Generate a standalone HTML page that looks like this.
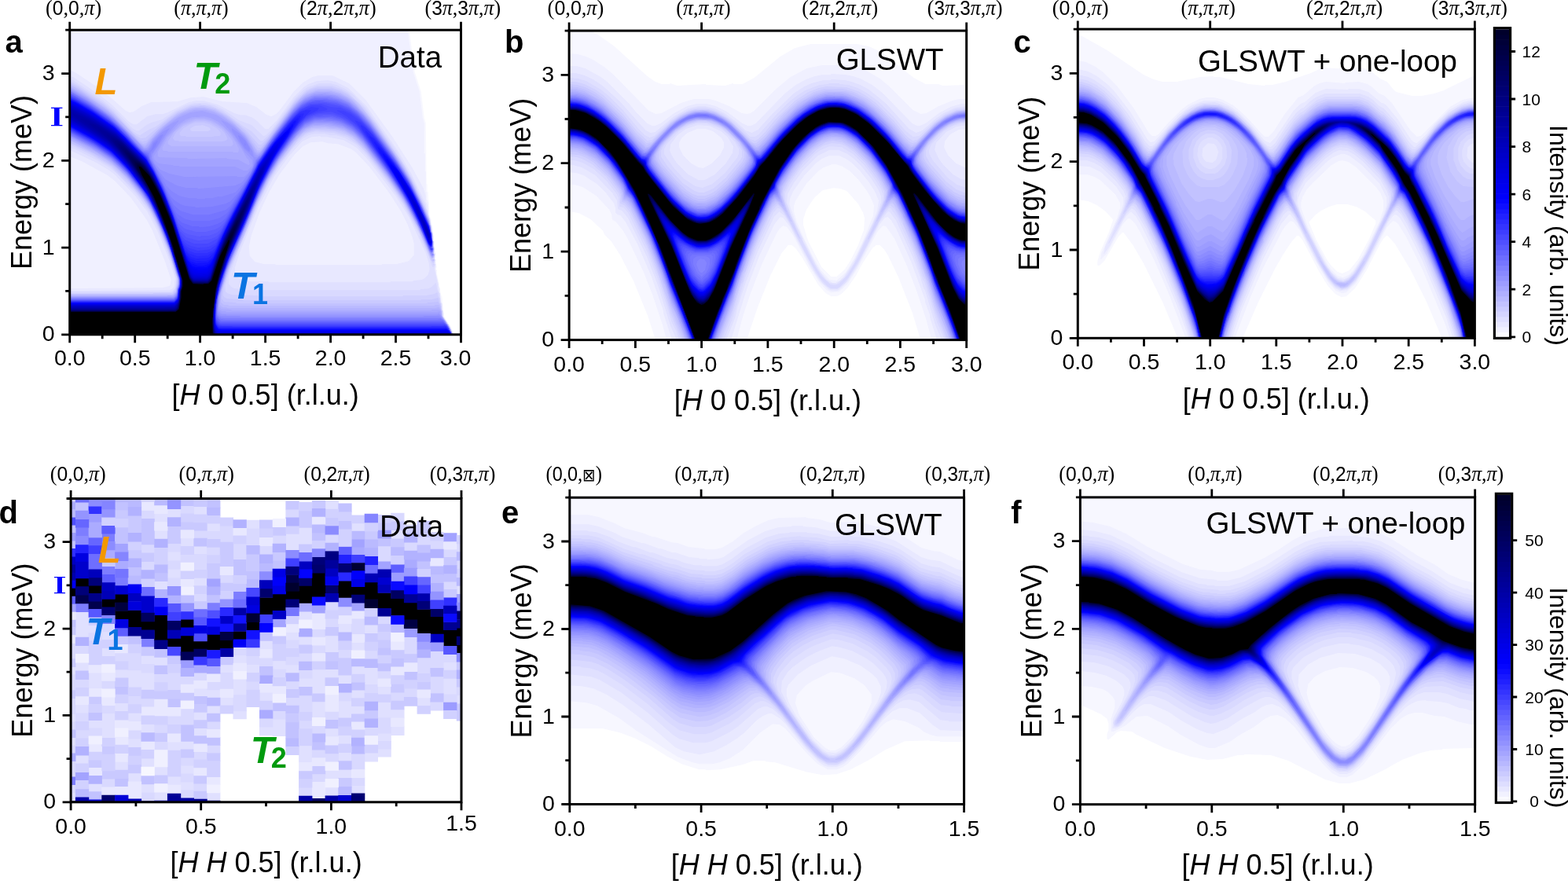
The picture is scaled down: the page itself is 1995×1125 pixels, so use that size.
<!DOCTYPE html>
<html><head><meta charset="utf-8"><title>figure</title><style>html,body{margin:0;padding:0;background:#fff;}svg{display:block;}</style></head><body>
<svg width="1995" height="1125" viewBox="0 0 1995 1125">
<rect width="1995" height="1125" fill="#fff"/>
<g transform="translate(89.2 38.7)" stroke-width="1" stroke-linejoin="round" fill-rule="evenodd">
<path fill="#f7f7ff" stroke="#f7f7ff" d="M0 0v387h488l-5 -12l-3 -2l-5 -9l-2 -24l-3 -7l-1 -11l-4 -18l1 -3l-2 -10l1 -6l-2 -8l-2 -25l-2 -4v-8l-2 -4l-2 -30l-1 -1v-9l-1 -1l-1 -77l-2 -7l-4 -33l-8 -25l-7 -53z"/>
<path fill="#f0f0ff" stroke="#f0f0ff" d="M0 0v387h487l-5 -12l-7 -11v-4l-2 -4v-8l-1 -1l-2 -19l-2 -3l-3 -15l1 -5l-2 -1l1 -1v-5l-1 -1l1 -5l-2 -1l1 -1l-1 -12l-1 -1l1 -8l-1 -1v-6l-2 -4v-9l-4 -15l-1 -15l-2 -5v-8l-1 -1v-25l-1 -1v-22l-1 -1v-38l-2 -7l-4 -33l-8 -25l-7 -53z"/>
<path fill="#e8e8ff" stroke="#e8e8ff" d="M0 51v109l15 6l33 18l9 7l21 22l20 28l7 13l16 39l8 24l-1 7l-2 2l-8 2l-118 1v58h487l-5 -12l-8 -11l-1 -16l-2 -3l-3 -23l-4 -18v-5l1 -1l-2 -1l1 -1l-1 -5l1 -6l-2 -8l-2 -26l-2 -4v-6l-2 -4l-2 -15l-2 -4v-7l-3 -10l-14 -26l-25 -39l-34 -47l-21 -21l-21 -10h-18l-8 2l-12 7l-11 11l-18 24l-5 5l-6 3l-6 -2l-13 -10l-12 -5l-31 -2l-24 -6l-16 1l-17 5l-34 1l-12 5l-10 7l-5 1l-5 -2l-17 -15l-22 -17l-24 -16zM227 275l3 -14l10 -28l12 -26l14 -24l19 -25l11 -11l10 -5l15 -1l7 2l13 1l16 6l6 4l18 19l25 33l16 25l8 16l6 16l2 8v15l-7 8l-16 4h-18l-1 1h-134l-1 -1h-14l-12 -3l-7 -8z"/>
<path fill="#e0e0ff" stroke="#e0e0ff" d="M0 59v93l34 16l15 9l8 6l26 27l16 21l13 25l15 37l7 22l-1 11l-4 4l-3 1l-126 1v55h487l-4 -10l-4 -4l-5 -9v-7l-2 -3l-2 -19l-2 -2l-1 -11l-4 -18l1 -4l-1 -14l1 -1l-2 -1l1 -6l-2 -10v-9l-3 -11v-5l-3 -9v-4l-2 -3l-1 -6l-19 -40l-16 -27l-40 -57l-23 -23l-16 -8l-10 -2l-14 1l-11 4l-6 4l-12 12l-21 29l-12 12h-4l-11 -11l-6 -4l-9 -3h-6l-7 -2l-21 -11l-18 -5h-9l-10 2l-27 13l-6 2h-9l-11 3l-13 10h-5l-6 -4l-21 -21l-15 -12l-34 -23zM209 302l6 -19l24 -58l20 -39l18 -25l18 -20l12 -6l11 -1l1 1h8l21 4l17 10l15 16l35 46l17 27l21 45l4 13l1 8l-2 7l-5 5l-4 2l-10 1l-1 1h-28l-1 1h-154l-1 -1h-23l-10 -2l-6 -3l-4 -5z"/>
<path fill="#d9d9ff" stroke="#d9d9ff" d="M0 63v86l5 1l32 16l13 8l10 8l26 28l16 22l11 22l16 40l7 24l-2 10l-4 4l-3 1h-127v54h487l-13 -23l-2 -8v-8l-2 -4l-1 -10l-2 -3l-2 -9l-5 5l-4 2l-10 1l-1 1h-224l-1 -1l-11 -1l-4 -2l-4 -5l1 -10l12 -32l27 -63l12 -24l13 -21l17 -22l13 -13l7 -4l7 -2h14l8 2h7l10 3l14 8l13 13l32 41l17 25l20 37v2l11 23l5 15l1 1l2 -3l-2 -1l2 -5l-2 -1l1 -2l-1 -5l1 -6l-2 -10v-9l-2 -5l-2 -14l-6 -18l-16 -34l-20 -34l-39 -55l-16 -17l-10 -7l-11 -5l-8 -2h-14l-15 5l-6 4l-10 10l-29 39l-8 8l-3 1l-15 -14l-16 -6l-19 -13l-12 -6l-11 -3h-15l-11 3l-12 6l-18 12l-14 4l-6 3l-9 7h-4l-5 -3l-20 -21l-18 -15l-37 -25z"/>
<path fill="#d1d1ff" stroke="#d1d1ff" d="M462 298h1zM0 65v81h2l25 12l25 15l31 31l18 24l9 17l14 33l12 36l-1 14l-5 6l-130 1v52h487l-9 -17l-5 -6l-1 -13l-2 -4v-6l-2 -2l-1 -5l-4 2l-10 2h-29l-1 1h-183l-1 -1l-33 -1l-6 -2l-3 -3v-8l6 -20l36 -85l15 -30l12 -19l22 -28l10 -9l6 -3l9 -2l23 2l17 5l15 11l10 11l30 39l17 25l22 41l12 30l3 4l1 -2l-1 -15l1 -1l-2 -1l1 -1v-7l-1 -1v-8l-2 -4v-7l-6 -20l-13 -27v-2l-15 -28l-35 -52l-16 -21l-20 -19l-9 -5l-12 -4h-19l-13 5l-13 11l-33 44l-10 10h-3l-11 -12l-10 -6l-27 -20l-16 -7l-11 -1l-1 -1l-13 2l-18 8l-26 19l-9 4l-11 7l-5 -2l-5 -4l-25 -26l-11 -9l-32 -22z"/>
<path fill="#c9c9ff" stroke="#c9c9ff" d="M0 67v77h2l23 11l28 17l23 22l18 22l8 12l11 22l15 37l9 29v7l-2 4v3l-5 5h-24l-1 1h-105v51h486l-5 -12l-8 -11v-7l-2 -2v-7l-2 -2l-1 -5l-8 2h-13l-1 1h-226l-1 -1l-19 -1l-4 -2l-2 -3l1 -11l7 -22l26 -59l8 -21l16 -33l12 -20l26 -33l10 -8l13 -4l24 2l16 5l8 5l16 16l33 43l16 24l16 29l19 44l2 -1l-2 -2l2 -4l-2 -10l1 -8l-1 -1v-6l-2 -4v-8l-2 -4v-4l-12 -30l-13 -26l-11 -19l-33 -48l-21 -26l-13 -11l-9 -5l-13 -4h-17l-8 2l-6 3l-14 12l-36 48l-8 8h-3l-16 -18l-22 -18l-17 -10l-14 -4l-16 1l-17 7l-12 8l-30 25l-6 1l-8 -5l-29 -30l-10 -8l-32 -22zM152 125l6 -4l11 -1l8 3l2 2v2l-4 2h-19l-3 -1z"/>
<path fill="#c2c2ff" stroke="#c2c2ff" d="M461 292l1 1l1 -1zM0 69v73l30 14l25 16l16 15l21 25l13 20l9 19l12 29l11 35v10l-2 4v3l-4 4h-131v51h486l-5 -12l-4 -4l-4 -7l-2 -13l-3 -5l-13 1l-1 1h-242l-1 -1l-15 -1l-4 -5v-5l3 -13l9 -26l16 -35l18 -44l16 -32l14 -22l17 -22l11 -11l13 -6h20l16 3l14 7l16 15l33 43l17 25l20 37l15 35l2 -1l1 -3l-2 -2l1 -1v-5l-1 -1v-7l1 -1l-2 -1v-9l-3 -16l-5 -14l-19 -40l-16 -27l-36 -51l-9 -11l-11 -11l-8 -6l-10 -5l-10 -3h-20l-11 4l-6 4l-12 12l-37 50l-5 5h-3l-12 -16l-12 -12l-15 -12l-16 -9l-17 -4l-14 2l-16 7l-20 15l-20 20l-5 1l-5 -3l-30 -31l-12 -10l-32 -22zM139 130l5 -6l9 -5l6 -2h12l7 2l10 6l4 5v3l-2 2h-7l-1 1h-34l-1 -1h-6l-2 -2z"/>
<path fill="#babaff" stroke="#babaff" d="M462 292h1M0 71v70h3l43 23l14 11l13 13l16 19l15 22l11 23l11 27l12 39l-3 15l-5 4h-130v50h486l-5 -12l-3 -2l-6 -11v-5l-3 -7h-5l-1 1h-261l-1 -1h-5l-5 -4l1 -14l8 -26l26 -59l8 -21l16 -34l15 -25l19 -25l13 -13l10 -5l19 -1l1 1l12 1l10 3l12 7l16 16l29 38l19 28l20 37l15 35l2 -1l1 -3l-2 -1l1 -6l-2 -10v-9l-4 -19l-22 -48l-12 -21l-39 -56l-8 -10l-17 -17l-14 -8l-15 -4h-13l-15 5l-7 5l-8 8l-40 54l-5 5h-3l-12 -18l-20 -19l-13 -9l-10 -5l-11 -3h-14l-10 3l-12 6l-25 20l-14 16l-4 1l-7 -5l-19 -21l-20 -18l-30 -21l-13 -8zM130 137l4 -7l10 -9l15 -6h13l7 2l13 8l5 5l4 8l-3 3l-5 1h-54l-1 -1h-5z"/>
<path fill="#b2b2ff" stroke="#b2b2ff" d="M0 72v67l33 16l20 13l21 20l24 30l13 24l15 36l12 38v7l-3 11l-3 3l-3 1h-129v49h486l-4 -10l-2 -1l-6 -11l-2 -1v-6l-3 -5l-4 1h-265l-1 -1h-5l-4 -4l1 -15l10 -32l36 -84l13 -27l15 -25l23 -30l13 -11l9 -3h19l1 1l11 1l9 3l14 9l8 8l34 44l19 28l19 35v2l17 36l1 -2l-1 -3l1 -6l-2 -10v-9l-4 -18l-23 -50l-25 -40l-29 -40l-19 -20l-7 -5l-10 -5l-11 -3h-19l-13 5l-7 5l-11 12l-37 51l-4 4h-3l-16 -23l-14 -13l-14 -10l-12 -6l-12 -3h-9l-9 2l-10 4l-10 6l-15 12l-21 23h-2l-5 -3l-36 -37l-10 -8l-28 -19zM124 141l8 -12l12 -10l15 -6h12l8 2l8 4l9 7l11 14l1 5l-3 3h-76l-5 -3z"/>
<path fill="#ababff" stroke="#ababff" d="M0 73v65l4 1l31 16l18 12l21 20l15 18l12 17l9 17l17 41l11 35v10l-2 8l-4 5h-8l-1 1h-123v48h486l-3 -8l-2 -1l-4 -8l-4 -4l-2 -9l-2 -1h-9l-1 1h-253l-1 -1l-13 -1l-3 -4l1 -15l9 -30l38 -89l13 -27l15 -25l23 -30l11 -10l10 -4l15 -1l1 1l13 1l10 3l15 9l10 10l33 43l17 25l9 15l17 34l10 25l2 2l1 -1l-2 -28l-4 -17l-11 -26l-13 -26l-17 -28l-33 -46l-20 -22l-11 -8l-9 -4l-12 -3h-16l-10 3l-7 4l-9 8l-9 11l-34 47l-5 5h-2l-3 -3l-11 -18l-14 -14l-15 -11l-12 -6l-10 -3h-15l-15 5l-16 10l-15 13l-8 9l-2 4l-7 6l-4 -2l-43 -43l-27 -19zM117 149l7 -13l17 -17l11 -6l9 -2h9l11 3l13 8l9 9l8 11l4 8v4l-2 2h-5l-1 -1h-82l-1 -1h-5l-2 -2z"/>
<path fill="#a3a3ff" stroke="#a3a3ff" d="M0 74v63h2l24 12l27 17l20 19l19 23l14 22l11 24l11 28l11 37l-3 15l-5 5h-131v48h486l-9 -17l-3 -2l-4 -10l-4 1h-267l-1 -1h-5l-4 -3l-1 -3l1 -13l10 -34l30 -68l5 -14l15 -32l16 -27l22 -29l12 -11l9 -4l19 -1l22 5l13 8l12 12l29 38l23 34l22 42l12 29l2 -1l-1 -2l1 -6l-2 -10v-9l-2 -5v-5l-11 -28l-16 -32l-20 -32l-29 -40l-10 -12l-18 -16l-10 -5l-17 -4l-17 1l-11 5l-11 9l-31 40l-14 21l-5 3l-4 -4l-3 -7l-9 -13l-15 -14l-21 -13l-18 -5l-15 2l-16 7l-18 13l-13 13l-5 8l-4 4h-3l-41 -41l-32 -23zM111 155l11 -19l16 -17l9 -6l8 -3l16 -1l8 2l10 5l16 15l14 20l6 11l3 3l1 5l-2 2l-13 -7l-14 -1l-1 -1l-49 1l-1 -1l-36 -1l-2 -2z"/>
<path fill="#9c9cff" stroke="#9c9cff" d="M0 75v61h2l22 11l29 18l18 17l20 24l11 16l11 22l16 40l10 34v5l-2 4l-1 8l-3 4l-4 1h-129v47h486l-1 -3l-3 -3l-2 -6l-11 -15l-1 1h-271l-5 -1l-4 -4l1 -19l12 -38l38 -88l15 -30l14 -22l20 -26l8 -8l12 -6l4 -1h17l18 4l14 8l13 13l34 45l16 24l22 41l11 27l4 7l1 -2l-2 -1l2 -6l-2 -1l1 -1v-7l-1 -1v-9l-2 -4v-6l-2 -3v-3l-21 -46l-12 -21l-14 -21l-27 -37l-18 -20l-12 -9l-15 -6l-11 -1l-1 -1l-14 1l-12 5l-8 6l-9 10l-42 57l-5 -1l-11 -20l-14 -14l-10 -7l-7 -3l17 20l13 20l9 10v7l-6 7h-5l-11 -5h-70l-1 -1h-7l-1 -1l-18 -2l-6 -5l-1 -5l15 -25l17 -20l-7 3l-9 6l-14 13l-9 13l-5 1l-41 -41l-32 -23z"/>
<path fill="#9494ff" stroke="#9494ff" d="M0 76v59h2l36 19l16 11l15 14l21 25l14 21l11 23l11 27l13 42v6l-2 5l-1 8l-4 4h-132v47h486l-1 -3l-2 -1l-3 -8l-9 -12l-2 -1l-3 1h-267l-1 -1h-6l-4 -4l-1 -3l1 -14l10 -35l42 -98l13 -26l9 -15l18 -25l16 -18l12 -6l4 -1h18l17 4l14 8l13 13l28 37l23 34l17 31v2l7 13l12 27l1 -1l-2 -1l2 -6l-2 -1l1 -8l-1 -1v-9l-2 -4v-5l-2 -3v-3l-6 -15l-17 -35l-21 -34l-30 -41l-10 -12l-17 -15l-15 -7l-8 -2h-10l-1 -1l-14 2l-8 4l-7 5l-10 11l-26 34l-13 20l-5 4h-3l-2 -2l-2 -7l-9 -15l-6 -6l-10 -7l1 4l15 22l12 11l-1 11l-7 10l-5 4h-8l-1 -1l-66 1l-19 -4l-12 -5l-8 -9l-3 -7l1 -5l21 -32l-9 5l-11 11l-4 7l-4 4h-4l-42 -42l-34 -24z"/>
<path fill="#8c8cff" stroke="#8c8cff" d="M460 285h1zM214 134l3 7l6 9l5 4v-4l-5 -9l-5 -5zM0 77v57h2l27 14l22 14l24 23l14 17l12 17l12 24l15 37l11 36v8l-3 12l-3 4l-3 1h-130v46h486l-2 -2l-4 -10l-3 -2l-1 -3l-6 -6h-20l-1 1h-232l-1 -1h-24l-4 -3l-1 -3l1 -19l9 -31l40 -94l14 -29l16 -26l22 -29l10 -9l12 -5h21l13 3l16 9l13 13l30 40l19 28l10 17l14 28l11 27l2 2l1 -1l-1 -22l-2 -4v-5l-2 -4v-3l-9 -21l-16 -32l-21 -33l-24 -33l-13 -16l-18 -16l-10 -5l-15 -4h-19l-12 5l-13 11l-25 32l-18 27l-7 6l-3 10l-14 19l-9 4l-47 4l-1 -1h-14l-12 -3l-15 -8l-11 -14l-6 -10l-1 -8l10 -15l5 -10l-3 1l-9 9l-3 6l-4 4h-5l-14 -13l-7 -9l-17 -17l-30 -22z"/>
<path fill="#8585ff" stroke="#8585ff" d="M461 285h1M222 144l1 2zM0 78v55l34 17l18 12l21 20l18 22l12 18l9 18l14 34l13 41v10l-2 5v4l-2 5l-3 2h-132v46h486l-2 -2l-3 -8l-4 -4l-1 -3l-5 -4h-276l-6 -2l-2 -3l-1 -9l1 -1l1 -13l11 -36l49 -112l17 -29l25 -33l9 -8l12 -5l11 -1l1 1h10l12 3l12 6l16 15l33 44l18 27l20 37l15 35l2 -1l-1 -20l-2 -4v-6l-2 -3l-1 -6l-11 -23v-2l-15 -29l-18 -28l-28 -38l-10 -12l-18 -16l-10 -5l-16 -4h-18l-12 5l-6 4l-8 8l-25 32l-15 23l-8 8l-6 15l-9 14l-12 13l-17 5h-5l-7 2h-9l-1 1h-9l-1 -1h-10l-12 -3l-10 -6l-7 -7l-20 -35v-8l6 -7l3 -7l-4 3l-3 7l-3 3h-7l-10 -9l-9 -11l-20 -20l-14 -11l-21 -14z"/>
<path fill="#7d7dff" stroke="#7d7dff" d="M0 79v53l30 15l23 15l17 16l23 28l12 19l12 26l11 28l12 41l-4 18l-5 4h-131v45h485l-4 -10l-2 -1l-2 -4l-5 -5h-280l-5 -4l-1 -4l1 -17l11 -38l42 -98l20 -38l25 -35l14 -14l12 -5l14 -1l1 1l13 1l9 3l13 8l12 12l37 50l15 23l23 44l10 25l2 2l1 -1l-1 -19l-2 -4v-6l-4 -12l-26 -53l-14 -22l-34 -46l-15 -16l-12 -9l-11 -5l-14 -3h-17l-14 6l-13 12l-25 32l-15 23l-6 6l-8 18l-14 22l-12 13l-6 3l-18 4l-20 1l-1 -1l-12 -1l-6 -2l-8 -5l-5 -5l-8 -13l-9 -19l-9 -15l-2 -9l-7 -2l-15 -15l-8 -10l-22 -20l-26 -18l-20 -12z"/>
<path fill="#7575ff" stroke="#7575ff" d="M0 80v51l33 17l22 15l19 19l20 25l8 12l16 34l8 20l14 46l-3 17l-2 4l-3 2h-132v45h485l-3 -8l-8 -10l-3 -1l-4 1h-269l-9 -2l-3 -5l1 -21l10 -35l40 -94l14 -29l18 -29l17 -23l13 -13l12 -5l16 -1l16 3l14 7l15 14l30 40l19 28l14 24l25 54l1 -2l-1 -3l1 -8l-3 -11v-6l-14 -34l-14 -27l-15 -24l-35 -47l-15 -16l-12 -9l-15 -6l-10 -1l-1 -1h-15l-7 2l-11 6l-11 11l-30 39l-9 15l-6 6l-4 11l-8 14l-21 32l-7 6l-21 6h-21l-16 -5l-9 -8l-30 -58l-2 -7l-7 -3l-19 -21l-22 -21l-27 -19l-20 -12z"/>
<path fill="#6e6eff" stroke="#6e6eff" d="M0 80v51h2l27 14l23 15l20 19l21 26l12 19l12 26l11 28l12 40l-3 19l-4 5l-3 1h-130v44h485l-3 -8l-2 -1l-1 -3l-5 -5h-280l-4 -1l-4 -5l1 -24l12 -40l25 -56l15 -37l19 -37l25 -36l15 -16l13 -6l19 -1l16 4l14 8l12 12l14 18l36 52l10 17l16 32l10 25l2 2l1 -1l-4 -31l-10 -24l-19 -37l-17 -26l-30 -40l-16 -17l-12 -9l-12 -5l-15 -3l-19 1l-13 7l-12 12l-25 32l-14 22l-4 4l-18 35l-21 32l-9 6l-14 4h-21l-11 -3l-10 -7l-11 -21l-5 -13l-19 -36l-1 -4l-8 -5l-24 -27l-22 -19l-27 -18z"/>
<path fill="#6666ff" stroke="#6666ff" d="M0 81v49h2l30 16l22 15l21 21l19 24l8 12l16 34l8 20l14 45v7l-2 4l-2 12l-4 3h-132v44h485l-6 -12l-5 -4h-282l-6 -6l-1 -12l1 -1l1 -13l11 -37l43 -100l21 -39l22 -31l14 -15l13 -6l21 -1l12 3l16 9l12 12l31 42l23 35l18 34v2l16 34l1 -3l-1 -1l-1 -18l-2 -10l-13 -30l-14 -27l-18 -28l-30 -40l-17 -18l-9 -7l-16 -7l-16 -3h-12l-10 3l-7 4l-9 8l-30 38l-12 19l-6 7v2l-14 27l-25 41l-6 6l-6 3l-10 3l-12 1l-1 -1h-8l-14 -5l-6 -6l-8 -16l-11 -27l-12 -22l-6 -14l-3 -3l-3 -1l-14 -14l-7 -9l-24 -22l-20 -14z"/>
<path fill="#5e5eff" stroke="#5e5eff" d="M0 82v47l33 17l23 16l16 16l21 26l12 19l14 31l10 26l11 37v7l-2 5l-1 9l-4 5l-5 1h-128v43h485l-2 -5l-2 -1l-2 -6l-4 -3h-283l-3 -1l-3 -4l-1 -4l1 -19l9 -34l10 -26l15 -32l24 -57l17 -31l24 -34l13 -14l12 -6l24 -1l13 4l13 8l12 12l35 48l25 40l15 30l12 29l2 -1l-2 -2l1 -1v-7l-1 -1v-9l-3 -12l-8 -19l-16 -32l-19 -30l-31 -41l-16 -17l-12 -9l-15 -6l-16 -2l-1 -1h-9l-11 3l-11 7l-7 7l-20 25l-26 37v2l-14 27l-27 46l-7 7l-6 3l-12 3h-11l-15 -4l-9 -8l-20 -48l-19 -37l-7 -5l-15 -17l-25 -24l-24 -17l-25 -15z"/>
<path fill="#5757ff" stroke="#5757ff" d="M0 83v46h2l27 14l24 16l15 14l26 32l9 14l17 37l7 18l13 42v9l-2 5l-1 9l-5 5h-132v43h485l-2 -5l-2 -1l-1 -4l-5 -4h-284l-5 -5l-1 -3v-15l6 -28l13 -36l21 -46l15 -37l17 -33l23 -34l10 -13l8 -8l12 -6l11 -1l1 -1h9l14 4l14 8l13 13l34 47l20 31l17 32v2l17 36l1 -2l-2 -1l1 -1v-7l-1 -1v-9l-2 -5v-4l-12 -28l-15 -29l-16 -25l-31 -41l-17 -18l-9 -7l-12 -6l-19 -4h-7l-1 -1l-10 1l-6 2l-10 6l-9 9l-13 16l-31 43l-2 6l-13 25l-30 52l-7 7l-11 4h-9l-2 1l-15 -3l-6 -3l-6 -7l-21 -52l-19 -37l-19 -18l-19 -21l-11 -9l-23 -16l-20 -12z"/>
<path fill="#4f4fff" stroke="#4f4fff" d="M0 83v45h2l28 15l25 17l18 18l22 28l6 9l20 43l14 40v3l5 15v9l-2 5v5l-2 6l-3 3h-133v43h485l-1 -3l-3 -3l-1 -4l-4 -3h-285l-5 -4l-1 -4v-17l1 -1l1 -11l6 -22l12 -32l15 -32l23 -55l16 -30l24 -35l15 -17l11 -6l9 -2h17l17 7l15 12l22 29l35 52l22 42l13 31l2 -1l-2 -1l1 -2l-1 -16l-4 -14l-23 -48l-9 -15l-39 -53l-17 -18l-12 -9l-12 -5l-20 -4l-18 1l-13 7l-11 11l-20 25l-22 32l-2 6l-18 34l-28 49l-5 5l-7 3l-16 2l-15 -4l-9 -9l-21 -54l-20 -39l-15 -14l-8 -10l-18 -18l-32 -23z"/>
<path fill="#4747ff" stroke="#4747ff" d="M459 278l1 1zM0 84v43l31 16l21 14l16 15l26 32l10 16l13 28l11 28l12 39v11l-2 5l-1 9l-3 4l-4 1h-130v42h485l-1 -3l-2 -1l-1 -4l-4 -4h-285l-3 -1l-3 -3l-1 -3v-20l6 -27l13 -36l18 -39l18 -44l17 -33l24 -36l10 -13l8 -8l7 -4l9 -3l17 -2l14 5l14 9l8 8l16 21l36 53l16 28l13 27l9 22h1l1 -7l-1 -1v-9l-2 -4v-4l-11 -26l-16 -31l-14 -22l-32 -42l-15 -16l-12 -9l-13 -6l-12 -1l-13 -4l-13 1l-14 7l-12 12l-13 16l-27 38l-20 40l-32 57l-13 7h-17l-12 -5l-5 -6l-26 -66l-18 -34l-43 -43l-30 -21z"/>
<path fill="#4040ff" stroke="#4040ff" d="M459 278l1 1zM340 102l12 7l14 12l38 53l28 45l14 28l10 25l3 4l1 -2l-1 -15l-6 -18l-21 -43l-15 -24l-28 -37l-17 -19l-15 -11l-9 -4zM0 85v42h2l16 8l31 19l23 22l23 29l7 11l16 34l16 44l7 26l-4 20l-5 5h-132v42h485l-3 -4l-1 -4l-4 -3h-285l-3 -1l-3 -3l-2 -10l1 -15l5 -23l4 -10l1 -6l17 -42l20 -44l2 -7l17 -36l11 -19l29 -41l9 -9l5 -3l11 -4l10 -2l1 -1l-9 -4h-10l-7 2l-9 5l-13 13l-23 29l-15 22l-10 21l-2 2l-7 15l-35 64l-3 3l-8 4l-13 1l-9 -2l-6 -3l-5 -5l-6 -13l-7 -22l-14 -34l-19 -36l-45 -45l-29 -20l-17 -10z"/>
<path fill="#3838ff" stroke="#3838ff" d="M459 278h1zM363 115l38 54l25 39l14 26v2l19 40l1 -3l-1 -14l-2 -3l-1 -7l-9 -21l-17 -33l-17 -26l-28 -36l-15 -15zM0 85v41h2l26 14l23 15l17 16l28 35l13 23l14 33l8 22v3l4 10l6 22l-4 22l-4 4h-133v42h485l-6 -10l-3 -1l-1 1h-281l-5 -1l-3 -3l-2 -8v-10l1 -1l1 -14l5 -20l13 -36l18 -39l18 -44l21 -40l26 -38l14 -15l14 -7l1 -2l-9 -1l-15 6l-15 15l-20 25l-17 25l-6 14l-2 2l-46 88l-8 6l-15 2l-13 -4l-6 -6l-6 -13l-9 -28l-12 -29l-11 -23l-10 -17l-17 -16l-7 -9l-11 -11l-11 -9l-28 -19z"/>
<path fill="#3030ff" stroke="#3030ff" d="M460 278h1M370 121l2 5l35 51l17 27l21 40l11 27l3 4l1 -2l-1 -13l-2 -4l-1 -7l-12 -25v-2l-12 -23l-13 -21l-35 -45l-10 -10zM0 86v39l29 15l25 17l18 18l20 25l8 12l11 21l14 34l8 23l8 29l-4 22l-3 4l-3 1h-131v41h485l-7 -10h-18l-1 1h-252l-1 -1h-17l-3 -3l-2 -7v-14l6 -30l13 -37l17 -37l18 -44l22 -43l30 -44l16 -16h-6l-6 2l-7 5l-31 37l-16 24l-55 107l-4 4l-7 3h-15l-8 -3l-6 -6l-4 -8l-8 -25l-14 -36l-22 -43l-45 -45l-26 -18z"/>
<path fill="#2929ff" stroke="#2929ff" d="M376 128l3 7l33 49l18 30l17 34l10 25l2 2l1 -3l-1 -12l-2 -3l-2 -10l-21 -44l-25 -38l-20 -25zM0 87v38h2l21 11l28 18l24 24l24 32l13 25l14 34l15 49v6l-2 4l-2 14l-5 4h-132v41h485l-5 -8l-2 -1h-288l-2 -1l-3 -4l-1 -5l1 -24l7 -28l10 -28l17 -37l21 -51l14 -28l14 -23l27 -38l2 -5l-6 1l-10 9l-20 24l-22 32l-6 14l-22 40l-22 44v2l-6 10l-8 5l-13 1l-11 -4l-5 -5l-7 -16l-8 -26l-11 -28l-14 -30l-10 -17l-41 -41l-30 -21l-17 -10z"/>
<path fill="#2121ff" stroke="#2121ff" d="M381 135l9 16l16 23l21 34l16 31l15 35h1l1 -5l-4 -19l-11 -23v-2l-13 -25l-22 -33l-24 -29zM0 87v37h2l37 21l15 11l23 24l23 31l9 17l14 33l8 22v3l4 10l6 22v6l-2 5l-1 10l-2 5l-3 2h-133v41h484l-2 -5l-3 -3h-288l-3 -1l-2 -2l-2 -6l1 -26l5 -22l11 -32l20 -44l17 -42l14 -29l11 -19l28 -41l2 -6h-2l-6 4l-12 13l-19 24l-14 21l-15 31l-21 38l-20 43l-8 7l-15 1l-7 -2l-8 -8l-25 -69l-6 -14l-18 -34l-10 -9l-10 -12l-20 -20l-28 -20z"/>
<path fill="#1a1aff" stroke="#1a1aff" d="M387 142l7 14l17 25l19 32l16 32l10 25l3 4l1 -5l-4 -19l-22 -46l-23 -35l-13 -16zM0 88v35l35 19l16 11l9 8l19 21l23 32l9 18l14 34l16 51v8l-2 4v6l-2 8l-3 3l-4 1h-130v40h484l-1 -3l-5 -5l-2 1h-283l-4 -1l-4 -4l-1 -4v-21l4 -21l11 -34l41 -96l19 -37l30 -46l1 -4l-7 4l-17 19l-11 14l-14 21l-22 44l-11 19l-26 55l-4 4l-5 2h-12l-8 -3l-5 -5l-6 -13l-10 -32l-12 -31l-14 -30l-11 -18l-40 -40l-27 -19l-24 -14z"/>
<path fill="#1212ff" stroke="#1212ff" d="M392 149l3 7l14 21l23 39l16 33l9 23l2 2l1 -5l-2 -1l1 -5l-3 -12l-19 -41l-19 -31l-16 -20zM0 89v34h2l24 13l28 19l22 23l25 34l11 22l12 29l10 29v3l7 22v8l-2 5l-1 11l-6 6h-132v40h484l-1 -3l-4 -4h-290l-3 -3l-2 -5v-23l5 -24l9 -28l45 -105l18 -34l15 -22l11 -20h-2l-15 15l-16 20l-14 21l-3 8l-2 2l-40 78l-13 30l-7 6l-14 1l-8 -3l-7 -10l-16 -48l-15 -37l-18 -34l-40 -41l-30 -21l-17 -10z"/>
<path fill="#0a0aff" stroke="#0a0aff" d="M398 157l4 9l27 44l16 32l13 31h1l-1 -5l1 -3l-3 -14l-22 -46l-15 -24l-12 -15zM0 89v33l27 14l24 16l22 22l27 36l9 17l14 33l18 56v9l-2 5l-1 11l-2 4l-3 2h-133v40h484l-1 -3l-4 -3h-289l-2 -1l-4 -7v-24l4 -21l11 -34l27 -61l14 -35l16 -32l20 -31l7 -13v-2l-20 20l-22 31l-10 21l-2 2l-11 23l-16 29l-19 44l-5 7l-8 3h-7l-9 -3l-4 -4l-4 -8l-18 -54l-8 -20l-15 -32l-9 -15l-41 -41l-24 -17l-22 -13z"/>
<path fill="#0303ff" stroke="#0303ff" d="M403 164l4 9l25 42l15 31l9 23l3 4l-1 -14l-3 -10l-19 -40l-19 -30zM0 90v31l36 20l18 13l16 16l29 38l12 23l14 34l16 51v10l-2 5l-1 11l-4 5l-5 1h-129v39h484l-3 -5l-3 -1l-3 1h-281l-7 -2l-3 -6v-7l-1 -1l1 -18l5 -24l8 -25l46 -108l19 -36l16 -25l2 -6l-19 19l-21 30l-3 8l-2 2l-38 74l-12 30l-6 11l-6 4h-13l-5 -2l-7 -9l-18 -54l-11 -28l-11 -24l-11 -19l-18 -18l-9 -11l-13 -12l-27 -19l-24 -14z"/>
<path fill="#0000fb" stroke="#0000fb" d="M408 171l2 6l18 30l16 32l14 33h1l-1 -13l-3 -10l-15 -32l-20 -33l-7 -9zM0 90v31h2l20 11l29 19l21 21l29 39l11 22l12 29l17 54v10l-2 5l-1 11l-6 6h-132v39h484l-4 -5h-291l-4 -4l-1 -3v-6l-1 -1l1 -21l6 -27l9 -27l30 -68l11 -28l17 -34l20 -34l-3 1l-14 15l-19 27l-46 90l-14 35l-7 7l-10 1l-8 -2l-5 -5l-3 -6l-25 -73l-9 -21l-18 -33l-42 -42l-28 -19z"/>
<path fill="#0000f6" stroke="#0000f6" d="M411 175l3 8l11 18l16 31l15 36l3 4l-1 -13l-9 -23l-20 -38l-11 -16zM0 91v29l33 18l22 16l24 26l21 29l9 17l17 41l15 48v11l-2 6v6l-3 8l-3 2h-133v39h484l-4 -4h-289l-3 -1l-3 -3l-1 -3l-1 -20l1 -1v-8l3 -16l9 -30l47 -111l12 -24l14 -23l4 -10l-15 15l-16 23l-43 83l-19 46l-6 6l-11 1l-7 -2l-4 -4l-4 -8l-26 -76l-16 -35l-12 -19l-37 -37l-27 -19z"/>
<path fill="#0000f1" stroke="#0000f1" d="M414 180l30 58l13 32l2 1l-1 -12l-12 -29l-20 -36l-9 -12zM0 92v28h2l22 12l27 18l20 20l28 37l11 21l15 36l10 30l7 26l-4 23l-4 5h-5l-1 1h-128v38h484l-4 -4h-291l-2 -1l-3 -5v-5l-1 -1l1 -25l5 -23l9 -28l26 -59l16 -40l12 -25l14 -24l4 -10l-13 13l-16 23l-45 88l-17 42l-5 5l-10 1l-8 -2l-3 -3l-5 -10l-15 -44l-1 -6l-2 -3l-9 -26l-17 -36l-8 -13l-42 -42l-30 -20l-14 -8z"/>
<path fill="#0000ec" stroke="#0000ec" d="M418 185v2l23 44v2l12 25l2 7l3 6h1l-1 -12l-8 -20l-17 -33l-9 -14zM0 92v27l4 1l26 15l25 18l19 20l27 37l11 22l16 40l14 48l-4 23l-6 6h-132v38h484l-3 -3h-291l-5 -4l-2 -7v-19l7 -35l13 -37l20 -44l16 -40l28 -56l-11 10l-14 20l-42 81v2l-9 18l-11 30l-7 7h-13l-3 -1l-6 -7l-7 -21l-2 -3l-13 -42l-9 -23l-15 -32l-10 -16l-39 -39l-23 -16z"/>
<path fill="#0000e6" stroke="#0000e6" d="M421 190l1 4l22 43l14 34l1 -1l-1 -10l-11 -27l-15 -28zM0 93v25l26 14l25 17l24 25l25 34l13 26l11 27l10 29l8 29l-4 25l-5 5h-133v38h483l-2 -3h-31l-1 1h-232l-1 -1h-28l-3 -3l-2 -7v-21l1 -1l2 -18l6 -22l10 -28l25 -56l13 -33l23 -45l1 -5l-9 9l-14 20l-44 86l-18 46l-5 5h-5l-1 1l-10 -1l-4 -3l-5 -10l-19 -59l-14 -35l-9 -19l-11 -18l-42 -42l-32 -21z"/>
<path fill="#0000e1" stroke="#0000e1" d="M425 196l5 13l16 32l11 28l2 1l-2 -2l1 -1v-7l-8 -20l-12 -24zM0 94v24l8 3l19 11l21 14l8 7l17 18l24 32l13 24l13 31l11 32l8 29v5l-3 11v6l-2 5l-3 3h-7l-1 1h-126v37h483l-2 -2h-291l-5 -4l-2 -6v-23l1 -1l2 -17l5 -19l15 -41l11 -23l26 -63l19 -39l-11 11l-9 13l-6 13l-2 2l-34 66l-14 33l-7 20l-3 4l-6 2l-12 -1l-5 -4l-5 -12l-20 -62l-10 -25l-14 -29l-9 -14l-39 -39l-35 -23l-19 -10z"/>
<path fill="#0000dc" stroke="#0000dc" d="M459 269l-1 1zM428 202l20 43l8 21l2 1v-6l-2 -3l-3 -11l-11 -23zM0 94v23l4 1l19 11l28 19l18 18l10 12l20 28l12 23l14 34l17 55l-3 23l-2 5l-5 4h-132v37h483l-2 -2h-20l-1 1h-254l-1 -1h-17l-3 -3l-2 -6v-24l1 -1l1 -13l5 -20l15 -42l20 -44l15 -38l19 -39v-3l-5 5l-13 18l-23 46l-2 2l-23 47l-15 40l-2 2l-6 2l-12 -1l-5 -4l-3 -7l-21 -65l-12 -30l-12 -25l-8 -13l-15 -15l-10 -12l-14 -13l-23 -16z"/>
<path fill="#0000d7" stroke="#0000d7" d="M458 269h1M432 209l25 58l1 -5l-3 -10l-15 -31zM0 95v21l7 3l25 15l24 18l16 17l26 35l8 14l16 37l11 31v3l9 29v7l-2 5l-1 12l-3 6l-3 2h-133v37h483l-1 -1h-292l-3 -1l-4 -8v-26l1 -1l2 -17l6 -22l12 -33l17 -37l17 -43l16 -33l3 -9l-3 2l-12 16l-18 36l-12 21l-20 42l-13 36l-5 5h-7l-1 1l-1 -1h-7l-4 -3l-5 -11l-18 -57l-12 -31l-12 -26l-11 -18l-40 -40l-25 -17z"/>
<path fill="#0000d1" stroke="#0000d1" d="M458 269h1M435 215l22 51l1 -3l-5 -15l-14 -28zM0 96v19l25 14l25 17l24 25l23 31l12 22l15 36l10 29v3l8 25v8l-2 5l-1 12l-2 5l-3 3h-5l-1 1h-128v36h483l-1 -1h-294l-3 -3l-2 -6v-27l1 -1v-6l3 -15l2 -4l2 -10l10 -29l24 -54l15 -38l13 -27l2 -7l-12 14l-24 47l-2 2l-21 42l-9 22l-8 24l-5 5h-16l-4 -3l-3 -6l-23 -71l-10 -25l-14 -29l-9 -14l-31 -32l-10 -8l-31 -20l-21 -11z"/>
<path fill="#0000cc" stroke="#0000cc" d="M438 221l19 45v-7l-2 -6l-11 -23zM0 97v18l6 2l28 17l13 9l9 8l23 26l20 28l11 21l13 31l11 32v3l8 25v8l-2 5l-1 13l-2 4l-5 4h-132v36h482h-292l-3 -1l-2 -2l-2 -6l-1 -15l1 -1v-12l1 -1l1 -12l5 -20l15 -42l10 -21l38 -91l-4 3l-7 9l-27 53l-2 2l-19 39l-16 43l-3 3l-3 1h-12l-3 -1l-5 -6l-23 -71l-9 -23l-15 -32l-11 -17l-38 -37l-29 -19l-25 -13z"/>
<path fill="#0000c7" stroke="#0000c7" d="M442 228l15 37v-6l-4 -10zM0 97v17l4 1l15 9l31 21l23 24l25 34l13 25l14 34l17 55v9l-2 5l-1 12l-3 6l-3 2h-133v36h482h-294l-3 -3l-2 -5l-1 -18l1 -1l1 -18l5 -22l15 -43l19 -42l16 -41l8 -16l4 -12l-9 10l-39 74v2l-7 13l-7 17l-11 31l-4 3h-17l-3 -3l-3 -6l-18 -54l-2 -9l-12 -31l-12 -26l-11 -18l-38 -38l-32 -21z"/>
<path fill="#0000c1" stroke="#0000c1" d="M445 235l12 29v-4l-2 -3l-1 -5zM0 98v15h2l41 26l12 10l20 22l25 35l8 15l14 33l11 31v3l9 29v9l-2 5v7l-2 8l-4 5l-4 1h-130v35h189h-2l-3 -4l-1 -10l-1 -1l1 -23l1 -1v-6l3 -15l12 -38l23 -52l18 -46l5 -9l4 -13l-6 6l-45 86l-10 24l-9 27l-6 5h-14l-5 -3l-4 -9l-22 -69l-10 -25l-14 -29l-9 -14l-39 -38l-26 -17z"/>
<path fill="#0000bc" stroke="#0000bc" d="M449 243l5 15l3 5l-2 -8zM0 99v13l23 13l26 18l23 24l27 37l11 21l14 34l18 57v10l-2 6l-1 12l-2 4l-5 4h-132v35h187l-4 -7l-1 -22l1 -1v-9l5 -25l11 -34l27 -62l15 -39l4 -7l2 -9l-4 4l-42 79l-14 33l-6 20l-3 6l-4 3h-17l-4 -4l-24 -74l-9 -23l-15 -32l-11 -17l-36 -35l-31 -20z"/>
<path fill="#0000b7" stroke="#0000b7" d="M452 251l4 10l-1 -5zM0 100v11h2l27 17l23 17l22 24l22 30l15 28l12 29l11 32v3l8 25v11l-2 5l-1 12l-3 6l-3 2l-5 1h-128v34h187l-2 -1l-2 -5l-1 -24l1 -1l1 -15l5 -22l9 -28l27 -62l14 -37l6 -12l1 -6l-4 4l-3 7l-6 9l-36 70l-9 22l-9 27l-4 4l-3 1h-12l-5 -2l-3 -5l-28 -85l-17 -38l-12 -19l-28 -29l-11 -9l-25 -16z"/>
<path fill="#0000b2" stroke="#0000b2" d="M0 102v8l4 1l43 29l19 19l16 20l18 26l12 24l13 32l17 55v11l-2 6l-1 11l-2 5l-5 4h-132v34h186l-2 -2l-2 -9v-19l1 -1v-9l4 -21l12 -38l27 -62l18 -45l1 -5l-3 3l-42 79l-10 23l-9 28l-3 6l-4 3h-16l-4 -3l-3 -6l-13 -39v-3l-17 -48l-17 -36l-9 -14l-37 -36l-34 -21l-21 -10z"/>
<path fill="#0000ac" stroke="#0000ac" d="M0 103v5l3 1l45 31l21 22l28 38l11 20l14 33l10 28l11 40l-3 12l-1 12l-6 8h-12l-1 1h-120v33h185l-3 -10v-21l1 -1l1 -15l4 -18l12 -37l25 -57l14 -38l4 -8v-3l-18 31l-29 57l-11 28l-6 19l-4 4h-7l-1 1l-10 -1l-4 -4l-4 -10l-3 -12l-10 -28v-3l-16 -44l-15 -32l-11 -17l-27 -27l-10 -8l-31 -19z"/>
<path fill="#0000a7" stroke="#0000a7" d="M4 107l9 8l17 11l21 16l20 22l25 34l14 26l14 34l12 36v3l6 18l1 8l-2 5l-1 13l-2 7l-4 5l-3 1h-131v33h185l-3 -9v-23l1 -1l1 -14l5 -22l9 -28l26 -60l14 -36l2 -8l-11 17l-30 58l-11 26l-7 23l-3 6l-5 3h-14l-3 -1l-5 -8l-17 -52v-3l-12 -33l-16 -35l-11 -17l-36 -35l-22 -14l-22 -11z"/>
<path fill="#0000a2" stroke="#0000a2" d="M14 113l31 23l18 18l17 21l18 26l13 25l15 37l15 48l2 12l-3 11l-1 12l-6 8h-133v33h185l-3 -8v-24l1 -1v-8l4 -21l12 -38l26 -60l5 -15l4 -8l4 -14l-7 10l-29 55l-13 30l-10 30l-5 4h-16l-6 -6l-14 -42v-3l-17 -48l-13 -29l-11 -18l-36 -36l-24 -15l-17 -8z"/>
<path fill="#00009c" stroke="#00009c" d="M25 119l20 16l14 14l22 27l19 28l12 24l13 32l16 51l2 13l-2 5l-2 17l-3 6l-5 3h-131v32h185l-2 -3l-1 -5v-25l1 -1l1 -14l4 -18l12 -37l24 -55l13 -36l-9 13l-31 60l-9 22l-9 27l-4 4h-18l-4 -4l-3 -7l-25 -78l-21 -46l-11 -16l-29 -28l-24 -15l-10 -5z"/>
<path fill="#000097" stroke="#000097" d="M36 125l20 20l17 20l16 22l14 22l10 21l15 38l9 29v3l3 7l3 12v5l-2 5l-2 17l-2 5l-4 4h-133v32h184l-2 -7v-26l1 -1l1 -14l5 -22l9 -28l27 -63l1 -5l8 -19l1 -6l-11 18l-24 46l-13 31l-7 23l-4 5l-4 1l-16 -1l-5 -8l-25 -78l-13 -31l-11 -21l-7 -10l-28 -28l-11 -8z"/>
<path fill="#000092" stroke="#000092" d="M47 133l36 45l15 22l12 23l17 42l15 49l1 11l-2 5l-1 13l-5 11l-2 1h-9l-1 1h-123v31h184l-2 -6v-28l1 -1v-7l4 -21l12 -38l30 -71l4 -15l-18 31l-19 38l-7 17l-10 30l-5 4h-16l-6 -6l-22 -70l-14 -35l-13 -26l-9 -13l-29 -28l-7 -5z"/>
<path fill="#00008d" stroke="#00008d" d="M52 136l1 4l20 24l22 31l19 37l12 30l17 56v7l-2 5l-1 13l-3 9l-5 4h-132v31h184l-2 -5v-30l6 -32l12 -37l18 -41l11 -28l3 -11l-14 23l-20 39l-10 24l-9 27l-4 4h-18l-4 -4l-3 -7l-23 -73l-12 -29l-11 -22l-11 -16l-25 -24l-8 -6z"/>
<path fill="#000087" stroke="#000087" d="M54 138l3 6l26 33l1 3l15 21l16 33l11 28l17 56v7l-2 5l-1 14l-3 8l-4 4h-133v31h184l-2 -5l-1 -16l1 -1l1 -21l6 -28l12 -36l24 -56l5 -14v-3l-15 25l-20 40l-9 23l-6 20l-5 5h-18l-3 -2l-3 -6l-23 -73l-14 -34l-9 -18l-10 -15l-29 -28l-6 -4z"/>
<path fill="#000082" stroke="#000082" d="M57 141l3 6l19 24l17 25l13 24l8 21l3 5l11 30v3l4 10l8 29v8l-2 5l-1 13l-3 9l-3 3h-134v31h183l-1 -12l-1 -1l1 -22l1 -1l2 -19l4 -16l10 -31l19 -44l11 -31l-11 17l-21 41l-8 19l-10 30l-3 3l-4 1l-16 -1l-4 -5l-26 -81l-20 -45l-9 -14l-9 -10l-23 -21l-5 -3z"/>
<path fill="#00007d" stroke="#00007d" d="M60 143l3 7l17 22l21 32l9 18l14 34l8 23v3l3 7l8 29v8l-2 5l-1 14l-3 8l-3 3l-4 1h-130v30h183l-1 -11l-1 -1v-12l1 -1l1 -19l5 -24l9 -29l24 -57l6 -17v-3l-12 20l-15 29l-10 23l-11 32l-5 4h-16l-5 -4l-3 -7l-1 -6l-10 -28v-3l-6 -16l-2 -9l-12 -31l-11 -24l-15 -23l-11 -9l-14 -14z"/>
<path fill="#000078" stroke="#000078" d="M62 145l2 5l15 20l21 32l11 22l13 32l9 26v3l10 32v9l-2 6l-1 13l-4 10l-4 2h-132v30h183l-2 -10v-15l1 -1l1 -18l5 -24l10 -32l15 -35l13 -35h-1l-8 13l-21 41l-11 28l-5 17l-6 5h-16l-5 -4l-2 -4l-24 -76l-12 -29l-11 -22l-9 -13l-27 -25z"/>
<path fill="#000072" stroke="#000072" d="M65 148v2l13 18l25 39l12 26l11 28l17 56v9l-2 6v8l-4 14l-4 3h-133v30h183l-2 -9v-17l1 -1v-10l1 -1l2 -18l6 -23l9 -27l20 -47l4 -14l-9 14l-17 33l-10 24l-9 27l-4 3h-18l-6 -8l-23 -73l-11 -27l-12 -25l-11 -16l-23 -21z"/>
<path fill="#00006d" stroke="#00006d" d="M67 151l34 52l12 25l12 30l18 59v10l-2 5l-1 14l-3 8l-3 3h-134v30h183l-2 -8v-19l1 -1v-9l1 -1v-7l3 -16l12 -40l21 -50l4 -13l-11 17l-17 34l-16 44l-3 3h-19l-5 -5l-23 -73l-22 -51l-14 -21l-22 -19z"/>
<path fill="#000068" stroke="#000068" d="M70 153v2l30 46l16 34l13 34l14 48v10l-2 6v8l-4 14l-3 2h-134v30h183l-2 -7v-20l1 -1v-10l1 -1v-6l3 -16l13 -43l17 -40l5 -16l-7 10l-18 35l-12 31v3l-4 11l-4 4l-4 1l-16 -1l-3 -3l-3 -7l-2 -9l-15 -44v-3l-9 -25l-20 -43l-9 -13l-8 -8z"/>
<path fill="#000062" stroke="#000062" d="M72 156l32 52l23 55l16 53v11l-2 6v8l-2 9l-4 7h-10l-1 1h-124v29h183l-2 -7v-21l1 -1v-9l1 -1l2 -18l6 -23l9 -27l20 -50h-1l-7 11l-18 36l-14 40l-6 5h-16l-5 -4l-2 -4l-24 -76l-13 -31l-9 -18l-11 -16l-19 -16z"/>
<path fill="#00005d" stroke="#00005d" d="M75 159l1 4l19 29l13 24l13 31l12 34v3l10 32v12l-2 6v8l-3 12l-3 3l-3 1h-132v29h182l-1 -29l1 -1v-8l1 -1v-7l3 -16l12 -40l17 -41l3 -11l-9 14l-14 28l-16 44l-5 3h-16l-2 -1l-5 -7l-23 -73l-15 -36l-10 -19l-11 -15z"/>
<path fill="#000058" stroke="#000058" d="M77 161l2 6l21 33l9 18l14 34l11 32v3l9 29v12l-5 26l-5 4h-133v29h182l-1 -5v-24l1 -1v-9l1 -1v-6l3 -16l14 -46l16 -39v-3l-10 16l-13 27l-14 39l-4 3h-18l-6 -8l-22 -70l-18 -43l-10 -18l-6 -8l-7 -7z"/>
<path fill="#000053" stroke="#000053" d="M79 164l6 13l14 21l11 22l20 51v3l7 20l7 27l-3 14v8l-3 11l-4 4h-134v29h182l-1 -4v-26l1 -1v-8l1 -1l2 -18l12 -42l12 -29l6 -18l-7 10l-14 28l-14 40l-5 4h-18l-2 -1l-5 -9l-20 -65l-15 -37l-10 -20l-8 -12l-8 -9z"/>
<path fill="#00004d" stroke="#00004d" d="M81 166l5 12l9 13l12 22l17 41l8 23l12 44l-3 15v7l-3 12l-4 3h-134v29h182l-1 -4v-26l1 -1v-8l1 -1v-7l3 -16l8 -25v-3l8 -23l9 -21l2 -9l-8 13l-13 27l-12 35l-4 4l-11 1l-10 -2l-4 -6l-24 -76l-13 -31l-8 -16l-10 -15l-8 -8z"/>
<path fill="#000048" stroke="#000048" d="M83 168v3l5 10l12 18l9 18l12 29l12 34l11 40l-2 16l-1 1v7l-3 11l-3 3h-135v29h182l-1 -3v-28l1 -1v-8l1 -1v-6l3 -16l6 -22l20 -56l-5 7l-14 28l-13 37l-4 4l-4 1l-16 -1l-5 -7l-23 -73l-15 -36l-10 -19l-5 -7l-9 -10z"/>
<path fill="#000043" stroke="#000043" d="M84 169l2 8l13 20l11 22l16 40l10 31l8 30l-5 33l-4 5h-135v29h182l-1 -2v-29l1 -1v-8l1 -1l2 -18l6 -23l4 -10v-3l12 -31l3 -11l-6 9l-9 18l-16 43l-5 3h-16l-2 -1l-5 -7l-22 -70l-19 -45l-6 -11l-12 -16l-4 -3z"/>
<path fill="#00003e" stroke="#00003e" d="M85 170l1 6l16 26l14 31l5 15l4 8l19 63v6l-2 5l-1 15l-3 11l-3 2h-135v29h182l-1 -2v-30l1 -1v-7l1 -1l2 -18l8 -30l16 -45l-4 5l-12 24l-6 15l-6 20l-2 3l-5 3h-16l-5 -4l-3 -6l-20 -65l-15 -37l-10 -20l-6 -9l-10 -11z"/>
<path fill="#000038" stroke="#000038" d="M86 171v4l14 23l14 30l15 39l5 19l3 7l7 26v6l-2 6v7l-3 16l-3 4h-10l-1 1h-125v28h182l-1 -1l-1 -17l1 -1v-13l1 -1l2 -21l8 -32l15 -44l-5 7l-8 16l-14 39l-5 4h-18l-5 -5l-25 -78l-13 -31l-13 -24l-10 -12z"/>
<path fill="#000033" stroke="#000033" d="M86 172l4 10l9 14l10 20l15 37l11 33l9 33v7l-2 5v8l-3 15l-3 4l-4 1h-132v28h182l-2 -10v-9l1 -1v-13l1 -1v-7l1 -1l2 -18l9 -33l12 -34l-3 3l-11 22l-12 34l-5 4h-18l-6 -7l-23 -73l-16 -38l-12 -21l-11 -12z"/>
<path fill="#00002e" stroke="#00002e" d="M87 173l4 10l11 18l8 17l23 61l11 40v7l-2 6v7l-3 16l-3 3l-3 1h-133v28h181l-1 -20l1 -1v-12l1 -1v-7l1 -1l2 -18l8 -30l11 -34l-11 20l-13 36l-4 4h-19l-2 -1l-4 -6l-22 -70l-13 -32l-11 -22l-6 -9l-8 -9z"/>
<path fill="#000000" stroke="#000000" d="M88 174l4 10l15 27l13 31l13 37v3l11 36v8l-2 6v8l-3 15l-5 4h-134v28h181l-1 -21l1 -1v-11l1 -1l2 -21l4 -18l14 -44v-3l-11 21l-10 30l-5 5h-6l-1 1l-13 -1l-5 -7l-21 -67l-15 -37l-14 -26l-11 -12z"/>
</g>
<g transform="translate(724.6 39.6)" stroke-width="1" stroke-linejoin="round" fill-rule="evenodd">
<path fill="#f7f7ff" stroke="#f7f7ff" d="M0 0v229l12 2l15 8l16 15l2 5l9 9l11 17l17 33l18 44l10 31h115l14 -42l16 -40l14 -28l9 -11h5l5 4l9 13l20 34l9 10l7 4h7l6 -3l7 -7l11 -16l8 -15l13 -20l5 -4h5l6 6l5 8l13 27l18 46l10 33l1 1h57v-324l-30 1l-6 -2h-16l-15 -8l-40 -32l-17 -8l-15 -3h-59l-20 5l-19 11l-33 27l-15 8h-11l-1 -1l-10 3l-24 -1l-1 -1l-36 2l-9 -3l-1 1h-10l-8 -3l-10 -7l-43 -39l-20 -14l-10 -5zM336 199l9 1l8 3l15 17l6 11l2 7l-1 15l-7 19l-10 20l-7 11l-11 10h-7l-13 -13l-17 -33l-6 -20v-8l4 -12l10 -15l11 -10z"/>
<path fill="#f0f0ff" stroke="#f0f0ff" d="M0 29v166h7l10 3l17 11l17 18l3 6l1 7l4 2l9 11l6 10l21 44l11 28l13 39l5 19h88l8 -30l10 -30l14 -36l19 -40l4 -6l5 -4l5 2l8 11l21 40l12 19l9 10l6 3l10 -1l10 -9l13 -20l26 -48l7 -7l4 1l11 16l16 35l12 31l13 39l6 23l1 1h43v-306h-10l-8 2l-17 7l-16 9l-7 1l-10 -5l-29 -29l-13 -11l-19 -11l-8 -3l-16 -3h-31l-19 4l-21 11l-19 16l-27 27l-5 3l-4 1l-7 -1l-16 -9l-17 -7l-8 -2h-20l-16 5l-25 13l-7 1l-9 -4l-46 -47l-11 -9l-14 -9l-9 -4l-10 -3zM334 169h5l7 2l10 6l12 12l10 13l5 8l5 12l-1 13l-14 34l-10 20l-11 18l-12 11l-9 -1l-12 -13l-11 -19l-12 -25l-8 -19l-3 -11v-8l2 -6l14 -22l15 -16l7 -5z"/>
<path fill="#e8e8ff" stroke="#e8e8ff" d="M0 45v134l9 1l9 3l17 11l12 12l10 13l2 6v6l2 2l4 1l7 9l15 28l18 42l15 43v3l11 34h74l21 -68l15 -39l19 -40l8 -10l4 1l9 12l26 50l12 19l10 10l5 2h6l4 -2l10 -10l11 -17l29 -55l7 -9l4 -1l5 5l6 10l19 42l18 49v3l6 16v3l9 29h37v-218l-13 -6l-11 -11l-5 -10l1 -8l7 -9l11 -6l10 -1v-31h-6l-14 4l-15 8l-17 13l-7 3h-4l-6 -3l-38 -39l-13 -10l-15 -8l-9 -3l-10 -2l-18 -1l-1 1h-10l-10 2l-11 4l-13 7l-14 11l-37 38l-6 3h-4l-7 -3l-20 -15l-14 -7l-12 -3h-12l-12 3l-17 9l-17 13l-7 3h-4l-6 -3l-15 -15l-9 -11l-26 -26l-9 -7l-20 -11l-11 -3zM330 158h13l9 4l7 5l12 12l11 14l7 11l5 12l-2 13l-6 15l-22 46l-14 22l-6 6l-6 3h-3l-7 -4l-8 -9l-7 -11l-25 -51l-9 -26l1 -7l4 -9l14 -20l15 -16l8 -6zM162 124h12l9 3l11 9l3 6v6l-5 10l-11 11l-11 6l-6 -1l-9 -5l-11 -11l-5 -10v-6l3 -6l8 -7z"/>
<path fill="#e0e0ff" stroke="#e0e0ff" d="M0 54v116h5l11 3l17 10l22 23l6 10l1 10l5 2l8 10l24 49l15 39l15 49l8 18h62l11 -28l3 -13l11 -33l15 -39l21 -44l7 -7l7 6l5 8l34 64l10 14l9 7h9l10 -8l15 -23l28 -54l10 -13l2 -1l2 1l8 11l21 46l10 26l4 14l2 3l13 44l8 19h31v-203l-7 -1l-10 -6l-14 -14l-5 -7l-5 -11l2 -9l13 -14l13 -7l13 -2v-23l-14 2l-15 7l-10 7l-17 15l-8 3l-9 -5l-30 -33l-21 -17l-11 -6l-11 -4l-9 -2l-17 -1l-1 1h-9l-15 4l-9 4l-14 9l-28 27l-17 19l-8 4l-8 -3l-12 -11l-15 -11l-12 -6l-13 -3h-8l-13 3l-18 10l-24 20l-6 1l-6 -3l-33 -37l-22 -20l-12 -8l-11 -5l-11 -3zM330 151h13l11 5l8 6l10 10l12 15l9 14l4 9v8l-5 15l-30 63l-12 18l-10 8l-9 -1l-6 -5l-9 -12l-20 -38v-2l-14 -29l-6 -17l1 -11l8 -14l11 -15l20 -20zM163 119l15 1l15 7l9 8l7 12l-1 8l-9 14l-14 14l-13 7h-8l-13 -7l-15 -15l-6 -9l-3 -7l1 -8l9 -12l11 -8z"/>
<path fill="#d9d9ff" stroke="#d9d9ff" d="M0 60v104h7l10 3l14 8l17 16l13 17l2 4l1 11l5 1l6 7l25 51l14 36l17 53l5 10l4 12h56l10 -25l18 -57l14 -36l21 -44l5 -6h3l6 6l5 8l25 48l16 27l9 10l5 3h7l4 -2l10 -11l14 -23l29 -55l9 -11h3l9 13l20 44l12 34l2 3l16 51l10 23h27v-193l-12 -4l-12 -9l-19 -22l-5 -9v-5l3 -7l16 -17l12 -7l10 -3h7v-19l-14 2l-13 6l-15 11l-18 17l-8 1l-10 -8l-16 -19l-18 -18l-15 -11l-11 -6l-12 -4l-11 -1l-1 -1h-13l-1 1l-11 1l-18 7l-11 7l-10 8l-16 16l-22 25l-5 3h-6l-21 -19l-14 -10l-13 -6l-9 -2h-9l-10 2l-13 6l-14 10l-19 18l-6 2l-6 -3l-9 -9l-20 -24l-16 -16l-11 -9l-19 -11l-10 -3zM331 146l15 1l15 9l15 15l10 13l11 17l3 9l-1 7l-6 16l-27 58l-12 20l-11 11l-5 2l-6 -1l-12 -11l-9 -14l-23 -47l-14 -35v-10l5 -10l14 -20l19 -20l7 -5zM161 117h14l16 6l6 4l14 14l5 9v6l-2 5l-16 20l-16 14l-13 5l-9 -2l-15 -10l-13 -14l-12 -17v-7l3 -6l16 -17l12 -7z"/>
<path fill="#d1d1ff" stroke="#d1d1ff" d="M0 65v94l10 1l6 2l13 7l18 16l16 21l2 5v8l5 2l8 10l21 43l15 38l15 47l14 34h50l13 -32l12 -39l2 -3l3 -11l14 -36l16 -35l5 -9l5 -6l2 -1l2 1l5 6l21 36l-19 -44l-2 -7v-8l6 -12l19 -26l18 -17l8 -5l10 -3l12 1l7 3l10 7l15 15l17 23l7 13v10l-3 9l-18 42l21 -37l7 -7l6 5l11 21l18 42l8 24l2 3l13 42l14 35h25v-187h-3l-10 -4l-13 -10l-21 -24l-5 -9v-7l3 -6l13 -15l12 -9l14 -6l10 -1v-15l-12 1l-16 7l-11 8l-19 19l-5 4l-5 1l-5 -3l-7 -7l-13 -16l-22 -22l-14 -10l-9 -5l-15 -5l-25 -1l-10 2l-13 5l-17 11l-25 24l-13 16l-9 9l-4 2l-6 -2l-28 -26l-16 -9l-10 -3h-16l-10 3l-10 5l-11 8l-24 23l-6 1l-14 -13l-18 -22l-24 -23l-10 -7l-14 -7l-11 -3zM164 115l14 1l16 7l17 15l9 14v8l-2 4l-19 23l-16 14l-12 5h-6l-6 -2l-15 -10l-20 -22l-8 -12v-8l3 -6l14 -16l11 -8l8 -4z"/>
<path fill="#c9c9ff" stroke="#c9c9ff" d="M0 68v88l12 1l8 3l10 6l22 21l11 15l3 6l1 9l3 1l8 9l18 36l14 34l18 54l17 42h46l15 -37l15 -47l2 -3l7 -21l14 -33l14 -28l5 -5h2l7 7l10 16l-7 -17l-5 -17l1 -6l4 -8l20 -28l16 -16l15 -9l9 -2l12 2l15 9l16 16l11 14l8 12l6 13l-1 9l-11 28l11 -17l6 -6h3l2 2l12 22v2l12 25l18 47l11 36l16 40h23v-183l-8 -1l-8 -4l-9 -7l-20 -22l-7 -9l-3 -6v-7l3 -6l5 -7l14 -14l12 -8l7 -3l14 -2v-13l-12 1l-14 6l-15 11l-23 23l-5 1l-4 -2l-6 -6l-13 -16l-18 -19l-16 -13l-17 -9l-14 -4h-23l-14 4l-21 12l-19 17l-22 26l-11 10h-4l-3 -2l-23 -23l-9 -7l-13 -7l-10 -3h-16l-10 3l-8 4l-14 10l-24 24l-6 1l-13 -12l-17 -21l-26 -25l-10 -7l-12 -6l-10 -3zM163 114h11l17 6l9 6l16 16l7 12v7l-3 6l-19 23l-14 13l-6 4l-8 3h-10l-6 -2l-8 -5l-14 -13l-18 -21l-4 -7v-8l3 -6l5 -7l14 -14l14 -9z"/>
<path fill="#c2c2ff" stroke="#c2c2ff" d="M0 71v82h8l14 5l12 8l18 18l13 18l2 5l1 8l4 2l6 7l19 38l20 50l11 35l19 46h42l18 -44l13 -41l10 -24l1 -5l23 -51l4 -7l4 -4h3l11 13l-7 -22l2 -10l17 -26l19 -21l12 -9l14 -5l12 1l15 8l16 15l15 19l9 14l4 9l-1 10l-6 17l11 -13h3l7 9l14 29l14 34l9 27l2 3l8 27l17 41l1 5l1 1h21v-179h-4l-10 -4l-13 -10l-19 -21l-11 -16v-8l8 -13l16 -16l12 -8l11 -4l10 -1v-12l-13 2l-15 7l-12 9l-23 24l-6 3l-4 -2l-8 -8l-11 -14l-20 -21l-18 -14l-14 -7l-10 -3l-24 -1l-15 4l-21 12l-12 10l-18 19l-11 14l-9 9l-4 2l-7 -4l-22 -23l-12 -9l-12 -6l-15 -3l-14 2l-15 7l-12 9l-23 24l-7 3l-14 -13l-17 -21l-25 -24l-10 -7l-12 -6l-10 -3zM163 113h10l9 2l9 4l9 6l17 17l8 13v8l-2 4l-22 27l-17 15l-12 5h-8l-6 -2l-15 -10l-27 -30l-4 -6l-2 -6l1 -5l5 -9l19 -20l14 -9z"/>
<path fill="#babaff" stroke="#babaff" d="M0 74v76l10 1l6 2l16 9l17 16l17 23l2 5l1 8l5 2l5 7l11 21v2l13 27l14 36l3 11l2 3l8 26l5 10l13 34h40l20 -50l3 -12l15 -42l18 -43l13 -26l5 -5l5 2l5 6l-4 -16l2 -10l17 -26l20 -22l14 -10l13 -4h5l11 3l15 10l18 19l13 18l9 17v6l-4 15l8 -8h3l4 5l7 13l23 53l8 24l2 3l11 35l18 45h20v-176l-10 -2l-15 -10l-22 -24l-7 -9l-5 -9v-6l4 -8l6 -8l15 -15l10 -7l11 -5l13 -2v-10l-10 1l-15 6l-14 10l-26 27l-5 2l-8 -6l-18 -22l-21 -21l-15 -11l-21 -9l-5 -1h-21l-14 4l-12 6l-10 7l-25 24l-23 27l-4 2l-6 -3l-26 -27l-8 -6l-11 -6l-14 -4l-15 1l-15 6l-14 10l-26 27l-3 2h-3l-11 -10l-26 -31l-20 -18l-21 -12l-11 -3zM167 112l14 2l16 8l21 20l9 15v6l-4 8l-21 25l-15 14l-15 7h-8l-6 -2l-14 -9l-25 -27l-10 -15v-7l4 -8l5 -7l17 -17l17 -10z"/>
<path fill="#b2b2ff" stroke="#b2b2ff" d="M0 76v72l10 1l9 3l17 11l14 14l15 20l4 9l1 7h2l5 5l5 8l19 40l18 46l11 34l9 20l10 27h38l21 -53l10 -32l2 -3l7 -21l15 -36l15 -30l5 -5l8 5l-3 -14l1 -5l14 -23l16 -20l17 -15l9 -5l7 -2h12l6 2l12 7l15 14l18 23l7 11l5 11l-3 16l7 -5l4 2l18 35l18 44l17 51l10 23l9 25h19v-174h-5l-6 -2l-11 -7l-23 -24l-11 -14l-4 -7v-8l11 -17l14 -14l8 -6l12 -6l8 -2h7v-9h-7l-8 2l-12 6l-10 7l-29 30l-6 1l-8 -7l-16 -20l-22 -22l-12 -9l-11 -6l-11 -4l-10 -2h-13l-10 2l-11 4l-19 12l-24 23l-17 21l-9 8h-4l-3 -2l-28 -29l-13 -9l-17 -6h-14l-13 4l-13 8l-33 33l-5 2l-12 -11l-16 -20l-24 -24l-14 -10l-10 -5l-14 -4zM161 112l19 1l8 3l10 6l20 19l7 10l4 10l-1 4l-6 10l-15 18l-18 18l-6 4l-10 4h-10l-6 -2l-10 -6l-26 -27l-8 -10l-6 -11l1 -6l7 -12l18 -19l8 -6l12 -6z"/>
<path fill="#ababff" stroke="#ababff" d="M0 78v68l16 3l16 9l17 16l14 18l6 11l1 8l3 1l6 7l22 45l17 43l11 34l21 52h36l20 -50l19 -56l18 -43l15 -29l3 -3l7 3l-1 -16l4 -8l18 -26l20 -21l14 -9l12 -3l15 3l14 9l16 16l19 26l7 13l-1 16l7 -3l4 4l9 17v2l16 34l12 31l2 8l2 3l9 29l10 23l11 30h18v-172l-9 -1l-12 -7l-18 -18l-12 -14l-8 -11l-3 -7l2 -8l12 -17l11 -11l18 -12l9 -3l10 -1v-8l-13 2l-13 6l-17 13l-23 25l-3 2h-3l-7 -6l-26 -31l-15 -14l-11 -8l-11 -6l-16 -5h-9l-1 -1l-2 1h-9l-11 3l-9 4l-19 13l-23 23l-16 20l-8 7h-3l-3 -2l-15 -17l-20 -18l-15 -8l-13 -3l-16 2l-15 7l-14 11l-25 27l-6 1l-10 -10l-25 -30l-16 -15l-20 -13l-15 -5zM164 111l14 1l9 3l17 11l13 13l7 9l6 13l-1 5l-6 10l-22 26l-16 14l-11 5l-15 -1l-6 -3l-12 -9l-26 -29l-7 -10l-2 -5l1 -7l8 -13l16 -17l9 -7l9 -5z"/>
<path fill="#a3a3ff" stroke="#a3a3ff" d="M0 79v66h7l10 3l17 10l19 19l13 18l3 6l2 9l4 2l5 7l20 41l18 45l13 39l3 5l17 44h34l21 -52l7 -23l2 -3l12 -35l17 -40l13 -25l4 -4h3l3 2l-1 -13l4 -9l17 -25l15 -17l15 -12l8 -4l8 -2h7l8 2l14 8l20 20l18 25l7 14l-1 12l7 -1l2 2l23 47l15 38l15 45l20 50h17v-170h-5l-6 -2l-11 -7l-24 -25l-15 -20l-2 -6l4 -11l7 -10l11 -12l11 -9l10 -6l12 -4h8v-7l-11 1l-16 7l-12 9l-27 29l-3 2h-4l-10 -10l-16 -20l-18 -18l-13 -10l-15 -8l-9 -3l-24 -1l-14 4l-10 5l-13 9l-21 20l-18 22l-10 10h-4l-4 -3l-11 -13l-16 -16l-11 -8l-10 -5l-10 -3h-14l-10 3l-16 9l-20 19l-13 15l-5 3l-3 -1l-7 -7l-22 -27l-23 -22l-10 -7l-14 -7l-7 -2zM160 111l20 1l12 5l9 6l19 19l7 10l4 9l-2 8l-21 27l-19 19l-6 4l-10 4h-10l-6 -2l-10 -6l-11 -10l-24 -28l-7 -12v-4l4 -9l7 -10l12 -13l16 -12z"/>
<path fill="#9c9cff" stroke="#9c9cff" d="M0 81v62l13 2l19 10l17 16l16 21l5 9l1 7l6 5l5 8l20 42l17 43l12 36l21 51h32l1 -1l9 -25l12 -28l11 -34l15 -39l24 -51l4 -5l6 1v-13l5 -10l15 -22l19 -21l12 -9l8 -4l8 -2h7l8 2l10 5l9 7l17 18l15 21l8 14l1 4l-1 9l1 1l5 -1l3 3l11 21v2l12 25l20 52l7 23l10 23l12 33l1 1h16v-168l-12 -3l-12 -8l-25 -27l-14 -20v-8l4 -8l8 -11l15 -15l13 -9l13 -5l10 -1v-6l-16 3l-16 9l-37 37h-4l-6 -5l-24 -29l-23 -21l-11 -7l-14 -6l-8 -2h-18l-17 5l-11 6l-11 8l-16 15l-31 36h-5l-33 -34l-10 -7l-13 -6l-16 -2l-13 3l-16 9l-37 37l-3 1l-12 -11l-25 -30l-15 -14l-11 -8l-11 -6l-13 -4zM164 110h8l10 2l11 5l10 7l20 21l4 6l5 12l-1 4l-6 10l-19 23l-19 18l-9 5l-8 2l-12 -2l-13 -8l-28 -30l-11 -15l-2 -5l1 -6l8 -14l20 -21l16 -10z"/>
<path fill="#9494ff" stroke="#9494ff" d="M0 82v60l10 1l11 4l15 10l15 15l16 22l3 6l2 8l6 5l25 51l14 35l12 36l14 33l9 25h32l7 -20l17 -41l7 -23l2 -3l2 -8l12 -31l23 -50l6 -8h5v-10l4 -9l20 -29l16 -17l12 -9l8 -4l8 -2h7l8 2l8 4l11 8l17 18l17 24l7 13v11h5l5 6l22 47l17 44l10 31l12 28l10 28h16v-167l-8 -1l-14 -8l-24 -25l-14 -18l-4 -7v-7l4 -8l11 -15l11 -11l9 -7l11 -6l11 -3h7v-5l-11 1l-14 6l-16 12l-27 29l-6 1l-33 -38l-22 -19l-8 -5l-14 -6l-8 -2h-19l-11 3l-9 4l-19 13l-23 23l-15 19l-8 8l-6 -1l-28 -30l-13 -10l-10 -5l-10 -3h-14l-10 3l-17 10l-15 14l-20 22l-4 1l-7 -6l-21 -26l-26 -25l-10 -7l-12 -6l-11 -3zM160 110l20 1l6 2l14 8l18 17l9 12l5 10v7l-2 4l-15 20l-15 17l-14 12l-14 6h-8l-9 -3l-15 -11l-25 -28l-11 -16v-8l5 -10l9 -12l13 -13l8 -6l11 -6z"/>
<path fill="#8c8cff" stroke="#8c8cff" d="M0 83v58l14 2l11 5l10 7l17 17l17 24l3 11l8 8l24 50l12 30l12 36l25 62h30l1 -1l8 -23l15 -36l9 -28l17 -44l22 -47l5 -6h4l1 -2v-9l4 -8l20 -29l16 -17l12 -9l6 -3l12 -3l15 3l17 11l12 12l19 25l10 18l1 11h4l5 6l17 35l14 34l16 47l15 36l10 27h15v-166h-5l-6 -2l-16 -11l-25 -28l-9 -12l-4 -8v-4l5 -11l7 -10l13 -14l6 -5l15 -9l9 -3l10 -1v-4l-16 3l-13 7l-9 7l-13 13l-8 10l-11 10h-4l-8 -8l-15 -19l-28 -27l-20 -12l-13 -4h-9l-1 -1l-2 1h-9l-13 4l-13 7l-12 9l-22 22l-15 19l-9 9h-4l-3 -2l-30 -32l-11 -8l-16 -7l-14 -1l-12 3l-13 7l-9 7l-30 32l-5 2l-8 -7l-21 -26l-25 -24l-20 -12l-14 -4zM164 109h8l10 2l13 6l7 5l20 20l8 12l3 8v5l-6 10l-23 28l-19 17l-12 5h-10l-6 -2l-14 -9l-25 -27l-10 -13l-5 -9v-6l5 -10l6 -9l14 -15l15 -11l11 -5z"/>
<path fill="#8585ff" stroke="#8585ff" d="M0 84v56l14 2l11 5l10 7l17 17l14 19l5 9l2 8l7 7l21 43l52 136h30l10 -28l15 -36l15 -44l16 -39l16 -33l5 -6l4 -1v-7l5 -11l11 -17l17 -21l13 -12l11 -7l9 -3l17 1l7 3l9 6l21 21l19 27l6 12v8l4 1l5 6l23 49l17 44l6 20l20 49l6 18h15v-165l-9 -1l-8 -4l-8 -6l-23 -25l-11 -14l-6 -10v-8l5 -10l6 -9l13 -14l13 -10l16 -7l12 -1v-3l-11 1l-17 8l-9 7l-28 30l-5 4h-4l-8 -8l-15 -19l-29 -28l-21 -12l-10 -3l-16 -1l-17 4l-12 6l-10 7l-27 26l-15 19l-9 9l-5 -1l-38 -38l-14 -8l-10 -3h-14l-10 3l-8 4l-12 9l-29 31l-4 3h-5l-27 -32l-25 -24l-20 -12l-14 -4zM161 109l19 1l16 7l7 5l15 14l7 9l7 12l2 7l-1 5l-6 9l-22 27l-17 16l-15 7l-14 -1l-8 -4l-8 -6l-25 -27l-13 -17l-3 -7l2 -9l14 -21l10 -10l12 -9l10 -5z"/>
<path fill="#7d7dff" stroke="#7d7dff" d="M505 106l-15 3l-12 7l13 -6l14 -2zM141 116l7 -4l16 -4h8l10 2l13 6l-9 -6l-14 -4h-8l-9 2l-7 3zM0 85v54l10 1l9 3l12 7l20 19l18 25l4 12l7 7l24 50l18 46l7 22l25 62h28l1 -1l50 -133l21 -45l5 -7l4 -1l1 -9l5 -10l17 -25l23 -24l9 -6l13 -5l15 1l11 5l7 5l19 19l20 28l5 9l2 12l4 1l4 5l23 49l17 44l8 25l15 36l10 27h14v-85l-4 -3l-3 -9l1 -3l4 -4h2v-60l-9 -1l-8 -4l-8 -6l-18 -19l-16 -20l-6 -9l-1 -8l8 -16l-11 10l-5 1l-8 -8l-24 -29l-16 -15l-11 -8l-16 -8l-12 -3l-20 1l-12 4l-9 5l-14 10l-24 24l-15 19l-8 8h-3l-13 -12l8 17v6l-4 7l-18 23l-19 20l-8 6l-8 4l-14 1l-12 -5l-8 -6l-20 -21l-20 -26l-1 -10l8 -15l-11 10l-6 1l-27 -32l-25 -24l-10 -7l-15 -7l-8 -2zM166 289l6 1l3 5l-2 9l-4 4h-2l-3 -3l-3 -8l1 -4z"/>
<path fill="#7575ff" stroke="#7575ff" d="M496 108h9v-1zM159 108h18l-4 -1zM0 86v52l16 3l16 9l18 17l19 26l3 6l1 6l4 3l4 6l23 48l14 35l11 33l18 43l7 20h28l14 -38l10 -23l12 -36l15 -38l21 -45l9 -9l1 -8l5 -10l18 -26l20 -21l8 -6l10 -5l9 -2l14 2l17 10l17 17l19 26l7 12l2 6v5l2 2h2l4 5l23 49l17 44l8 25l15 36l10 28h14v-80l-6 -5l-5 -11v-7l3 -3l8 -1v-56h-5l-6 -2l-10 -6l-14 -13l-17 -20l-14 -20v-8l4 -10l-10 7l-3 -1l-28 -33l-13 -13l-15 -12l-17 -9l-11 -3h-19l-8 2l-15 7l-22 17l-18 19l-14 18l-7 7l-2 1l-3 -1l-8 -7l5 14l-3 9l-20 26l-19 20l-14 9l-6 2h-10l-12 -5l-8 -6l-20 -21l-18 -23l-3 -5l-1 -7l5 -12l-9 7l-5 -1l-24 -29l-28 -27l-21 -12l-10 -3zM163 286h10l3 1l3 3v7l-2 6l-3 5l-6 5l-6 -5l-5 -11v-7l3 -3z"/>
<path fill="#6e6eff" stroke="#6e6eff" d="M0 86v52h8l10 3l15 9l16 15l18 24l5 9l2 7l7 8l19 39l16 39l13 38l26 64h26l1 -1l14 -38l10 -23l7 -22l18 -47l21 -46l4 -7l7 -6v-5l5 -11l20 -29l17 -18l11 -8l14 -6l17 1l7 3l13 9l18 19l19 27l6 12v5l9 10l24 52l15 39l8 25l15 36l10 28l1 1h13v-77l-8 -7l-5 -10l-2 -7v-5l3 -3h12v-53h-4l-9 -3l-15 -11l-19 -21l-18 -24l-2 -4v-5l3 -10l-7 5l-5 -1l-25 -30l-17 -17l-14 -11l-15 -8l-16 -4l-17 1l-20 8l-20 15l-15 15l-27 32h-4l-7 -5l3 9v6l-3 6l-21 27l-17 18l-15 10l-7 2h-8l-11 -4l-11 -8l-11 -11l-20 -24l-10 -15v-7l3 -9l-6 5l-3 1l-2 -1l-9 -9l-25 -30l-15 -14l-11 -8l-11 -6l-12 -4zM156 284h24l3 3l-1 9l-4 10l-10 10l-8 -7l-5 -10l-2 -7v-5z"/>
<path fill="#6666ff" stroke="#6666ff" d="M0 87v50h7l10 3l17 10l19 19l15 21l4 7l2 7l5 5l24 49l16 40l10 30l26 65h26l25 -63l11 -33l17 -43l21 -44l7 -7l1 -7l4 -8l23 -33l18 -18l14 -9l11 -3h7l11 3l13 8l20 20l16 22l10 18l1 7l6 5l4 7l19 41l52 137h13v-75l-3 -1l-7 -8l-8 -20v-5l4 -3l1 1h13v-50l-10 -2l-12 -7l-18 -18l-25 -32l-2 -4v-8l2 -6l-7 4h-2l-9 -9l-15 -19l-23 -23l-12 -9l-13 -7l-14 -4l-22 1l-17 7l-18 13l-20 20l-23 28l-5 2l-7 -4l2 5v9l-2 4l-18 24l-18 20l-11 9l-8 4l-7 2h-5l-8 -2l-12 -7l-12 -11l-19 -22l-14 -20l-1 -6l3 -8h-2l-4 3h-4l-8 -8l-22 -27l-13 -13l-15 -12l-17 -9l-12 -3zM154 281l1 1h26l1 -1l4 3v5l-3 10l-7 13l-7 6l-4 -1l-5 -5l-7 -13l-3 -10v-5z"/>
<path fill="#5e5eff" stroke="#5e5eff" d="M0 88v48l10 1l9 3l12 7l21 20l14 19l8 17l6 7l22 45l53 138h26l10 -28l17 -41l4 -14l20 -52l23 -49l7 -7l1 -7l13 -22l16 -21l19 -18l10 -6l9 -3l17 1l9 4l10 7l16 16l21 29l7 13l1 7l7 7l21 44l53 140h13v-73l-3 -1l-8 -9l-5 -10l-5 -17l2 -4h5l6 2h8v-49h-6l-8 -3l-10 -7l-21 -22l-21 -28l-2 -5l2 -10h-2l-2 2h-5l-29 -34l-12 -12l-18 -14l-16 -8l-13 -3l-17 1l-12 4l-11 6l-12 9l-16 15l-31 36h-4l-5 -2l2 6v5l-3 6l-19 25l-23 24l-9 6l-8 3h-12l-8 -3l-9 -6l-24 -25l-15 -19l-6 -10l1 -12l-5 3l-4 -1l-26 -31l-19 -19l-10 -8l-21 -11l-8 -2zM149 279h5l6 2h16l6 -2h5l2 5l-5 16l-7 13l-8 7l-4 -1l-8 -9l-8 -18l-2 -8z"/>
<path fill="#5757ff" stroke="#5757ff" d="M0 88v48h8l10 3l15 9l16 15l18 24l6 11l1 5l7 8l20 41l14 34l12 35l29 72h24l1 -1l52 -137l23 -48l5 -4l3 -11l7 -12l14 -20l16 -18l17 -13l15 -5h7l11 3l13 8l21 21l17 24l8 14l2 9l7 7l22 47l51 135l1 1h12v-72l-4 -1l-10 -13l-9 -25v-3l3 -3l8 3l12 1v-47l-11 -2l-15 -10l-17 -18l-23 -30l-2 -4l1 -11l-5 2l-4 -1l-24 -29l-20 -20l-18 -13l-17 -7l-22 -1l-16 5l-15 9l-10 8l-17 17l-26 31l-4 1l-5 -2l1 11l-2 4l-22 29l-19 20l-14 9l-6 2h-9l-7 -2l-10 -6l-17 -16l-28 -35l-2 -4v-11l-3 1l-6 -1l-22 -27l-25 -25l-11 -8l-11 -6l-12 -4zM146 277l2 -1l12 4h16l12 -4l3 2l-1 8l-6 17l-7 12l-5 5l-4 2l-4 -2l-9 -11l-10 -27z"/>
<path fill="#4f4fff" stroke="#4f4fff" d="M0 89v46h6l11 3l17 10l19 19l15 21l5 9l1 5l9 12l20 42l22 56l3 11l28 70h24l1 -1l4 -13l22 -54l11 -33l16 -40l21 -44l6 -6l2 -8l4 -8l16 -24l9 -11l14 -14l13 -9l11 -4l17 1l9 4l10 7l21 22l16 23l8 15l1 6l4 3l6 10l18 39l14 35l11 33l25 62l1 5l2 4h12v-70l-3 -1l-8 -8l-8 -16l-6 -19v-3l2 -2l15 5h8v-45l-10 -2l-12 -7l-19 -19l-22 -28l-5 -8v-11l-7 1l-8 -8l-24 -29l-16 -15l-11 -8l-16 -8l-13 -3l-17 1l-18 7l-17 12l-24 24l-15 19l-8 8l-7 -1l1 8l-3 7l-19 25l-18 20l-7 6l-12 7l-12 2l-8 -2l-6 -3l-12 -9l-7 -7l-32 -40l-2 -5l1 -8l-4 1l-4 -1l-28 -33l-15 -15l-11 -9l-15 -9l-11 -4zM145 274l15 5h16l13 -5h2l2 2l-2 11l-6 16l-6 11l-8 8l-2 1l-4 -1l-10 -11l-8 -18l-4 -13v-4z"/>
<path fill="#4747ff" stroke="#4747ff" d="M0 89v45l9 1l9 3l14 8l18 17l19 26l6 14l6 7l26 55l16 41l8 24l7 15l1 5l8 18l9 25h24l14 -38l12 -28l7 -22l17 -44l15 -32v-2l9 -18l7 -8l2 -8l8 -14l14 -20l16 -18l14 -11l10 -5l9 -2l11 1l8 3l17 12l19 21l15 22l7 13l1 6l7 8l11 22v2l14 30l15 39l7 22l17 41l10 28h12v-69l-4 -1l-8 -9l-7 -14l-7 -20v-7l1 -1h3l14 6h8v-44l-9 -1l-8 -4l-8 -6l-13 -13l-24 -30l-6 -9l-1 -11l-2 1l-5 -1l-25 -30l-18 -18l-19 -14l-13 -6l-8 -2h-19l-13 4l-11 6l-17 13l-16 16l-26 31l-2 1l-5 -1v9l-4 7l-20 26l-21 22l-15 9l-14 1l-15 -7l-20 -19l-29 -38v-9l-8 -1l-23 -28l-23 -23l-21 -14l-11 -4zM143 272h3l14 6h16l14 -6h3l2 2l-1 6l-9 25l-7 12l-8 7l-6 -1l-6 -6l-5 -8l-11 -29l-1 -6z"/>
<path fill="#4040ff" stroke="#4040ff" d="M0 90v44h6l11 3l17 10l19 19l17 24l5 12l8 11l23 49l18 46l5 16l21 51l6 18h24l51 -135l10 -23l14 -28l5 -5l2 -7l8 -15l17 -24l18 -19l11 -8l15 -6h11l7 2l10 5l8 6l20 21l16 23l7 12l3 10l3 2l5 8l19 41l20 51l7 22l22 54l4 13h12v-68l-4 -1l-10 -12l-8 -18l-6 -18v-5l4 -1l12 6l12 2v-43l-7 -1l-11 -5l-11 -9l-18 -20l-19 -25l-3 -6v-8h-6l-8 -8l-24 -29l-16 -15l-14 -10l-19 -8l-20 -1l-14 4l-16 9l-9 7l-24 24l-14 18l-9 9h-6v9l-5 8l-22 28l-15 16l-9 7l-8 4l-7 2h-6l-15 -6l-18 -16l-17 -20l-14 -19l-2 -4v-8l-1 -1l-2 1l-4 -1l-29 -34l-14 -14l-11 -9l-15 -9l-12 -4zM141 270h3l9 5l10 3h10l10 -3l9 -5l4 1l-1 9l-8 22l-8 15l-8 8l-3 1l-3 -1l-10 -11l-6 -12l-9 -26v-5z"/>
<path fill="#3838ff" stroke="#3838ff" d="M0 90v43l9 1l9 3l14 8l18 17l19 26l7 15l5 6l24 50l17 43l6 19l29 72h22l1 -1l17 -46l10 -23l13 -38l15 -37l19 -40l7 -8l1 -6l9 -16l18 -25l19 -19l9 -6l12 -5h15l14 6l7 5l19 19l20 28l7 13l2 7l6 7l11 22v2l14 30l18 47l3 11l15 36l13 36l1 1h11v-66l-3 -1l-10 -11l-6 -12l-10 -28v-6l3 -1l13 7l7 2h6v-42l-9 -1l-15 -9l-20 -21l-21 -27l-4 -7v-7l-7 -2l-25 -30l-19 -19l-16 -12l-12 -6l-16 -4h-8l-1 1l-10 1l-16 7l-19 14l-17 17l-26 31l-6 1l-1 8l-9 14l-21 26l-15 15l-15 9l-14 1l-15 -7l-21 -20l-26 -33l-3 -7v-6l-7 -1l-23 -28l-23 -23l-21 -14l-11 -4zM140 268l21 9h14l19 -9h2l2 2l-5 18l-8 20l-5 9l-9 9l-2 1l-4 -1l-8 -8l-5 -8l-13 -34l-1 -6z"/>
<path fill="#3030ff" stroke="#3030ff" d="M0 91v42h6l11 3l17 10l19 19l15 21l7 15l8 11l20 42l54 139h22l1 -1l1 -5l25 -62l6 -19l19 -49l24 -51l5 -5l2 -7l10 -18l15 -21l17 -18l14 -10l15 -5h7l11 3l17 11l18 19l17 24l8 14l1 6l4 4l6 10l21 46l13 33l10 30l25 62l1 5l2 4h11v-65l-3 -1l-8 -8l-5 -8l-8 -19l-7 -21v-4l4 -1l13 8l14 3v-41l-7 -1l-9 -4l-14 -11l-17 -19l-19 -25l-4 -8v-6h-5l-8 -8l-22 -27l-11 -11l-16 -13l-10 -6l-18 -6h-17l-11 3l-21 12l-20 18l-33 38h-5v6l-2 5l-13 18l-20 24l-17 15l-11 5l-9 1l-8 -2l-8 -4l-18 -16l-32 -40l-2 -4v-7l-1 -1l-2 1l-3 -1l-7 -7l-21 -26l-15 -15l-11 -9l-15 -9l-11 -4zM138 266h2l14 8l12 3l10 -1l6 -2l13 -8l4 1l-1 8l-12 32l-6 11l-9 9l-4 1l-6 -4l-8 -11l-8 -18l-8 -23v-5z"/>
<path fill="#2929ff" stroke="#2929ff" d="M0 91v42h8l10 3l15 9l17 16l19 26l7 15l5 6l16 32l13 30l20 55l16 38l11 30h22l15 -38l1 -5l10 -23l15 -43l19 -46l14 -29l7 -9l2 -7l11 -19l17 -23l16 -16l8 -6l10 -5l7 -2h11l10 3l14 9l17 17l19 26l10 18l1 5l6 7l25 54l50 132h11v-64l-3 -1l-9 -9l-11 -23l-9 -26v-5l3 -1l17 10l6 2h6v-40h-5l-6 -2l-14 -9l-13 -13l-24 -30l-8 -13v-6h-3l-4 -2l-23 -28l-21 -21l-18 -13l-18 -7l-18 -1l-17 5l-15 9l-10 8l-19 19l-25 30l-6 2l-1 8l-24 32l-21 22l-15 9l-14 1l-15 -7l-20 -19l-27 -34l-3 -6l-1 -7h-4l-3 -2l-22 -27l-23 -23l-12 -9l-11 -6l-12 -4zM137 264l21 11l4 1l16 -1l12 -6l7 -5l3 1l-1 9l-12 32l-7 13l-9 9l-2 1l-4 -1l-6 -5l-5 -7l-8 -17l-10 -28v-6z"/>
<path fill="#2121ff" stroke="#2121ff" d="M505 237l-10 -2l-9 -5l-22 -21l-27 -35l-2 -4l-1 -7l-5 -1l-6 -6l-21 -26l-15 -15l-20 -15l-16 -7l-10 -2l-15 1l-10 3l-19 11l-24 22l-30 35h-4l-1 7l-4 7l-19 25l-14 16l-17 14l-9 4l-8 1l-1 -1h-5l-9 -4l-6 -4l-13 -12l-33 -41l-3 -7v-4l-5 -1l-6 -6l-21 -26l-17 -17l-14 -11l-13 -7l-13 -4h-8v40l10 1l9 3l16 10l17 17l10 13l9 14l4 10l9 13l27 59l20 55l5 10l1 5l10 23l10 28h22l15 -41l12 -28l6 -19l17 -44l13 -30l13 -26l5 -5l1 -5l8 -15l19 -27l20 -20l15 -9l6 -2h15l14 6l13 10l8 8l22 29l9 15l4 11l4 4l22 46l54 142h11v-63l-3 -1l-9 -9l-6 -11l-15 -40v-6l2 -1l20 12l11 2zM136 262l21 12l9 2l13 -2l10 -5l10 -7l2 1v6l-14 38l-7 13l-9 9l-3 1l-3 -1l-11 -12l-8 -17l-11 -30l-1 -5z"/>
<path fill="#1a1aff" stroke="#1a1aff" d="M0 92v40h7l13 4l19 13l9 9l15 19l10 16l3 8l6 8l25 53l18 46l5 16l5 10l3 10l18 44l1 5h22l51 -135l10 -23l8 -15v-2l7 -13l5 -6l2 -7l8 -14l17 -24l17 -18l14 -10l10 -4h5l1 -1h6l11 3l12 7l19 18l18 24l12 21l1 5l7 9l21 45l17 43l9 27l20 49l7 21h11v-63l-4 -1l-7 -7l-4 -6l-10 -23l-9 -26v-5l3 -1l19 12l6 2h6v-38l-11 -2l-15 -10l-17 -18l-24 -31l-3 -6l-1 -6l-4 -1l-8 -8l-9 -12l-20 -22l-11 -10l-14 -10l-12 -6l-10 -3l-23 1l-18 8l-15 11l-23 23l-22 27l-6 2l-1 7l-5 8l-21 27l-19 20l-14 9l-7 2h-8l-7 -2l-10 -6l-18 -17l-25 -31l-6 -9l-1 -7l-5 -2l-8 -8l-14 -18l-18 -19l-22 -17l-19 -8zM134 261h3l11 8l14 6l16 -1l10 -5l11 -8h2l2 2l-5 17l-11 28l-7 13l-8 8l-2 1l-6 -1l-8 -8l-3 -5l-14 -33l-6 -19z"/>
<path fill="#1212ff" stroke="#1212ff" d="M0 93v38l16 3l10 5l10 7l15 15l10 13l11 17l4 10l3 3l7 12l22 48l22 57l1 5l27 67h20l1 -1l53 -139l22 -47l6 -7l1 -5l10 -18l19 -26l16 -16l8 -6l10 -5l7 -2h11l7 2l17 10l18 18l20 28l10 21l5 6l23 49l52 137l1 1h10v-62l-4 -1l-7 -7l-6 -10l-18 -47v-6l2 -1l14 10l8 4l11 2v-38l-9 -1l-15 -9l-15 -15l-14 -17l-16 -22l-2 -8l-5 -2l-5 -5l-20 -25l-20 -20l-18 -13l-17 -7l-20 -1l-16 5l-15 9l-10 8l-18 18l-21 26l-5 5l-5 2v4l-3 6l-14 19l-14 17l-17 17l-9 6l-8 3h-12l-8 -3l-9 -6l-19 -19l-23 -29l-6 -10l-1 -6l-5 -1l-24 -29l-21 -21l-15 -11l-12 -6l-10 -3zM134 259l3 1l12 9l8 4l8 2h6l8 -2l8 -4l14 -10l3 2l-6 20l-11 28l-7 13l-8 8l-2 1l-6 -1l-7 -7l-4 -6l-7 -15l-13 -35l-1 -6z"/>
<path fill="#0a0aff" stroke="#0a0aff" d="M0 93v38h5l12 3l17 10l23 24l11 16l8 16l7 10l26 56l21 57l28 70h20l1 -1l11 -31l17 -41l12 -35l18 -44l18 -37l4 -4l3 -9l12 -20l14 -19l12 -13l17 -13l13 -5l17 1l11 5l7 5l20 20l18 25l9 16l1 5l9 13l21 46l19 49l3 11l22 54l7 21l1 1h10v-61l-5 -2l-8 -9l-10 -21l-13 -36v-5l3 -1l15 11l8 4l10 1v-36l-7 -1l-9 -4l-13 -10l-18 -20l-23 -31l-1 -7l-5 -2l-6 -6l-14 -18l-22 -23l-20 -15l-19 -8l-17 -1l-15 4l-19 11l-23 21l-23 28l-8 8h-3l-3 10l-14 19l-20 24l-17 15l-11 5l-9 1l-8 -2l-8 -4l-19 -17l-29 -36l-5 -8l-1 -6l-4 -1l-6 -6l-22 -27l-15 -15l-11 -9l-15 -9l-11 -4zM132 258h3l13 10l14 6l16 -1l10 -5l13 -10l4 1l-4 15l-15 38l-7 12l-9 8h-4l-9 -8l-5 -8l-16 -39l-5 -16z"/>
<path fill="#0303ff" stroke="#0303ff" d="M505 238l-11 -2l-14 -9l-12 -12l-15 -18l-17 -23l-3 -9l-3 -1l-9 -9l-14 -18l-12 -13l-13 -12l-12 -9l-16 -8l-15 -3l-12 1l-15 5l-13 8l-9 7l-23 23l-22 27l-5 2l-3 9l-16 22l-15 18l-13 13l-14 9l-6 2h-10l-15 -7l-20 -19l-27 -34l-4 -7l-1 -5l-4 -2l-8 -8l-15 -19l-16 -17l-23 -18l-16 -7l-14 -2v38h8l12 4l18 12l20 22l15 23l3 8l6 8l15 30l13 30l19 52l16 38l1 5l12 30h20l1 -1l7 -21l20 -49l9 -27l15 -38l17 -36v-2l8 -15l5 -6l1 -5l9 -16l10 -15l12 -15l17 -16l16 -9l10 -1l1 -1l8 1l9 3l7 4l9 7l13 13l18 24l8 13l6 14l6 8l18 38l14 34l14 40l6 13l1 5l8 18l14 38h10v-60l-6 -3l-4 -4l-10 -18l-17 -46v-5l1 -1l3 1l11 9l13 7l9 1zM131 256h2l19 14l12 4l13 -1l7 -3l17 -13l3 -1l2 2l-5 17l-12 31l-8 16l-8 9l-6 2l-5 -3l-7 -8l-8 -16l-11 -28l-6 -18z"/>
<path fill="#0000fb" stroke="#0000fb" d="M0 94v36l16 3l10 5l10 7l15 15l8 10l12 18l6 13l9 14l27 60l13 34l2 8l16 38l14 38h20l51 -134l15 -32v-2l10 -20l5 -6l1 -4l11 -20l19 -26l15 -15l11 -8l6 -3l11 -3h7l11 3l16 10l21 22l16 23l8 14l2 7l5 6l23 49l17 43l11 32l15 36l10 28h10v-60l-4 -1l-8 -8l-3 -5l-11 -25l-12 -33v-6l1 -1l22 16l8 3l7 1v-36h-6l-6 -2l-11 -7l-17 -17l-28 -36l-4 -11l-4 -1l-5 -5l-20 -25l-20 -20l-18 -13l-16 -7l-22 -1l-13 4l-17 10l-10 8l-18 18l-21 26l-5 5h-2l-2 2l-2 7l-16 22l-13 16l-18 18l-7 5l-10 4h-12l-8 -3l-9 -6l-19 -19l-26 -33l-3 -5l-1 -6l-5 -2l-24 -29l-21 -21l-15 -11l-12 -6l-10 -3zM130 255l4 1l17 13l10 4h5l1 1l14 -3l10 -6l12 -10l4 1l-5 17l-14 36l-8 15l-8 8l-2 1l-6 -1l-10 -11l-9 -19l-13 -34l-3 -10z"/>
<path fill="#0000f6" stroke="#0000f6" d="M0 94v36h5l12 3l18 11l18 18l9 12l12 19l2 6l7 10l26 56l49 128h20l53 -139l11 -23v-2l13 -26l5 -6l1 -5l8 -14l20 -28l18 -18l7 -5l10 -5l7 -2h11l12 4l12 8l19 19l16 22l8 13l6 14l3 3l5 9l20 44l15 38l9 27l25 62l3 10h10v-59l-5 -2l-8 -9l-14 -31l-13 -37l1 -2l4 1l14 12l9 5l6 2h6v-34l-7 -1l-9 -4l-13 -10l-18 -20l-19 -25l-5 -8l-1 -5l-4 -2l-6 -6l-21 -26l-16 -16l-22 -16l-15 -6l-20 -1l-11 3l-17 9l-16 13l-20 21l-14 18l-7 7l-4 2l-1 5l-4 7l-24 31l-16 17l-9 7l-8 4l-12 2l-8 -2l-8 -4l-19 -17l-29 -36l-6 -10v-3l-2 -2h-2l-6 -6l-14 -18l-23 -24l-11 -9l-17 -10l-14 -4zM129 253l5 2l16 13l12 5h12l6 -2l9 -5l16 -13l3 1l-6 20l-16 40l-7 12l-7 7l-2 1l-6 -1l-7 -7l-4 -6l-21 -51l-4 -12z"/>
<path fill="#0000f1" stroke="#0000f1" d="M0 94v36h7l13 4l19 13l9 9l15 19l10 16l3 8l6 8l14 28v2l14 30l18 49l24 59l6 18h20l52 -137l10 -23l8 -15v-2l7 -13l4 -5l1 -4l10 -18l14 -20l18 -20l15 -11l13 -5l17 1l11 5l7 5l21 21l19 27l8 15l1 4l6 8l9 18v2l15 32l16 41l6 19l25 62l4 13h10v-58l-6 -3l-8 -10l-16 -37l-11 -31v-2l2 -1l22 17l9 4l8 1v-34l-11 -2l-15 -10l-11 -11l-15 -18l-17 -23l-3 -9l-3 -1l-8 -8l-15 -19l-17 -18l-23 -18l-19 -8l-17 -1l-15 4l-16 9l-9 7l-24 24l-15 19l-12 11l-1 5l-15 21l-18 22l-13 13l-14 9l-7 2h-8l-7 -2l-9 -5l-20 -19l-31 -40l-2 -7l-3 -1l-8 -8l-14 -18l-18 -19l-22 -17l-19 -8zM128 251l4 2l17 14l15 6h8l7 -2l11 -6l17 -14l2 1l-3 12l-17 44l-8 16l-8 9l-6 2l-5 -3l-7 -8l-8 -16l-20 -52z"/>
<path fill="#0000ec" stroke="#0000ec" d="M505 239l-9 -1l-15 -9l-21 -22l-23 -30l-3 -5l-1 -5l-8 -6l-20 -25l-27 -26l-15 -10l-12 -5l-10 -1l-1 -1l-14 1l-16 6l-15 10l-26 25l-20 25l-9 7v3l-2 4l-13 18l-17 21l-17 17l-9 6l-8 3h-12l-8 -3l-9 -6l-19 -19l-28 -36l-2 -4v-3l-8 -6l-20 -25l-22 -22l-22 -15l-11 -4l-13 -2v35l9 1l17 7l11 8l13 13l19 26l8 16l4 5l5 11l2 2l25 56l17 47l21 51l7 21h20l4 -13l25 -62l6 -19l16 -41l15 -32v-2l9 -18l6 -8l1 -4l8 -15l12 -18l12 -15l17 -16l14 -8l6 -2h15l16 7l8 6l14 14l20 27l10 17l2 7l5 6l23 49l17 43l6 19l25 62l5 16h10v-58l-4 -1l-8 -8l-6 -11l-22 -56l-2 -9l1 -1l5 3l12 11l9 6l8 3l7 1zM127 249l21 17l7 4l12 3l8 -1l8 -3l9 -6l17 -14l1 1v4l-23 59l-7 13l-8 8l-2 1l-6 -1l-10 -11l-11 -24l-17 -45z"/>
<path fill="#0000e6" stroke="#0000e6" d="M0 95v34l10 1l9 3l16 10l17 17l10 13l12 19l3 8l7 10l25 54l20 54l30 75h19l5 -16l25 -62l6 -19l17 -43l11 -23v-2l27 -51l16 -23l20 -21l17 -11l12 -3l11 1l6 2l16 10l17 17l20 28l6 10l5 12l3 3l25 53l52 137l1 1h9v-57l-5 -2l-8 -9l-10 -21l-20 -52l1 -5l16 14l10 7l10 4h6v-32l-10 -2l-12 -7l-24 -25l-24 -32l-3 -8l-3 -1l-5 -5l-21 -26l-18 -18l-19 -14l-10 -5l-10 -3h-18l-11 3l-19 11l-11 9l-16 16l-21 26l-6 6l-3 1l-4 10l-18 24l-17 20l-18 15l-9 4l-8 1l-1 -1h-5l-9 -4l-12 -9l-8 -8l-32 -40l-5 -11l-4 -2l-5 -5l-20 -25l-18 -18l-14 -11l-13 -7l-13 -4zM210 247l1 5l-27 68l-5 8l-6 6l-4 2l-6 -2l-8 -9l-8 -16l-23 -60l3 -1l16 14l13 8l6 2h12l15 -7z"/>
<path fill="#0000e1" stroke="#0000e1" d="M0 95v34h6l11 3l10 5l13 10l20 23l13 20l3 8l6 8l14 28l16 37l16 44l12 28l1 5l18 45h18l1 -1l52 -137l25 -53l3 -3l5 -12l9 -15l17 -23l18 -18l17 -10l8 -2h9l8 2l17 10l19 19l18 25l6 10l5 12l7 10l20 43l16 40l11 32l23 57l4 13l1 1h9v-57l-4 -1l-8 -8l-10 -20l-22 -57v-3l2 -1l14 13l11 8l12 5h5v-32l-8 -1l-5 -2l-14 -10l-16 -17l-26 -34l-3 -8l-10 -9l-22 -27l-21 -20l-16 -11l-19 -7h-16l-16 5l-12 7l-17 14l-10 10l-23 28l-10 9l-2 6l-19 26l-15 18l-11 11l-13 9l-10 3h-6l-10 -3l-8 -5l-17 -16l-31 -39l-4 -9l-10 -9l-14 -18l-21 -22l-15 -12l-10 -6l-14 -5zM124 246l3 1l19 17l17 8l14 -1l14 -8l19 -17l3 1l-25 65l-8 15l-9 9h-5l-5 -3l-7 -9l-9 -19l-14 -38l-8 -18z"/>
<path fill="#0000dc" stroke="#0000dc" d="M0 95v34h8l10 3l11 6l9 7l20 22l14 21l5 11l4 5l27 57l51 132h18l1 -1l4 -13l25 -62l9 -27l16 -40l20 -43l7 -10l1 -4l10 -18l14 -20l17 -19l16 -12l14 -5l15 1l10 4l9 6l21 21l19 27l9 17v2l6 8l9 18v2l15 32l15 38l6 19l25 62l5 16l1 1h9v-56l-5 -2l-8 -9l-10 -21l-23 -60l3 -1l19 18l9 6l7 3l8 1v-32h-5l-6 -2l-14 -9l-19 -20l-27 -36l-2 -6l-10 -9l-15 -19l-16 -17l-15 -13l-9 -6l-12 -6l-7 -2l-18 -1l-14 4l-16 9l-9 7l-24 24l-20 25l-6 4l-3 8l-17 23l-14 17l-15 15l-13 8l-6 2h-10l-15 -7l-20 -19l-31 -40l-2 -6l-11 -10l-9 -12l-17 -19l-14 -13l-11 -8l-13 -7l-10 -3zM123 244l25 21l9 5l8 2l11 -1l9 -4l13 -10l12 -12l2 -1l2 1l-29 74l-6 10l-9 8h-3l-4 -2l-6 -6l-5 -8l-14 -33l-11 -30l-3 -5l-2 -6z"/>
<path fill="#0000d7" stroke="#0000d7" d="M0 96v32l16 3l10 5l10 7l15 15l10 13l25 42l25 55l48 125h18l1 -1l10 -29l20 -49l2 -8l19 -49l15 -32v-2l24 -45l15 -22l20 -22l12 -9l15 -6l17 1l17 9l18 17l20 27l9 15l4 10l4 5l26 56l24 65l15 36l12 33h9v-56h-3l-4 -3l-8 -11l-7 -15l-12 -33l-13 -31l2 -2l19 18l8 6l11 5h7v-31h-6l-8 -3l-10 -7l-21 -22l-23 -30l-5 -11l-7 -5l-20 -25l-22 -22l-18 -13l-8 -4l-10 -3l-16 -1l-17 5l-15 9l-9 7l-21 21l-20 25l-8 7l-7 13l-20 26l-23 24l-9 6l-8 3h-12l-8 -3l-9 -6l-19 -19l-26 -33l-5 -9v-2l-7 -5l-21 -26l-21 -21l-15 -11l-12 -6l-10 -3zM122 242l25 22l14 7h14l11 -5l7 -5l20 -19l2 1l-1 5l-7 15l-19 50l-10 18l-7 6h-6l-3 -2l-8 -10l-9 -19l-17 -45l-7 -15z"/>
<path fill="#0000d1" stroke="#0000d1" d="M505 241l-10 -2l-12 -7l-24 -25l-26 -35l-1 -4l-8 -7l-20 -25l-26 -25l-17 -11l-10 -4l-10 -1l-1 -1l-14 1l-21 9l-11 8l-23 22l-21 26l-9 8l-2 6l-10 14l-27 33l-18 15l-6 3l-9 2l-8 -1l-9 -4l-12 -9l-8 -8l-30 -37l-6 -9l-1 -4l-9 -8l-21 -26l-17 -17l-10 -8l-17 -10l-13 -4h-8v32l10 1l9 3l16 10l17 17l10 13l22 37l25 54l50 130h18l54 -141l11 -23v-2l24 -46l11 -17l14 -18l14 -14l8 -6l10 -5l6 -2h15l9 3l10 6l20 19l21 29l6 10l5 12l3 3l25 53l53 139h9v-55l-5 -2l-6 -6l-9 -17l-19 -50l-8 -17l-1 -5l2 -1l18 18l9 7l13 6h6zM121 240l25 23l6 4l10 4h12l10 -4l11 -8l18 -18l2 -1l1 1l-2 8l-6 12l-23 59l-6 10l-7 7l-6 1l-11 -11l-8 -16l-18 -47l-7 -14l-2 -6z"/>
<path fill="#0000cc" stroke="#0000cc" d="M0 96v32h6l11 3l10 5l14 11l19 22l23 38l27 58l49 128h18l53 -139l11 -23v-2l28 -53l20 -28l17 -17l16 -10l12 -3l11 1l6 2l16 10l18 18l18 25l6 10l5 12l7 10l20 43l13 32l18 50l13 31l11 31h9v-55l-7 -3l-8 -11l-34 -83l1 -2l3 1l21 21l7 5l13 5h4v-30l-8 -1l-10 -5l-9 -7l-15 -16l-16 -20l-13 -18l-2 -6l-9 -8l-22 -27l-15 -15l-20 -15l-10 -5l-10 -3h-19l-10 3l-19 11l-25 23l-22 27l-10 9l-2 6l-19 26l-15 18l-11 11l-13 9l-10 3h-6l-10 -3l-8 -5l-17 -16l-31 -39l-4 -7v-2l-10 -9l-14 -18l-21 -22l-15 -12l-10 -6l-14 -5zM120 239l25 23l12 7l7 2h8l13 -5l13 -10l17 -17l2 1l-30 76l-9 16l-7 6h-6l-6 -5l-5 -7l-11 -24l-13 -35l-9 -19l-2 -6z"/>
<path fill="#0000c7" stroke="#0000c7" d="M0 96v32h7l13 4l18 12l20 22l14 21l5 11l5 7l26 55l51 133h18l50 -132l13 -30l7 -13v-2l8 -15l4 -5v-2l11 -20l18 -25l19 -19l15 -9l11 -3h8l8 2l17 10l20 20l19 27l24 45v2l15 32l18 46l5 16l20 49l9 26h9v-54l-5 -2l-8 -9l-7 -14l-17 -45l-12 -27l1 -5l27 26l13 7l8 1v-30l-11 -2l-14 -9l-19 -20l-23 -30l-7 -13l-9 -8l-23 -28l-19 -18l-16 -11l-11 -5l-8 -2h-17l-15 5l-16 10l-20 18l-25 30l-10 9l-4 9l-14 19l-17 21l-14 14l-14 9l-6 2h-10l-15 -7l-20 -19l-27 -34l-7 -13l-10 -9l-14 -18l-17 -18l-23 -18l-16 -7zM119 237l17 17l12 10l7 4l10 3l11 -1l7 -3l10 -7l23 -23l2 1l-1 5l-11 24l-17 45l-8 16l-8 9l-6 2l-4 -2l-8 -9l-8 -16l-18 -47l-11 -24z"/>
<path fill="#0000c1" stroke="#0000c1" d="M0 96v32h9l9 3l8 4l11 8l13 13l11 14l11 17l5 11l4 5l5 11l2 2l23 51l18 49l21 51l9 26h18l9 -26l20 -49l8 -24l15 -38l15 -32v-2l24 -45l15 -22l18 -20l18 -13l12 -4l15 1l10 4l9 6l16 15l21 28l9 15l4 10l4 5l26 56l21 57l23 57l7 21h9v-54l-4 -1l-8 -8l-4 -7l-22 -56l-12 -27v-3l2 -1l21 22l9 7l11 5h7v-29l-9 -1l-15 -9l-21 -22l-23 -30l-5 -10l-6 -5l-20 -25l-24 -24l-15 -11l-18 -8l-20 -1l-11 3l-18 10l-9 7l-23 23l-20 25l-7 6v2l-5 8l-28 36l-17 17l-9 6l-8 3h-12l-17 -9l-19 -19l-28 -36l-4 -9l-11 -10l-15 -19l-22 -22l-22 -15l-11 -4zM118 236l29 27l14 7h14l11 -5l8 -6l21 -22l2 -1l2 1l-32 80l-7 13l-8 8l-6 1l-5 -3l-8 -11l-7 -15l-16 -42l-13 -29z"/>
<path fill="#0000bc" stroke="#0000bc" d="M0 97v30l9 1l12 4l15 10l16 16l19 27l5 9v2l9 14l24 52l18 46l1 5l24 59l7 21h18l12 -34l13 -31l1 -5l6 -13l2 -8l20 -51l23 -49l4 -5l3 -8l10 -17l15 -21l17 -18l14 -10l14 -5l16 1l17 9l18 17l12 15l16 25l5 12l4 5l24 51l24 62l1 5l23 57l5 16h9v-53l-5 -2l-9 -11l-8 -17l-17 -45l-4 -7l-8 -20l1 -4l27 27l9 6l8 3h6v-29h-6l-6 -2l-11 -7l-23 -24l-26 -35l-1 -4l-7 -6l-20 -25l-22 -22l-18 -13l-17 -7l-18 -1l-14 4l-17 10l-10 8l-20 20l-20 25l-7 6l-5 10l-23 30l-24 25l-12 7l-16 1l-6 -2l-10 -6l-12 -11l-22 -26l-12 -16l-6 -11l-7 -6l-21 -26l-19 -19l-16 -12l-12 -6l-11 -3zM117 234l24 24l11 8l10 4h12l10 -4l12 -9l22 -23l1 1l-1 7l-10 21l-20 52l-7 14l-8 9l-6 2l-4 -2l-8 -9l-10 -21l-16 -42l-11 -23l-2 -6z"/>
<path fill="#0000b7" stroke="#0000b7" d="M0 97v30l14 2l11 5l10 7l18 18l9 12l21 35l12 24l17 39l18 49l19 46l10 29h18l10 -29l20 -49l5 -16l16 -41l14 -30v-2l27 -51l17 -24l18 -19l11 -8l15 -6h13l7 2l18 11l20 21l18 26l27 52l13 30l17 44l2 8l20 49l11 32h9v-53l-4 -1l-9 -10l-10 -21l-15 -40l-7 -14l-7 -18v-2l2 -1l26 27l7 5l12 5h5v-28l-7 -1l-9 -4l-13 -10l-25 -29l-15 -20l-5 -10l-7 -6l-21 -26l-19 -19l-21 -15l-16 -6l-16 -1l-17 5l-12 7l-14 11l-17 17l-21 26l-8 7l-3 7l-28 37l-16 17l-9 7l-8 4l-12 2l-8 -2l-8 -4l-19 -17l-32 -40l-5 -10l-8 -7l-21 -26l-16 -16l-11 -9l-17 -10l-14 -4zM116 233l29 28l6 4l12 5h10l12 -5l15 -12l18 -20l2 1l-1 6l-13 28l-21 54l-5 9l-8 8l-2 1l-6 -1l-8 -8l-4 -7l-16 -38l-5 -15l-14 -30l-2 -6z"/>
<path fill="#0000b2" stroke="#0000b2" d="M505 242l-8 -1l-7 -3l-12 -9l-9 -9l-31 -39l-7 -13l-8 -7l-14 -18l-23 -24l-20 -15l-19 -8l-14 -1l-10 2l-16 7l-14 10l-20 19l-22 27l-10 10l-3 7l-33 42l-16 15l-10 6l-7 2l-12 -1l-7 -3l-10 -7l-25 -27l-23 -31l-1 -4l-9 -8l-23 -28l-19 -18l-8 -6l-17 -9l-12 -3h-6v30h7l10 3l10 5l13 10l20 23l13 20l5 11l4 5l14 28v2l14 30l17 46l24 59l8 24h18l11 -32l13 -31l1 -5l6 -13l5 -16l27 -66l29 -55l21 -29l20 -19l13 -7l6 -2h15l9 3l14 9l17 17l19 26l13 25l5 7l23 50l53 138h8v-52l-6 -3l-4 -4l-8 -14l-17 -42l-1 -5l-15 -33l-2 -8l1 -1l27 28l10 7l11 4h4zM220 231l1 1l-1 6l-15 33l-15 40l-8 17l-9 11l-5 2l-3 -1l-7 -6l-9 -16l-19 -49l-12 -25l-3 -11l2 -1l27 28l7 5l13 5h8l7 -2l13 -8z"/>
<path fill="#0000ac" stroke="#0000ac" d="M505 242h-5l-6 -2l-14 -9l-19 -20l-26 -34l-3 -7l-10 -10l-23 -28l-11 -11l-22 -17l-16 -7l-11 -1l-1 -1l-15 2l-14 6l-17 12l-15 14l-25 30l-10 10l-6 11l-29 37l-19 18l-15 7h-10l-6 -2l-13 -8l-22 -23l-24 -31l-4 -8l-10 -10l-25 -30l-15 -14l-14 -10l-10 -5l-10 -3l-10 -1v30h8l12 4l9 5l9 7l20 22l14 21l5 11l5 7l15 30l16 37l16 44l16 38l1 5l14 35h16l2 -3l5 -16l23 -57l21 -57l13 -30l7 -13v-2l10 -17l7 -15l12 -19l13 -17l17 -17l16 -10l13 -3l10 1l12 5l9 6l19 19l20 28l8 14l3 8l4 5l22 47l55 143h8v-52l-4 -1l-7 -7l-8 -15l-18 -47l-14 -30l-3 -10l2 -1l26 28l8 6l11 5l7 1zM115 230l28 29l12 8l11 3l15 -3l8 -5l20 -19l11 -13l2 1l-1 5l-15 33l-18 47l-7 14l-9 10l-2 1l-6 -1l-9 -10l-10 -21l-16 -42l-13 -27l-2 -6z"/>
<path fill="#0000a7" stroke="#0000a7" d="M0 97v30h9l9 3l8 4l11 8l13 13l11 14l14 22l2 6l4 5l17 34l13 30l49 127h16l1 -1l12 -34l20 -49l2 -8l18 -46l15 -32v-2l26 -48l14 -20l14 -16l16 -13l8 -4l11 -3h7l11 3l15 9l20 20l19 27l26 49v2l14 30l22 57l1 5l15 36l13 37l1 1h8v-52l-7 -3l-5 -6l-11 -23l-15 -40l-8 -16l-8 -20l1 -4l16 18l15 14l6 4l10 4h6v-27l-9 -1l-15 -9l-21 -22l-23 -30l-6 -11l-10 -10l-14 -18l-26 -26l-17 -12l-11 -5l-8 -2h-17l-13 4l-15 9l-9 7l-23 23l-20 25l-6 5l-6 11l-28 36l-17 17l-9 6l-8 3h-12l-17 -9l-19 -19l-30 -39l-2 -5l-11 -11l-15 -19l-22 -22l-22 -15l-11 -4zM114 229l6 5l7 9l14 14l9 7l11 5h14l11 -5l9 -7l26 -28l2 1l-8 21l-11 23l-1 5l-17 42l-6 11l-9 9h-6l-4 -3l-8 -11l-9 -20l-11 -30l-18 -39l-2 -6z"/>
<path fill="#0000a2" stroke="#0000a2" d="M0 98v28l9 1l12 4l15 10l15 15l8 10l12 18l8 16l6 9l24 52l51 132h16l1 -1l10 -29l20 -49l5 -16l19 -48l12 -25v-2l25 -47l15 -22l18 -20l13 -10l10 -5l8 -2l14 1l8 3l11 7l16 15l21 28l17 30l24 51l17 43l5 16l20 49l11 32l1 1h8v-51l-5 -2l-5 -5l-8 -14l-17 -42l-1 -5l-19 -43v-2l2 -1l11 13l19 19l9 6l8 3h6v-27h-6l-6 -2l-11 -7l-17 -17l-28 -36l-6 -11l-6 -5l-20 -25l-23 -23l-15 -11l-18 -8l-20 -1l-11 3l-18 10l-10 8l-21 21l-20 25l-7 6l-5 10l-23 30l-23 24l-7 5l-10 4h-12l-13 -6l-15 -13l-25 -30l-12 -16l-3 -7l-7 -6l-20 -25l-20 -20l-16 -12l-12 -6l-11 -3zM113 228l9 8l7 9l11 11l12 9l10 4h12l10 -4l14 -11l23 -26l2 1v3l-18 40l-18 47l-6 12l-8 9l-4 2l-6 -2l-9 -11l-8 -17l-16 -42l-14 -29l-4 -11z"/>
<path fill="#00009c" stroke="#00009c" d="M0 98v28l14 2l11 5l10 7l17 17l10 13l22 37l28 61l48 125h16l1 -1l5 -16l23 -57l1 -5l22 -57l14 -30v-2l24 -46l20 -29l17 -18l14 -10l14 -5h11l10 3l17 11l18 19l17 24l29 55l13 30l21 57l23 57l5 16l2 4h8v-51l-4 -1l-7 -7l-8 -15l-18 -47l-12 -25l-7 -18l1 -3l31 33l15 9l9 1v-26l-10 -2l-12 -7l-24 -25l-23 -30l-5 -10l-7 -6l-20 -25l-21 -21l-18 -13l-10 -5l-11 -3h-14l-14 4l-17 10l-10 8l-19 19l-20 25l-7 6l-2 5l-12 17l-26 32l-17 15l-11 5l-8 1l-9 -2l-8 -4l-18 -16l-27 -33l-10 -14l-2 -5l-7 -6l-21 -26l-17 -17l-10 -8l-17 -10l-14 -4zM223 226l1 3l-3 9l-12 25l-18 47l-10 21l-9 10l-2 1l-6 -1l-7 -7l-9 -17l-19 -49l-14 -29l-3 -11l1 -1l2 1l18 21l12 11l14 8l14 1l12 -5l7 -5z"/>
<path fill="#000097" stroke="#000097" d="M0 98v28h6l11 3l10 5l14 11l19 22l23 38l13 26v2l14 30l50 130h16l1 -1l11 -32l20 -49l5 -16l17 -43l11 -23v-2l28 -53l17 -24l18 -19l11 -8l15 -6l17 1l17 9l19 18l18 24l21 37l22 48l18 46l2 8l20 49l13 36h8v-51h-3l-6 -5l-11 -20l-18 -47l-12 -25l-7 -19l2 -1l16 19l14 14l10 7l7 3l8 1v-26l-10 -2l-8 -4l-9 -7l-20 -22l-22 -29l-5 -9l-8 -8l-21 -26l-17 -17l-20 -15l-17 -7l-18 -1l-14 4l-17 10l-12 10l-23 24l-13 17l-9 9l-2 5l-24 32l-22 24l-13 9l-10 3h-6l-10 -3l-8 -5l-17 -16l-31 -39l-6 -11l-7 -6l-15 -19l-21 -22l-15 -12l-10 -6l-14 -5zM112 225l32 34l7 5l13 5l12 -1l12 -6l20 -19l14 -17l2 -1l1 1l-3 10l-18 39l-3 10l-16 39l-7 12l-7 6h-6l-3 -2l-9 -12l-11 -25l-9 -25l-22 -49z"/>
<path fill="#000092" stroke="#000092" d="M0 98v28h7l13 4l19 13l9 9l12 15l22 36l15 30l16 37l47 123h16l10 -28l20 -49l21 -57l13 -30l27 -52l18 -26l20 -21l10 -7l15 -6l17 1l16 8l21 20l19 26l10 17l3 8l4 5l24 52l21 54l1 5l20 49l11 31h8v-50l-5 -2l-5 -5l-7 -12l-16 -39l-3 -10l-21 -47l1 -4l29 32l9 7l11 5l7 1v-26l-11 -2l-15 -10l-22 -24l-24 -32l-2 -5l-9 -9l-21 -26l-22 -21l-16 -11l-16 -6l-16 -1l-9 2l-10 4l-14 9l-13 11l-20 21l-14 18l-9 9l-4 8l-26 34l-19 20l-14 9l-7 2h-8l-7 -2l-10 -6l-19 -18l-27 -34l-7 -12l-42 -47l-22 -17l-19 -8zM111 224l32 34l10 7l12 4l11 -1l13 -7l18 -17l10 -13l7 -7l1 1l-2 9l-18 39l-18 47l-8 15l-6 6l-4 2l-6 -2l-9 -11l-8 -17l-16 -42l-15 -31l-5 -13z"/>
<path fill="#00008d" stroke="#00008d" d="M505 243h-5l-6 -2l-14 -9l-19 -20l-26 -34l-4 -8l-9 -9l-23 -28l-24 -22l-9 -6l-15 -7l-10 -2l-15 1l-19 8l-15 11l-15 14l-25 30l-10 10l-6 11l-29 37l-19 18l-15 7l-14 -1l-15 -9l-17 -17l-29 -37l-4 -8l-10 -10l-15 -19l-24 -24l-12 -9l-11 -6l-12 -4l-10 -1v28h8l10 3l11 6l9 7l12 12l19 26l7 12l1 4l4 5l17 34l13 30l49 128h16l13 -36l20 -49l2 -8l18 -46l17 -36v-2l6 -12l5 -7l7 -15l12 -19l13 -17l21 -20l13 -7l6 -2h15l9 3l10 6l22 21l20 28l7 12l3 8l5 7l22 47l16 40l10 29l15 36l14 39h8v-50l-4 -1l-7 -7l-7 -13l-19 -49l-18 -39l-3 -10l2 -1l14 17l14 15l12 9l9 4l7 1zM111 223l18 21l18 17l11 6l9 2l11 -2l12 -7l15 -14l16 -20l4 -3l1 1l-2 8l-18 39l-18 47l-7 14l-9 10l-2 1l-6 -1l-9 -10l-12 -26l-14 -37l-15 -31l-4 -10z"/>
<path fill="#000087" stroke="#000087" d="M505 243l-9 -1l-15 -9l-21 -22l-23 -30l-6 -11l-10 -10l-14 -18l-12 -13l-23 -20l-6 -4l-16 -7l-10 -1l-1 -1l-16 2l-14 6l-17 12l-24 24l-20 25l-5 4l-4 8l-31 40l-17 17l-9 6l-8 3h-12l-8 -3l-9 -6l-24 -25l-21 -27l-7 -12l-10 -10l-15 -19l-22 -22l-22 -15l-11 -4l-13 -2v27l9 1l9 3l18 11l15 15l10 13l14 22l12 22l22 48l18 46l1 5l21 51l11 31h16l11 -31l20 -49l17 -47l20 -46l20 -38l14 -22l10 -13l18 -18l14 -9l9 -3l8 -1l1 1l10 1l9 4l9 6l12 11l22 28l19 33l17 35l19 46l1 5l29 73l12 34h8v-50h-3l-6 -5l-10 -18l-15 -37l-1 -5l-15 -32l-9 -23l2 -1l7 7l9 12l18 18l11 7l6 2h6zM110 222l30 33l12 9l10 4l16 -1l12 -7l12 -11l17 -21l6 -6l2 1l-8 21l-13 27l-22 56l-6 10l-7 6l-3 1l-3 -1l-9 -9l-11 -23l-17 -44l-15 -31l-4 -10z"/>
<path fill="#000082" stroke="#000082" d="M0 99v26l9 1l12 4l15 10l15 15l8 10l12 18l8 16l6 9l29 64l13 36l24 59l9 26h16l14 -39l15 -36l13 -37l13 -32l12 -25v-2l25 -47l15 -22l16 -18l17 -13l6 -3l12 -3l11 1l14 6l13 10l18 20l17 25l25 48v2l11 23l14 35l10 29l15 36l4 13l4 8l7 21h8v-49l-5 -2l-5 -5l-6 -10l-22 -56l-9 -18l-12 -29v-2l2 -1l17 21l16 16l10 7l8 3h6v-25h-6l-6 -2l-11 -7l-17 -17l-31 -40l-4 -8l-5 -4l-20 -25l-23 -23l-18 -13l-18 -7h-18l-13 4l-15 9l-9 7l-22 22l-20 25l-6 5l-6 11l-23 30l-23 24l-7 5l-10 4h-12l-13 -6l-15 -13l-25 -30l-12 -16l-4 -8l-6 -5l-20 -25l-20 -20l-16 -12l-12 -6l-11 -3zM109 221l6 5l22 26l12 10l13 6h12l13 -6l22 -21l9 -12l8 -8l1 1v3l-20 44l-21 54l-8 14l-5 5l-4 2l-6 -2l-9 -11l-10 -22l-17 -44l-15 -31l-4 -11z"/>
<path fill="#00007d" stroke="#00007d" d="M0 99v26l14 2l11 5l10 7l17 17l10 13l22 37l28 61l15 41l21 51l12 34h16l12 -34l20 -49l5 -16l15 -38l14 -30v-2l20 -39l9 -15l16 -22l14 -15l13 -10l8 -4l11 -3h7l9 2l16 9l22 22l17 24l29 55l13 30l16 41l2 8l4 8l1 5l15 36l13 37h8v-49l-4 -1l-7 -7l-7 -13l-17 -42l-1 -5l-12 -25l-12 -29l2 -2l6 6l13 17l15 15l15 9l9 1v-24l-10 -2l-12 -7l-24 -25l-23 -30l-6 -11l-6 -5l-20 -25l-21 -21l-21 -15l-17 -6h-17l-10 3l-18 10l-11 9l-26 27l-13 17l-8 8l-5 9l-18 24l-17 20l-18 15l-9 4l-8 1l-1 -1h-5l-9 -4l-12 -9l-8 -8l-30 -37l-7 -10l-2 -5l-7 -6l-21 -26l-17 -17l-10 -8l-17 -10l-13 -4zM109 220l7 7l10 13l18 18l7 5l12 5l14 -1l11 -6l20 -19l13 -17l5 -5l2 1l-7 19l-16 34l-18 47l-8 15l-7 7l-2 1l-6 -1l-9 -10l-9 -19l-17 -44l-18 -38l-3 -8z"/>
<path fill="#000078" stroke="#000078" d="M0 99v26h6l11 3l10 5l14 11l19 22l23 38l27 58l18 46l1 5l21 51l10 29h16l7 -21l4 -8l4 -13l15 -36l1 -5l23 -59l11 -23v-2l28 -53l17 -24l16 -17l12 -9l10 -5l8 -2h9l8 2l12 6l9 7l18 19l18 26l20 37v2l8 15l10 23l21 54l1 5l15 36l4 13l4 8l8 24h8v-49h-3l-5 -4l-5 -7l-6 -12l-18 -47l-23 -51l1 -4l8 8l14 18l12 12l14 9l11 2v-24l-10 -2l-8 -4l-10 -8l-19 -21l-22 -29l-5 -9l-8 -8l-20 -25l-19 -19l-17 -13l-18 -8l-20 -1l-11 3l-19 11l-11 9l-24 25l-14 18l-8 8l-7 12l-24 31l-16 17l-9 7l-8 4l-7 2h-6l-7 -2l-11 -6l-17 -16l-34 -43l-2 -5l-8 -8l-22 -27l-14 -14l-15 -12l-12 -7l-11 -4zM108 219l10 10l9 12l17 17l7 5l13 5l12 -1l12 -6l18 -17l14 -18l7 -7l1 1l-3 11l-19 41l-18 47l-8 16l-9 9h-6l-9 -9l-13 -28l-14 -37l-19 -40l-3 -8z"/>
<path fill="#000072" stroke="#000072" d="M0 99v26h7l10 3l10 5l12 9l9 9l12 15l22 36l14 28l17 39l13 36l21 51l13 37h16l13 -37l20 -49l5 -16l13 -33l13 -30l29 -55l17 -24l17 -18l14 -10l14 -5l15 1l6 2l12 7l19 18l18 24l13 22l2 6l5 7l23 50l17 43l5 16l17 41l14 40h8v-48l-5 -2l-5 -5l-9 -17l-15 -37l-1 -5l-19 -41l-7 -18l2 -2l4 4l13 17l15 16l9 7l10 5l8 1v-24h-4l-9 -3l-13 -9l-17 -18l-24 -31l-7 -12l-8 -8l-21 -26l-17 -17l-20 -15l-10 -5l-11 -3h-15l-13 4l-17 10l-12 10l-22 23l-14 18l-9 9l-4 8l-26 34l-18 19l-15 10l-7 2h-8l-7 -2l-10 -6l-18 -17l-33 -42l-3 -6l-8 -8l-14 -18l-20 -21l-12 -10l-19 -11l-9 -3zM107 218l7 6l15 19l14 14l10 7l12 4l11 -1l13 -7l16 -15l18 -23l4 -4l2 1l-3 10l-20 43l-22 56l-6 10l-5 5l-4 2l-6 -2l-5 -5l-5 -8l-25 -62l-19 -40l-3 -9z"/>
<path fill="#00006d" stroke="#00006d" d="M0 99v26h7l13 4l9 5l9 7l20 22l14 21l25 48v2l14 30l17 46l24 59l8 24h16l8 -24l4 -8l4 -13l15 -36l1 -5l21 -54l10 -23l8 -15v-2l20 -37l18 -26l19 -20l11 -8l11 -5l5 -1h12l7 2l18 11l16 16l19 26l10 17l2 6l5 7l22 47l13 32l10 29l6 13l1 5l6 13l1 5l4 8l1 5l4 8l9 27h8v-48l-4 -1l-6 -6l-6 -10l-22 -56l-9 -18l-14 -33l1 -4l31 36l11 9l8 4l10 2v-24l-11 -2l-14 -9l-19 -20l-26 -34l-4 -8l-9 -9l-22 -27l-21 -20l-16 -11l-15 -6l-18 -1l-14 4l-14 8l-17 14l-19 20l-14 18l-9 9l-7 12l-19 25l-24 26l-14 9l-7 2h-8l-7 -2l-9 -5l-20 -19l-30 -38l-5 -9l-9 -9l-24 -29l-16 -15l-14 -10l-10 -5l-10 -3zM107 217l8 8l15 19l12 12l8 6l8 4l8 2l12 -2l11 -6l14 -13l19 -24l6 -6l2 1l-6 16l-17 36l-21 54l-7 13l-7 7l-2 1l-6 -1l-7 -7l-3 -5l-12 -27l-15 -39l-21 -45z"/>
<path fill="#000068" stroke="#000068" d="M0 99v26h8l10 3l8 4l11 8l13 13l11 14l20 33l17 34l13 30l14 38l4 8l1 5l19 46l11 32h16l11 -32l20 -49l5 -16l17 -43l16 -34v-2l25 -46l19 -26l16 -16l10 -7l15 -6l17 1l16 8l22 21l20 28l25 47v2l15 32l15 38l5 16l20 49l12 35h8v-48l-4 -1l-7 -7l-6 -11l-16 -39l-3 -10l-26 -58v-2l2 -1l20 25l18 18l12 7l10 1v-23l-9 -1l-15 -9l-20 -21l-21 -27l-10 -16l-8 -8l-24 -29l-18 -17l-17 -12l-15 -6l-17 -1l-12 3l-21 12l-16 14l-15 16l-15 19l-9 9l-4 8l-26 34l-21 22l-15 9l-14 1l-15 -7l-21 -20l-29 -37l-5 -9l-9 -9l-15 -19l-24 -24l-12 -9l-11 -6l-12 -4zM106 216l5 4l14 18l15 16l12 9l9 4h14l15 -8l19 -19l17 -22l3 -2l1 1l-5 15l-20 43l-18 47l-8 15l-8 8h-6l-5 -4l-5 -7l-9 -19l-16 -42l-23 -49l-2 -6z"/>
<path fill="#000062" stroke="#000062" d="M0 99v25l16 3l10 5l10 7l15 15l10 13l25 42l28 62l13 36l24 59l9 27h16l14 -40l13 -31l1 -5l4 -8l18 -49l12 -28l6 -11v-2l21 -40l19 -28l21 -22l8 -6l10 -5l7 -2h14l11 4l8 5l22 21l15 20l19 33l21 44l17 42l10 29l15 36l14 40l2 3h7v-47l-3 -1l-6 -5l-9 -16l-21 -54l-10 -20l-14 -34l2 -1l5 5l17 22l16 16l11 7l6 2h6v-23l-9 -1l-15 -9l-21 -22l-23 -30l-7 -12l-9 -9l-15 -19l-26 -26l-14 -10l-15 -7l-10 -2h-9l-15 4l-16 9l-9 7l-24 24l-20 25l-4 3l-5 9l-25 33l-23 24l-9 6l-8 3h-12l-8 -3l-9 -6l-19 -19l-29 -37l-4 -8l-10 -10l-15 -19l-22 -22l-15 -11l-12 -6l-10 -3h-8zM106 215l32 37l14 11l10 4h12l13 -6l21 -20l16 -21l5 -5l2 1l-5 14l-23 50l-1 5l-15 37l-7 14l-7 8l-6 2l-4 -2l-7 -8l-10 -21l-17 -44l-24 -52z"/>
<path fill="#00005d" stroke="#00005d" d="M505 244h-6l-13 -6l-21 -20l-31 -40l-4 -8l-5 -4l-20 -25l-24 -24l-15 -11l-19 -8l-14 -1l-16 4l-13 7l-13 10l-22 22l-20 25l-7 7l-5 9l-28 36l-18 18l-7 5l-10 4h-12l-6 -2l-7 -4l-11 -9l-22 -25l-19 -25l-5 -9l-5 -4l-20 -25l-26 -25l-10 -7l-12 -6l-11 -3h-8v24l9 1l12 4l15 10l16 16l19 27l8 16l6 9l27 59l49 127h15l12 -35l20 -49l5 -16l15 -38l15 -32v-2l22 -42l23 -33l18 -18l14 -9l9 -3h15l13 5l9 6l13 12l11 13l12 17l17 30l18 37l17 41l10 29l15 36l1 5l4 8l14 38h7v-47l-5 -2l-5 -5l-9 -17l-18 -47l-21 -45l-5 -15l1 -1l7 7l17 22l14 14l15 9l9 1zM105 214l9 9l13 17l18 18l9 6l8 3h12l8 -3l9 -6l16 -16l16 -21l7 -7l1 1v3l-25 55l-22 56l-6 10l-8 7l-6 -1l-6 -6l-5 -8l-25 -62l-24 -52z"/>
<path fill="#000058" stroke="#000058" d="M505 245l-10 -2l-12 -7l-24 -25l-23 -30l-5 -9l-7 -7l-20 -25l-27 -26l-13 -9l-14 -6l-10 -1l-1 -1l-16 2l-14 6l-13 9l-33 33l-13 17l-8 8l-2 5l-21 28l-17 20l-18 15l-6 3l-9 2l-8 -1l-9 -4l-12 -9l-8 -8l-33 -41l-6 -10l-27 -32l-18 -18l-10 -8l-17 -10l-13 -4h-8v24l10 1l9 3l16 10l17 17l10 13l22 37l26 56l51 132h14l2 -3l14 -40l15 -36l1 -5l21 -54l14 -30v-2l20 -39l18 -28l15 -18l12 -11l15 -9l14 -3l9 1l17 8l18 16l24 32l29 55l13 30l52 136h7v-47l-4 -1l-6 -6l-5 -8l-23 -58l-17 -36l-9 -23l2 -1l4 4l15 20l18 19l8 6l8 4l9 1zM231 213l1 2l-2 6l-26 57l-19 49l-6 11l-7 7l-6 1l-9 -8l-6 -11l-20 -51l-21 -44l-6 -17l2 -1l4 4l18 23l16 16l15 9l14 1l12 -5l7 -5l14 -14l16 -21z"/>
<path fill="#000053" stroke="#000053" d="M505 245l-7 -1l-11 -5l-11 -9l-18 -20l-22 -29l-5 -9l-7 -7l-21 -26l-26 -25l-13 -9l-14 -6l-12 -1l-1 -1l-14 2l-12 5l-16 11l-31 31l-14 18l-7 7l-8 13l-31 39l-18 16l-8 4l-8 2l-9 -1l-11 -5l-19 -17l-23 -28l-12 -16l-3 -6l-29 -34l-15 -15l-11 -9l-15 -9l-11 -4l-12 -1v24h5l12 3l13 7l12 10l20 24l21 35l27 58l51 132h14l1 -1l13 -37l15 -36l1 -5l4 -8l1 -5l20 -51l11 -23v-2l25 -48l11 -17l16 -20l14 -13l15 -9l6 -2l11 -1l12 3l8 4l12 9l10 10l13 16l10 15l19 34l21 46l54 141h7v-47h-3l-5 -4l-9 -15l-21 -54l-24 -52l-2 -8l1 -1l6 6l21 27l10 10l11 8l7 3l8 1zM104 212l7 7l18 23l14 14l8 6l13 5l12 -1l12 -6l17 -16l20 -26l6 -6l1 1l-1 6l-24 52l-21 54l-9 16l-6 5l-3 1l-6 -3l-7 -9l-11 -24l-14 -37l-24 -51l-3 -8z"/>
<path fill="#00004d" stroke="#00004d" d="M0 100v24h6l11 3l10 5l13 10l20 23l22 36l14 28l17 39l48 125h14l1 -1l13 -37l18 -44l20 -54l13 -30l29 -55l17 -24l16 -17l12 -9l8 -4l11 -3h7l9 2l10 5l11 8l18 19l18 26l21 39v2l17 36l14 35l7 21l4 8l1 5l13 31l14 40l1 1h7v-46l-5 -2l-4 -4l-9 -16l-18 -47l-21 -45l-8 -20l1 -2l2 1l27 34l14 13l8 5l5 2l8 1v-22l-10 -2l-8 -4l-9 -7l-16 -17l-21 -27l-11 -17l-7 -7l-21 -26l-18 -18l-11 -9l-11 -7l-17 -6h-17l-10 3l-15 8l-15 12l-16 16l-21 26l-8 8l-5 9l-22 29l-22 24l-13 9l-10 3h-6l-10 -3l-8 -5l-18 -17l-33 -42l-3 -6l-8 -8l-22 -27l-12 -12l-16 -13l-17 -9l-12 -3zM232 211l1 2l-4 11l-24 52l-18 47l-9 17l-5 5l-6 2l-4 -2l-5 -5l-9 -17l-19 -49l-27 -58v-3l1 -1l8 8l18 23l13 13l14 9l7 2h8l11 -4l11 -8l10 -10l21 -27z"/>
<path fill="#000048" stroke="#000048" d="M0 100v24h7l13 4l19 13l15 16l11 15l11 18l21 41v2l14 30l50 130h14l1 -1l11 -32l4 -8l1 -5l15 -36l10 -29l15 -37l18 -39l19 -34l17 -24l17 -18l11 -8l10 -5l8 -2h9l8 2l7 3l13 9l19 20l15 21l10 17l2 6l6 9l21 45l13 32l10 29l8 18l1 5l6 13l1 5l4 8l12 35l1 1h7v-46l-4 -1l-6 -6l-8 -15l-21 -54l-5 -9v-2l-5 -9l-16 -37l1 -4l32 39l14 12l8 4l10 2v-22l-11 -2l-15 -10l-22 -24l-22 -29l-5 -9l-8 -8l-21 -26l-16 -16l-20 -15l-10 -5l-10 -3h-17l-10 3l-19 11l-12 10l-22 23l-14 18l-8 8l-5 9l-26 34l-19 20l-14 9l-7 2h-8l-7 -2l-10 -6l-19 -18l-30 -38l-5 -9l-41 -46l-22 -17l-19 -8zM232 210l1 1l-1 6l-29 64l-1 5l-15 37l-9 17l-6 6l-6 1l-8 -7l-9 -17l-17 -44l-25 -53l-5 -14l2 -1l27 33l16 15l8 5l10 3h6l10 -3l14 -10l14 -15z"/>
<path fill="#000043" stroke="#000043" d="M0 100v24h8l10 3l11 6l9 7l20 22l17 26l31 63l31 78l1 5l8 18l15 41h14l1 -1l14 -40l15 -36l1 -5l4 -8l2 -8l17 -43l17 -36v-2l21 -39l18 -26l18 -19l14 -10l15 -5l14 1l6 2l12 7l20 19l19 26l17 30l25 54l21 54l1 5l15 36l15 43l1 1h7v-46l-4 -1l-6 -6l-9 -17l-18 -47l-17 -36l-12 -29l2 -1l6 6l18 24l18 18l6 4l9 4l7 1v-22h-5l-6 -2l-14 -9l-19 -20l-26 -34l-5 -9l-8 -8l-22 -27l-14 -14l-21 -16l-16 -7l-20 -1l-11 3l-16 9l-17 14l-19 20l-14 18l-9 9l-2 5l-28 37l-21 22l-13 8l-6 2h-10l-15 -7l-20 -19l-33 -42l-2 -5l-9 -9l-9 -12l-17 -19l-13 -12l-12 -9l-13 -7l-10 -3zM233 209l1 3l-28 62l-22 56l-5 9l-7 7l-6 1l-9 -8l-5 -9l-24 -60l-25 -53l-1 -6l1 -1l6 6l17 22l14 15l10 8l8 4l11 2l9 -2l8 -4l11 -9z"/>
<path fill="#00003e" stroke="#00003e" d="M0 100v24h8l10 3l8 4l11 8l18 19l20 30l15 28v2l19 40l52 135h14l1 -1l9 -27l23 -57l18 -49l13 -30l6 -11v-2l25 -46l19 -26l15 -15l11 -8l16 -6h11l10 3l16 10l21 22l16 23l26 49v2l14 30l21 54l1 5l20 49l11 31h7v-45l-8 -5l-8 -13l-22 -56l-28 -62v-2l2 -1l25 32l16 16l7 5l6 3l10 1v-21l-9 -1l-15 -9l-15 -15l-10 -12l-24 -32l-2 -5l-9 -9l-14 -18l-19 -20l-23 -18l-13 -6l-8 -2h-15l-13 4l-14 8l-19 16l-16 17l-15 19l-8 8l-5 9l-26 34l-21 22l-15 9l-14 1l-15 -7l-21 -20l-32 -41l-3 -6l-8 -8l-15 -19l-24 -24l-23 -15l-12 -4zM102 209l8 8l16 21l13 14l13 10l9 4h14l15 -8l18 -18l18 -24l7 -7l1 1l-6 17l-22 47l-21 54l-8 14l-6 5l-3 1l-6 -3l-7 -9l-8 -17l-19 -49l-23 -48l-4 -10z"/>
<path fill="#000038" stroke="#000038" d="M0 100v23l16 3l10 5l10 7l15 15l10 13l10 15l15 27l28 62l47 123h14l1 -1l12 -35l4 -8l1 -5l15 -36l10 -29l13 -32l22 -47l17 -30l14 -20l21 -22l10 -7l11 -5l5 -1h11l8 2l18 11l17 17l20 28l14 25l24 51l14 35l7 21l15 36l1 5l4 8l14 39h7v-45l-5 -2l-4 -4l-8 -14l-21 -54l-18 -38l-11 -27l2 -1l4 4l23 30l15 15l9 6l8 3h6v-21l-9 -1l-15 -9l-21 -22l-26 -34l-5 -9l-8 -8l-15 -19l-26 -26l-17 -12l-15 -6l-18 -1l-16 5l-13 8l-9 7l-24 24l-25 30l-9 14l-20 26l-23 24l-9 6l-8 3h-12l-8 -3l-9 -6l-19 -19l-29 -37l-5 -9l-9 -9l-15 -19l-22 -22l-15 -11l-12 -6l-10 -3h-8zM234 208l1 2l-28 62l-21 54l-8 15l-5 5l-6 2l-8 -6l-9 -16l-17 -44l-29 -62l-3 -10l2 -1l24 30l18 18l7 5l10 4h12l10 -4l7 -5l16 -16l22 -29z"/>
<path fill="#000033" stroke="#000033" d="M0 101v22l9 1l12 4l15 10l16 16l19 27l8 16l5 7l28 61l49 128h14l1 -1l15 -43l15 -36l1 -5l21 -54l15 -32v-2l25 -47l20 -28l17 -17l10 -7l15 -6l17 1l16 8l23 22l16 22l17 30l13 26v2l14 30l20 54l15 36l17 47h7v-45l-4 -1l-6 -6l-8 -15l-18 -47l-31 -69l1 -3l6 6l23 30l13 13l7 5l11 5h6v-21h-6l-6 -2l-11 -7l-22 -23l-26 -34l-5 -9l-4 -3l-20 -25l-24 -24l-20 -14l-13 -5l-17 -1l-12 3l-18 10l-9 7l-23 23l-26 31l-6 10l-23 30l-23 24l-7 5l-10 4h-12l-10 -4l-17 -14l-26 -31l-18 -26l-3 -2l-21 -26l-20 -20l-16 -12l-12 -6l-11 -3zM234 207l1 3l-2 6l-28 61l-18 47l-9 17l-6 6l-6 1l-8 -7l-9 -17l-19 -49l-22 -46l-8 -20l2 -1l6 6l20 26l17 17l9 6l8 3h12l8 -3l10 -7l14 -14l22 -29z"/>
<path fill="#00002e" stroke="#00002e" d="M0 101v22l10 1l9 3l16 10l17 17l10 13l22 37l26 56l15 38l1 5l24 59l11 31h14l11 -31l4 -8l4 -13l8 -18l14 -39l17 -42l21 -44l14 -25l20 -28l18 -18l7 -5l10 -5l7 -2l17 1l8 3l8 5l12 10l11 12l16 22l17 30l14 28l13 30l20 54l20 49l12 34h7v-45l-4 -1l-6 -6l-8 -15l-21 -54l-28 -61v-3l2 -1l29 37l11 11l8 6l8 4l9 1v-21l-10 -1l-13 -8l-23 -24l-23 -30l-6 -10l-25 -30l-24 -24l-15 -11l-15 -7l-9 -2h-11l-12 3l-18 10l-10 8l-28 29l-20 24l-3 6l-21 28l-22 25l-7 6l-15 8h-14l-15 -8l-14 -13l-20 -24l-18 -24l-1 -3l-27 -32l-18 -18l-10 -8l-17 -10l-13 -4zM235 206l1 2l-5 13l-26 56l-18 47l-8 16l-7 7l-6 1l-8 -7l-9 -17l-17 -44l-25 -53v-2l-7 -14v-3l1 -1l7 7l21 27l15 15l15 9l14 1l12 -5l7 -5l13 -13l23 -30z"/>
<path fill="#000000" stroke="#000000" d="M0 101v22l14 2l11 5l9 6l19 19l9 12l21 35l18 37l11 28l3 5l46 121h14l14 -39l4 -8l1 -5l6 -13l1 -5l8 -18l2 -8l19 -48l11 -23v-2l25 -48l17 -25l14 -16l16 -13l7 -4l9 -3l19 1l9 4l9 6l21 21l17 24l20 36l20 44l14 35l7 21l4 8l1 5l13 31l15 42h7v-44l-3 -1l-8 -8l-8 -16l-18 -47l-31 -69l1 -3l5 5l27 35l9 9l11 8l7 3l8 1v-20l-7 -1l-9 -4l-14 -11l-24 -28l-18 -24l-3 -6l-26 -31l-22 -22l-16 -12l-15 -7l-10 -2h-9l-15 4l-13 7l-14 11l-19 19l-21 26l-7 7l-8 13l-20 26l-19 21l-10 8l-8 4l-12 2l-8 -2l-8 -4l-19 -17l-35 -44l-3 -6l-7 -7l-21 -26l-16 -16l-11 -9l-17 -10l-14 -4zM100 206l4 3l26 33l13 13l8 6l12 5h10l6 -2l14 -9l17 -18l24 -31l2 1l-8 21l-22 47l-22 56l-8 13l-5 4l-3 1l-6 -3l-8 -11l-25 -62l-27 -57l-3 -8z"/>
</g>
<g transform="translate(1371.8 37.6)" stroke-width="1" stroke-linejoin="round" fill-rule="evenodd">
<path fill="#f7f7ff" stroke="#f7f7ff" d="M0 8v208l13 2l11 5l11 8l10 11l-5 15l-11 25l-4 13v5h2l6 -6l18 -31l5 -5h2l12 16l14 24l24 49l19 45h82l20 -46l21 -42l11 -19l10 -15l7 -8h3l5 6l21 40l11 18l9 10l8 4l6 -1l11 -10l14 -22l18 -35l4 -6l4 -4h2l9 10l20 33l21 42l19 45h41v-333l-39 19l-12 4l-16 3h-12l-20 -5l-3 -2l-9 -11l-9 -4l-12 -10l-11 -4h-8l-7 2l-35 -2l-15 7l-32 11l-17 4h-9l-1 1l-20 -2l-36 -9h-8l-1 -1l-17 1l-30 6h-18l-11 -3l-13 -6l-46 -31l-32 -18zM329 222h14l11 3l11 6l14 12v4l-8 19l-14 26l-12 15l-9 4l-6 -2l-9 -9l-5 -7l-14 -26l-9 -22l9 -10l7 -5l10 -5z"/>
<path fill="#f0f0ff" stroke="#f0f0ff" d="M0 40v144h12l9 3l7 4l20 19l6 11v6l-4 13l-20 45l-1 7l7 -7l20 -37l7 -8h3l7 7l6 10l19 38l19 44l20 53h62l19 -50l16 -37l25 -49l4 -6l7 -7l4 1l9 12l18 36l17 29l10 11l8 3l5 -1l12 -11l12 -19l27 -52l7 -8l2 -1l3 1l4 4l10 16l20 40l30 72l5 16h31v-305l-15 3l-16 9l-37 37l-5 1l-9 -9l-23 -34l-9 -9l-7 -3l-10 -9l-5 -3l-11 -3l-17 1l-1 1l-24 -2l-8 2l-6 3l-14 12l-7 3l-17 21l-14 22l-7 7h-4l-3 -2l-16 -18l-12 -12l-10 -8l-13 -7l-11 -3h-10l-9 2l-14 7l-8 6l-18 18l-11 13l-4 3h-5l-5 -5l-19 -31l-21 -28l-17 -17l-10 -7l-12 -6zM336 166l8 2l9 6l27 27l5 7l4 10v11l-5 15l-21 43l-13 20l-6 6l-7 3l-7 -2l-9 -9l-5 -7l-24 -46l-9 -25v-7l2 -7l5 -9l6 -7l26 -25l9 -5z"/>
<path fill="#e8e8ff" stroke="#e8e8ff" d="M0 51v122l15 1l14 7l20 19l9 14v8l-3 10l-20 44l-2 9l7 -10l17 -32l4 -6l5 -5h2l6 6l5 8l20 40l30 72l12 34h54l1 -1l11 -33l27 -64l24 -47l10 -12h2l9 11l26 51l14 23l7 8l7 4l9 -1l10 -9l11 -17l31 -60l7 -9l2 -1l3 1l4 4l9 15l19 38l31 74l8 25h27v-301h-7l-7 2l-18 10l-18 17l-12 15l-11 10l-4 -1l-4 -4l-17 -26l-14 -17l-4 -3h-2l-17 -14l-12 -4h-13l-1 1l-28 -1l-13 5l-14 12l-5 2l-9 9l-23 34l-7 7l-7 -3l-15 -18l-19 -19l-10 -7l-10 -5l-7 -2h-16l-16 6l-16 12l-31 34l-5 1l-5 -5l-21 -34l-21 -27l-8 -8l-13 -10l-11 -6zM334 158h5l6 2l16 12l23 24l9 18v10l-4 12l-24 50l-14 22l-8 8l-4 2l-8 -1l-8 -7l-6 -8l-10 -17l-15 -30l-10 -23l-3 -10v-6l2 -6l8 -15l27 -27l8 -6z"/>
<path fill="#e0e0ff" stroke="#e0e0ff" d="M0 58v108h11l9 3l9 5l20 19l9 12l3 7l-2 13l-20 47l22 -38l7 -7l5 3l14 24l21 45l25 62l10 31h50l10 -31l30 -72l25 -49l4 -6l5 -4l3 1l7 9l29 57l12 20l10 11l7 3l8 -2l10 -10l15 -25l24 -48l6 -10l6 -6h2l6 6l7 12l20 40l29 69l12 35h24v-222h-3l-6 -6l-1 -3l1 -11l5 -5l4 -1v-51h-5l-11 3l-18 11l-13 12l-16 20l-12 11h-2l-6 -6l-17 -26l-15 -17l-6 -3l-8 -8l-6 -4l-11 -4h-44l-12 5l-7 5l-8 8l-3 1l-6 5l-11 14l-16 25l-6 5l-4 -1l-7 -7l-15 -19l-15 -15l-13 -9l-17 -6l-17 1l-6 2l-14 8l-22 21l-18 22l-3 2h-3l-6 -6l-21 -34l-17 -22l-12 -12l-14 -10l-8 -4zM332 153l11 1l9 5l10 8l23 24l8 14l3 8v6l-5 15l-25 52l-16 25l-5 5l-8 4l-7 -2l-9 -9l-7 -10l-24 -46l-13 -32l1 -13l10 -18l26 -26l11 -8zM165 144l8 1l3 3l3 8l-3 10l-5 4l-8 -1l-4 -4l-2 -5l1 -9z"/>
<path fill="#d9d9ff" stroke="#d9d9ff" d="M0 63v98l14 1l6 2l10 6l19 18l11 15l3 7v4l-4 14l-8 20l12 -19l5 -5h3l6 7l14 26v2l9 17v2l11 23l21 52l13 39h46l13 -39l24 -58l26 -53l6 -10l5 -5h3l7 8l17 33l2 2l14 29l11 18l8 9l9 4l8 -3l8 -8l13 -21l18 -37l15 -27l6 -7h4l11 16l25 51l26 63l11 34l1 1h22v-214l-5 -1l-3 -2l-6 -7l-2 -6v-9l3 -8l6 -6l7 -2v-42h-7l-7 2l-9 4l-9 6l-18 17l-18 23l-7 6h-4l-4 -4l-19 -29l-14 -15l-3 -1l-8 -8l-7 -5l-12 -5h-43l-11 4l-18 15l-4 2l-6 6l-14 19l-9 15l-6 6h-4l-9 -9l-13 -17l-23 -22l-18 -9l-20 -1l-16 6l-15 11l-16 17l-12 16l-7 7l-3 1l-6 -5l-9 -16l-20 -29l-8 -10l-14 -14l-11 -8l-12 -6zM333 149l10 1l6 3l12 9l23 23l9 15l5 11v5l-4 13l-26 55l-11 19l-6 8l-7 7l-6 3l-6 -1l-6 -4l-13 -17l-21 -40l-17 -40v-10l15 -26l25 -24l12 -8zM165 137h6l6 3l5 6l2 5v13l-3 6l-6 6l-5 2h-4l-7 -3l-5 -6l-3 -9l1 -10l3 -6l4 -4z"/>
<path fill="#d1d1ff" stroke="#d1d1ff" d="M0 67v90l13 1l6 2l12 7l16 15l13 17l4 8v8l-6 19l6 -8l6 -5l4 2l7 11l30 63l21 52l15 43h42l1 -1l14 -42l21 -51l28 -58l11 -16h3l9 11l34 66l10 16l7 8l8 4l6 -1l3 -2l10 -11l9 -15l31 -61l8 -12l3 -3h3l5 5l7 12l24 49l26 63l13 39h21v-208h-5l-6 -3l-7 -8l-3 -8v-14l3 -8l9 -9l5 -2h4v-36h-5l-11 3l-17 10l-14 13l-23 29l-6 5h-3l-6 -6l-14 -22l-15 -18l-4 -2l-18 -15l-11 -4h-42l-12 5l-7 5l-9 9l-3 1l-9 9l-23 34l-4 4h-4l-9 -9l-16 -21l-15 -15l-8 -6l-17 -8l-18 -1l-10 3l-18 11l-18 18l-15 20l-7 7h-4l-5 -5l-11 -19l-19 -27l-21 -22l-8 -6l-11 -6l-10 -3zM334 146l9 1l6 3l18 14l18 19l14 24v10l-3 9l-26 56l-18 29l-8 8l-7 3l-7 -2l-8 -7l-14 -21l-22 -44l-13 -33l1 -9l14 -24l27 -26l10 -7zM163 132h10l6 3l6 6l4 8l1 13l-3 10l-9 10l-4 2h-12l-7 -4l-5 -6l-4 -11v-11l4 -10l7 -7z"/>
<path fill="#c9c9ff" stroke="#c9c9ff" d="M308 294l7 14l9 13l10 7h4l5 -2l7 -7l14 -24l-10 15l-10 10l-4 2h-8l-5 -3l-6 -6zM307 292h1M306 290h1M0 70v84l13 1l6 2l12 7l16 15l15 20l3 6v10l-3 11l5 -5l5 -2l9 12l18 36v2l15 32l21 53l13 38h40l14 -41l26 -63l25 -51l10 -15h4l4 4l9 14l10 19l-18 -45l1 -10l16 -26l18 -18l11 -9l14 -7h9l12 6l20 17l11 12l15 24l2 7l-4 15l-13 31l16 -28l6 -6h3l4 4l26 50v2l12 25l21 52l12 37h20v-200l-8 -1l-6 -3l-8 -9l-5 -13v-15l6 -13l6 -6l5 -3l10 -2v-30h-5l-11 3l-18 11l-11 10l-13 15l-10 14l-8 8h-4l-5 -5l-16 -25l-14 -16l-4 -2l-12 -11l-14 -7l-5 -1h-36l-14 5l-20 16l-10 10l-25 36h-5l-6 -6l-19 -25l-14 -14l-9 -7l-14 -7l-8 -2h-12l-11 3l-18 11l-18 18l-18 24l-7 5l-6 -5l-11 -19l-19 -27l-22 -23l-18 -11l-10 -3zM165 127l10 1l8 4l9 10l4 12l-1 14l-4 10l-5 7l-5 4l-9 3h-8l-7 -2l-5 -3l-6 -7l-4 -8l-2 -8v-11l5 -13l11 -10z"/>
<path fill="#c2c2ff" stroke="#c2c2ff" d="M321 315l6 8l7 4h5l4 -2l8 -10l-4 4l-7 4l-10 -1zM0 73v78l15 2l14 7l21 20l13 18l3 6v10l-2 8l8 -5l5 5l6 10l30 64l17 42l19 54h38l14 -41l29 -70l6 -11v-2l19 -37l5 -8l3 -3h3l6 6l8 13l-9 -26v-7l2 -5l15 -24l26 -25l10 -7l8 -3h9l15 8l13 11l16 17l15 24l2 7l-2 10l-2 3l-5 16l6 -10l6 -7l4 -1l5 5l22 42v2l14 29l20 49l15 45h19v-191l-14 -1l-8 -6l-9 -13l-5 -18l2 -14l8 -13l8 -7l8 -4l10 -1v-26h-5l-11 3l-17 10l-14 13l-24 31l-6 5h-3l-3 -2l-23 -34l-11 -11l-19 -15l-15 -5h-34l-8 2l-14 8l-21 19l-23 34l-4 4h-4l-8 -8l-18 -24l-20 -19l-8 -5l-12 -5l-18 -1l-10 3l-17 10l-19 19l-17 23l-6 6h-4l-5 -5l-11 -19l-20 -28l-17 -18l-20 -13l-9 -3zM161 124h13l12 5l10 9l6 10l2 7l-1 16l-6 14l-4 6l-7 7l-7 3h-22l-6 -2l-9 -9l-4 -6l-5 -12l-1 -17l5 -13l10 -11l6 -4z"/>
<path fill="#babaff" stroke="#babaff" d="M329 323l5 3h5l4 -3l-3 1zM0 75v74l12 1l17 8l21 20l12 16l5 10l-1 14l4 -2h3l6 7l28 57l25 61l17 51h37l1 -1l15 -45l17 -42l16 -34v-2l21 -41l4 -6l5 -3l11 12l-5 -14l-1 -10l4 -9l8 -11l4 -8l22 -23l13 -10l12 -5h7l6 2l11 7l13 11l15 16l17 28v10l-5 15l9 -10l3 -1l5 5l7 12l16 32v2l6 11l29 70l14 42h18v-176l-13 4h-4l-8 -8l-9 -12l-8 -15l-5 -15v-10l2 -6l6 -10l18 -17l11 -5l10 -1v-22h-6l-8 2l-18 10l-17 16l-22 29l-7 6h-2l-6 -6l-20 -30l-11 -11l-17 -14l-8 -4l-8 -2h-36l-10 3l-7 4l-24 21l-10 13l-11 18l-7 8h-3l-9 -9l-17 -23l-21 -20l-16 -9l-8 -2h-15l-16 6l-15 11l-15 16l-16 22l-7 7h-3l-5 -5l-11 -19l-20 -28l-16 -17l-6 -5l-15 -9l-9 -3zM158 122l16 -1l15 6l15 13l8 11l3 7v5l1 1l-1 8l-5 14l-11 19l-9 11l-5 4h-4l-11 -4h-5l-11 4l-5 -1l-9 -10l-9 -13l-10 -24v-6l-1 -1l1 -7l7 -13l16 -16z"/>
<path fill="#b2b2ff" stroke="#b2b2ff" d="M0 77v70h6l12 3l16 10l15 15l16 22l3 7l-1 12l5 -2l7 7l28 57l25 61l18 53h36l16 -48l20 -49l13 -27v-2l20 -39l8 -10l5 2l5 5l-4 -18l4 -9l14 -22l25 -25l10 -7l9 -4h11l7 3l15 11l20 20l19 31v8l-3 12l7 -7h3l3 3l9 15l15 30l33 78l12 36l2 3l2 9l1 1h17v-156l-6 2l-7 5h-4l-4 -4l-18 -28l-11 -22l-6 -17v-7l4 -10l9 -12l10 -10l17 -11l10 -3h6v-20l-15 3l-10 5l-11 8l-15 15l-20 27l-6 6h-4l-5 -5l-16 -25l-12 -14l-5 -3l-16 -14l-9 -4l-10 -1l-1 -1l-33 1l-14 6l-26 23l-26 37h-4l-8 -8l-12 -17l-11 -13l-14 -13l-9 -6l-15 -6h-6l-1 -1l-15 2l-13 6l-11 8l-18 19l-15 21l-7 7h-4l-4 -4l-9 -16l-18 -26l-8 -10l-14 -14l-13 -9l-8 -4l-7 -2zM162 119l16 1l6 2l12 7l18 17l6 8l4 9v11l-6 16l-18 34l-12 17l-4 3l-14 -8h-5l-11 7h-4l-14 -19l-9 -16l-11 -23l-4 -12v-11l9 -15l20 -19l11 -6z"/>
<path fill="#ababff" stroke="#ababff" d="M0 78v68l14 1l17 9l16 15l16 21l5 10v11l1 1l4 -1l7 8l13 25v2l16 33l24 59l18 52h34l1 -1v-3l11 -32l18 -46l16 -37l23 -46l8 -11l5 1l4 4l-2 -8v-10l19 -31l26 -25l9 -6l10 -4l10 1l14 8l11 9l18 19l17 28l1 8l-2 10l5 -4h3l4 4l12 21l15 31l27 64l19 56h17v-141l-4 1l-11 7l-5 -4l-14 -22l-19 -38l-8 -20v-8l5 -11l17 -20l19 -14l11 -4l9 -1v-17h-5l-11 3l-17 10l-20 20l-19 26l-5 5l-3 1l-5 -4l-16 -25l-15 -17l-20 -16l-6 -3l-8 -2h-36l-15 6l-24 20l-11 14l-14 22l-6 5l-9 -8l-21 -28l-14 -14l-8 -6l-9 -5l-13 -4l-17 1l-14 6l-10 7l-17 17l-19 26l-6 6l-3 1l-6 -6l-11 -19l-17 -24l-22 -23l-18 -11zM159 118h6l1 -1l11 1l9 3l9 5l9 7l17 18l8 14l1 5l-1 7l-3 8l-23 47l-13 21l-6 6l-14 -8h-5l-13 8l-4 -3l-15 -24l-20 -41l-6 -16l1 -13l10 -15l15 -15l8 -6l9 -5z"/>
<path fill="#a3a3ff" stroke="#a3a3ff" d="M0 80v64l12 1l17 8l21 20l12 16l7 13v10l6 1l4 5l28 57l27 66l17 51h34l1 -6l13 -37l20 -50l15 -32v-2l22 -43l6 -7h3l4 3l1 -1l-2 -7l1 -9l22 -34l24 -22l11 -7l6 -2h8l10 4l16 12l18 18l20 32l-1 16l4 -3h4l2 2l9 15l16 32l31 73l10 30l2 3l6 18v3l1 1h16v-130l-8 3l-5 4h-3l-4 -4l-11 -18l-28 -57l-5 -13v-9l3 -7l10 -14l17 -17l18 -11l6 -2l10 -1v-15h-7l-10 3l-8 4l-11 8l-14 14l-23 31l-6 5l-3 -1l-4 -4l-16 -25l-13 -15l-4 -2l-13 -12l-14 -7l-5 -1h-33l-15 5l-11 8l-18 17l-21 31l-6 6l-3 -1l-7 -7l-14 -20l-12 -14l-15 -13l-8 -5l-14 -5h-17l-17 7l-12 9l-16 17l-18 25l-5 5l-3 1l-5 -4l-11 -19l-16 -23l-21 -23l-20 -13l-9 -3zM164 116h8l12 3l17 10l21 21l7 10l4 10l-1 9l-16 33v2l-16 32l-10 17l-5 6h-3l-13 -8l-8 3l-7 5h-3l-3 -3l-12 -20l-12 -24v-2l-16 -32l-5 -15l1 -7l6 -11l8 -10l12 -12l12 -9l10 -5z"/>
<path fill="#9c9cff" stroke="#9c9cff" d="M0 81v62h8l8 2l7 3l9 6l19 19l13 18l5 9l1 11h4l4 4l27 54l31 76l10 31l3 6l2 10h33l1 -1v-3l7 -21l21 -55l19 -44l21 -42l9 -12h3l3 2v-14l1 -3l21 -32l21 -20l13 -9l8 -3h9l11 5l12 9l21 21l20 33l-1 13l3 -2h4l3 3l26 50l31 74l12 36l2 3l3 12h16v-122h-2l-11 7h-3l-3 -3l-10 -17l-28 -57v-2l-8 -16l-2 -8l2 -8l8 -13l17 -19l11 -9l13 -7l6 -2l10 -1v-14h-5l-11 3l-18 11l-18 18l-19 26l-9 8l-7 -6l-16 -25l-14 -15l-18 -15l-6 -3l-12 -3h-30l-9 2l-10 5l-25 22l-23 34l-5 4l-3 -1l-6 -6l-22 -30l-13 -13l-9 -7l-9 -5l-14 -4l-16 1l-14 6l-10 7l-17 17l-21 29l-4 4l-3 1l-5 -4l-8 -14l-20 -29l-18 -20l-15 -11l-10 -5zM164 115l14 1l6 2l16 9l24 24l8 12l3 7v7l-11 26l-26 53l-9 16l-5 5h-2l-12 -7h-4l-12 7h-3l-2 -2l-23 -43v-2l-21 -43l-4 -11v-7l7 -13l7 -9l17 -17l10 -7l10 -5z"/>
<path fill="#9494ff" stroke="#9494ff" d="M0 82v60h9l10 3l13 8l20 20l14 20l4 9v7l5 2l5 6l13 25v2l16 33l26 64l17 51h32l9 -29l2 -3l3 -11l12 -31l21 -49l23 -46l8 -10l4 1l2 -1l-1 -3l1 -10l21 -33l23 -22l10 -7l9 -4h10l11 5l12 9l21 21l20 32v13l6 -1l3 3l12 21l15 31l29 69l17 48l1 7h16v-115h-2l-11 6h-3l-3 -3l-20 -38v-2l-20 -40l-9 -21v-8l4 -9l17 -22l13 -12l10 -7l11 -5l13 -2v-12h-8l-9 3l-8 4l-11 8l-18 19l-18 25l-8 7l-7 -6l-20 -30l-10 -10l-14 -12l-6 -4l-10 -4h-5l-1 -1h-30l-9 2l-14 8l-20 18l-10 13l-14 22l-5 4l-7 -5l-17 -24l-12 -14l-15 -13l-6 -4l-12 -5l-11 -1l-1 -1l-9 1l-7 2l-10 5l-12 9l-16 17l-17 24l-9 8l-6 -5l-19 -31l-13 -17l-11 -12l-17 -13l-14 -6zM167 114l10 1l9 3l8 4l11 8l19 20l9 13l4 9v5l-4 11l-18 36l-8 19l-16 31l-7 9h-3l-13 -7l-14 7h-3l-2 -2l-19 -36l-6 -15l-21 -43l-4 -12l1 -7l7 -12l7 -9l17 -17l11 -8l10 -5z"/>
<path fill="#8c8cff" stroke="#8c8cff" d="M0 83v58l14 1l17 9l15 14l17 22l6 10l2 12l4 1l5 6l26 53l29 71l15 43l2 9h32l5 -19l2 -3l8 -25l13 -33l3 -5l11 -28l11 -22v-2l17 -33l8 -10l5 1v-12l22 -35l16 -16l17 -13l10 -4h9l14 7l19 16l13 15l18 29l1 13l5 -1l5 6l26 51l30 72l15 43l1 7l1 1h15v-110l-12 6h-4l-2 -2l-18 -34v-2l-7 -13l-7 -17l-17 -34l-3 -9l1 -7l3 -6l12 -17l19 -19l10 -7l10 -5l8 -2h7v-12h-5l-11 3l-17 10l-19 19l-21 29l-5 5h-4l-5 -5l-20 -30l-19 -18l-15 -10l-12 -3h-30l-9 2l-14 8l-20 18l-10 13l-11 18l-6 7h-4l-7 -7l-22 -30l-19 -18l-6 -4l-14 -6l-18 -1l-10 3l-17 10l-18 18l-20 28l-6 6h-4l-4 -4l-11 -19l-17 -24l-22 -23l-16 -10zM161 114h14l8 2l7 3l12 8l22 22l10 14l4 9v7l-8 19l-12 23v2l-21 44l-2 2l-6 13l-5 6l-6 -1l-9 -5h-3l-11 6h-3l-4 -4l-16 -31v-2l-34 -73v-7l3 -7l14 -19l20 -19l13 -8z"/>
<path fill="#8585ff" stroke="#8585ff" d="M0 84v56l14 1l17 9l15 14l17 22l7 12l1 9l2 2h2l5 6l26 53l32 79l13 38l1 7h31l1 -1l5 -19l2 -3l4 -14l17 -44l18 -42l24 -48l8 -10l4 1l1 -12l4 -8l18 -27l22 -21l13 -9l8 -3l12 1l15 9l28 28l19 31v10l1 1l1 -1l4 1l6 8l24 48l30 72l15 43l2 9h15v-105l-11 5h-4l-4 -4l-18 -35l-11 -26l-20 -40l-3 -9v-4l5 -11l14 -19l15 -15l16 -11l11 -4l10 -1v-11l-9 1l-11 4l-15 10l-15 15l-21 29l-8 8h-3l-5 -5l-20 -30l-10 -10l-20 -16l-15 -5h-32l-8 2l-10 5l-24 21l-10 13l-14 22l-3 3h-4l-6 -6l-20 -28l-14 -15l-13 -10l-10 -5l-12 -3l-14 1l-9 3l-17 11l-18 19l-19 27l-4 4l-5 1l-6 -7l-17 -28l-22 -27l-9 -8l-12 -8l-9 -4zM164 113l14 1l9 3l16 10l20 20l11 15l5 10v8l-3 8l-20 40l-11 26l-14 28l-7 10l-7 -1l-7 -4h-4l-10 5h-4l-3 -3l-18 -35l-4 -11l-30 -64v-7l4 -9l10 -14l16 -17l16 -12l6 -3z"/>
<path fill="#7d7dff" stroke="#7d7dff" d="M0 85v54l14 1l14 7l18 16l17 22l7 12l2 10l4 2l4 5l26 53l26 63l21 62h30l12 -38l17 -44l19 -44l23 -46l7 -9l5 -1v-9l4 -8l20 -30l25 -23l6 -4l12 -5h6l7 2l10 6l9 7l22 23l19 31l1 11h5l4 5l25 49l31 74l15 43l2 10h15v-100h-3l-9 4h-2l-4 -3l-16 -31l-10 -24l-18 -36l-10 -23v-4l4 -10l18 -24l11 -11l17 -12l14 -5h8v-10h-7l-10 3l-6 3l-15 11l-18 20l-16 23l-8 7h-2l-5 -5l-20 -30l-10 -10l-15 -13l-14 -7l-5 -1h-34l-14 5l-6 4l-22 20l-25 36l-4 1l-9 -9l-21 -29l-20 -19l-18 -9l-20 -1l-16 6l-16 12l-16 18l-15 22l-8 8h-2l-4 -3l-20 -32l-13 -17l-11 -12l-17 -13l-14 -6zM160 113h16l10 3l11 6l8 6l17 17l12 16l6 12v8l-21 43l-17 39l-15 29l-4 4l-9 -2l-5 -3l-5 1l-5 3l-6 1l-5 -5l-14 -28l-9 -22l-29 -62v-7l2 -5l14 -20l24 -23l14 -8z"/>
<path fill="#7575ff" stroke="#7575ff" d="M0 86v52h9l10 3l13 8l19 19l15 21l4 7l2 10l9 9l28 58l26 64l16 46l2 9h30l6 -22l2 -3l8 -25l11 -28l21 -49l22 -44l8 -11h4l1 -10l4 -8l22 -32l22 -20l13 -8l8 -2l7 1l9 4l16 12l17 17l18 27l5 11v7l4 1l8 10l13 25v2l17 35l27 67l11 32l2 11h15v-97l-7 3l-7 1l-5 -5l-53 -112l1 -12l3 -6l13 -18l19 -19l8 -6l9 -5l9 -3l10 -1v-9h-5l-11 3l-18 11l-16 16l-24 33l-7 5l-6 -5l-11 -18l-15 -19l-6 -4l-14 -13l-7 -4l-10 -3h-36l-15 6l-26 23l-21 31l-7 6l-9 -8l-19 -27l-16 -17l-14 -10l-17 -6h-12l-11 3l-18 11l-15 15l-22 31l-6 6l-3 1l-4 -3l-10 -17l-18 -26l-18 -20l-15 -11l-8 -4l-10 -3zM164 112l14 1l15 6l15 11l21 23l8 12l4 9v6l-2 6l-20 40l-16 37l-16 32l-4 4h-4l-9 -4h-4l-6 3l-7 1l-4 -4l-16 -32l-4 -11l-30 -63l-4 -11l1 -8l9 -15l9 -11l15 -15l20 -13z"/>
<path fill="#6e6eff" stroke="#6e6eff" d="M0 87v50h8l8 2l17 10l17 17l16 22l5 9l1 8l7 6l33 68l27 68l11 32l3 13h30l6 -23l26 -68l17 -39l21 -42l5 -8l7 -4v-6l5 -11l17 -26l26 -25l7 -5l11 -5h10l13 6l15 12l14 14l5 7l1 3l14 20l4 8l1 9h3l6 7l23 45l30 71l17 48l2 11l1 1h14v-93h-3l-4 2h-8l-3 -3l-55 -116v-8l5 -11l16 -21l13 -13l17 -12l10 -4l12 -1v-9l-15 3l-10 5l-11 8l-16 17l-19 27l-8 8h-3l-4 -3l-14 -22l-15 -18l-21 -17l-12 -5h-6l-1 -1h-25l-1 1l-10 1l-7 3l-10 7l-20 19l-9 12l-11 18l-5 5h-3l-7 -6l-22 -31l-18 -18l-17 -10l-13 -3h-7l-12 3l-16 9l-20 20l-21 30l-4 4l-5 1l-5 -5l-11 -19l-18 -25l-16 -17l-19 -13l-12 -4zM161 112h14l8 2l9 4l13 9l23 24l9 13l5 12l-3 12l-21 42l-15 35l-16 32l-4 4h-8l-6 -3l-5 1l-3 2h-9l-2 -2l-17 -34l-17 -40l-20 -41l-2 -7l2 -8l4 -8l9 -12l15 -16l20 -15z"/>
<path fill="#6666ff" stroke="#6666ff" d="M0 88v48h6l12 3l16 10l20 21l13 19l5 10v4l6 6l5 8l15 30v2l16 34l26 66l10 29l3 14h30l4 -18l2 -3l4 -14l18 -47l3 -5l14 -35l23 -47l6 -10l8 -6v-7l4 -8l19 -29l23 -22l13 -9l8 -3l12 1l11 6l9 7l21 21l18 27l4 8l1 9l4 1l5 6l31 63l26 64l13 37l3 13h14v-90l-8 2h-6l-4 -4l-15 -30l-14 -33l-20 -40l-7 -17l1 -8l5 -10l11 -15l10 -11l11 -10l10 -7l13 -6l13 -2v-7h-7l-10 3l-16 10l-17 17l-22 31l-8 7h-2l-6 -6l-14 -22l-14 -16l-21 -17l-15 -5h-31l-9 2l-8 4l-23 19l-12 15l-14 22l-3 3l-3 1l-11 -10l-17 -25l-18 -19l-8 -6l-12 -6l-7 -2l-20 1l-12 5l-9 6l-17 17l-19 28l-9 9l-4 1l-4 -4l-10 -17l-19 -27l-19 -20l-8 -6l-11 -6l-9 -3zM166 111l11 1l12 4l19 13l20 21l8 11l6 13l-1 11l-26 53l-14 33l-14 28l-5 5h-6l-7 -3l-10 3h-5l-4 -3l-16 -32l-11 -27l-29 -62v-7l2 -6l6 -10l9 -11l18 -18l18 -12l8 -3l10 -1z"/>
<path fill="#5e5eff" stroke="#5e5eff" d="M233 156l1 1zM108 148l17 -17l16 -12l16 -7l17 -1l11 3l16 9l13 11l18 20l-10 -15l-16 -18l-15 -11l-6 -3l-11 -3h-13l-10 3l-8 4l-10 7l-12 12zM0 88v47l17 3l8 4l11 8l16 17l16 23l4 8l1 6l7 7l16 31v2l6 11v2l14 30l31 81l6 24h29l1 -1l2 -11l22 -61l3 -5l4 -12l16 -37l25 -50l6 -7l3 -1l1 -8l3 -6l22 -33l13 -13l15 -12l9 -5l8 -2l8 1l10 5l13 10l18 18l20 30l4 9v6l3 1l7 8l29 59l24 58l16 45l3 14h14v-88l-5 2h-9l-4 -4l-18 -37l-14 -33l-24 -49v-9l3 -8l6 -10l9 -11l17 -17l12 -9l16 -7l11 -1v-7h-6l-10 3l-18 11l-14 14l-20 29l-11 11h-4l-4 -4l-20 -30l-21 -20l-7 -5l-15 -6h-36l-13 5l-6 4l-21 19l-12 16l-9 15l-6 6l-5 -1l-11 -12l2 2l6 15l-1 8l-17 34v2l-13 26l-8 20l-17 35l-5 5h-8l-4 -2h-4l-4 2h-8l-4 -3l-12 -24l-22 -51l-21 -43l-2 -10l3 -9l-7 5h-4l-31 -46l-21 -22l-17 -11z"/>
<path fill="#5757ff" stroke="#5757ff" d="M504 104l-15 3l-16 9l-12 11l-13 17l13 -13l17 -13l14 -6l12 -1zM113 142l20 -18l17 -10l10 -3h16l10 3l17 10l21 20l-8 -12l-14 -14l-8 -6l-10 -5l-11 -3l-15 1l-13 5l-16 12l-10 11zM0 89v46h9l10 3l13 8l19 19l18 26l3 6l2 8l7 7l10 19v2l10 19v2l14 30l23 58l13 38l3 12h28l8 -28l2 -3l3 -11l17 -44l19 -44l22 -44l5 -8l6 -4l1 -8l3 -6l19 -29l26 -25l9 -6l9 -4h10l6 2l21 15l15 15l19 28l5 9l2 10l3 1l7 9l27 55l26 63l16 46l2 11h14v-85l-13 1l-6 -6l-14 -29l-18 -42l-22 -44l-2 -6v-5l3 -10l-8 7l-4 -1l-27 -38l-25 -21l-12 -5h-6l-1 -1h-26l-15 4l-12 8l-20 19l-20 30l-5 5l-4 -1l-7 -5l3 7l-1 12l-23 46v2l-31 67l-6 7h-10l-1 -1l-17 1l-5 -5l-6 -12v-2l-8 -15l-21 -49l-21 -44l1 -12l-8 3l-5 -5l-20 -32l-10 -13l-14 -15l-15 -11l-8 -4l-10 -3z"/>
<path fill="#4f4fff" stroke="#4f4fff" d="M504 105h-8l-15 6l-10 7l-13 13l-5 7l17 -15l11 -7l10 -4l13 -2zM117 137l14 -12l12 -8l12 -5l16 -2l10 2l12 5l13 9l13 12l-7 -10l-17 -15l-9 -5l-9 -3h-7l-1 -1l-14 2l-11 5l-10 7l-12 12zM0 90v44h7l11 3l16 10l20 21l16 24l3 7v3l5 5l5 8l15 30v2l16 34l25 63l12 35l3 13h28l7 -26l2 -3l7 -22l15 -38l20 -46l19 -38l5 -8l4 -4h2l3 -12l23 -35l22 -21l10 -7l12 -5h6l7 2l18 12l21 21l22 34l2 10l6 4l6 10l27 56l29 72l11 32l2 12h14v-83l-12 1l-6 -5l-16 -33l-19 -44l-22 -45l1 -14l-5 4h-4l-5 -5l-7 -12l-14 -19l-17 -16l-11 -8l-14 -5h-33l-8 2l-14 8l-11 11l-6 4l-12 15l-17 25h-4l-6 -4l2 7l-1 9l-22 44l-19 44l-15 31l-6 6h-9l-1 -1l-16 1l-5 -4l-10 -20l-26 -60l-18 -36l-4 -11l1 -9l-3 2h-5l-3 -3l-20 -32l-14 -18l-14 -14l-8 -6l-11 -6l-9 -3z"/>
<path fill="#4747ff" stroke="#4747ff" d="M504 105l-10 1l-14 6l-12 9l-9 11l9 -8l19 -11l11 -3h6zM121 133l12 -10l11 -7l18 -6h12l16 5l13 8l11 9l-14 -15l-9 -6l-16 -6h-15l-7 2l-16 9l-11 10zM0 90v43l17 3l8 4l12 9l19 21l15 23l3 10l6 6l15 29v2l7 13v2l14 30l30 78l8 29h28l3 -14l22 -61l3 -5l4 -12l16 -37l27 -53l3 -3l3 -1l1 -7l4 -8l24 -35l9 -9l16 -13l14 -7l14 1l12 7l10 8l17 17l20 30l4 8l1 7l7 6l8 14l32 69l31 82l3 15l1 1h13v-81l-11 1l-6 -4l-18 -37l-18 -42l-22 -44l-1 -4l1 -10l-5 3l-4 -1l-23 -33l-22 -21l-9 -6l-7 -3l-11 -1l-1 -1l-30 1l-14 6l-19 16l-10 11l-18 27l-5 5l-8 -3l1 3l-1 12l-22 44l-18 42l-17 35l-4 4l-3 1h-8l-1 -1l-13 1l-3 -1l-5 -5l-11 -23l-25 -58l-18 -36l-3 -8v-9l-6 1l-6 -6l-17 -28l-23 -28l-20 -15l-9 -4z"/>
<path fill="#4040ff" stroke="#4040ff" d="M504 105h-5l-15 5l-13 9l-7 8l12 -9l10 -5l10 -3h8zM125 129l15 -11l10 -5l10 -3h16l10 3l10 5l14 10l-12 -12l-16 -9l-8 -2h-12l-11 3l-6 3l-10 7zM0 91v42h8l8 2l17 10l17 17l19 27l4 8v3l9 12l30 63l26 65l13 38l3 14h28l3 -15l5 -15l2 -3l3 -11l15 -39l22 -51l24 -47l7 -6l1 -7l3 -6l21 -32l24 -23l7 -5l14 -6h7l10 4l21 16l14 15l20 30l4 9v4l1 2l5 3l5 8l20 40v2l15 32l25 64l8 24l3 13h13v-79l-3 1l-9 -1l-7 -7l-16 -34l-12 -29l-6 -11v-2l-22 -44l-1 -14l-3 2h-4l-5 -5l-12 -19l-10 -13l-15 -14l-12 -9l-15 -5h-32l-8 2l-8 4l-18 15l-14 15l-17 26l-3 3h-4l-4 -2l1 5l-1 8l-23 46l-18 42l-17 35l-5 5l-9 1l-1 -1l-12 1l-4 -1l-4 -3l-7 -13v-2l-11 -22l-20 -47l-21 -43l-1 -5l1 -4l-1 -1h-6l-4 -4l-17 -28l-17 -22l-12 -12l-18 -12l-12 -4z"/>
<path fill="#3838ff" stroke="#3838ff" d="M504 105l-8 1l-9 3l-9 5l-9 8l16 -9l10 -3l9 -1zM129 125l20 -12l17 -4l11 1l10 3l18 10l-9 -8l-10 -6l-14 -4h-8l-12 3l-14 8zM0 92v40l11 1l6 2l10 5l9 7l11 11l12 15l14 23l1 6l6 6l27 55l26 63l18 51l3 15h28v-4l6 -21l2 -3l3 -11l18 -47l24 -55l20 -39l8 -8l1 -7l27 -41l23 -21l17 -9l14 1l6 3l15 11l18 18l15 22l9 15l2 9l6 5l7 12l28 59l31 79l7 22l1 8l1 2h13v-77h-10l-3 -1l-5 -5l-17 -36l-17 -40l-24 -48l-1 -5l1 -6l-1 -1l-4 2l-3 -1l-23 -33l-21 -20l-10 -7l-7 -3l-11 -1l-1 -1l-29 1l-13 5l-21 17l-13 15l-14 22l-6 6l-6 -2l-1 13l-24 48l-17 40l-18 37l-6 4h-22l-7 -5l-6 -12l-30 -69l-22 -45l-1 -10l-1 -1l-4 1l-6 -6l-11 -19l-15 -21l-21 -22l-10 -7l-10 -5l-6 -2z"/>
<path fill="#3030ff" stroke="#3030ff" d="M504 106h-7l-7 2l-8 4l-8 6l19 -8l11 -1zM134 121l14 -8l15 -4l16 1l9 3l13 7l-7 -6l-11 -6l-7 -2h-16l-12 4l-8 5zM0 92v40h9l12 4l12 8l18 18l7 9l11 17l6 15l6 6l24 49l29 70l16 45l4 19h27l1 -1l3 -15l6 -18l21 -55l19 -44l25 -49l6 -5l2 -8l4 -8l20 -30l24 -23l7 -5l14 -6h7l6 2l17 11l19 18l18 26l9 16l1 6l7 7l12 22l20 43l26 64l3 11l8 20l5 21h13v-75l-11 -1l-7 -6l-17 -36l-17 -40l-24 -48l-1 -12l-6 1l-5 -5l-12 -19l-10 -13l-21 -19l-8 -5l-13 -4h-32l-8 2l-8 4l-19 16l-15 17l-14 22l-4 4h-5l-1 -1l-1 1l-1 12l-17 33v2l-21 44l-3 9l-18 37l-9 5h-16l-6 -2l-4 -4l-6 -12l-30 -69l-22 -45l-1 -10l-1 -1h-5l-4 -4l-20 -32l-15 -19l-10 -10l-12 -9l-12 -6z"/>
<path fill="#2929ff" stroke="#2929ff" d="M504 106l-13 2l-11 6l11 -4l13 -1zM138 118l9 -5l13 -4h16l19 7l-5 -4l-11 -5l-18 -1l-14 5zM0 93v38l11 1l11 4l14 10l12 12l11 14l11 17l5 13l5 5l31 64l22 54l18 51l4 16h26l8 -29l2 -3l3 -11l17 -44l23 -53l21 -41l7 -7l4 -12l25 -37l23 -21l17 -9l14 1l16 10l23 22l17 25l8 14l1 7l6 5l6 10l29 61l26 65l11 32l3 15h13v-74h-9l-4 -2l-5 -5l-16 -34l-16 -38l-26 -52l-1 -11l-1 -1l-3 1l-3 -1l-24 -34l-20 -19l-10 -7l-7 -3l-11 -1l-1 -1l-30 1l-12 5l-21 17l-13 15l-14 22l-7 6l-4 -1v7l-2 6l-19 37l-23 53l-17 35l-3 3l-5 2h-18l-5 -2l-4 -4l-6 -12l-34 -78l-18 -36l-2 -11h-4l-6 -6l-11 -19l-15 -21l-21 -22l-10 -7l-10 -5l-7 -2z"/>
<path fill="#2121ff" stroke="#2121ff" d="M504 106l-8 1l-10 4l18 -3zM144 114l7 -3l15 -3l12 1l12 4l-13 -6l-14 -1l-11 3zM0 93v38h9l12 4l12 8l18 18l7 9l14 22l4 11l2 1l4 6l18 36l20 46l14 35l11 33l2 3l8 29h26l2 -10l8 -25l21 -55l19 -44l25 -49l6 -5l1 -6l5 -10l20 -30l23 -22l10 -7l12 -5h6l7 2l18 12l17 16l19 27l9 16l1 6l5 4l13 23l18 38l33 82l8 23l4 19h13v-72l-9 -1l-4 -2l-5 -5l-19 -41l-7 -18l-5 -9v-2l-7 -13v-2l-19 -37l-3 -9v-5h-5l-5 -5l-12 -19l-10 -13l-15 -14l-12 -9l-14 -5h-33l-8 2l-8 4l-18 15l-10 10l-21 31l-4 3h-5v7l-3 8l-20 39v2l-6 11v2l-30 66l-7 7l-6 2h-12l-8 -3l-4 -4l-16 -34l-17 -41l-25 -51l-2 -6v-5l-5 -1l-4 -4l-20 -32l-15 -19l-10 -10l-12 -9l-12 -6z"/>
<path fill="#1a1aff" stroke="#1a1aff" d="M504 107h-6l-6 2l12 -1zM150 111l12 -3h12l10 2l-9 -3h-15zM0 94v36l11 1l6 2l10 5l9 7l11 11l12 15l11 17l4 8l1 5l5 5l31 64l22 54l18 51l4 17h26l8 -30l2 -3l3 -11l17 -44l24 -55l20 -39l7 -7l1 -6l3 -6l26 -38l9 -9l16 -13l14 -7h10l6 2l20 14l17 17l15 22l10 17l2 8l5 4l7 12l28 59l31 79l6 18l3 16h13v-71h-6l-7 -3l-6 -7v-2l-13 -26l-21 -49l-24 -48l-1 -9l-1 -1h-5l-3 -3l-20 -30l-22 -21l-7 -5l-9 -4l-10 -2h-26l-1 1h-5l-14 6l-19 16l-13 15l-14 22l-5 5h-5l-1 9l-25 50l-21 49l-15 31l-3 3l-7 3h-14l-7 -3l-3 -3l-5 -9l-33 -76l-20 -40l-4 -14l-4 -1l-5 -5l-11 -19l-15 -21l-21 -22l-10 -7l-10 -5l-6 -2z"/>
<path fill="#1212ff" stroke="#1212ff" d="M502 107h2zM159 108h17l-4 -1zM0 94v36h8l8 2l17 10l17 17l10 13l12 19l4 11l6 7l23 47l29 70l16 45l5 21h26l2 -11l8 -25l2 -3l3 -11l14 -36l22 -51l24 -47l5 -4l3 -10l24 -37l17 -17l10 -8l12 -7l8 -2l8 1l10 5l20 16l12 13l20 30l5 10l1 5l6 6l23 45v2l15 32l29 75l7 28l1 1h12v-70h-7l-6 -3l-4 -4l-14 -29l-20 -47l-26 -52l-1 -9l-6 -2l-4 -4l-21 -31l-17 -16l-11 -8l-6 -3l-8 -2h-34l-15 6l-18 15l-14 15l-17 26l-4 3h-4v5l-2 6l-26 52l-20 47l-13 27l-3 4l-8 4h-14l-7 -3l-7 -10l-32 -74l-24 -49l-2 -9l-7 -4l-18 -29l-17 -22l-12 -12l-18 -12l-8 -3z"/>
<path fill="#0a0aff" stroke="#0a0aff" d="M0 94v35l17 3l8 4l12 9l9 9l13 16l12 19l4 11l4 4l6 10l22 46l26 63l18 51l4 18h26l4 -19l4 -12l2 -3l2 -8l18 -47l24 -55l19 -37l8 -9l1 -6l6 -11l13 -18l5 -9l7 -8l19 -17l9 -6l10 -4l12 1l8 4l16 12l15 15l21 31l5 9l2 8l5 4l8 14l19 39l13 30l26 67l6 18l4 17h12v-68l-7 -1l-6 -3l-4 -4l-17 -36l-15 -36l-7 -13v-2l-21 -41l-2 -10l-4 -1l-6 -6l-18 -27l-22 -21l-7 -5l-6 -3l-11 -3h-29l-1 1h-5l-6 2l-10 6l-23 21l-21 31l-4 4l-5 1v5l-2 6l-21 41v2l-6 11v2l-5 9l-7 18l-20 43l-8 7l-7 2h-6l-9 -3l-6 -6l-16 -34l-23 -54l-20 -40l-2 -9l-8 -6l-18 -29l-22 -27l-9 -8l-12 -8l-13 -5z"/>
<path fill="#0303ff" stroke="#0303ff" d="M0 95v34h7l11 3l8 4l8 6l15 15l11 14l13 21l3 9l6 7l22 45l28 67l18 50l5 22h26l4 -19l17 -48l25 -60l25 -51l5 -8l4 -3l3 -10l25 -38l21 -20l13 -9l8 -3l14 1l6 3l15 11l19 19l20 30l5 10l1 5l6 6l35 72l20 49l2 8l10 25l8 30h12v-67l-7 -1l-4 -2l-7 -7l-22 -48l-3 -9l-10 -20v-2l-25 -50l-1 -8l-5 -1l-4 -4l-21 -31l-18 -17l-8 -6l-15 -6h-8l-1 -1l-27 1l-7 2l-9 5l-22 19l-11 14l-12 19l-5 5l-4 1l-2 9l-25 50v2l-10 20l-3 9l-21 46l-6 7l-6 3l-11 1l-6 -2l-8 -7l-15 -32l-22 -52l-19 -38l-6 -17l-3 -1l-5 -5l-8 -14l-19 -27l-19 -20l-19 -12l-10 -3z"/>
<path fill="#0000fb" stroke="#0000fb" d="M0 95v34h10l9 3l9 5l11 9l19 22l13 20l4 11l6 7l5 9l24 51l21 51l20 56l4 19h25l1 -1l5 -22l21 -57l3 -5l4 -12l16 -37l24 -48l7 -8l4 -11l23 -35l24 -23l7 -5l14 -6h6l11 4l20 15l16 17l3 6l15 21l6 11l1 6l4 3l10 17l31 67l26 67l6 18l4 18h12v-66l-9 -2l-8 -7l-18 -38l-3 -9l-19 -40v-2l-21 -41l-1 -8l-4 -1l-6 -6l-9 -15l-13 -17l-19 -17l-9 -6l-13 -4h-32l-8 2l-15 9l-20 19l-21 31l-3 3l-5 2l-2 9l-21 41l-26 60l-14 29l-4 4l-6 3l-11 1l-9 -4l-5 -5l-17 -37l-13 -32l-10 -20v-2l-20 -40l-2 -8l-7 -5l-23 -36l-20 -23l-16 -12l-14 -6z"/>
<path fill="#0000f6" stroke="#0000f6" d="M0 96v32l15 2l9 4l11 8l13 13l11 14l11 17l6 14l7 9l25 52l27 66l12 36l2 3l6 26h25l1 -1l4 -19l16 -45l27 -65l27 -54l6 -6l1 -5l5 -10l24 -35l10 -10l16 -13l15 -7h9l8 3l18 13l17 17l19 28l7 13l1 5l5 5l6 10l16 32v2l6 11l13 30l28 73l7 28h12v-65h-3l-9 -4l-5 -5l-20 -43l-11 -27l-6 -11v-2l-19 -39l-3 -4l-3 -7v-5l-8 -5l-21 -31l-21 -20l-9 -6l-10 -4h-6l-1 -1h-26l-10 2l-14 8l-20 18l-8 10l-14 22l-5 5l-4 1l-1 7l-25 50v2l-6 11l-14 34l-16 34l-3 4l-8 5l-11 1l-7 -3l-6 -5l-17 -36l-21 -50l-22 -44l-3 -11l-3 -1l-5 -5l-6 -11l-17 -25l-8 -10l-16 -16l-10 -7l-10 -5l-7 -2z"/>
<path fill="#0000f1" stroke="#0000f1" d="M0 96v32h9l7 2l17 10l17 17l10 13l12 19l5 12l5 6l23 47l29 70l16 45l5 19v4h25l1 -1v-4l5 -19l16 -44l29 -69l22 -44l8 -10l4 -11l24 -36l21 -20l8 -6l12 -6l15 1l8 4l12 9l20 20l20 30l5 9l2 7l5 5l14 26v2l10 19l17 39l25 65l6 19l3 15h12v-64h-3l-7 -3l-8 -8l-21 -46l-7 -18l-5 -9v-2l-27 -54l-2 -9l-4 -1l-4 -4l-12 -19l-10 -13l-25 -22l-15 -6h-35l-12 4l-9 6l-22 21l-9 12l-9 15l-6 6l-4 2l-1 7l-28 56v2l-5 9l-10 25l-17 37l-7 8l-9 4h-7l-8 -4l-6 -6l-18 -39l-17 -41l-5 -9v-2l-21 -42l-1 -6l-6 -4l-21 -33l-14 -18l-11 -11l-12 -9l-12 -6z"/>
<path fill="#0000ec" stroke="#0000ec" d="M0 96v31l17 3l8 4l12 9l9 9l15 19l9 14l6 14l9 13l22 46l26 63l18 51l5 20h24l9 -33l2 -3l3 -11l17 -44l18 -42l7 -13v-2l18 -35l7 -8l1 -5l4 -8l21 -32l25 -24l7 -5l14 -6h6l7 2l9 5l14 11l14 14l21 31l6 11l2 7l3 2l4 6l17 33v2l7 13l16 37l22 57l7 21l4 19h12v-63l-11 -4l-6 -6l-17 -36l-20 -47l-24 -47l-2 -9l-3 -1l-6 -6l-12 -19l-12 -15l-23 -19l-8 -4l-8 -2h-31l-11 3l-10 6l-23 21l-21 31l-3 3l-4 1l-3 11l-4 6l-20 41l-20 47l-17 36l-4 4l-7 4l-9 1l-10 -5l-6 -7l-37 -85l-22 -44l-3 -10l-3 -1l-3 -3l-18 -29l-23 -28l-20 -15l-9 -4z"/>
<path fill="#0000e6" stroke="#0000e6" d="M0 97v30h7l11 3l16 10l15 15l8 10l16 25l3 9l7 9l21 43l28 67l18 50l6 24h24l5 -21l19 -53l24 -57l24 -49l8 -10l4 -11l26 -39l19 -18l11 -8l11 -5h10l6 2l10 6l10 8l17 17l19 28l7 12l2 7l9 12l18 36v2l18 39l27 70l6 20l2 12h12v-62l-9 -3l-8 -7l-15 -32l-14 -34l-5 -9v-2l-28 -56l-1 -6l-7 -5l-21 -31l-20 -19l-10 -7l-7 -3l-10 -2h-26l-1 1h-5l-14 6l-24 21l-10 13l-12 19l-5 5l-3 1l-2 8l-28 56v2l-5 9l-3 9l-25 55l-7 7l-9 4l-8 -1l-8 -5l-4 -5l-18 -39l-17 -41l-5 -9v-2l-21 -42l-1 -6l-8 -7l-8 -14l-19 -27l-19 -20l-8 -6l-11 -6l-10 -3z"/>
<path fill="#0000e1" stroke="#0000e1" d="M0 97v30h9l14 5l10 7l18 18l17 24l9 19l5 6l24 49l28 68l17 48l5 21h24l8 -31l26 -68l17 -39l22 -44l8 -10l4 -11l23 -35l23 -22l12 -8l7 -3l15 1l8 4l12 9l20 20l17 25l9 16l1 5l5 5l10 18l31 68l24 62l6 18l4 20h12v-61l-10 -4l-7 -7l-17 -36l-20 -47l-19 -39l-5 -8l-2 -9l-8 -6l-12 -19l-10 -13l-16 -15l-11 -8l-13 -5h-35l-12 4l-9 6l-22 21l-18 27l-6 6l-3 1l-3 11l-4 6l-20 41l-20 47l-17 36l-8 7l-10 3l-8 -3l-9 -8l-37 -85l-23 -46l-3 -10l-4 -2l-4 -5l-11 -19l-16 -22l-16 -17l-12 -9l-10 -5z"/>
<path fill="#0000dc" stroke="#0000dc" d="M0 98v28l11 1l14 6l12 9l9 9l13 16l11 17l6 14l8 11l23 48l26 63l18 51l5 21h24l5 -22l16 -45l28 -67l21 -43l6 -10l4 -4l6 -14l21 -32l25 -24l7 -5l14 -6h6l7 2l9 5l14 11l14 14l23 34l7 16l6 7l18 35v2l6 11l16 37l22 57l7 21l4 19l1 1h11v-61h-4l-4 -2l-9 -8l-15 -32l-14 -34l-11 -22v-2l-22 -43l-2 -8l-3 -1l-5 -5l-18 -27l-23 -22l-14 -8l-8 -2h-32l-10 3l-10 6l-23 21l-21 31l-7 5l-1 6l-23 45v2l-11 22l-10 25l-18 39l-8 8l-6 3h-8l-9 -5l-4 -4l-19 -41l-22 -52l-21 -42l-2 -7l-6 -5l-10 -17l-17 -24l-22 -23l-16 -10l-9 -3z"/>
<path fill="#0000d7" stroke="#0000d7" d="M0 98v28h7l11 3l16 10l15 15l8 10l12 18l8 17l6 8l21 43l28 67l18 50l6 25h24l4 -19l18 -51l26 -62l24 -49l8 -10l2 -7l10 -17l19 -27l11 -11l15 -12l15 -7l12 1l10 5l13 10l17 17l19 28l7 12l2 7l9 12l31 65l20 49l2 8l10 25l5 16l3 16l1 1h11v-60h-3l-6 -3l-7 -6l-18 -38l-19 -45l-22 -45l-3 -4l-3 -10l-6 -4l-21 -31l-20 -19l-10 -7l-16 -5h-27l-1 1h-5l-14 6l-24 21l-10 13l-12 19l-4 4l-3 1l-2 7l-27 54l-19 45l-17 36l-11 9l-10 1l-7 -4l-7 -7l-37 -85l-23 -46l-3 -10l-7 -6l-8 -14l-19 -27l-19 -20l-8 -6l-11 -6l-10 -3z"/>
<path fill="#0000d1" stroke="#0000d1" d="M0 98v28h9l14 5l10 7l18 18l17 24l8 15l1 4l5 6l5 11l2 2l17 36l28 68l17 48l5 22h24l6 -26l14 -39l26 -63l27 -55l7 -9l8 -17l21 -31l21 -20l13 -9l8 -3l14 1l20 13l20 20l17 25l9 16l1 5l5 5l10 18l31 68l24 62l6 18l5 21h11v-59l-5 -1l-12 -10l-33 -73v-2l-6 -11v-2l-23 -45l-2 -8l-3 -1l-4 -4l-12 -19l-10 -13l-25 -22l-11 -5l-12 -1l-1 -1h-17l-1 1l-13 1l-7 3l-9 6l-22 21l-11 15l-7 12l-9 8l-1 6l-24 47v2l-6 11v2l-32 71l-5 6l-10 6h-6l-6 -3l-8 -7l-15 -32l-25 -59l-23 -46l-1 -5l-8 -8l-13 -22l-14 -19l-16 -17l-12 -9l-10 -5z"/>
<path fill="#0000cc" stroke="#0000cc" d="M0 98v27l17 3l8 4l12 9l9 9l15 19l13 21l2 7l9 13l22 46l26 63l18 51l5 22h24l2 -12l8 -26l26 -67l13 -30l6 -11v-2l19 -37l6 -7l2 -7l7 -12l11 -15l7 -12l19 -19l15 -11l13 -5h5l11 4l20 15l13 13l21 31l8 15l1 4l6 7l17 33v2l7 13l16 37l22 57l7 21l5 21h11v-58l-6 -2l-10 -8l-17 -36l-19 -45l-28 -56l-1 -5l-8 -7l-12 -19l-12 -15l-17 -15l-9 -6l-12 -4h-33l-5 1l-14 7l-24 22l-21 31l-6 4l-2 7l-28 56l-15 36l-20 43l-9 8l-6 3h-4l-9 -5l-7 -7l-36 -83l-26 -53l-1 -5l-6 -5l-18 -29l-23 -28l-20 -15l-13 -5z"/>
<path fill="#0000c7" stroke="#0000c7" d="M0 99v26h7l11 3l17 11l22 24l16 25l4 10l6 8l21 43l28 67l18 50l6 26h24l4 -20l20 -56l24 -57l27 -54l5 -5l1 -5l6 -11l25 -36l21 -19l9 -6l10 -4l12 1l8 4l16 12l16 16l19 28l8 14l1 5l4 4l6 10l17 34v2l18 39l27 70l5 16l4 18h11v-58h-3l-4 -2l-10 -9l-18 -39l-14 -34l-6 -11v-2l-25 -49l-1 -6l-9 -8l-3 -6l-15 -21l-21 -20l-7 -5l-6 -3l-11 -3h-29l-5 1l-17 8l-21 19l-10 13l-12 19l-7 6l-2 7l-8 14l-23 48v2l-31 69l-5 6l-7 5l-10 1l-13 -10l-18 -39l-16 -39l-29 -59l-2 -7l-6 -5l-6 -11l-21 -30l-19 -20l-11 -8l-8 -4l-9 -3z"/>
<path fill="#0000c1" stroke="#0000c1" d="M0 99v26h9l7 2l17 10l17 17l10 13l12 19l5 12l5 6l23 47l29 70l17 48l5 23h23l1 -1l6 -26l12 -31l2 -8l31 -74l22 -44l6 -7l6 -14l24 -36l21 -20l10 -7l11 -5h10l6 2l19 13l19 19l20 30l8 17l7 9l21 42l17 39l25 65l5 15l5 22h11v-57h-2l-7 -4l-8 -8l-19 -41l-15 -36l-29 -58l-1 -5l-7 -6l-21 -31l-18 -17l-8 -6l-8 -4l-13 -3h-23l-1 1l-10 1l-9 4l-7 5l-23 22l-17 26l-8 7l-1 5l-23 45v2l-7 13l-18 43l-16 34l-12 10l-8 1l-8 -5l-8 -9l-34 -79l-27 -55l-1 -5l-7 -7l-16 -26l-17 -22l-17 -16l-18 -10z"/>
<path fill="#0000bc" stroke="#0000bc" d="M0 99v25l14 2l11 5l13 10l7 7l18 23l12 20l3 8l3 3l5 9l24 51l23 56l18 51l5 23h23l1 -1l5 -23l5 -15l26 -67l32 -69l6 -11l6 -7l2 -7l9 -15l17 -25l18 -18l15 -11l6 -3l8 -2l7 1l11 5l19 15l14 15l1 3l17 24l8 15l1 4l4 4l8 14l31 67l25 64l7 21l5 22h11v-56l-4 -1l-7 -5l-7 -8l-30 -69l-5 -9v-2l-21 -43l-5 -8l-3 -9l-7 -6l-7 -12l-15 -20l-14 -13l-12 -9l-14 -5h-34l-15 6l-7 5l-20 19l-19 28l-8 8l-2 7l-4 6l-23 47v2l-5 9l-30 69l-4 5l-8 6l-8 2l-11 -7l-5 -6l-16 -35l-9 -23l-4 -7l-3 -9l-29 -59l-2 -7l-8 -9l-16 -26l-19 -24l-12 -11l-18 -11z"/>
<path fill="#0000b7" stroke="#0000b7" d="M0 100v24h6l14 4l16 11l11 11l12 15l14 22l5 12l6 8l24 50l27 66l2 8l13 34l6 23v4h23l1 -1l4 -20l7 -21l27 -69l16 -34v-2l16 -32l9 -13l8 -17l20 -30l20 -20l12 -9l14 -6h6l7 2l9 5l14 11l14 14l23 34l8 17l4 4l20 39v2l6 11l13 30l27 70l5 16l4 19h11v-56l-5 -1l-8 -6l-4 -5l-18 -39l-10 -25l-5 -9v-2l-30 -60l-2 -7l-7 -6l-18 -27l-23 -22l-14 -8l-8 -2h-31l-11 3l-10 6l-22 20l-12 16l-10 16l-6 5l-1 5l-12 22l-19 40l-18 43l-15 32l-10 9l-4 2h-6l-8 -5l-6 -6l-15 -32l-20 -48l-28 -57v-2l-3 -6l-4 -3l-14 -23l-18 -24l-16 -16l-10 -7l-10 -5l-7 -2z"/>
<path fill="#0000b2" stroke="#0000b2" d="M0 100v24h8l10 3l8 4l8 6l15 15l11 14l12 19l5 12l6 8l22 45l29 70l17 48l6 24h22l9 -34l32 -82l4 -7l8 -20l20 -40l7 -9l2 -6l9 -16l9 -12l7 -12l16 -17l15 -12l15 -7l12 1l10 5l13 10l17 17l21 31l8 17l8 11l19 38v2l15 32l28 72l5 15l5 23h11v-55l-4 -1l-7 -5l-7 -8l-34 -78l-29 -58l-1 -4l-5 -4l-22 -32l-19 -18l-10 -7l-10 -4h-5l-1 -1h-27l-1 1h-5l-14 6l-23 20l-11 14l-12 19l-7 6l-1 5l-23 45v2l-6 11l-19 45l-16 34l-11 10l-4 2h-4l-11 -7l-5 -6l-35 -81l-28 -57v-2l-7 -8l-16 -26l-16 -21l-14 -14l-19 -12l-10 -3z"/>
<path fill="#0000ac" stroke="#0000ac" d="M0 100v24h9l14 5l10 7l18 18l17 24l10 20l10 16l18 38l25 60l20 56l6 24h22l10 -37l25 -65l17 -39l7 -13v-2l15 -29l7 -9v-2l8 -15l21 -31l21 -20l10 -7l11 -5l14 1l20 13l20 20l22 33l6 14l4 4l10 18l26 56l29 74l6 18l5 23h11v-55l-5 -1l-12 -11l-31 -69v-2l-14 -28v-2l-18 -34l-2 -7l-6 -5l-12 -19l-10 -13l-25 -22l-11 -5l-10 -1l-1 -1h-21l-1 1l-11 1l-9 4l-7 5l-22 21l-18 27l-7 6l-2 7l-6 10l-21 43v2l-10 20l-6 16l-20 44l-11 11l-8 3l-6 -3l-10 -9l-18 -39l-2 -7l-18 -39v-2l-25 -50l-2 -7l-7 -7l-18 -29l-15 -19l-15 -14l-17 -10z"/>
<path fill="#0000a7" stroke="#0000a7" d="M338 118h4l11 5l18 14l15 16l3 6l15 21l6 10l4 10l3 3l7 12l12 24v2l7 13l16 37l26 68l6 21l2 12h11v-54l-7 -3l-9 -8l-16 -34l-18 -43l-31 -62l-1 -5l-7 -6l-12 -19l-11 -14l-19 -17l-6 -4l-10 -4zM0 100v23l17 3l8 4l12 9l9 9l15 19l13 21l4 10l7 10l22 46l26 63l16 44l6 22l1 8l1 1h22l4 -18l7 -22l21 -55l18 -42l7 -13v-2l18 -35l5 -6l4 -10l25 -38l18 -18l9 -7l12 -7l7 -1h-15l-15 6l-19 16l-12 13l-15 23l-8 8l-1 5l-31 62l-14 34l-19 41l-11 10l-4 2h-5l-6 -4l-10 -11l-33 -77l-29 -59v-2l-2 -4l-6 -6l-16 -26l-20 -25l-11 -10l-16 -10z"/>
<path fill="#0000a2" stroke="#0000a2" d="M340 118l6 1l12 7l11 9l15 15l25 38l5 12l4 4l20 39l24 55l25 67l6 23v4h11v-53l-9 -5l-9 -10l-34 -78l-29 -58l-1 -4l-7 -7l-19 -28l-21 -20l-7 -5l-11 -5zM0 101v22l15 2l9 4l11 8l13 13l11 14l14 22l4 10l7 10l20 41l26 62l20 55l7 28h22l5 -22l20 -56l24 -57l23 -47l8 -11l8 -17l20 -30l7 -8l22 -19l13 -7h3h-11l-15 5l-22 18l-13 15l-12 19l-8 8l-1 4l-30 60l-33 76l-6 8l-8 6l-6 2l-11 -7l-6 -7l-16 -35l-15 -37l-18 -37v-2l-14 -27v-2l-9 -11l-16 -26l-13 -17l-16 -16l-10 -7l-10 -5l-7 -2z"/>
<path fill="#00009c" stroke="#00009c" d="M342 118l10 4l10 7l22 21l24 36l5 12l8 11l19 38l20 46l28 75l5 23l1 1h10v-53l-7 -3l-10 -10l-31 -69v-2l-14 -28v-2l-19 -36l-1 -5l-8 -8l-19 -28l-19 -18l-14 -9l-12 -3zM0 101v22h8l10 3l8 4l8 6l15 15l11 14l12 19l5 12l6 8l26 54l25 61l17 48l6 25h22l7 -29l16 -44l25 -60l25 -51l7 -9l1 -4l10 -18l20 -29l12 -12l15 -12l9 -5l5 -1l-14 1l-14 6l-20 17l-8 9l-18 27l-6 5l-2 7l-6 10l-21 43v2l-10 20l-6 16l-20 44l-12 12l-4 2h-5l-6 -4l-8 -8l-18 -39l-2 -7l-18 -39v-2l-25 -50l-2 -7l-6 -6l-16 -26l-16 -21l-18 -17l-13 -8l-12 -4z"/>
<path fill="#000097" stroke="#000097" d="M344 118l7 3l14 10l20 20l26 40l2 7l7 9l13 25v2l8 15l22 51l25 68l5 23l1 1h10v-52l-6 -3l-10 -9l-16 -34l-24 -56l-25 -49l-2 -6l-5 -4l-12 -19l-10 -13l-17 -16l-8 -6l-14 -6zM0 101v22h9l14 5l9 6l19 19l17 24l7 12l3 8l10 16l18 38l25 60l20 56l6 25h22l6 -26l18 -50l23 -55l27 -55l5 -6l3 -8l7 -12l21 -31l21 -20l10 -7l9 -4l-11 1l-7 2l-13 8l-22 21l-18 27l-7 7l-1 4l-26 51v2l-6 11l-18 43l-15 32l-9 9l-7 4h-2l-6 -3l-11 -11l-34 -79l-29 -59v-2l-2 -4l-6 -6l-18 -29l-15 -19l-15 -14l-17 -10z"/>
<path fill="#000092" stroke="#000092" d="M346 119l7 3l11 8l18 17l28 42l4 10l5 6l17 33v2l7 13l16 37l26 68l7 25l1 8l1 1h10v-52h-2l-6 -4l-10 -11l-33 -76l-31 -62l-1 -4l-6 -5l-12 -19l-11 -14l-19 -17l-15 -8zM0 101v21l17 3l8 4l12 9l9 9l15 19l13 21l4 10l7 10l22 46l26 63l17 47l7 29h22l6 -26l16 -45l24 -58l29 -59l5 -6l1 -4l9 -16l19 -28l18 -18l15 -11l5 -2h-7l-7 2l-15 9l-20 19l-19 28l-7 7l-1 4l-31 62l-33 76l-12 12l-4 2h-5l-8 -6l-7 -8l-35 -81l-29 -59v-2l-7 -8l-16 -26l-20 -25l-11 -10l-16 -10z"/>
<path fill="#00008d" stroke="#00008d" d="M347 119l8 4l8 6l20 19l26 39l5 12l4 4l20 39l24 55l14 36l6 19l2 3l5 16l5 21h10v-51l-6 -3l-11 -11l-31 -69v-2l-5 -9v-2l-22 -45l-6 -10l-1 -5l-7 -7l-19 -28l-22 -21l-14 -8zM0 102v20l15 2l7 3l13 9l13 13l11 14l14 22l4 10l7 10l20 41l26 62l20 55l7 29h22l5 -23l20 -56l24 -57l23 -47l8 -11l8 -17l20 -30l20 -20l9 -7l9 -5h-5l-10 3l-14 9l-18 17l-19 28l-8 8l-2 7l-5 8l-23 47v2l-5 9v2l-31 69l-12 11l-6 2l-7 -4l-9 -9l-14 -30l-19 -46l-20 -41v-2l-6 -10l-7 -16l-4 -4l-19 -30l-13 -17l-16 -16l-10 -7l-10 -5l-7 -2z"/>
<path fill="#000087" stroke="#000087" d="M348 119l19 13l17 17l24 36l5 12l8 11l19 38l20 46l28 75l6 25h10v-51l-5 -2l-11 -10l-19 -41l-14 -34l-6 -11v-2l-27 -53l-1 -4l-7 -7l-18 -27l-21 -20l-13 -8zM0 102v20h8l10 3l8 4l8 6l20 21l15 22l30 57v2l6 11l15 35l31 83l6 26h22l7 -30l16 -44l25 -60l25 -51l7 -9v-2l11 -20l21 -30l17 -16l16 -11l-11 2l-10 5l-9 7l-14 13l-11 14l-12 19l-5 4l-2 6l-27 53v2l-6 11l-17 41l-15 32l-10 10l-5 3h-4l-11 -8l-5 -6l-33 -77l-31 -63v-2l-6 -7l-16 -26l-16 -21l-14 -14l-19 -12l-10 -3z"/>
<path fill="#000082" stroke="#000082" d="M350 120l16 11l19 19l26 40l3 8l6 8l12 23v2l9 17l22 51l25 68l6 25h10v-51l-7 -3l-11 -12l-33 -76l-31 -62l-1 -4l-5 -4l-12 -19l-10 -13l-17 -16l-8 -6l-10 -5zM0 102v20h9l14 5l10 7l17 17l18 25l7 12l3 8l4 5l6 13l2 2v2l11 21l17 39l27 70l8 25l4 19h22l6 -27l20 -55l3 -5l18 -45l20 -42l2 -2l5 -11l5 -6l2 -6l8 -14l21 -31l14 -14l19 -14h-5l-6 2l-12 7l-23 22l-11 15l-7 12l-7 7l-1 4l-31 62l-32 74l-8 10l-8 6l-4 1l-9 -6l-8 -9l-35 -81l-29 -59v-2l-6 -7l-14 -23l-14 -19l-16 -17l-12 -9l-10 -5z"/>
<path fill="#00007d" stroke="#00007d" d="M351 120l14 10l16 15l29 43l4 10l5 6l16 31v2l7 13l31 74l10 30l2 3l7 25l1 8l1 2h10v-50l-5 -2l-12 -12l-17 -37l-13 -32l-5 -9v-2l-25 -51l-4 -6l-2 -6l-8 -9l-15 -23l-9 -10l-22 -18l-9 -4zM0 102v19l17 3l15 9l20 20l16 23l27 50v2l7 13l19 44l18 46l7 22l2 3l9 36h22v-4l6 -23l16 -45l24 -58l23 -48l11 -17l7 -15l22 -33l17 -17l17 -12h-4l-9 3l-11 7l-21 20l-19 28l-7 7l-2 7l-3 4l-26 53l-34 78l-14 14l-6 1l-5 -3l-10 -10l-17 -37l-20 -48l-13 -26v-2l-17 -34l-5 -5l-16 -26l-19 -24l-12 -11l-16 -10z"/>
<path fill="#000078" stroke="#000078" d="M352 120l18 14l13 13l23 34l8 17l9 13l25 52l22 53l17 47l7 29h10v-50l-4 -1l-12 -11l-15 -32l-13 -32l-10 -20v-2l-28 -55l-1 -4l-6 -6l-18 -27l-23 -22l-9 -6zM0 103v18h6l11 3l14 8l16 15l20 27l6 10l5 12l6 8l13 26v2l6 11l16 37l28 73l5 16l5 23h21l6 -24l17 -48l28 -67l21 -43l9 -13v-2l8 -15l15 -21l5 -9l19 -19l14 -11l-8 2l-8 4l-19 16l-11 12l-15 23l-7 7l-2 6l-28 55v2l-5 9l-14 34l-18 39l-11 11l-7 3l-12 -9l-6 -8l-42 -97l-21 -41l-1 -4l-4 -4l-16 -26l-15 -20l-17 -17l-10 -7l-10 -5l-7 -2z"/>
<path fill="#000072" stroke="#000072" d="M353 121l15 11l16 16l24 36l7 15l7 10l22 45l28 67l16 45l6 26h10v-49l-6 -3l-12 -13l-37 -85l-27 -53l-1 -4l-7 -7l-3 -6l-15 -21l-10 -10l-18 -15l-8 -4zM0 103v18h7l11 3l17 11l14 14l20 28l30 57l23 53l16 41l6 19l2 3l5 15l6 27h21l8 -31l16 -44l26 -62l23 -47l7 -10l9 -18l20 -30l12 -13l20 -16h-3l-10 4l-22 18l-15 18l-13 20l-4 3l-1 4l-28 55v2l-5 9l-14 34l-19 41l-12 12l-4 2h-3l-7 -5l-9 -10l-38 -88l-26 -52v-2l-8 -10l-16 -26l-13 -17l-20 -19l-14 -8l-10 -3z"/>
<path fill="#00006d" stroke="#00006d" d="M354 121l13 10l18 18l26 40l4 10l6 8l24 49l24 57l19 53l6 26h10v-49l-5 -2l-12 -12l-34 -78l-32 -64v-2l-7 -7l-15 -23l-12 -13l-11 -10l-10 -7zM0 103v18h8l8 2l17 10l17 17l16 22l10 17l3 8l4 5l17 34l20 46l25 65l8 25l4 20h21l7 -28l15 -42l27 -65l25 -51l6 -8l2 -6l8 -14l13 -18l5 -9l16 -17l16 -13l-15 6l-21 18l-10 12l-15 23l-6 6v2l-32 64l-33 76l-14 14l-7 1l-14 -13l-36 -83l-30 -61v-2l-5 -5l-16 -26l-17 -22l-17 -16l-13 -8l-8 -3z"/>
<path fill="#000068" stroke="#000068" d="M355 122l10 7l20 20l25 38l4 10l6 8l22 44l29 69l13 38l2 3l8 33h10v-49l-4 -1l-5 -4l-8 -9l-35 -78v-2l-24 -49l-6 -10l-2 -6l-4 -3l-15 -23l-13 -15l-19 -16l-8 -4zM0 103v18h9l10 3l13 8l19 19l17 24l25 46v2l8 15l22 51l13 33l16 46l5 20v4h21l7 -28l18 -50l23 -55l27 -55l5 -6l8 -17l23 -34l15 -15l13 -10h-3l-9 4l-19 16l-10 10l-18 27l-6 6l-2 6l-5 8l-25 51v2l-35 78l-11 11l-7 3l-4 -2l-12 -12l-14 -30l-23 -55l-14 -28v-2l-11 -20l-5 -12l-5 -5l-18 -29l-15 -19l-15 -14l-17 -10z"/>
<path fill="#000062" stroke="#000062" d="M356 122l16 13l14 15l1 3l22 32l5 12l3 3l7 12l23 48l26 63l2 8l12 31l7 30h10v-48l-6 -3l-10 -10l-19 -41l-19 -45l-28 -55l-1 -4l-5 -5l-13 -20l-14 -17l-16 -14l-12 -7zM0 103v17l17 3l14 8l21 21l18 26l8 15v2l7 10l11 22v2l6 11l19 44l18 46l7 22l2 3l9 36l1 1h20l6 -25l17 -48l24 -58l24 -50l10 -15v-2l10 -18l19 -28l17 -17l11 -9l-15 7l-16 14l-12 13l-15 23l-6 6l-1 4l-29 57v2l-5 9l-14 34l-18 39l-12 12l-3 2h-4l-8 -6l-8 -9l-37 -86l-27 -54v-2l-9 -12l-14 -23l-12 -16l-19 -19l-16 -10z"/>
<path fill="#00005d" stroke="#00005d" d="M358 123l12 10l16 17l20 30l9 18l8 12l21 43l26 62l17 47l7 30h10v-48l-5 -2l-13 -14l-37 -85l-28 -55v-2l-6 -6l-18 -27l-27 -25zM0 104v16h6l11 3l14 8l16 15l20 27l12 23l5 7l13 26v2l6 11l16 37l32 85l6 27l1 1h20l8 -32l18 -49l24 -57l22 -45l7 -10l10 -20l20 -30l20 -20l8 -6l-5 1l-9 5l-17 15l-13 15l-12 19l-7 7l-1 4l-28 55l-36 83l-3 5l-8 8l-9 5l-6 -4l-11 -12l-34 -79l-11 -22v-2l-20 -39v-2l-6 -7l-12 -20l-17 -23l-17 -17l-10 -7l-10 -5l-7 -2z"/>
<path fill="#000058" stroke="#000058" d="M358 123l10 8l16 16l21 31l7 12l3 8l7 10l23 47l27 65l16 45l6 27h10v-47l-3 -1l-7 -6l-7 -8l-26 -58l-3 -9l-11 -22v-2l-22 -44l-2 -2l-3 -8l-6 -6l-5 -9l-13 -18l-21 -20l-7 -5zM0 104v16h7l11 3l17 11l14 14l20 28l30 57l23 53l19 49l3 11l2 3l5 15l6 27l1 1h20l8 -32l16 -44l26 -62l23 -47l7 -10l7 -15l22 -33l13 -14l14 -12l-6 2l-8 5l-21 19l-10 13l-10 16l-7 8l-27 54v2l-6 11l-33 76l-12 13l-5 3h-3l-15 -14l-36 -83l-12 -24v-2l-19 -38l-6 -7l-16 -26l-14 -18l-14 -14l-8 -6l-11 -6l-10 -3z"/>
<path fill="#000053" stroke="#000053" d="M360 124l25 24l26 40l4 10l6 8l25 51l23 55l19 53l6 27h10v-47l-7 -4l-10 -11l-17 -37l-13 -32l-5 -9v-2l-24 -49l-6 -10l-2 -6l-6 -6l-19 -28l-19 -18l-10 -7zM0 104v16h8l8 2l17 10l17 17l16 22l9 15l4 10l4 5l17 34v2l18 39l27 70l8 25l4 20l1 1h20l7 -29l15 -42l23 -56l20 -43l2 -2l7 -15l6 -8l4 -10l24 -37l16 -17l11 -9h-2l-12 7l-18 16l-14 18l-10 16l-5 5l-1 4l-6 10l-25 51v2l-35 78l-12 12l-3 2h-4l-9 -7l-6 -7l-14 -30l-23 -55l-13 -26v-2l-11 -22l-2 -2l-4 -10l-4 -4l-16 -26l-17 -22l-17 -16l-13 -8l-8 -3z"/>
<path fill="#00004d" stroke="#00004d" d="M361 125l14 12l10 11l22 33l7 15l6 8l6 11l24 51l21 51l13 38l2 3l7 26l1 8h10v-47l-5 -2l-11 -11l-19 -41l-19 -45l-29 -57v-2l-7 -8l-20 -29l-22 -20l-9 -5zM0 104v16h9l10 3l13 8l19 19l17 24l25 46v2l8 15l22 51l13 33l11 33l2 3l9 35h20l7 -29l9 -26l25 -63l19 -40v-2l15 -29l5 -6l5 -12l25 -38l23 -22l-6 2l-7 5l-22 21l-18 27l-6 6l-1 4l-29 57v2l-5 9l-14 34l-18 39l-14 14l-4 1l-6 -4l-11 -12l-37 -86l-28 -56v-2l-5 -6l-19 -30l-15 -19l-15 -14l-17 -10z"/>
<path fill="#000048" stroke="#000048" d="M362 125l24 24l3 6l17 24l8 15v2l5 6l24 48l16 37l6 17l3 5l19 52l7 30l1 1h9v-46l-3 -1l-15 -16l-37 -85l-29 -58l-7 -8l-10 -16l-10 -13l-20 -18zM0 104v15l17 3l15 9l20 20l18 26l26 49v2l6 11l19 44l18 46l7 22l2 3l10 38h20l6 -26l14 -40l31 -75l7 -13v-2l27 -51l22 -34l26 -26l-7 3l-7 5l-20 19l-19 28l-5 5l-30 60l-37 85l-12 13l-5 3h-3l-16 -16l-38 -88l-27 -54v-2l-6 -7l-16 -26l-19 -24l-12 -11l-16 -10z"/>
<path fill="#000043" stroke="#000043" d="M363 126l21 20l22 33l9 18l8 12l21 43l26 62l17 47l7 30l1 1h9v-46l-8 -5l-9 -10l-29 -67l-11 -22v-2l-22 -44l-2 -2l-3 -8l-5 -5l-18 -27l-23 -22zM0 105v14h6l11 3l14 8l16 15l20 27l13 25l4 5l13 26v2l6 11l16 37l28 73l11 41h20l9 -36l2 -3l10 -30l35 -83l16 -32l7 -10l10 -20l15 -21l5 -9l22 -22l-13 8l-18 17l-12 16l-7 12l-6 6l-28 56v2l-11 22l-3 9l-25 56l-13 14l-3 2h-4l-15 -14l-40 -92l-7 -13v-2l-20 -40l-9 -12l-10 -17l-15 -20l-17 -17l-10 -7l-10 -5l-7 -2z"/>
<path fill="#00003e" stroke="#00003e" d="M365 127l20 20l1 3l22 32l7 15l7 10l23 47l27 65l16 45l6 27l1 1h9v-46l-5 -2l-12 -13l-17 -37l-13 -32l-11 -22v-2l-19 -38l-2 -2l-5 -12l-8 -9l-1 -3l-15 -21l-21 -20zM0 105v14h7l11 3l17 11l18 19l16 23l30 57l23 53l12 30l10 30l2 3l5 15l7 29h20l8 -33l8 -20l2 -8l14 -36l23 -53l18 -36l7 -10l2 -6l7 -12l23 -34l18 -17l-8 4l-21 19l-10 13l-10 16l-7 8l-1 4l-25 48v2l-11 22l-13 32l-17 37l-13 13l-5 2l-8 -6l-8 -9l-17 -37l-19 -46l-13 -26v-2l-13 -26l-2 -2l-3 -8l-6 -7l-16 -26l-13 -17l-20 -19l-14 -8l-10 -3z"/>
<path fill="#000038" stroke="#000038" d="M366 128l19 19l26 40l4 10l6 8l24 49l24 57l19 53l6 27l1 1h9v-45l-4 -2l-12 -12l-15 -32l-22 -52l-30 -59l-1 -4l-6 -6l-19 -28l-18 -17zM0 105v14l12 1l17 8l20 19l17 23l9 15l4 10l4 5l17 34l20 46l25 65l8 25l5 22h20l7 -30l8 -23l19 -49l20 -46l20 -40l6 -8l1 -4l9 -16l11 -15l9 -15l18 -18l-7 4l-11 11l-8 6l-13 17l-10 16l-5 5v2l-31 61v2l-5 9l-13 32l-18 39l-14 14l-5 1l-16 -16l-32 -75l-19 -39v-2l-8 -14l-7 -16l-4 -4l-16 -26l-16 -21l-18 -17l-13 -8l-8 -3z"/>
<path fill="#000033" stroke="#000033" d="M368 129l18 19l1 3l20 29l7 13v2l6 8l6 13l2 2l22 47l21 51l17 48l6 23v4l1 1h9v-45l-3 -1l-15 -16l-36 -83l-31 -62l-5 -5l-10 -16l-10 -13l-15 -14zM0 105v14h9l12 4l12 8l17 17l18 25l7 12l4 10l4 5l8 15v2l10 19l22 51l21 55l8 24l6 26h20l7 -30l12 -34l17 -43l17 -39l8 -15v-2l13 -25l6 -8l1 -4l9 -16l20 -30l17 -17l-8 5l-21 20l-16 24l-7 8l-31 62l-22 52l-16 34l-11 11l-3 2h-4l-16 -16l-43 -99l-24 -48l-9 -12l-8 -14l-14 -19l-16 -17l-12 -9l-10 -5z"/>
<path fill="#00002e" stroke="#00002e" d="M369 130l15 15l5 9l15 21l12 23l9 14l22 46l26 63l2 8l12 31l8 32h9v-45h-2l-4 -3l-11 -12l-33 -76l-6 -11v-2l-28 -56l-7 -8l-5 -9l-15 -20zM0 105v13l10 1l9 3l13 8l19 19l17 24l27 50v2l7 13l19 44l18 46l7 22l2 3l10 39h20l6 -27l14 -40l18 -45l14 -30v-2l7 -13v-2l11 -22l9 -14l6 -13l8 -13l5 -6l11 -18l15 -16l-7 5l-19 18l-18 27l-5 5l-29 58v2l-6 11l-32 74l-14 15l-5 2l-16 -15l-16 -35l-19 -46l-11 -22v-2l-22 -44l-4 -4l-16 -26l-18 -23l-14 -13l-17 -10z"/>
<path fill="#000000" stroke="#000000" d="M373 133l12 13l1 3l20 29l9 18l9 14l19 39l27 64l17 47l8 32h9v-44l-4 -2l-13 -14l-34 -78l-6 -11v-2l-21 -42l-2 -2l-4 -10l-5 -5l-12 -19l-12 -15zM0 106v12l11 1l6 2l14 8l15 14l21 28l30 56v2l6 11l16 37l28 73l11 42h20l6 -27l11 -32l18 -46l16 -37l6 -11v-2l14 -28l8 -12l12 -23l13 -18l7 -12l12 -12l-24 21l-19 28l-5 5l-2 6l-26 50v2l-6 11l-34 78l-14 14l-4 1l-6 -4l-10 -11l-17 -37l-19 -46l-12 -24v-2l-20 -40l-4 -4l-14 -23l-15 -20l-18 -18l-16 -10l-9 -3z"/>
</g>
<g transform="translate(725.3 633.7)" stroke-width="1" stroke-linejoin="round" fill-rule="evenodd">
<path fill="#f7f7ff" stroke="#f7f7ff" d="M0 0v293h42l21 5l19 7l22 11l19 12l19 10l22 7h8l1 1l18 -1l28 -6l14 -5h15l1 1l12 1l39 12l21 4l18 -1l18 -6l23 -12l21 -13l25 -11l31 -1l1 1h12l1 1h30v-310z"/>
<path fill="#f0f0ff" stroke="#f0f0ff" d="M0 22v236l21 2l14 4l28 16l22 16l52 33l19 7l9 2h16l9 -2l13 -5l17 -11l22 -22l16 -11l9 1l7 5l26 30l15 15l13 7h11l8 -3l7 -5l14 -14l27 -32l7 -6l9 -4l16 3l17 8l6 5l9 4l8 2h30l4 1v-223l-6 -1l-24 -11l-9 -1l-15 -4l-29 -19l-24 -8h-4l-19 -5h-8l-1 -1l-31 1l-13 -4l-17 -2l-1 -1l-35 1l-13 3l-15 7l-16 9l-14 11l-14 8l-9 2h-12l-1 -1l-20 -2l-14 -5l-8 -1l-21 -7h-3l-13 -5l-23 -6l-14 -7l-18 -7l-14 -3zM332 221l11 1l19 7l13 9l9 12v11l-11 23l-14 20l-14 14l-8 4h-6l-6 -3l-15 -14l-19 -29l-5 -15l2 -10l12 -13l9 -6z"/>
<path fill="#e8e8ff" stroke="#e8e8ff" d="M0 34v204l15 1l15 3l17 8l19 12l33 25l35 30l11 5l20 4l18 -4l16 -8l14 -9l9 -7l16 -16l7 -5l7 -3h5l10 6l8 8l24 30l18 18l6 4l6 2h10l9 -4l9 -7l12 -13l28 -35l13 -12l9 -4h10l16 6l16 15l10 7l30 1v-203l-9 -2l-21 -10l-14 -2l-10 -3l-33 -21l-18 -6l-25 -6h-8l-1 -1l-29 1l-21 -5l-15 -1l-1 -1h-14l-1 1l-16 1l-17 5l-21 11l-32 22l-7 2l-13 1l-1 -1h-9l-1 -1l-12 -1l-18 -6h-4l-14 -5h-3l-19 -7h-3l-25 -8l-9 -5l-20 -8l-14 -3zM333 201l16 3l21 9l14 10l7 7l5 10v8l-4 11l-20 32l-13 17l-12 12l-9 5l-11 -1l-6 -4l-11 -11l-23 -32l-9 -16l-3 -9v-9l2 -5l13 -14l16 -11z"/>
<path fill="#e0e0ff" stroke="#e0e0ff" d="M0 42v182l27 3l11 4l27 16l33 25l33 29l8 5l18 5h15l8 -2l22 -11l12 -8l25 -22l7 -3h5l7 3l11 10l32 40l16 16l12 6h10l12 -6l16 -16l36 -45l12 -11l9 -5l8 -1l12 3l27 23l10 1l1 1h19v-182l-1 -1h-3l-27 -12l-9 -1l-14 -4l-27 -18l-11 -5l-15 -5l-25 -6h-9l-1 -1l-27 1l-16 -4l-14 -1l-1 -1h-21l-1 1l-13 1l-17 5l-26 14l-17 13l-12 7l-7 2h-19l-1 -1h-9l-13 -3l-10 -4l-11 -2l-19 -7h-3l-19 -7h-3l-19 -7l-11 -6l-17 -6l-10 -1l-1 -1zM333 188l8 1l18 5l17 9l10 7l12 12l4 6l2 6l-1 9l-5 11l-27 41l-19 23l-9 7l-8 3l-6 -1l-7 -4l-14 -14l-13 -17l-18 -27l-9 -19l1 -13l7 -11l7 -7l18 -13l14 -7z"/>
<path fill="#d9d9ff" stroke="#d9d9ff" d="M0 48v166h13l1 1l11 1l10 3l10 5l21 13l32 24l27 24l14 10l19 5h14l8 -2l22 -11l12 -8l21 -18l7 -3h5l8 4l16 16l28 36l14 15l14 9l9 1l5 -1l13 -8l15 -16l31 -40l18 -18l12 -7l9 -1l8 3l17 15l9 6l28 2v-167h-4l-27 -12l-9 -1l-16 -5l-23 -16l-12 -6l-25 -8l-18 -4h-11l-1 -1l-24 1l-17 -4l-20 -1l-1 -1l-22 2l-19 5l-30 16l-14 11l-13 8l-12 3h-11l-1 -1l-16 -1l-12 -3l-6 -3l-11 -2l-34 -12h-3l-21 -7l-31 -14l-14 -3zM333 179l9 1l18 5l19 10l11 8l13 13l5 7l2 6l-1 8l-4 9l-29 44l-16 21l-13 13l-9 5h-8l-9 -5l-17 -18l-30 -43l-10 -18l-2 -8l1 -7l4 -8l15 -17l19 -13l10 -5z"/>
<path fill="#d1d1ff" stroke="#d1d1ff" d="M0 53v152l27 3l9 3l15 8l17 11l31 23l32 28l8 5l18 5h15l8 -2l22 -11l15 -10l17 -14l7 -2l4 1l7 4l8 7l10 11l31 40l16 16l11 6h12l11 -6l16 -16l30 -39l15 -17l14 -12l8 -4l10 -1l4 2l24 19l12 1l1 1h16v-153l-8 -2l-22 -10h-4l-21 -6l-30 -20l-25 -9l-25 -6h-12l-1 -1l-22 1l-6 -2l-20 -2l-1 -1h-22l-1 1l-12 1l-17 5l-28 15l-20 15l-11 6l-9 2h-14l-1 -1l-15 -1l-18 -6l-17 -4l-3 -2l-50 -16l-11 -6l-17 -7l-13 -3h-10l-1 -1h-13zM334 172l12 2l17 5l17 9l11 8l19 19l4 8v8l-6 13l-33 49l-13 17l-12 13l-7 5l-8 3l-6 -1l-7 -4l-16 -16l-41 -59l-7 -16v-6l5 -11l11 -14l10 -9l12 -8l14 -7z"/>
<path fill="#c9c9ff" stroke="#c9c9ff" d="M0 56v142l15 1l15 3l19 9l22 14l38 29l14 13l17 12l21 5l14 -1l9 -3l14 -7l20 -13l12 -10l5 -2h6l10 6l15 15l32 41l17 18l11 7l12 1l8 -3l7 -5l17 -18l36 -46l18 -18l13 -8l9 -1l4 2l22 17l11 1l1 1h17v-142l-13 -4l-17 -8l-8 -1l-16 -5l-9 -5l-18 -13l-8 -4l-26 -9l-23 -5h-33l-13 -3l-19 -1l-1 -1l-18 1l-25 6l-30 16l-17 13l-14 8l-8 2h-17l-1 -1l-14 -1l-18 -6l-10 -2l-18 -6l-3 -2l-35 -11l-18 -9l-16 -6l-9 -2h-7l-1 -1zM332 167h5l25 6l21 11l13 10l17 17l5 9v7l-6 13l-36 53l-17 22l-11 11l-11 6h-6l-5 -2l-7 -5l-9 -9l-29 -39l-18 -27l-8 -16v-10l4 -8l8 -11l15 -15l12 -8l14 -7z"/>
<path fill="#c2c2ff" stroke="#c2c2ff" d="M0 59v134h12l1 1l12 1l10 3l12 6l21 13l22 16l42 35l9 5l24 5l12 -2l11 -4l13 -7l28 -20l9 -1l9 5l13 12l21 25l14 19l16 18l12 9l7 1l-8 -4l-15 -15l-20 -27l-30 -45l-5 -11v-9l3 -7l8 -11l20 -20l21 -12l27 -9h8l15 3l16 6l11 6l22 17l16 17l3 6l-1 8l-7 13l-40 58l-20 25l-8 7l-8 4l7 -1l11 -8l13 -14l18 -24l26 -31l15 -14l13 -8h7l4 2l20 15l10 2l19 1v-134l-16 -5l-12 -6l-18 -4l-14 -6l-21 -15l-18 -8l-19 -6l-19 -4h-33l-6 -2h-6l-8 -2h-12l-1 -1l-18 1l-19 4l-11 4l-25 14l-20 15l-13 7l-10 2h-10l-1 -1l-16 -1l-12 -3l-6 -3l-7 -1l-59 -20l-25 -12l-15 -5l-14 -1l-1 -1z"/>
<path fill="#babaff" stroke="#babaff" d="M0 62v126l24 2l13 4l28 16l28 20l36 30l11 7l20 5h11l8 -2l23 -11l26 -18h9l12 8l13 13l36 45l11 11l-23 -31l-32 -48l-5 -11v-8l4 -8l9 -12l19 -19l23 -13l30 -9l22 4l9 3l16 8l19 14l25 26v7l-6 12l-41 60l-18 24l10 -10l41 -51l14 -14l17 -12l3 -1l5 1l7 4l11 9l7 3l26 2v-126l-10 -3l-20 -9l-21 -5l-10 -5l-21 -15l-16 -7l-25 -8l-16 -2l-1 -1h-32l-1 -1l-21 -2l-1 -1h-22l-1 1l-11 1l-20 6l-27 15l-20 15l-13 7l-10 2h-10l-1 -1h-10l-1 -1l-10 -1l-17 -6h-3l-61 -21l-20 -10l-17 -6l-11 -1l-1 -1z"/>
<path fill="#b2b2ff" stroke="#b2b2ff" d="M0 64v120l24 2l8 2l15 7l15 9l33 23l35 29l12 7l17 4l17 -1l9 -3l14 -7l27 -18h8l5 2l8 6l16 16l26 31l-36 -54l-5 -9l-2 -10l3 -7l7 -10l20 -22l13 -9l14 -7l26 -8l19 1l12 3l16 7l16 10l11 9l25 25v7l-4 8l-22 31l-22 34l30 -36l17 -17l17 -12l3 -1l10 4l15 11l10 1l1 1l18 1v-120l-11 -3l-20 -9l-8 -1l-15 -5l-9 -5l-18 -13l-20 -9l-19 -6l-21 -4h-31l-7 -2l-17 -1l-1 -1h-18l-1 1l-16 2l-16 5l-32 18l-11 9l-17 10l-7 2h-21l-21 -4l-31 -10l-17 -7l-28 -9l-20 -10l-14 -5l-9 -2h-10l-1 -1z"/>
<path fill="#ababff" stroke="#ababff" d="M0 67v114h15l1 1l11 1l21 9l15 9l36 25l30 25l11 7l21 5h9l9 -2l23 -11l21 -14l8 -1l7 3l7 5l19 19l12 14l-4 -8l-23 -34l-5 -11l1 -9l16 -21l17 -17l23 -13l30 -9h8l20 4l24 11l19 14l28 26l1 6l-4 9l-20 28l-13 21l34 -36l18 -13l8 1l20 13l27 3v-115l-6 -1l-26 -11l-20 -5l-11 -6l-18 -13l-20 -9l-19 -6l-20 -4h-31l-7 -2l-17 -1l-1 -1l-26 1l-17 4l-15 6l-24 14l-14 11l-15 9l-12 3h-11l-1 -1h-9l-1 -1l-10 -1l-35 -11l-14 -6l-31 -10l-20 -10l-16 -6l-10 -2h-11l-1 -1z"/>
<path fill="#a3a3ff" stroke="#a3a3ff" d="M0 68v110h15l1 1l11 1l9 3l14 7l47 31l29 24l14 9l20 5l16 -1l9 -3l16 -8l16 -11l11 -4l9 4l8 6l23 23l-24 -38l-2 -5v-7l2 -4l15 -19l22 -21l21 -11l28 -8h11l19 4l22 10l16 11l33 29l2 3v6l-3 6l-18 25l-9 15l24 -24l20 -15h6l17 11l5 2l26 3v-110l-11 -3l-15 -7l-28 -8l-30 -20l-19 -8l-9 -2l-10 -4l-15 -3h-11l-1 -1l-20 1l-1 -1l-21 -2l-1 -1h-25l-19 4l-14 5l-31 18l-11 9l-17 10l-10 2h-12l-1 -1h-9l-14 -3l-31 -10l-14 -6l-28 -9l-25 -12l-14 -5l-9 -2h-8l-1 -1z"/>
<path fill="#9c9cff" stroke="#9c9cff" d="M0 70v105h12l1 1l13 1l20 8l17 10l34 23l36 29l14 6l16 3l15 -2l15 -6l28 -17l6 -1l13 7l22 20l-21 -34l-1 -9l3 -6l17 -20l19 -18l25 -13l26 -7h11l19 4l24 11l23 17l27 24l1 8l-2 4l-16 22l-7 12l30 -27l9 -5h5l14 9l7 3l26 3v-105l-13 -4l-15 -7l-25 -7l-29 -19l-10 -5l-25 -9l-24 -5h-31l-7 -2l-20 -1l-1 -1l-25 2l-18 5l-15 7l-20 12l-14 11l-15 9l-13 3h-10l-1 -1h-9l-1 -1l-10 -1l-32 -10l-22 -9l-25 -8l-20 -10l-19 -7l-11 -1l-1 -1z"/>
<path fill="#9494ff" stroke="#9494ff" d="M0 72v101l23 1l11 3l11 5l19 11l34 23l31 25l15 8l20 4l14 -2l19 -8l23 -14l6 -1l14 8l16 14v-2l-14 -21l-4 -9v-5l4 -7l13 -15l21 -21l7 -5l21 -10l27 -7h8l1 1l16 2l14 5l14 7l22 16l13 12l9 6l8 8l1 2l-1 8l-16 22l-5 9l25 -22l11 -6l6 1l16 10l10 2h7l1 1h10v-101h-3l-14 -5l-12 -6l-11 -2l-14 -5l-27 -18l-12 -6l-19 -7h-3l-15 -5l-15 -1l-1 -1l-22 1l-1 -1l-21 -2l-1 -1h-25l-1 1h-5l-13 3l-20 8l-22 13l-23 17l-8 4l-7 2h-23l-16 -3l-28 -9l-11 -5l-41 -14l-15 -8l-15 -6l-13 -3z"/>
<path fill="#8c8cff" stroke="#8c8cff" d="M0 73v97l24 2l13 4l12 6l54 35l27 22l13 7l19 4l13 -1l10 -3l16 -8l18 -11h8l4 2l21 16v-2l-15 -24v-8l5 -8l21 -23l17 -15l22 -11l21 -6l11 -1l1 -1l1 1h7l15 3l22 9l17 11l21 18l13 9l7 7l1 8l-19 28l13 -10l7 -7l10 -6l9 1l10 7l5 2l17 2l1 1h9v-97l-18 -6l-10 -5l-13 -3l-14 -5l-28 -19l-30 -12l-25 -6h-31l-1 -1h-6l-8 -2h-10l-1 -1l-25 1l-14 3l-22 9l-26 16l-17 13l-10 5l-8 2h-16l-1 -1l-14 -1l-30 -9l-11 -5l-46 -16l-27 -13l-18 -4z"/>
<path fill="#8585ff" stroke="#8585ff" d="M0 74v94l2 1h15l1 1l10 1l21 9l53 34l30 24l13 6l13 3h15l8 -2l10 -4l21 -13l7 -3l9 1l21 15l-11 -18l-3 -7v-5l4 -7l27 -29l16 -13l21 -10l28 -7l21 2l21 7l18 10l28 23l12 8l10 10v6l-16 22v2l19 -16l10 -4l4 1l16 9l17 2l1 1h9v-94l-11 -3l-15 -7l-25 -7l-8 -4l-23 -16l-20 -9l-18 -6l-20 -4h-30l-8 -2l-20 -1l-1 -1l-20 1l-23 6l-15 7l-26 16l-17 13l-8 4l-7 2h-23l-16 -3l-28 -9l-27 -11l-24 -8l-30 -14l-21 -4z"/>
<path fill="#7d7dff" stroke="#7d7dff" d="M0 75v92l22 1l12 3l11 5l19 11l38 25l32 25l12 5l15 3h10l15 -4l14 -7l12 -8l8 -3l8 2l16 12h2l-12 -21v-7l10 -13l30 -30l7 -5l18 -9l30 -8h13l16 3l18 7l24 15l16 14l21 15l5 5l1 7l-9 11l-5 9l4 -2l11 -10l9 -4l7 1l14 8l27 4v-92h-3l-11 -4l-15 -7l-14 -3l-13 -5l-28 -19l-13 -6l-20 -7l-23 -5h-31l-7 -2l-23 -1l-1 -1l-16 1l-14 3l-21 8l-22 13l-17 13l-15 9l-12 3h-12l-1 -1l-15 -1l-33 -10l-27 -11l-27 -9l-17 -9l-16 -6l-9 -2z"/>
<path fill="#7575ff" stroke="#7575ff" d="M501 225v-89h-3l-19 -7l-5 -3l-13 -3l-14 -5l-30 -20l-21 -9l-9 -2l-10 -4l-16 -3h-31l-16 -3h-16l-1 -1l-1 1h-12l-1 1l-10 1l-13 4l-17 8l-24 15l-17 13l-10 5l-8 2h-17l-1 -1l-13 -1l-30 -9l-16 -7l-40 -14l-13 -7l-17 -7l-13 -3h-24v88l25 2l13 4l10 5l45 28l43 32l7 3l19 4l14 -1l10 -3l31 -17l9 1l17 11l-11 -21v-3l4 -7l35 -36l9 -7l18 -9l30 -8l22 1l20 6l16 8l9 6l23 19l20 14l6 6l1 5l-3 6l-6 6l-4 7l12 -10l8 -4l9 1l9 6l6 2z"/>
<path fill="#6e6eff" stroke="#6e6eff" d="M501 224v-87h-3l-19 -7l-5 -3l-13 -3l-14 -5l-30 -20l-33 -13l-23 -5h-30l-8 -2l-23 -1l-1 -1l-21 2l-15 4l-18 8l-20 12l-17 13l-13 8l-10 3h-20l-21 -4l-6 -3h-3l-15 -5l-24 -10l-27 -9l-13 -7l-19 -8l-14 -3h-23v86l23 1l11 3l15 7l51 32l34 26l9 4l18 4l15 -1l10 -3l29 -16h8l6 3l6 5l5 2l-9 -17v-5l4 -7l30 -31l13 -11l17 -9l14 -5l24 -5l17 2l18 5l13 6l13 8l22 18l23 16l6 6l1 7l-6 9l12 -6h7l16 8z"/>
<path fill="#6666ff" stroke="#6666ff" d="M501 222v-84h-3l-19 -7l-5 -3l-13 -3l-14 -5l-30 -20l-18 -8l-18 -6l-19 -4h-31l-7 -2l-22 -1l-1 -1l-18 1l-20 5l-18 8l-23 14l-11 9l-16 10l-10 3h-21l-1 -1l-12 -1l-34 -11l-21 -9l-27 -9l-13 -7l-19 -8l-13 -3h-24v83l18 1l1 1l10 1l17 7l24 14l35 23l29 22l15 6l10 1l1 1h12l9 -2l8 -3l28 -15l6 1l15 9l-8 -15v-7l5 -7l34 -34l10 -8l13 -7l17 -6l24 -5l12 1l18 4l22 10l57 42l6 8l-2 8l6 -2h8l10 6l6 2l17 2l1 1z"/>
<path fill="#5e5eff" stroke="#5e5eff" d="M0 80v81l20 1l16 4l23 12l35 22l41 30l13 5l10 2l21 -1l11 -4l15 -9l11 -5l7 1l9 6l4 1l-8 -15l3 -8l40 -40l11 -8l17 -8l22 -6h5l7 -2l27 4l11 4l19 10l32 25l18 12l8 8l1 9l11 -1l14 7l27 4v-82l-9 -2l-18 -8l-13 -3l-16 -6l-26 -18l-20 -9l-21 -7l-15 -3h-10l-1 -1l-19 1l-1 -1l-14 -1l-1 -1h-11l-1 -1h-14l-1 1h-7l-10 2l-13 4l-15 7l-23 14l-11 9l-16 10l-10 3h-21l-1 -1l-12 -1l-20 -7h-3l-24 -10l-37 -13l-13 -7l-17 -7l-13 -3h-11l-1 -1h-10z"/>
<path fill="#5757ff" stroke="#5757ff" d="M0 80v80l22 1l19 6l52 31l41 30l16 6l11 1l1 1h9l13 -3l31 -16l10 2l8 5v-2l-6 -11v-3l2 -4l43 -43l10 -7l17 -8l34 -8l18 2l12 3l27 13l18 13l10 9l25 17l7 8v5l1 1h10l14 7l26 4v-80l-14 -4l-15 -7l-7 -1l-15 -5l-8 -4l-23 -16l-12 -6l-32 -11l-10 -2h-8l-1 -1h-29l-1 -1l-17 -1l-1 -1h-19l-1 1l-11 1l-17 5l-17 8l-18 11l-17 13l-13 8l-10 3h-21l-1 -1l-12 -1l-31 -10l-21 -9l-32 -11l-17 -9l-16 -6l-9 -2h-9l-1 -1z"/>
<path fill="#4f4fff" stroke="#4f4fff" d="M0 81v78l22 1l17 5l24 13l35 22l37 27l13 5l10 2l21 -1l9 -3l26 -14h5l11 5l-4 -10v-3l3 -6l44 -43l7 -5l19 -9l29 -7l22 1l23 7l20 11l28 22l21 14l8 8l3 7h8l14 7l26 4v-78l-19 -6l-10 -5l-10 -2l-14 -5l-32 -21l-16 -7l-24 -8l-10 -2h-7l-1 -1h-29l-1 -1l-16 -1l-1 -1h-24l-1 1l-10 1l-14 4l-14 6l-29 18l-17 13l-10 5l-8 2h-19l-21 -4l-6 -3l-15 -4l-29 -12l-24 -8l-22 -11l-13 -5l-9 -2h-7l-1 -1z"/>
<path fill="#4747ff" stroke="#4747ff" d="M0 82v76l23 1l14 4l21 11l34 21l42 30l12 5l14 3h12l15 -4l27 -14h4l10 3l-3 -7v-4l2 -4l14 -15l32 -30l9 -6l15 -7l12 -4l20 -4l20 1l13 3l13 5l25 15l18 15l28 19l6 7l2 5h6l6 2l6 4l8 2l21 3v-76l-13 -4l-18 -8l-7 -1l-12 -4l-10 -5l-23 -16l-20 -9l-21 -7l-16 -3h-30l-1 -1l-15 -1l-1 -1h-29l-10 2l-16 5l-13 6l-26 16l-15 12l-13 7l-8 2h-18l-1 -1l-13 -1l-26 -8l-29 -12l-29 -10l-15 -8l-21 -8l-11 -1l-1 -1z"/>
<path fill="#4040ff" stroke="#4040ff" d="M501 217v-75h-3l-25 -10l-26 -8l-30 -20l-18 -8l-21 -7l-15 -3h-9l-1 -1l-20 1l-8 -2l-20 -1l-1 -1h-12l-1 1l-13 1l-17 5l-17 8l-50 33l-12 3h-14l-1 -1h-8l-14 -3l-24 -8l-26 -11l-24 -8l-24 -12l-14 -5l-10 -1l-1 -1h-22v74h15l22 5l21 11l42 26l34 25l13 5l16 3h7l19 -5l25 -13l11 2l-1 -9l5 -8l43 -41l10 -7l15 -7l17 -5l16 -3l18 1l22 6l18 9l21 15l9 8l20 13l13 11l3 6l12 3l6 4z"/>
<path fill="#3838ff" stroke="#3838ff" d="M0 83v73l22 1l17 5l29 16l35 22l30 22l11 5l21 4l11 -1l15 -5l20 -11l4 -1l8 2l1 -1l-1 -7l4 -7l38 -37l11 -9l19 -10l12 -4l24 -5h7l1 1l18 2l17 6l12 6l15 10l17 14l24 16l11 10l3 5l7 1l9 5l8 2l21 3v-73h-3l-19 -7l-5 -3l-24 -7l-8 -4l-23 -16l-12 -6l-28 -10l-21 -4h-29l-1 -1l-17 -1l-1 -1h-22l-1 1l-10 1l-17 5l-13 6l-26 16l-20 15l-8 4l-13 3h-9l-1 -1l-16 -1l-35 -11l-18 -8l-34 -12l-15 -8l-18 -7l-9 -2h-10l-1 -1z"/>
<path fill="#3030ff" stroke="#3030ff" d="M0 84v71l21 1l20 6l22 12l37 23l33 24l15 6l9 2h18l11 -3l22 -12l14 -1v-6l3 -6l39 -38l12 -10l22 -11l29 -7l24 1l20 6l16 8l15 10l17 14l27 18l11 12l8 2l10 5l26 4v-71l-16 -5l-13 -6l-13 -3l-13 -5l-28 -19l-20 -9l-21 -7l-16 -3h-30l-16 -3h-29l-1 1l-10 1l-25 9l-28 17l-11 9l-18 11l-8 2h-23l-15 -3l-13 -5l-9 -2l-26 -11l-29 -10l-24 -12l-11 -4l-16 -3z"/>
<path fill="#2929ff" stroke="#2929ff" d="M501 214v-70h-4l-19 -7l-5 -3l-24 -7l-32 -21l-18 -8l-21 -7l-14 -3h-8l-1 -1h-28l-1 -1l-19 -1l-1 -1h-14l-1 1l-13 1l-17 5l-15 7l-27 17l-14 11l-13 7l-8 2h-19l-21 -4l-6 -3l-15 -4l-18 -8l-39 -14l-17 -9l-13 -5l-14 -3h-22v69l20 1l16 4l25 13l39 24l33 24l15 6l10 2h17l11 -3l22 -12l13 -1v-5l3 -6l39 -38l12 -10l21 -11l17 -5l16 -3l20 1l13 3l13 5l24 14l17 14l27 18l14 14l8 2l10 5z"/>
<path fill="#2121ff" stroke="#2121ff" d="M0 85v68l19 1l19 5l21 11l36 22l38 27l15 6l10 2h17l18 -6l16 -9l10 -1l4 -10l20 -20l31 -28l23 -12l13 -4l21 -4l21 2l20 6l16 8l12 8l17 14l26 17l16 15l19 7l23 3v-68l-17 -5l-10 -5l-24 -7l-8 -4l-23 -16l-24 -11l-19 -6l-16 -3h-30l-1 -1l-15 -1l-1 -1h-26l-1 1h-5l-21 6l-13 6l-15 9l-36 25l-14 4h-13l-1 -1l-15 -1l-29 -9l-31 -13l-26 -9l-15 -8l-18 -7l-9 -2h-9l-1 -1z"/>
<path fill="#1a1aff" stroke="#1a1aff" d="M501 213v-67l-16 -5l-10 -5l-24 -7l-10 -5l-21 -15l-14 -7l-32 -11l-10 -1l-1 -1h-9l-1 -1l-19 1l-1 -1h-7l-9 -2h-14l-1 -1l-23 2l-20 6l-9 4l-28 17l-18 14l-11 6l-7 2l-12 1l-1 -1h-11l-1 -1l-11 -1l-13 -5l-12 -3l-31 -13l-26 -9l-13 -7l-23 -9l-11 -1l-1 -1h-20v67h17l15 3l10 4l56 33l35 25l15 6l10 2h17l16 -5l18 -10l9 -1l5 -10l50 -47l11 -7l11 -5l32 -8h17l1 1l10 1l11 3l14 6l18 11l20 16l26 17l15 14l18 7l16 3h7z"/>
<path fill="#1212ff" stroke="#1212ff" d="M501 212v-66h-3l-17 -6l-10 -5l-7 -1l-14 -5l-13 -7l-18 -13l-12 -6l-36 -12l-11 -1l-1 -1h-29l-1 -1l-17 -1l-1 -1h-22l-1 1l-11 1l-19 6l-14 7l-24 15l-20 15l-8 4l-8 2h-19l-1 -1h-7l-9 -2l-13 -5l-9 -2l-31 -13l-26 -9l-22 -11l-14 -5l-9 -2h-24v65l22 1l17 5l26 14l31 19l37 26l19 7l5 1l23 -1l9 -3l18 -10l11 -2v-2l4 -7l17 -17l36 -32l21 -11l17 -5l16 -2l1 -1h10l1 1l13 1l21 7l24 14l20 16l26 17l14 13l17 7z"/>
<path fill="#0a0aff" stroke="#0a0aff" d="M0 87v64l20 1l16 4l18 9l40 24l42 29l20 6l13 1l1 -1l11 -1l6 -2l21 -11l9 -2l5 -9l14 -14l12 -10l15 -15l17 -13l23 -10l30 -6l23 3l18 6l23 13l23 18l27 18l12 11l16 7l26 4v-64l-19 -6l-10 -5l-10 -2l-16 -6l-28 -19l-25 -11l-24 -7l-16 -1l-1 -1l-19 1l-16 -3h-32l-10 2l-13 4l-17 8l-24 15l-20 15l-8 4l-12 3h-11l-1 -1h-9l-1 -1l-10 -1l-16 -6l-6 -1l-31 -13l-26 -9l-24 -12l-11 -4l-16 -3z"/>
<path fill="#0303ff" stroke="#0303ff" d="M501 210v-63h-3l-25 -10l-21 -6l-7 -3l-26 -18l-12 -6l-36 -12l-11 -1l-1 -1h-29l-1 -1l-17 -1l-1 -1l-29 1l-21 6l-15 7l-18 11l-20 15l-13 8l-10 3h-22l-16 -3l-24 -8l-31 -13l-26 -9l-19 -10l-14 -5l-10 -2h-23v63l24 1l16 5l24 13l36 22l34 24l17 6l11 1l1 1l14 -1l13 -4l18 -10l7 -1l7 -10l11 -11l40 -36l11 -7l21 -8l24 -5l20 1l10 2l14 5l22 12l23 18l26 17l18 15l16 6l16 3z"/>
<path fill="#0000fb" stroke="#0000fb" d="M0 88v62l22 1l17 5l26 14l10 7l23 13l34 24l8 4l14 4h6l1 1l17 -1l10 -3l21 -11l6 -1l2 -4l10 -11l39 -36l12 -9l9 -5l19 -7l26 -5l20 2l20 6l16 8l15 10l16 13l26 17l15 13l13 6l28 5v-62l-19 -6l-10 -5l-10 -2l-16 -6l-28 -19l-25 -11l-24 -7l-15 -1l-1 -1l-19 1l-1 -1h-7l-9 -2h-32l-20 5l-18 8l-53 35l-12 3h-14l-1 -1l-14 -1l-29 -9l-23 -10l-29 -10l-34 -16l-20 -4z"/>
<path fill="#0000f6" stroke="#0000f6" d="M501 209v-61h-3l-25 -10l-21 -6l-7 -3l-26 -18l-12 -6l-35 -12l-12 -1l-1 -1h-29l-1 -1l-16 -1l-1 -1l-30 1l-21 6l-15 7l-21 13l-14 11l-16 10l-10 3h-23l-15 -3l-13 -5l-6 -1l-31 -13l-31 -11l-19 -10l-14 -5l-10 -2h-23v60l19 1l19 5l16 8l37 22l44 30l18 6h5l1 1l20 -1l12 -4l16 -9l6 -1l26 -27l30 -27l11 -8l24 -10l25 -5l20 1l10 2l14 5l16 8l12 8l16 13l26 17l20 16l16 6l16 3z"/>
<path fill="#0000f1" stroke="#0000f1" d="M501 209v-60l-19 -6l-10 -5l-10 -2l-16 -6l-28 -19l-22 -10l-22 -7l-10 -2h-9l-1 -1h-27l-9 -2h-15l-1 -1l-17 1l-20 5l-18 8l-53 35l-12 3h-15l-1 -1h-8l-10 -2l-24 -8l-31 -13l-21 -7l-24 -12l-13 -5l-9 -2h-7l-1 -1h-18v60l23 1l14 4l18 9l37 22l39 27l10 5l11 3l24 1l11 -3l21 -11l5 -1l22 -23l41 -36l13 -7l17 -6l26 -5l20 2l20 6l24 13l23 18l26 17l16 13l13 6z"/>
<path fill="#0000ec" stroke="#0000ec" d="M501 208v-59h-3l-25 -10l-21 -6l-15 -8l-18 -13l-12 -6l-15 -6l-20 -6l-11 -1l-1 -1h-29l-1 -1l-16 -1l-1 -1h-25l-1 1l-10 1l-16 5l-15 7l-21 13l-14 11l-16 10l-5 2l-14 1l-1 1l-1 -1h-12l-1 -1l-11 -1l-13 -5l-12 -3l-28 -12l-26 -9l-24 -12l-14 -5l-10 -2h-23v58l26 2l17 6l58 34l33 23l21 7h6l1 1l16 -1l12 -4l17 -9l5 -1l30 -30l10 -8l12 -12l16 -12l24 -10l25 -5l20 1l10 2l14 5l16 8l12 8l16 13l29 19l16 13l14 6z"/>
<path fill="#0000e6" stroke="#0000e6" d="M501 208v-58l-19 -6l-10 -5l-21 -6l-10 -5l-21 -15l-14 -7l-36 -12l-13 -1l-1 -1h-28l-1 -1l-20 -1l-1 -1h-13l-1 1l-13 1l-17 5l-15 7l-53 35l-12 3h-15l-1 -1h-8l-10 -2l-24 -8l-23 -10l-31 -11l-24 -12l-11 -4l-16 -3h-19v58l24 1l18 6l52 30l41 28l14 5l10 1l1 1h14l12 -3l19 -10l5 -1l50 -47l19 -15l10 -5l17 -6l20 -4h6l1 -1l19 2l20 6l24 13l26 20l22 14l19 15l11 5l20 4h6z"/>
<path fill="#0000e1" stroke="#0000e1" d="M0 91v56l21 1l20 6l54 31l36 25l8 4l18 5l24 -1l25 -12l5 -1l23 -23l31 -28l15 -11l21 -9l28 -6h12l1 1l12 1l19 6l16 8l12 8l16 13l29 19l18 14l12 5l25 4v-57h-3l-22 -8l-5 -3l-7 -1l-14 -5l-8 -4l-23 -16l-14 -7l-32 -11l-10 -1l-1 -1h-30l-1 -1l-15 -1l-1 -1h-28l-1 1h-5l-15 4l-20 9l-18 11l-20 15l-13 8l-10 3h-23l-1 -1l-11 -1l-30 -10l-28 -12l-21 -7l-34 -16l-13 -3h-12l-1 -1h-10z"/>
<path fill="#0000dc" stroke="#0000dc" d="M501 206v-55l-1 -1h-3l-25 -10l-23 -7l-36 -23l-19 -8l-23 -7l-12 -1l-1 -1h-29l-1 -1l-18 -1l-1 -1h-18l-1 1h-7l-5 2h-4l-17 6l-12 6l-24 15l-15 12l-10 6l-14 4h-14l-1 -1l-14 -1l-29 -9l-28 -12l-26 -9l-26 -13l-12 -4l-11 -1l-1 -1h-20v56l24 1l16 5l59 34l33 23l8 4l10 3l11 1l1 1l16 -1l10 -3l19 -10l4 -1l50 -47l18 -14l24 -10l24 -5l24 1l23 7l14 7l15 10l12 10l29 19l21 16l13 5l16 3z"/>
<path fill="#0000d7" stroke="#0000d7" d="M0 91v55l21 1l20 6l59 34l33 23l6 3l14 4h5l1 1l21 -1l9 -3l17 -9l4 -1l55 -51l15 -11l21 -9l29 -6l23 2l9 2l13 5l23 13l19 15l29 19l20 15l10 4l25 4v-55l-53 -18l-9 -5l-21 -15l-25 -11l-24 -7l-14 -1l-1 -1h-16l-3 1l-1 -1l-16 -1l-1 -1h-31l-1 1h-5l-17 5l-19 9l-25 16l-17 13l-10 5l-7 2h-23l-15 -3l-24 -8l-28 -12l-26 -9l-17 -9l-18 -7l-9 -2h-9l-1 -1z"/>
<path fill="#0000d1" stroke="#0000d1" d="M501 206v-55h-4l-27 -11l-10 -2l-13 -5l-28 -19l-12 -6l-35 -12l-11 -1l-1 -1h-29l-1 -1l-16 -1l-1 -1l-31 1l-18 5l-14 6l-29 18l-20 15l-10 5l-10 2h-12l-1 -1l-15 -1l-26 -8l-33 -14l-26 -9l-19 -10l-13 -5l-14 -3h-22v54l24 1l16 5l56 32l38 26l17 6l12 1l1 1l13 -1l13 -4l17 -9h2l52 -48l15 -12l11 -6l16 -6l25 -5l22 1l13 3l13 5l27 16l16 13l25 16l8 7l15 10l11 4z"/>
<path fill="#0000cc" stroke="#0000cc" d="M501 205v-53l-50 -17l-10 -5l-23 -16l-12 -6l-36 -12l-12 -1l-1 -1h-29l-1 -1l-20 -1l-1 -1h-13l-1 1l-13 1l-14 4l-16 7l-29 18l-15 12l-13 7l-8 2h-20l-1 -1h-7l-9 -2l-21 -7l-28 -12l-31 -11l-29 -14l-20 -4h-18v53l26 2l15 5l59 34l35 24l14 5l10 1l1 1h14l15 -4l23 -12l52 -48l13 -10l9 -5l19 -7l20 -4h6l1 -1l25 3l20 7l25 15l15 12l26 17l23 17l14 5z"/>
<path fill="#0000c7" stroke="#0000c7" d="M0 93v52l23 1l19 6l57 33l37 25l16 5l12 1l1 1l12 -1l13 -4l20 -10l50 -46l18 -14l14 -7l12 -4l25 -5h12l1 1h7l10 2l23 9l15 9l22 17l48 33l11 4l23 4v-53h-3l-25 -10l-23 -7l-8 -4l-23 -16l-16 -8l-30 -10l-10 -1l-1 -1h-10l-1 -1l-18 1l-1 -1l-15 -1l-1 -1h-29l-1 1h-5l-15 4l-18 8l-30 19l-14 11l-11 6l-14 3h-8l-1 -1l-16 -1l-32 -10l-25 -11l-26 -9l-24 -12l-14 -5l-9 -2h-13l-1 -1z"/>
<path fill="#0000c1" stroke="#0000c1" d="M501 204v-51l-1 -1h-3l-25 -10l-23 -7l-38 -24l-14 -6l-25 -8l-11 -1l-1 -1h-29l-1 -1l-17 -1l-1 -1h-22l-1 1l-11 1l-11 3l-22 10l-25 16l-11 9l-15 9l-11 3h-17l-1 -1h-8l-9 -2l-27 -9l-25 -11l-26 -9l-26 -13l-12 -4l-10 -1l-1 -1h-21v51l19 1l17 4l20 10l44 26l30 21l10 5l14 4h5l1 1l19 -1l12 -4l18 -9l55 -50l13 -10l22 -10l28 -6l24 1l23 7l25 14l19 15l25 16l23 17l14 5z"/>
<path fill="#0000bc" stroke="#0000bc" d="M501 204v-51l-14 -4l-13 -6l-21 -6l-9 -4l-26 -18l-22 -10l-26 -8l-13 -1l-1 -1h-28l-1 -1l-21 -1l-1 -1l-25 2l-20 6l-7 4h-2l-20 12l-23 17l-13 8l-10 3h-23l-1 -1l-11 -1l-13 -5l-9 -2l-33 -14l-26 -9l-19 -10l-16 -6l-9 -2h-7l-1 -1h-17v51l22 1l15 4l18 9l44 26l32 22l10 5l11 3l16 2l1 -1h8l13 -4l22 -12l47 -43l19 -15l23 -10l30 -6h8l1 1l18 2l17 6l26 15l19 15l25 16l20 15l9 4z"/>
<path fill="#0000b7" stroke="#0000b7" d="M501 203v-50h-3l-20 -7l-5 -3l-21 -6l-10 -5l-23 -16l-14 -7l-32 -11l-10 -1l-1 -1h-10l-1 -1l-18 1l-1 -1l-16 -1l-1 -1h-28l-1 1h-5l-20 6l-13 6l-27 17l-20 15l-10 5l-10 2h-12l-1 -1l-15 -1l-26 -8l-33 -14l-28 -10l-19 -10l-14 -5l-10 -2h-23v49l1 1h17l20 5l16 8l49 29l27 19l10 5l14 4h5l1 1l19 -1l10 -3l18 -9l55 -49l17 -13l24 -10l25 -5h14l1 1l12 1l21 7l27 16l15 12l26 17l20 15l15 6l16 3z"/>
<path fill="#0000b2" stroke="#0000b2" d="M501 203v-49l-16 -5l-13 -6l-23 -7l-38 -24l-14 -6l-30 -9h-6l-1 -1h-29l-1 -1l-18 -1l-1 -1h-21l-16 3l-17 6l-10 5l-27 17l-20 15l-8 4l-8 2h-20l-1 -1l-12 -1l-25 -8l-33 -14l-23 -8l-24 -12l-11 -4l-15 -3h-20v49l21 1l18 5l21 11l42 25l34 23l16 5l17 2l1 -1h7l13 -4l18 -9l57 -51l17 -12l20 -8l32 -6l2 1h9l19 4l17 7l21 13l15 12l48 33l8 4z"/>
<path fill="#0000ac" stroke="#0000ac" d="M501 203v-49l-53 -18l-30 -20l-22 -10l-26 -8l-12 -1l-1 -1h-29l-1 -1l-21 -1l-1 -1l-25 2l-17 5l-17 8l-24 15l-23 17l-6 3l-7 2l-14 1l-1 -1l-17 -1l-29 -9l-38 -16l-18 -6l-17 -9l-18 -7l-9 -2h-8l-1 -1h-16v49l23 1l9 2l10 4l56 32l37 25l19 6h5l1 1l19 -1l10 -3l18 -9l17 -14l37 -34l17 -13l14 -7l12 -4l20 -4h6l1 -1l22 2l20 6l16 8l15 10l15 12l45 31l11 5z"/>
<path fill="#0000a7" stroke="#0000a7" d="M501 202v-48h-3l-15 -5l-10 -5l-21 -6l-10 -5l-23 -16l-14 -7l-36 -12l-16 -1l-1 -1l-18 1l-1 -1l-16 -1l-1 -1h-29l-1 1h-5l-20 6l-11 5l-26 16l-14 11l-14 9l-14 4h-15l-1 -1h-8l-13 -3l-21 -7l-30 -13l-28 -10l-17 -9l-16 -6l-10 -2h-23v47l25 2l11 3l7 4h2l52 30l37 25l17 6l19 2l18 -4l20 -10l56 -50l15 -11l24 -10l25 -5l22 1l13 3l13 5l27 16l15 12l50 34l12 4z"/>
<path fill="#0000a2" stroke="#0000a2" d="M501 202v-47l-16 -5l-13 -6l-23 -7l-38 -24l-14 -6l-25 -8l-11 -1l-1 -1h-29l-1 -1l-17 -1l-1 -1h-22l-1 1l-11 1l-16 5l-15 7l-24 15l-18 14l-13 7l-8 2h-21l-16 -3l-21 -7l-33 -14l-23 -8l-24 -12l-11 -4l-15 -3h-20v47l22 1l15 4l18 9l41 24l37 25l9 4l11 3l22 1l12 -3l24 -13l55 -49l14 -10l22 -9l32 -6l22 3l23 8l26 16l12 10l50 34l15 5z"/>
<path fill="#00009c" stroke="#00009c" d="M501 201v-46l-17 -5l-13 -6l-6 -1l-19 -7l-28 -19l-22 -10l-21 -7l-16 -2l-1 -1h-29l-1 -1l-20 -1l-1 -1h-13l-1 1l-13 1l-17 5l-17 8l-24 15l-18 14l-11 6l-14 3h-8l-1 -1l-16 -1l-29 -9l-38 -16l-18 -6l-17 -9l-18 -7l-9 -2h-8l-1 -1h-16v47l24 1l16 5l55 31l37 25l19 7l20 2l1 -1l10 -1l11 -4l15 -8l54 -48l16 -12l14 -7l12 -4l20 -4h6l1 -1l22 2l20 6l16 8l77 54l13 5l15 3z"/>
<path fill="#000097" stroke="#000097" d="M501 201v-46h-3l-25 -10l-23 -7l-8 -4l-23 -16l-16 -8l-22 -8l-12 -3l-14 -1l-1 -1h-27l-10 -2h-30l-1 1h-5l-20 6l-11 5l-26 16l-14 11l-14 9l-14 4h-15l-1 -1h-8l-10 -2l-24 -8l-30 -13l-28 -10l-19 -10l-14 -5l-10 -2h-23v45l26 2l15 5l61 35l29 20l8 4l14 4l23 1l14 -4l20 -11l54 -48l15 -11l24 -10l26 -5h13l1 1l12 1l21 7l27 16l15 12l25 16l20 15l10 5l23 5z"/>
<path fill="#000092" stroke="#000092" d="M501 201v-45l-1 -1h-3l-25 -10l-23 -7l-32 -21l-25 -11l-24 -7h-6l-1 -1h-29l-1 -1l-16 -1l-1 -1h-25l-1 1l-10 1l-11 3l-20 9l-27 17l-15 12l-13 7l-8 2h-21l-16 -3l-21 -7l-38 -16l-18 -6l-26 -13l-12 -4l-10 -1l-1 -1h-21v45l22 1l15 4l18 9l46 27l29 20l10 5l10 3l10 1l1 1h12l16 -4l19 -10l42 -36l10 -10l20 -15l22 -9l24 -5l25 1l21 6l18 9l15 10l12 10l52 35l13 4z"/>
<path fill="#00008d" stroke="#00008d" d="M501 200v-44l-50 -17l-10 -5l-21 -15l-16 -8l-33 -11l-11 -1l-1 -1h-29l-1 -1l-18 -1l-1 -1h-18l-1 1l-12 1l-14 4l-14 6l-23 14l-17 13l-18 11l-7 2l-14 1l-1 -1l-17 -1l-29 -9l-30 -13l-28 -10l-17 -9l-19 -7l-12 -1l-1 -1h-18v45h17l1 1l11 1l9 3l23 12l39 23l36 24l16 5l17 2l19 -4l22 -12l52 -46l21 -15l18 -7l31 -6l21 2l22 7l14 7l15 10l15 12l25 16l11 9l11 7l13 5l15 3z"/>
<path fill="#000087" stroke="#000087" d="M501 200v-44h-3l-25 -10l-23 -7l-8 -4l-21 -15l-11 -6l-17 -7l-23 -7l-13 -1l-1 -1h-28l-9 -2h-16l-1 -1l-16 1l-20 5l-18 8l-27 17l-20 15l-10 5l-9 2h-15l-1 -1l-13 -1l-26 -8l-38 -16l-18 -6l-34 -16l-13 -3l-24 -1v44l26 2l15 5l58 33l34 23l16 6l10 2h16l9 -2l10 -4l18 -11l52 -46l15 -11l21 -9l29 -6h12l1 1h7l10 2l19 7l25 15l15 12l25 16l22 16l8 4l23 5z"/>
<path fill="#000082" stroke="#000082" d="M501 200v-44h-4l-22 -9l-12 -3l-16 -6l-28 -19l-24 -11l-22 -7l-10 -2h-10l-1 -1l-18 1l-1 -1l-16 -1l-1 -1h-28l-1 1h-5l-18 5l-19 9l-25 16l-20 15l-8 4l-8 2h-20l-1 -1h-7l-9 -2l-21 -7l-30 -13l-28 -10l-17 -9l-15 -6l-14 -3h-22v43l22 1l15 4l27 14l17 11l17 9l34 23l19 7l10 1l1 1h10l19 -5l12 -6l15 -11l42 -38l20 -15l22 -9l25 -5h16l1 1l12 1l18 6l19 10l24 18l52 35l13 4z"/>
<path fill="#00007d" stroke="#00007d" d="M501 199v-42l-19 -6l-10 -5h-3l-18 -6l-8 -4l-32 -21l-14 -6l-25 -8l-10 -1l-1 -1h-30l-1 -1l-17 -1l-1 -1l-29 1l-21 6l-13 6l-18 11l-23 17l-13 8l-10 3l-12 1l-1 -1h-11l-1 -1l-10 -1l-22 -7l-38 -16l-18 -6l-26 -13l-11 -4l-16 -3h-19v43l24 1l16 5l60 34l31 21l8 4l13 4l24 1l14 -4l14 -7l11 -8l47 -42l16 -12l23 -10l32 -6l24 3l20 7l24 14l18 14l47 32l13 5l15 3z"/>
<path fill="#000078" stroke="#000078" d="M501 199v-42l-53 -18l-30 -20l-12 -6l-35 -12l-12 -1l-1 -1h-28l-1 -1l-20 -1l-1 -1h-15l-1 1l-12 1l-17 5l-17 8l-28 18l-17 13l-8 4l-12 3h-12l-1 -1l-15 -1l-26 -8l-35 -15l-23 -8l-17 -9l-18 -7l-9 -2h-8l-1 -1h-16v42l26 2l17 6l56 32l36 24l19 6l20 1l15 -4l19 -10l15 -12l41 -37l15 -11l18 -8l15 -4l18 -2l1 -1l22 2l20 6l21 11l24 18l47 32l8 4l17 4z"/>
<path fill="#000072" stroke="#000072" d="M501 199v-42h-3l-20 -7l-5 -3l-23 -7l-8 -4l-28 -19l-21 -9l-23 -7l-13 -1l-1 -1h-28l-10 -2h-32l-25 7l-11 5l-56 37l-11 3h-18l-1 -1l-12 -1l-23 -7l-43 -18l-20 -7l-19 -10l-14 -5l-10 -2h-23v41l22 1l15 4l18 9l43 25l36 24l17 6l20 2l20 -5l15 -8l8 -6l45 -40l18 -14l14 -7l12 -4l26 -5h13l1 1l12 1l21 7l23 13l18 14l50 34l15 5z"/>
<path fill="#00006d" stroke="#00006d" d="M501 199v-42h-4l-25 -10l-6 -1l-19 -7l-30 -20l-22 -10l-22 -7l-10 -1l-1 -1h-10l-1 -1l-17 1l-1 -1l-17 -1l-1 -1h-27l-1 1h-5l-15 4l-20 9l-28 18l-17 13l-10 5l-7 2h-23l-15 -3l-24 -8l-30 -13l-23 -8l-26 -13l-12 -4l-10 -1l-1 -1h-21v41l23 1l17 5l60 34l31 21l17 7l10 2h18l14 -4l14 -7l7 -5l51 -45l16 -12l24 -10l25 -5h17l1 1l11 1l25 9l24 15l18 14l43 29l9 4z"/>
<path fill="#000068" stroke="#000068" d="M501 198v-40l-50 -17l-13 -7l-18 -13l-18 -9l-35 -11h-6l-1 -1h-29l-1 -1l-17 -1l-1 -1h-21l-1 1l-11 1l-14 4l-14 6l-29 18l-18 14l-11 6l-14 3h-8l-1 -1l-16 -1l-29 -9l-30 -13l-28 -10l-19 -10l-13 -5l-16 -3h-19v40l19 1l19 5l18 9l26 16l12 6l41 27l19 6l20 1l15 -4l16 -8l12 -9l47 -42l17 -12l20 -8l31 -6l25 3l18 6l17 9l27 20l51 34l25 6z"/>
<path fill="#000062" stroke="#000062" d="M501 198v-40l-53 -18l-30 -20l-12 -6l-24 -9l-16 -4l-36 -1l-1 -1l-20 -1l-1 -1h-14l-1 1l-13 1l-17 5l-15 7l-27 17l-20 15l-10 5l-9 2h-15l-1 -1h-8l-10 -2l-21 -7l-38 -16l-20 -7l-13 -7l-22 -9l-9 -2h-9l-1 -1h-15v40l21 1l18 5l52 29l43 28l13 5l9 2h6l1 1l15 -1l8 -2l15 -7l18 -13l40 -36l18 -14l23 -10l30 -6l24 2l26 9l23 14l15 12l49 33l14 5z"/>
<path fill="#00005d" stroke="#00005d" d="M501 198v-40h-3l-15 -5l-10 -5l-23 -7l-8 -4l-28 -19l-21 -9l-23 -7l-13 -1l-1 -1h-28l-10 -2h-32l-25 7l-7 4h-2l-20 12l-23 17l-15 9l-10 3h-20l-1 -1h-7l-9 -2l-21 -7l-35 -15l-18 -6l-24 -12l-16 -6l-10 -2h-23v39l23 1l21 7l56 32l31 21l8 4l19 5l23 -1l21 -9l18 -13l41 -37l19 -14l19 -8l29 -6h14l1 1l12 1l19 6l19 10l24 18l25 16l22 16l14 6z"/>
<path fill="#000058" stroke="#000058" d="M501 197v-39h-4l-25 -10l-18 -5l-9 -4l-26 -18l-12 -6l-30 -11l-14 -3h-10l-1 -1l-18 1l-1 -1l-16 -1l-1 -1h-28l-1 1h-5l-15 4l-20 9l-28 18l-17 13l-10 5l-7 2h-24l-1 -1l-10 -1l-13 -5l-9 -2l-35 -15l-23 -8l-26 -13l-12 -4l-10 -1l-1 -1h-21v39h17l1 1l11 1l9 3l54 30l43 28l19 6l20 1l10 -2l12 -5l9 -5l12 -9l46 -41l15 -11l12 -6l12 -4l25 -5l24 1l13 3l15 6l22 13l15 12l52 35l16 5l10 2z"/>
<path fill="#000053" stroke="#000053" d="M501 197v-38l-50 -17l-13 -7l-25 -17l-30 -12l-16 -4h-5l-1 -1h-29l-1 -1l-17 -1l-1 -1l-30 1l-18 5l-14 6l-33 21l-14 11l-11 6l-13 3h-10l-1 -1h-10l-10 -2l-24 -8l-30 -13l-28 -10l-19 -10l-13 -5l-16 -3h-19v38l20 1l10 2l13 5l61 35l28 19l6 3l18 5l16 1l1 -1l10 -1l8 -3l15 -8l12 -9l46 -41l15 -11l22 -9l32 -6l24 3l18 6l14 7l76 53l8 4l17 4z"/>
<path fill="#00004d" stroke="#00004d" d="M501 197v-38l-53 -18l-30 -20l-12 -6l-27 -10l-13 -3h-6l-1 -1h-29l-1 -1l-19 -1l-1 -1h-16l-1 1l-12 1l-17 5l-15 7l-27 17l-11 9l-14 9l-14 4h-15l-1 -1h-8l-10 -2l-24 -8l-10 -5l-45 -17l-15 -8l-20 -8l-9 -2h-9l-1 -1h-15v38l21 1l18 5l54 30l38 25l8 4l18 5h20l11 -3l16 -8l16 -12l39 -35l18 -14l23 -10l31 -6l23 2l26 9l23 14l18 14l46 31l15 5z"/>
<path fill="#000048" stroke="#000048" d="M501 197v-38h-3l-20 -7l-5 -3l-23 -7l-8 -4l-21 -15l-11 -6l-17 -7l-28 -8l-36 -1l-1 -1l-24 -1l-1 -1l-22 2l-12 3l-17 7l-20 12l-23 17l-15 9l-10 3h-20l-1 -1h-7l-9 -2l-21 -7l-35 -15l-18 -6l-26 -13l-14 -5l-10 -2h-23v37l23 1l19 6l63 36l28 19l9 4l17 4l21 -1l20 -8l22 -16l39 -35l14 -11l11 -6l13 -5l30 -6h12l1 1l13 1l21 7l26 15l15 12l28 18l19 14l11 5z"/>
<path fill="#000043" stroke="#000043" d="M501 196v-37h-4l-25 -10l-9 -2l-16 -6l-28 -19l-14 -7l-36 -12l-14 -1l-1 -1h-27l-10 -2h-29l-1 1h-5l-18 5l-17 8l-28 18l-17 13l-10 5l-7 2h-24l-1 -1l-10 -1l-22 -7l-35 -15l-23 -8l-17 -9l-17 -7l-14 -3h-22v37h18l20 5l25 13l12 8l24 13l31 21l10 5l15 4h6l1 1l17 -1l10 -3l14 -7l15 -11l45 -40l15 -11l12 -6l12 -4l25 -5l24 1l21 6l23 12l21 16l52 35l16 5z"/>
<path fill="#00003e" stroke="#00003e" d="M501 196v-36l-52 -18l-32 -21l-25 -11l-24 -7l-17 -1l-1 -1l-17 1l-1 -1l-17 -1l-1 -1h-25l-1 1l-10 1l-27 10l-29 18l-18 14l-11 6l-13 3h-10l-1 -1h-10l-10 -2l-24 -8l-30 -13l-23 -8l-26 -13l-11 -4l-16 -3h-19v36l26 2l15 5l60 34l33 22l10 4l13 3h7l1 1l13 -1l15 -5l11 -6l15 -11l39 -35l21 -16l22 -9l18 -4l14 -1l1 -1l23 3l18 6l17 9l73 51l8 4l17 4z"/>
<path fill="#000038" stroke="#000038" d="M501 196v-36l-17 -5l-13 -6l-18 -5l-12 -6l-23 -16l-14 -7l-28 -10l-9 -2h-6l-1 -1h-29l-1 -1l-17 -1l-1 -1h-20l-1 1l-12 1l-16 5l-17 8l-25 16l-20 15l-10 5l-9 2h-15l-1 -1l-14 -1l-25 -8l-30 -13l-28 -10l-17 -9l-18 -7l-9 -2h-7l-1 -1h-17v36l21 1l18 5l54 30l38 25l8 4l19 5l23 -1l21 -9l19 -14l39 -35l17 -13l23 -10l31 -6l22 2l20 6l21 11l24 18l51 34l13 4z"/>
<path fill="#000033" stroke="#000033" d="M501 196v-36h-3l-25 -10l-18 -5l-11 -5l-26 -18l-10 -5l-23 -9l-19 -5l-36 -1l-1 -1l-20 -1l-1 -1h-14l-1 1l-13 1l-14 4l-16 7l-30 19l-20 15l-6 3l-11 3h-19l-1 -1l-12 -1l-30 -10l-22 -10l-28 -10l-34 -16l-13 -3l-24 -1v36l23 1l19 6l55 31l38 25l19 6l20 1l10 -2l10 -4l23 -15l44 -39l19 -14l23 -9l20 -4h6l1 -1h10l1 1l13 1l22 7l20 11l21 16l49 33l9 4z"/>
<path fill="#00002e" stroke="#00002e" d="M501 195v-35h-3l-15 -5l-8 -4l-23 -7l-10 -5l-23 -16l-16 -8l-33 -11l-13 -1l-1 -1h-28l-9 -2h-32l-1 1h-5l-17 5l-17 8l-24 15l-21 16l-10 5l-7 2h-23l-1 -1l-11 -1l-27 -9l-10 -5l-45 -17l-19 -10l-13 -5l-14 -3h-22v35h17l1 1l11 1l9 3l56 31l38 25l6 3l18 5h6l1 1l16 -1l10 -3l12 -6l17 -12l45 -40l15 -11l24 -10l26 -5l22 1l10 2l14 5l16 8l36 26l42 28l16 5l10 2z"/>
<path fill="#000000" stroke="#000000" d="M501 195v-34l-1 -1h-3l-25 -10l-23 -7l-9 -5l-18 -13l-15 -8l-12 -5l-26 -8l-15 -1l-1 -1h-26l-1 -1h-9l-1 -1h-28l-1 1h-5l-20 6l-13 6l-27 17l-23 17l-6 3l-14 3h-8l-1 -1h-10l-1 -1l-10 -1l-24 -8l-15 -7l-40 -15l-24 -12l-14 -5l-10 -1l-1 -1h-21v34l25 2l18 6l58 33l28 19l10 5l18 5l25 -1l22 -10l16 -12l38 -34l18 -14l9 -5l13 -5l28 -6l25 1l13 3l13 5l27 16l15 12l46 31l8 4l17 4z"/>
</g>
<g transform="translate(1374.9 633.4)" stroke-width="1" stroke-linejoin="round" fill-rule="evenodd">
<path fill="#f7f7ff" stroke="#f7f7ff" d="M0 0v263l26 12l8 6l2 6v9l-2 5v6h2l10 -9l5 -2l14 1l6 4l36 17l33 11l21 4l20 -1l19 -5h8l1 -1l33 1l22 7l47 24l18 5h13l19 -5l25 -12l23 -13l24 -9l13 -3l14 -1l1 -1l40 -1v-318z"/>
<path fill="#f0f0ff" stroke="#f0f0ff" d="M0 31v208l14 1l14 3l6 3l8 8l2 4v9l-5 15v15h3l14 -7l15 -12l14 -1l26 13l16 11l24 13l12 4h8l19 -8l13 -9l18 -10l13 -10l8 -4l9 -1l9 4l13 12l35 46l12 12l10 5h9l7 -3l13 -12l34 -45l15 -15l9 -5l8 -2h10l15 4l13 1l16 6l17 4h5v-179l-16 -4l-17 -7l-17 -12l-21 -11l-36 -23l-17 -8l-17 -4h-9l-1 -1l-41 1l-24 7l-14 7l-21 14l-18 10l-30 14l-13 3h-15l-8 -2l-14 -1l-22 -7l-45 -22l-26 -16l-22 -10l-22 -5zM330 215l16 1l17 5l10 6l6 6l3 7l-1 14l-5 13l-8 15l-14 21l-11 11l-6 3h-5l-6 -3l-7 -6l-8 -10l-18 -31l-4 -10l-2 -9l2 -11l9 -10l13 -7z"/>
<path fill="#e8e8ff" stroke="#e8e8ff" d="M0 41v179l18 2l15 4l12 6l9 8l2 5v6l-3 9l-11 21l-1 12h4l6 -3l14 -16l10 -9l6 -3h8l23 10l16 11l20 11l13 5l8 1l18 -7l18 -12l17 -9l8 -6l7 -3l7 -1l10 4l12 11l13 16l27 38l13 14l11 6h9l5 -2l10 -8l11 -13l34 -47l15 -15l6 -4l9 -4l10 -1l1 1l17 1l10 2l15 6l8 1l5 2h6v-152h-5l-4 -2h-3l-19 -7l-23 -15l-29 -16l-19 -13l-17 -9l-16 -5l-12 -1l-1 -1h-36l-1 1l-13 1l-18 6l-14 7l-36 23l-31 15l-17 4h-13l-1 -1l-21 -2l-24 -8l-33 -16l-32 -19l-25 -12l-20 -5zM328 197l21 1l20 6l12 7l10 10l3 7v8l-5 15l-20 36l-14 20l-11 11l-8 4l-6 -1l-9 -6l-14 -17l-19 -31l-8 -16l-4 -12l1 -14l12 -13l16 -9z"/>
<path fill="#e0e0ff" stroke="#e0e0ff" d="M0 49v159l17 1l19 5l19 10l7 7l2 5v5l-3 9l-19 36l1 5h4l3 -2l15 -19l14 -14l8 -4h6l15 5l34 21l16 7l8 2l6 -1l15 -6l20 -13l22 -12l6 -2h6l9 4l11 10l19 24l22 32l18 20l9 5h11l10 -6l7 -7l47 -64l15 -15l9 -6l9 -3h19l10 2l16 6l19 4v-134l-14 -3l-18 -7l-25 -16l-19 -10l-27 -18l-17 -9l-12 -4l-10 -2h-12l-1 -1l-41 2l-14 4l-17 8l-34 22l-31 16l-20 6h-18l-1 -1h-9l-1 -1l-10 -1l-25 -9l-36 -18l-26 -16l-23 -11l-17 -5l-12 -1l-1 -1zM329 185h13l1 1l11 1l16 5l16 9l9 8l4 5l3 9l-3 14l-10 20l-16 27l-18 26l-11 11l-6 3h-8l-5 -3l-12 -12l-6 -8l-25 -40l-9 -17l-5 -14v-9l2 -5l14 -14l23 -12z"/>
<path fill="#d9d9ff" stroke="#d9d9ff" d="M0 54v144l25 3l15 5l14 7l10 7l5 6l1 7l-4 12l-22 39l-1 4l2 2l3 -1l6 -6l19 -25l11 -10l6 -3h9l10 3l29 18l12 6l15 5h4l10 -3l14 -7l15 -10l18 -9l6 -2l9 1l8 5l13 13l48 66l14 13l4 2l8 1l7 -2l6 -4l9 -9l47 -65l14 -15l12 -9l7 -3l21 -1l9 2l15 6l13 3h5v-120l-22 -6l-13 -6l-20 -13l-24 -13l-27 -18l-16 -8l-13 -4l-13 -1l-1 -1h-34l-1 1h-8l-21 6l-16 8l-37 24l-28 14l-16 5l-14 1l-1 -1l-23 -2l-24 -8l-29 -14l-41 -24l-19 -9l-18 -5l-12 -1l-1 -1zM327 177h17l25 6l14 7l10 7l10 10l4 8v9l-5 13l-25 43l-22 32l-11 11l-6 3h-7l-6 -3l-16 -17l-34 -54l-9 -17l-4 -13v-4l3 -8l13 -13l20 -12l14 -5z"/>
<path fill="#d1d1ff" stroke="#d1d1ff" d="M0 58v133l21 2l20 6l21 11l12 12l-1 12l-9 18l-19 32v4l5 -2l22 -29l14 -14l9 -4h8l7 2l29 18l15 7l10 3h6l12 -4l29 -17l14 -6l11 -1l12 7l15 16l15 20l20 30l15 19l10 9l4 2l12 1l8 -4l13 -13l41 -58l8 -10l22 -21l11 -5l19 -1l23 8l17 3v-111l-12 -2l-19 -7l-22 -14l-24 -13l-27 -18l-17 -9l-24 -6h-42l-15 3l-24 10l-35 23l-26 14l-18 7l-11 1l-1 1h-10l-1 -1h-8l-1 -1h-7l-9 -2l-24 -9l-39 -20l-26 -16l-22 -10l-21 -5zM327 171h17l1 1l11 1l11 3l17 8l15 11l8 8l4 7l1 5l-2 9l-9 18l-38 61l-16 19l-11 6l-7 -1l-6 -4l-8 -8l-10 -13l-32 -51l-11 -20l-4 -11v-7l3 -7l12 -12l8 -6l21 -11z"/>
<path fill="#c9c9ff" stroke="#c9c9ff" d="M0 61v124l20 2l21 6l18 9l12 8l7 8v8l-2 6l-24 41l-5 10v3l5 -4l21 -28l15 -15l7 -4l5 -1l10 1l24 15l16 8l16 5l7 -1l11 -4l32 -18l9 -3h10l11 7l15 16l13 17l25 37l16 20l12 9l12 1l9 -5l11 -11l47 -66l15 -17l13 -11l13 -5l14 -1l19 7l16 4h5v-103l-12 -2l-19 -7l-24 -15l-19 -10l-30 -20l-17 -9l-24 -6h-42l-15 3l-24 10l-45 29l-22 11l-11 4l-10 2h-17l-1 -1l-15 -1l-24 -8l-27 -13l-41 -24l-23 -11l-19 -5zM329 166l21 1l22 6l17 9l13 10l9 9l4 7v8l-7 16l-36 59l-18 25l-8 8l-9 5h-5l-8 -4l-17 -19l-41 -65l-11 -23v-10l2 -4l7 -8l11 -9l16 -10l14 -6z"/>
<path fill="#c2c2ff" stroke="#c2c2ff" d="M0 64v116l24 3l21 7l12 6l17 11l6 6l2 5l-2 9l-25 43l-5 11l2 -1l24 -31l12 -12l10 -6l4 -1l10 1l22 14l16 8l12 4h10l7 -2l15 -7l7 -5l14 -7l10 -3h6l10 5l17 17l14 18l37 53l16 15l5 2h9l9 -5l11 -11l46 -65l9 -11l21 -20l8 -4l10 -3h7l23 8l13 3h5v-96l-17 -4l-15 -6l-24 -15l-19 -10l-33 -22l-17 -8l-25 -5h-31l-1 1h-9l-13 3l-21 9l-38 25l-26 14l-20 7l-21 1l-1 -1h-9l-14 -3l-19 -7l-45 -23l-24 -15l-22 -10l-21 -5zM331 162l18 1l20 5l15 7l23 17l7 7l4 7v7l-7 16l-37 60l-20 28l-8 8l-9 5h-5l-8 -4l-11 -11l-6 -8l-36 -56l-13 -22l-6 -13v-10l3 -5l13 -13l21 -14l11 -5l17 -5l13 -1z"/>
<path fill="#babaff" stroke="#babaff" d="M0 66v110l24 3l21 7l19 10l12 8l8 9l-1 10l-7 14l-13 21l-6 13l17 -21l18 -18l12 -6l8 1l26 16l25 10h8l10 -3l13 -6l7 -5l12 -6l11 -3h6l12 7l17 18l13 17l27 40l15 19l13 10l12 1l8 -4l12 -12l49 -69l12 -14l18 -16l15 -6h9l22 8l17 3v-91l-14 -3l-22 -9l-22 -14l-19 -10l-28 -19l-13 -7l-14 -5l-10 -2h-9l-1 -1h-27l-1 1h-10l-10 2l-12 4l-18 9l-31 21l-34 18l-17 5h-22l-1 -1h-8l-9 -2l-22 -8l-41 -21l-24 -15l-26 -12l-16 -4zM330 159h11l1 1h8l10 2l23 9l11 7l15 12l9 9l3 6v5l-5 12l-42 68l-20 28l-8 8l-9 5h-5l-8 -4l-17 -19l-49 -77l-6 -11l-3 -9v-4l3 -7l14 -14l14 -10l19 -10l17 -5l13 -1z"/>
<path fill="#b2b2ff" stroke="#b2b2ff" d="M0 68v105l25 3l21 7l31 18l9 9l1 6l-2 6l-21 38l25 -27l8 -6l8 -4l8 1l17 11l20 10l12 4h10l10 -3l33 -17l15 -1l9 5l20 21l20 27l22 33l12 15l6 6l10 6h11l7 -4l13 -13l45 -64l14 -17l18 -17l12 -6l11 -2l23 8l13 3h5v-86l-14 -3l-20 -8l-46 -27l-30 -20l-10 -5l-21 -6h-8l-1 -1h-31l-1 1h-8l-14 3l-15 6l-11 6l-23 16l-33 19l-17 7l-22 3l-1 -1h-10l-1 -1l-12 -1l-18 -6l-39 -19l-35 -21l-24 -11l-16 -4zM324 157h23l19 4l20 9l17 12l14 12l6 8v7l-6 13l-49 78l-15 20l-10 9l-7 3l-6 -1l-7 -4l-16 -18l-55 -87l-5 -12v-5l4 -8l9 -9l14 -11l21 -12l14 -5z"/>
<path fill="#ababff" stroke="#ababff" d="M0 70v100l20 2l21 6l27 14l12 8l8 8l1 3l-1 7l-17 32l20 -20l10 -7l7 -3l10 4l14 9l16 8l15 5h9l10 -3l13 -6l13 -8l8 -3l9 -1l7 2l6 4l15 15l9 11l49 69l9 9l8 5l9 1l6 -2l12 -10l15 -19l22 -33l21 -28l20 -21l8 -6l14 -6h7l19 7l20 4v-83h-5l-11 -3l-21 -9l-17 -11l-24 -13l-28 -19l-11 -6l-14 -5l-15 -3h-39l-20 4l-22 10l-36 24l-30 16l-20 6h-21l-1 -1h-8l-9 -2l-24 -9l-37 -19l-24 -15l-25 -12l-18 -5zM331 154l24 2l20 6l15 8l27 21l6 6l2 4v7l-2 5l-46 74l-20 29l-13 13l-6 3h-8l-8 -5l-17 -20l-51 -80l-7 -13l-2 -7l1 -5l4 -7l14 -13l17 -12l11 -6l16 -6l14 -3h8z"/>
<path fill="#a3a3ff" stroke="#a3a3ff" d="M0 72v96l16 1l21 5l16 7l28 17l9 9l1 4l-1 5l-14 27l16 -15l15 -10l7 1l21 13l10 5l17 6h11l10 -3l32 -16h5l1 -1l7 1l9 5l20 21l53 74l11 11l10 5h7l7 -3l12 -11l16 -21l33 -48l14 -17l19 -18l13 -7l11 -1l18 7l20 4v-79l-11 -2l-15 -5l-12 -6l-17 -11l-19 -10l-33 -22l-9 -5l-13 -5l-13 -3h-10l-1 -1h-25l-1 1h-10l-14 3l-25 11l-34 23l-32 17l-11 4l-10 2h-17l-1 -1h-9l-9 -2l-22 -8l-43 -22l-24 -15l-21 -10l-17 -5l-12 -1l-1 -1zM331 152l24 2l20 6l15 8l14 10l21 18l2 4v6l-3 7l-59 93l-9 12l-11 11l-7 4h-7l-6 -3l-17 -18l-54 -84l-10 -19v-7l3 -6l13 -13l21 -15l13 -7l14 -5l14 -3h8z"/>
<path fill="#9c9cff" stroke="#9c9cff" d="M0 73v92l18 2l22 6l19 9l24 15l8 8l1 8l-12 24l5 -3l12 -11l11 -7h4l34 19l18 6h6l12 -3l32 -16l15 1l8 5l19 20l14 18l39 56l13 13l8 4h9l5 -2l14 -13l49 -69l16 -19l16 -15l12 -7l6 -2h5l22 8l17 3v-76l-12 -2l-23 -9l-46 -27l-30 -20l-19 -8l-15 -3h-42l-15 3l-11 4l-16 8l-34 23l-32 17l-17 5l-15 1l-1 -1l-17 -1l-27 -9l-34 -17l-33 -20l-23 -11l-19 -5zM324 151h24l15 3l14 5l16 9l26 20l10 11v4l-3 8l-64 100l-16 18l-9 5h-5l-8 -4l-12 -12l-6 -8l-57 -89l-5 -9l-2 -7l1 -5l6 -9l16 -14l16 -11l18 -9z"/>
<path fill="#9494ff" stroke="#9494ff" d="M0 74v90h10l1 1l12 1l17 5l26 13l21 14l5 5l2 7l-10 22l25 -18h3l6 3l7 5l19 10l21 7l9 -1l13 -4l14 -8l14 -6l12 1l11 7l17 18l14 18l39 56l10 11l11 7h11l4 -2l15 -14l46 -65l22 -26l15 -13l13 -7h10l18 7l18 4v-73l-25 -7l-14 -7l-12 -8l-24 -13l-33 -22l-14 -7l-9 -3l-16 -3h-37l-1 1h-7l-9 2l-24 10l-44 29l-23 12l-18 6l-21 1l-1 -1h-9l-10 -2l-24 -9l-37 -19l-24 -15l-27 -13l-14 -4zM327 149l25 1l22 6l12 6l12 8l25 19l7 8v7l-5 10l-19 28l-42 67l-10 13l-7 7l-11 6l-6 -1l-7 -4l-10 -10l-9 -12l-38 -61l-17 -25l-8 -16l1 -8l6 -8l16 -14l16 -11l20 -10l14 -4l12 -1z"/>
<path fill="#8c8cff" stroke="#8c8cff" d="M0 76v86l22 2l20 6l27 14l18 12l8 9v5l-2 6l-6 12l3 -1l18 -14h6l16 10l16 8l19 6h5l12 -3l31 -15h12l6 3l22 21l12 15l43 61l11 12l10 6h11l6 -3l14 -14l46 -65l14 -17l22 -21l10 -6l10 -2l26 9l13 2v-70l-17 -4l-17 -7l-19 -12l-24 -13l-33 -22l-18 -8l-21 -4h-34l-21 4l-26 12l-37 25l-29 15l-18 5h-20l-1 -1h-8l-9 -2l-28 -11l-36 -19l-24 -15l-21 -10l-23 -6zM324 148h24l19 4l8 3l21 12l28 21l7 7l1 3l-1 6l-6 11l-16 23l-45 72l-10 13l-7 7l-11 6l-6 -1l-7 -4l-10 -10l-6 -8l-44 -70l-12 -17l-11 -20v-6l3 -6l13 -13l14 -11l24 -14l14 -5z"/>
<path fill="#8585ff" stroke="#8585ff" d="M0 77v83l19 2l22 6l15 7l28 17l12 12v6l-5 10l-1 5l19 -14h4l28 16l23 8h7l12 -3l31 -15l11 1l6 3l25 25l49 68l15 16l-8 -9l-12 -17l-26 -43l-28 -42l-7 -14v-6l4 -7l16 -15l18 -13l21 -11l17 -5l14 -1l1 -1h11l1 1h8l1 1l10 1l15 5l13 7l37 27l7 8l-1 8l-7 12l-22 32l-41 66l-15 17l16 -16l35 -50l18 -23l25 -25l13 -8l10 -1l18 7l19 4v-68l-14 -3l-22 -9l-24 -15l-17 -9l-33 -22l-10 -5l-21 -6h-7l-1 -1h-33l-1 1h-8l-21 6l-16 8l-34 23l-17 10l-19 9l-15 4h-23l-20 -4l-20 -8l-35 -18l-33 -20l-20 -9l-21 -5z"/>
<path fill="#7d7dff" stroke="#7d7dff" d="M0 78v81l16 1l21 5l16 7l29 17l8 6l7 8v7l-5 12l5 -2l10 -9l7 -1l13 8l25 12l10 3h11l16 -5l24 -12l12 1l12 8l17 18l48 65l-36 -59l-23 -34l-5 -10l1 -9l16 -17l23 -17l17 -9l19 -6l13 -1l1 -1h15l1 1h8l10 2l12 4l14 7l32 24l7 4l7 8v6l-4 8l-24 35l-39 64l42 -58l10 -12l24 -23l11 -7l11 -1l18 7l18 4v-66l-14 -3l-22 -9l-24 -15l-17 -9l-33 -22l-10 -5l-21 -6h-7l-1 -1h-33l-1 1h-8l-21 6l-16 8l-34 23l-29 16l-17 6l-18 2l-1 -1h-10l-1 -1l-11 -1l-25 -9l-26 -13l-35 -21l-24 -12l-21 -6z"/>
<path fill="#7575ff" stroke="#7575ff" d="M0 79v78l18 2l17 4l26 12l20 12l11 8l6 7l1 4l-5 13l4 -1l9 -8l5 -2l36 19l16 5h7l17 -5l24 -12l12 1l10 6l17 17l17 21l24 33l-29 -48l-24 -36l-2 -5v-6l5 -8l15 -14l24 -17l16 -8l12 -4l10 -2h7l1 -1h18l21 4l13 5l9 5l38 27l8 7l1 8l-2 5l-26 38l-30 50l26 -36l19 -23l15 -15l14 -10l6 -3h9l14 6l16 4h5v-63l-17 -4l-17 -7l-19 -12l-24 -13l-33 -22l-18 -8l-20 -4h-35l-21 4l-15 6l-11 6l-32 22l-29 16l-21 7l-15 1l-1 -1h-10l-15 -3l-21 -8l-37 -19l-33 -20l-15 -7l-20 -6z"/>
<path fill="#6e6eff" stroke="#6e6eff" d="M0 80v76l25 3l16 5l15 7l27 16l7 5l10 11v3l-4 11l5 -2l6 -6l6 -2l17 10l24 11h3l4 2h13l18 -6l19 -10l13 1l12 8l11 11l20 24l16 22l-21 -36l-23 -34l-3 -7v-5l4 -7l11 -11l22 -17l24 -13l12 -4l16 -2l1 -1h19l1 1l12 1l14 4l21 11l22 17l14 9l7 7v7l-3 6l-23 33l-24 40l27 -35l16 -18l11 -10l17 -11h9l18 7l12 3h5v-61l-25 -7l-14 -7l-41 -24l-28 -19l-14 -7l-9 -3l-16 -3h-38l-16 3l-24 10l-42 28l-22 12l-19 7l-18 2l-1 -1h-10l-1 -1l-11 -1l-27 -10l-42 -22l-24 -15l-22 -10l-21 -5z"/>
<path fill="#6666ff" stroke="#6666ff" d="M0 81v74l14 1l19 4l13 5l26 14l14 9l14 12l1 6l-3 9l4 -2l5 -5l4 -2h3l22 13l16 7l10 3h11l14 -4l24 -12l12 1l10 6l18 18l25 31l-17 -29l-23 -35l-1 -7l3 -6l14 -14l14 -11l15 -10l16 -8l12 -4l10 -2h7l1 -1h18l1 1l12 1l14 4l21 11l22 17l13 8l8 7l1 8l-3 6l-23 33l-18 31l29 -36l16 -16l17 -12l11 -1l18 7l12 3h5v-60l-9 -1l-18 -6l-51 -29l-35 -23l-21 -8l-10 -1l-1 -1h-41l-19 4l-22 10l-37 25l-32 17l-18 5h-22l-16 -3l-26 -10l-38 -20l-24 -15l-21 -10l-17 -5l-12 -1l-1 -1z"/>
<path fill="#5e5eff" stroke="#5e5eff" d="M0 81v73l21 2l12 3l11 4l23 12l22 14l12 11l1 7l-2 5l8 -6l6 -1l33 18l16 5h9l9 -2l30 -14l11 1l14 9l11 11l23 27l-12 -21l-23 -35v-8l2 -4l15 -15l14 -11l15 -10l16 -8l17 -5l13 -1l1 -1h15l1 1l14 1l11 3l19 9l27 20l16 10l7 8l-1 8l-23 33l-15 26l19 -23l22 -22l16 -11l9 -1l22 8l14 2v-58l-15 -3l-18 -7l-48 -28l-28 -19l-12 -6l-12 -4l-10 -2h-11l-1 -1h-20l-1 1h-12l-1 1l-10 1l-23 9l-44 29l-28 15l-11 4l-10 2h-19l-1 -1h-8l-9 -2l-19 -7l-43 -22l-24 -15l-25 -12l-20 -5z"/>
<path fill="#5757ff" stroke="#5757ff" d="M0 82v71l21 2l23 7l23 12l25 16l10 9l2 4v4l6 -3h4l31 17l14 5l13 1l12 -3l27 -13h7l6 2l9 6l33 35l-11 -19l-19 -28l-2 -5v-6l2 -4l15 -15l18 -14l26 -15l20 -6l14 -1l1 -1h11l1 1l15 1l17 5l14 7l49 35l2 3v5l-2 5l-27 39l-7 13l19 -22l15 -15l20 -14l8 -1l18 7l18 4v-57l-23 -6l-15 -7l-12 -8l-29 -16l-33 -22l-20 -8l-10 -2h-7l-1 -1h-31l-1 1h-8l-10 2l-14 5l-12 6l-34 23l-28 16l-22 8l-22 1l-1 -1h-9l-9 -2l-24 -9l-35 -18l-31 -19l-19 -9l-16 -5z"/>
<path fill="#4f4fff" stroke="#4f4fff" d="M0 83v69l25 3l21 7l21 11l25 16l12 11l2 4l8 -1l31 17l19 6l13 -1l12 -4l17 -9l6 -2h5l8 3l12 9l25 27l-10 -18l-16 -23l-3 -7l1 -7l17 -18l21 -16l13 -8l22 -9l15 -3h10l1 -1l23 2l20 6l18 10l22 17l15 9l7 6l2 3v4l-2 5l-25 36l-6 12l11 -13l22 -22l18 -12l4 -1l6 1l11 5l22 5v-55l-25 -7l-16 -8l-39 -23l-28 -19l-14 -7l-9 -3l-16 -3h-38l-16 3l-22 9l-47 31l-23 12l-19 6l-18 1l-1 -1h-9l-10 -2l-22 -8l-32 -16l-33 -20l-25 -12l-18 -5z"/>
<path fill="#4747ff" stroke="#4747ff" d="M0 84v67l25 3l23 8l17 9l24 15l13 10l5 6h7l11 7l20 10l14 5l13 1l9 -2l15 -6l8 -5l12 -3l10 4l7 5l26 27l-3 -7l-22 -33l-2 -6l1 -5l16 -17l28 -21l19 -10l12 -4l16 -3h24l25 6l16 8l9 6l15 12l18 11l9 8l1 5l-3 7l-14 19l-14 23l26 -27l20 -15l11 -1l18 7l16 3v-54l-12 -2l-23 -9l-19 -12l-24 -13l-33 -22l-19 -8l-14 -3h-12l-1 -1l-31 1l-14 3l-9 3l-18 9l-40 27l-27 14l-12 4l-18 2l-1 -1h-11l-15 -3l-23 -9l-40 -21l-24 -15l-21 -10l-23 -6z"/>
<path fill="#4040ff" stroke="#4040ff" d="M0 84v66l24 3l19 6l35 19l23 16l7 7h5l21 12l21 9l8 2h10l19 -6l15 -8l11 -1l13 7l25 24l-24 -39v-6l3 -5l24 -22l27 -18l19 -8l14 -3h7l1 -1l26 1l24 7l22 13l15 12l21 13l5 5l1 8l-2 4l-14 19l-12 20l26 -26l18 -13l9 -1l18 7l12 3h5v-52l-23 -6l-15 -7l-12 -8l-29 -16l-33 -22l-20 -8l-9 -2h-8l-1 -1h-32l-1 1h-7l-10 2l-14 5l-12 6l-42 28l-24 13l-10 4l-13 3h-19l-1 -1l-13 -1l-25 -9l-37 -19l-33 -20l-17 -8l-22 -6z"/>
<path fill="#3838ff" stroke="#3838ff" d="M0 85v65h10l1 1l12 1l24 8l34 19l28 21h4l29 16l20 7h12l8 -2l28 -13h7l7 3l10 7l19 19l-3 -7l-12 -17l-6 -11l-1 -6l4 -7l23 -21l25 -17l20 -9l18 -4h8l1 -1l21 1l23 6l14 7l12 8l15 12l17 10l9 8l1 6l-2 5l-16 22l-8 14l18 -18l24 -18l6 -1l19 7l18 4v-52l-9 -1l-18 -6l-48 -27l-40 -26l-19 -7l-11 -1l-1 -1h-40l-15 3l-24 10l-42 28l-26 14l-18 6l-20 1l-1 -1h-9l-13 -3l-16 -6l-34 -17l-33 -20l-25 -12l-18 -5z"/>
<path fill="#3030ff" stroke="#3030ff" d="M0 86v63l21 2l21 6l37 20l29 21l7 2l9 6l22 11l15 5l18 -1l14 -5l15 -8l7 -1l13 6l22 20v-2l-13 -19l-6 -11v-7l4 -6l16 -15l29 -21l21 -10l23 -5h24l1 1l11 1l13 4l16 8l27 20l20 12l7 8l-1 6l-22 32l-1 3l19 -18l17 -13l5 -2h7l15 6l19 4v-50l-11 -2l-15 -5l-50 -28l-33 -22l-17 -8l-11 -3l-14 -1l-1 -1h-27l-1 1h-9l-14 3l-21 9l-42 28l-28 15l-19 6h-10l-2 1l-1 -1h-11l-1 -1l-11 -1l-20 -7l-25 -12l-27 -15l-17 -11l-23 -11l-17 -5l-12 -1l-1 -1z"/>
<path fill="#2929ff" stroke="#2929ff" d="M0 86v62l25 3l21 7l34 19l28 20l12 5l23 13l17 6h5l1 1l10 -1l13 -4l20 -10h8l13 7l18 16l-2 -5l-15 -23l-1 -7l2 -4l22 -21l25 -18l23 -11l25 -5l26 1l24 7l13 7l27 20l20 12l6 6l-1 9l-21 31l19 -17l13 -10l8 -4h5l18 7l12 3h5v-48l-25 -7l-16 -8l-12 -8l-24 -13l-31 -21l-14 -7l-13 -4l-11 -1l-1 -1h-38l-16 3l-22 9l-15 9l-27 19l-30 16l-11 4l-10 2h-17l-1 -1h-8l-9 -2l-24 -9l-33 -17l-33 -20l-24 -11l-16 -4z"/>
<path fill="#2121ff" stroke="#2121ff" d="M0 87v60l28 4l17 6l33 18l28 20l10 4l7 5l24 12l17 5l13 -1l15 -5l15 -8l8 -1l14 7l17 14l-15 -24l-1 -10l2 -3l21 -20l30 -21l24 -10l15 -3h10l1 -1l23 2l20 6l15 8l24 18l23 14l5 5l1 6l-4 8l-12 16l-4 8l18 -16l12 -9l6 -3h8l18 7l15 3v-48l-15 -3l-16 -6l-50 -29l-28 -19l-12 -6l-16 -5l-15 -1l-1 -1h-24l-1 1h-11l-10 2l-23 9l-12 7l-27 19l-28 16l-19 7l-11 1l-1 1h-9l-1 -1h-9l-14 -3l-21 -8l-35 -18l-33 -20l-19 -9l-23 -6z"/>
<path fill="#1a1aff" stroke="#1a1aff" d="M0 87v60l22 2l20 6l37 20l30 21l8 3l9 6l18 9l18 6h12l8 -2l13 -5l13 -7h9l14 8l13 11l-15 -26v-5l3 -5l24 -22l26 -18l12 -6l14 -5l16 -2l1 -1l29 1l21 6l17 9l21 16l26 16l5 5l1 4l-4 9l-15 22l26 -21l9 -5h5l15 6l20 4v-46l-13 -3l-21 -8l-43 -25l-33 -22l-10 -5l-15 -5l-11 -1l-1 -1h-37l-1 1h-7l-9 2l-18 7l-11 6l-35 24l-25 14l-16 6l-9 2h-19l-1 -1l-13 -1l-25 -9l-37 -19l-31 -19l-19 -9l-16 -5z"/>
<path fill="#1212ff" stroke="#1212ff" d="M0 88v58l25 3l23 8l32 18l27 19l34 18l20 7l8 1l1 -1l10 -1l9 -3l15 -8l6 -2h5l9 4l18 14l-3 -7l-10 -16l1 -9l23 -22l28 -20l25 -11l15 -3h9l1 -1l20 1l23 6l14 7l26 19l26 16l5 6v5l-17 27l13 -11l19 -13h8l15 6l18 4v-46l-15 -3l-16 -6l-50 -29l-28 -19l-12 -6l-16 -5l-15 -1l-1 -1h-24l-1 1h-11l-10 2l-23 9l-47 31l-22 12l-21 7l-18 1l-1 -1h-9l-10 -2l-22 -8l-39 -20l-31 -19l-22 -10l-21 -5z"/>
<path fill="#0a0aff" stroke="#0a0aff" d="M0 88v58h10l1 1l12 1l24 8l34 19l27 19l13 6l17 10l21 8l5 1l13 -1l13 -4l15 -8l11 -1l10 5l14 10l-11 -19l-1 -7l2 -4l21 -20l31 -22l14 -7l12 -4l16 -2l1 -1h22l1 1l11 1l16 5l14 7l27 20l26 16l4 6l-1 5l-15 23l4 -2l21 -17l7 -3h5l18 7l16 3v-44l-25 -7l-16 -8l-36 -21l-31 -21l-14 -7l-13 -4l-11 -1l-1 -1h-38l-16 3l-16 6l-13 7l-35 24l-25 14l-16 6l-9 2h-20l-1 -1h-7l-9 -2l-21 -8l-37 -19l-33 -20l-17 -8l-22 -6z"/>
<path fill="#0303ff" stroke="#0303ff" d="M0 89v56l25 3l21 7l36 20l24 17l9 4l9 6l22 11l16 5l17 -1l12 -4l15 -8l9 -1l10 5l14 10l-11 -20l1 -8l10 -11l20 -17l22 -15l25 -11l15 -3h8l1 -1l21 1l23 6l19 10l21 16l25 15l7 7v6l-14 22l28 -20h8l15 6l18 4v-44l-11 -2l-15 -5l-50 -28l-33 -22l-17 -8l-11 -3l-14 -1l-1 -1h-27l-1 1h-9l-14 3l-21 9l-37 25l-28 16l-23 8l-18 1l-1 -1h-9l-10 -2l-22 -8l-46 -24l-24 -15l-19 -9l-18 -5l-12 -1l-1 -1z"/>
<path fill="#0000fb" stroke="#0000fb" d="M0 89v55l28 4l17 6l23 12l39 26l9 4l9 6l20 10l15 5l11 1l13 -3l24 -11h8l8 4l13 9l-1 -4l-8 -13l-1 -6l2 -4l15 -15l17 -14l19 -13l16 -8l16 -5l12 -1l1 -1h22l1 1l11 1l16 5l14 7l27 20l25 15l5 5l1 5l-13 22l15 -10l5 -5l8 -4h5l18 7l16 3v-42l-1 -1l-12 -2l-14 -5l-53 -30l-28 -19l-14 -7l-17 -5h-6l-1 -1h-40l-15 3l-24 10l-40 27l-19 11l-13 6l-18 5h-19l-1 -1l-13 -1l-25 -9l-37 -19l-31 -19l-19 -9l-21 -6z"/>
<path fill="#0000f6" stroke="#0000f6" d="M0 90v54h7l1 1l18 2l18 6l18 9l20 12l26 18l9 4l9 6l18 9l14 5l16 1l14 -4l22 -10l7 1l17 11h2l-8 -14l-1 -8l2 -4l19 -18l28 -21l19 -10l15 -5l10 -1l1 -1h9l1 -1l20 1l23 6l14 7l26 19l28 17l5 6v5l-11 19l11 -7l8 -7l6 -3h7l15 6l18 4v-42l-11 -2l-15 -5l-50 -28l-38 -25l-22 -8l-13 -1l-1 -1h-31l-1 1h-8l-10 2l-14 5l-12 6l-40 27l-30 16l-17 5l-16 1l-1 -1h-9l-1 -1l-10 -1l-24 -9l-35 -18l-31 -19l-21 -10l-17 -5l-12 -1l-1 -1z"/>
<path fill="#0000f1" stroke="#0000f1" d="M0 90v53l28 4l17 6l23 12l18 11l15 11l26 15l16 8l18 6l9 1l14 -3l24 -11h7l20 11l-8 -15l-1 -5l5 -8l30 -26l21 -14l14 -7l12 -4l10 -2h7l1 -1l28 1l21 6l17 9l24 18l24 14l7 7l1 5l-11 19l11 -7l8 -7l7 -3l7 1l15 6l16 3v-41l-12 -2l-15 -5l-48 -27l-36 -24l-13 -6l-14 -4h-5l-1 -1h-43l-15 3l-25 11l-43 29l-25 13l-11 4l-10 2h-17l-1 -1h-8l-9 -2l-24 -9l-33 -17l-31 -19l-23 -11l-19 -5z"/>
<path fill="#0000ec" stroke="#0000ec" d="M0 90v53l26 3l18 6l18 9l20 12l23 16l21 12l23 11l14 4h10l9 -2l28 -12l6 1l17 10v-3l-6 -10l-1 -7l2 -4l26 -24l19 -14l22 -12l20 -6l17 -1l1 -1l23 2l20 6l12 6l23 17l31 19l6 6v6l-9 14v2l10 -6l8 -7l5 -2h6l15 6l18 4v-40l-17 -4l-13 -5l-44 -25l-36 -24l-15 -7l-11 -3l-11 -1l-1 -1h-35l-21 4l-24 11l-43 29l-23 12l-19 6l-14 1l-1 -1h-10l-15 -3l-23 -9l-38 -20l-24 -15l-20 -10l-15 -5z"/>
<path fill="#0000e6" stroke="#0000e6" d="M0 91v51l23 3l22 7l23 12l41 27l34 18l18 6l8 1l15 -3l24 -11l9 1l13 8h2v-2l-6 -11v-6l3 -5l22 -20l26 -19l17 -9l19 -6l13 -1l1 -1l26 1l24 7l10 5l35 25l18 10l9 9l-1 6l-8 12v2l7 -4l8 -7l6 -3h8l19 7l13 2v-39l-15 -3l-16 -6l-42 -24l-36 -24l-12 -6l-16 -5l-15 -1l-1 -1h-25l-1 1h-10l-10 2l-12 4l-18 9l-35 24l-29 16l-18 6l-21 1l-1 -1h-8l-10 -2l-28 -11l-34 -18l-24 -15l-22 -11l-21 -6z"/>
<path fill="#0000e1" stroke="#0000e1" d="M0 91v51l25 3l21 7l21 11l38 25l21 12l18 9l19 6h10l9 -2l25 -11h8l14 8h2v-2l-5 -9l-1 -6l2 -4l20 -19l19 -15l19 -12l22 -9l16 -3h25l1 1l11 1l18 6l13 7l24 18l27 16l7 7v6l-8 13l4 -1l8 -7l10 -5h4l12 5l22 5v-38l-1 -1h-4l-20 -6l-47 -26l-36 -24l-14 -7l-17 -5h-6l-1 -1h-40l-15 3l-22 9l-50 33l-19 10l-22 7h-23l-15 -3l-19 -7l-30 -15l-42 -25l-17 -8l-22 -6z"/>
<path fill="#0000dc" stroke="#0000dc" d="M0 92v50h10l1 1l12 1l24 8l34 19l20 14l24 14l18 9l17 6l10 1l14 -3l25 -11l7 1l8 5l6 2l-5 -12l1 -7l7 -8l22 -19l24 -17l11 -6l16 -6l14 -3h8l1 -1h13l1 1l14 1l22 7l20 12l26 19l15 8l10 10v3l-8 14l4 -1l8 -7l7 -4h8l15 6l12 3h5v-37l-7 -1l-21 -7l-51 -29l-33 -22l-11 -5l-13 -4l-12 -1l-1 -1h-33l-1 1h-7l-10 2l-14 5l-12 6l-40 27l-23 13l-23 8l-18 1l-1 -1h-9l-10 -2l-22 -8l-37 -19l-33 -20l-19 -9l-23 -6z"/>
<path fill="#0000d7" stroke="#0000d7" d="M0 92v49l25 3l23 8l32 18l25 17l19 11l20 10l19 6l16 -1l12 -4l16 -8h7l13 7h3l-5 -10l1 -9l26 -24l20 -15l24 -13l16 -5l12 -1l1 -1h21l1 1l12 1l11 3l19 9l23 17l27 16l10 8l2 5l-8 14l4 -1l9 -8l8 -3l6 1l15 6l16 3v-37l-12 -2l-17 -6l-49 -28l-33 -22l-13 -6l-14 -4l-16 -1l-1 -1h-19l-1 1h-13l-14 3l-25 11l-40 27l-28 15l-11 4l-10 2h-18l-21 -4l-20 -8l-33 -17l-31 -19l-23 -11l-19 -5z"/>
<path fill="#0000d1" stroke="#0000d1" d="M0 92v49l22 2l12 3l15 6l22 12l33 22l19 11l22 11l15 5l11 1l10 -2l9 -3l13 -7l7 -2l5 1l13 7l1 -1l-5 -11l1 -6l7 -8l27 -23l17 -12l19 -10l20 -6l17 -1l1 -1l23 2l20 6l12 6l35 25l21 12l7 7v4l-7 12h2l7 -6l9 -5h6l15 6l18 4v-36l-13 -3l-19 -7l-45 -26l-31 -21l-14 -7l-13 -4l-10 -1l-1 -1h-39l-16 3l-16 6l-13 7l-38 26l-26 14l-15 5l-18 2l-1 -1l-17 -1l-24 -8l-36 -18l-31 -19l-27 -13l-14 -4z"/>
<path fill="#0000cc" stroke="#0000cc" d="M0 93v47l24 3l19 6l27 14l38 25l23 13l20 9l11 3h13l8 -2l25 -11l8 1l4 3l8 3l-4 -10l1 -8l31 -28l21 -15l17 -9l15 -5l10 -2h8l1 -1h16l1 1l13 1l14 4l15 7l35 25l20 11l9 8l1 4l-7 12h2l8 -7l6 -3h8l15 6l17 3v-35l-11 -2l-15 -5l-50 -28l-38 -25l-22 -8l-13 -1l-1 -1h-31l-1 1h-8l-10 2l-14 5l-12 6l-43 29l-22 12l-16 6l-10 1l-1 1h-13l-1 -1h-9l-13 -3l-16 -6l-32 -16l-42 -25l-20 -9l-21 -5z"/>
<path fill="#0000c7" stroke="#0000c7" d="M0 93v47h7l1 1l18 2l18 6l30 16l25 17l29 17l19 9l17 5l14 -1l10 -3l19 -9h7l11 6h2l-1 -5l-2 -3v-8l6 -7l23 -20l22 -16l16 -9l13 -5l20 -4l31 1l18 5l11 5l10 6l27 20l20 11l8 6l3 4v5l-6 9l3 -1l7 -6l8 -3h3l22 8l12 2v-35l-12 -2l-17 -6l-49 -28l-33 -22l-13 -6l-14 -4l-17 -1l-1 -1h-10l-1 1l-1 -1h-5l-1 1h-14l-14 3l-25 11l-43 29l-25 13l-20 6h-20l-1 -1h-7l-9 -2l-21 -8l-35 -18l-31 -19l-26 -12l-16 -4z"/>
<path fill="#0000c1" stroke="#0000c1" d="M0 93v47h10l1 1l12 1l22 7l21 11l40 26l21 12l16 8l18 6l19 -1l30 -12l5 1l9 5h3l-4 -9v-4l2 -4l17 -16l25 -20l14 -9l19 -9l15 -4l16 -1l1 -1l18 1l15 3l9 3l19 10l27 20l26 15l6 6l1 5l-6 9l12 -8l9 -1l15 6l18 4v-34l-13 -3l-19 -7l-45 -26l-31 -21l-14 -7l-13 -4l-10 -1l-1 -1h-39l-16 3l-16 6l-13 7l-38 26l-26 14l-19 6l-15 1l-1 -1h-10l-14 -3l-23 -9l-38 -20l-24 -15l-25 -12l-20 -5z"/>
<path fill="#0000bc" stroke="#0000bc" d="M0 94v45l29 4l19 7l32 18l25 17l19 11l20 10l19 6l16 -1l12 -4l17 -8h5l13 6l-1 -5l-2 -3l1 -8l13 -13l19 -16l21 -15l17 -9l19 -6l13 -1l1 -1h17l1 1l13 1l17 5l12 6l32 23l15 8l15 10l4 5v5l-4 6l9 -6l11 -1l19 7l13 2v-33l-7 -1l-19 -6l-50 -28l-38 -25l-22 -8l-12 -1l-1 -1h-33l-1 1h-7l-10 2l-14 5l-12 6l-43 29l-22 12l-21 7l-20 1l-1 -1h-8l-13 -3l-16 -6l-32 -16l-42 -25l-20 -9l-21 -5z"/>
<path fill="#0000b7" stroke="#0000b7" d="M0 94v45l21 2l21 6l22 11l59 37l22 11l15 5l11 1l10 -2l9 -3l16 -8h8l9 5h2v-3l-2 -4v-7l2 -3l33 -29l20 -14l13 -7l13 -5l20 -4l31 1l23 7l16 9l24 18l29 17l7 7l-1 7l7 -3l7 -1l15 6l19 4v-33l-12 -2l-23 -9l-43 -25l-33 -22l-22 -9l-10 -2h-10l-1 -1h-22l-1 1h-11l-14 3l-9 3l-16 8l-43 29l-25 13l-20 6h-20l-1 -1h-7l-9 -2l-21 -8l-35 -18l-31 -19l-26 -12l-16 -4z"/>
<path fill="#0000b2" stroke="#0000b2" d="M0 94v44l23 3l22 7l23 12l35 23l26 15l22 10l11 3l18 -1l14 -5l11 -6h9l7 4h4l-3 -8l1 -6l27 -25l17 -13l14 -9l19 -9l15 -4l16 -1l1 -1l18 1l1 1l10 1l13 4l14 7l32 23l29 17l5 5l1 6l7 -2h6l15 6l18 4v-32l-1 -1h-4l-20 -6l-16 -8l-12 -8l-24 -13l-31 -21l-14 -7l-17 -5h-6l-1 -1h-40l-15 3l-22 9l-15 9l-30 21l-26 14l-19 6l-15 1l-1 -1l-16 -1l-24 -8l-36 -18l-31 -19l-27 -13l-14 -4z"/>
<path fill="#0000ac" stroke="#0000ac" d="M0 95v43l25 3l23 8l24 13l30 20l24 14l16 8l22 7l14 -1l10 -3l20 -9h4l12 5v-3l-2 -4v-5l3 -5l20 -18l23 -18l14 -9l17 -8l14 -4l14 -1l1 -1l24 1l14 3l11 4l18 10l24 18l25 14l11 10l1 4l13 -1l15 6l17 3v-31l-14 -3l-14 -5l-51 -29l-33 -22l-11 -5l-13 -4l-11 -1l-1 -1h-35l-1 1h-7l-21 6l-14 7l-43 29l-20 11h-2l-7 4l-14 4l-19 1l-1 -1h-9l-13 -3l-18 -7l-39 -20l-31 -19l-22 -10l-21 -5z"/>
<path fill="#0000a7" stroke="#0000a7" d="M0 95v43l16 1l26 7l22 11l59 37l22 11l15 5l10 1l1 -1l10 -1l26 -11h6l8 4h3l-2 -5l1 -9l17 -16l22 -18l29 -18l13 -5l21 -4l29 1l10 2l14 5l23 14l20 15l25 14l9 8l1 4l10 -1l16 6l19 4v-31l-15 -3l-18 -7l-21 -13l-19 -10l-36 -24l-17 -8l-11 -3l-14 -1l-1 -1h-27l-1 1l-15 1l-11 3l-23 11l-38 26l-28 15l-11 4l-10 2h-19l-20 -4l-20 -8l-40 -21l-24 -15l-23 -11l-18 -5z"/>
<path fill="#0000a2" stroke="#0000a2" d="M0 95v42l23 3l22 7l23 12l35 23l26 15l22 10l11 3h13l8 -2l23 -10h8l7 4h2v-3l-2 -4l1 -6l13 -13l32 -26l14 -9l19 -9l15 -4l18 -1l1 -1l22 2l20 6l12 6l32 23l28 16l6 5l4 6l10 -1l15 6l18 4v-31l-9 -1l-18 -6l-53 -30l-33 -22l-21 -8l-10 -1l-1 -1h-42l-15 3l-11 4l-19 10l-33 23l-27 15l-17 6l-17 2l-1 -1h-11l-1 -1l-10 -1l-20 -7l-21 -10l-29 -16l-17 -11l-24 -12l-22 -6z"/>
<path fill="#00009c" stroke="#00009c" d="M0 96v41l25 3l23 8l37 21l17 12l24 14l16 8l22 7l14 -1l10 -3l14 -7l7 -2l6 1l5 3h3l-2 -5v-5l2 -4l28 -25l17 -13l16 -10l18 -8l18 -4h8l1 -1l23 1l14 3l11 4l13 7l32 23l25 14l11 11h11l15 6l12 3h5v-29l-10 -2l-24 -9l-48 -28l-28 -19l-10 -5l-15 -5l-11 -1l-1 -1h-38l-16 3l-11 4l-16 8l-43 29l-25 13l-16 5l-18 1l-1 -1h-9l-10 -2l-22 -8l-37 -19l-31 -19l-21 -10l-17 -5l-12 -1l-1 -1z"/>
<path fill="#000097" stroke="#000097" d="M0 96v41h7l1 1l18 2l18 6l25 13l54 34l22 11l15 5l10 1l1 -1l10 -1l26 -11h5l10 4l-1 -4l1 -9l25 -23l22 -17l27 -15l12 -4l10 -2h7l1 -1l28 1l21 6l14 7l32 23l22 12l11 8l5 6h11l15 6l16 3v-29l-11 -2l-15 -5l-50 -28l-38 -25l-22 -8l-13 -1l-1 -1h-31l-1 1h-8l-10 2l-24 10l-45 30l-24 13l-18 6l-22 1l-1 -1h-8l-9 -2l-26 -10l-36 -19l-33 -20l-13 -6l-21 -6z"/>
<path fill="#000092" stroke="#000092" d="M0 96v41h10l1 1l12 1l22 7l28 15l30 20l26 15l22 10l11 3l18 -1l14 -5l12 -6h7l6 3h3l-2 -8l4 -7l25 -22l17 -13l27 -16l14 -5l16 -3h25l1 1l11 1l16 5l15 8l32 23l22 12l14 12h8l19 7l15 3v-29l-15 -3l-20 -8l-43 -25l-33 -22l-10 -5l-12 -4l-10 -2h-10l-1 -1h-23l-1 1h-10l-1 1l-10 1l-12 4l-18 9l-41 28l-27 14l-18 5h-22l-15 -3l-19 -7l-39 -20l-24 -15l-21 -11l-21 -7z"/>
<path fill="#00008d" stroke="#00008d" d="M0 96v40l24 3l26 9l30 17l22 15l22 13l20 10l19 6h10l18 -5l14 -7h9l7 3l-1 -9l2 -4l22 -20l23 -18l12 -8l18 -9l13 -4l10 -1l1 -1h9l1 -1l20 1l23 6l16 8l32 23l25 14l13 11h8l19 7l14 2v-28l-9 -1l-18 -6l-53 -30l-35 -23l-19 -7l-10 -1l-1 -1h-41l-1 1l-11 1l-17 6l-10 5l-43 29l-26 14l-19 6l-16 1l-1 -1h-9l-14 -3l-23 -9l-38 -20l-24 -15l-25 -12l-14 -4z"/>
<path fill="#000087" stroke="#000087" d="M0 97v39l21 2l23 7l18 9l42 27l28 16l18 8l15 4l16 -2l27 -11l12 3l1 -1l-1 -1l1 -9l11 -11l33 -27l17 -11l17 -8l14 -4l14 -1l1 -1l24 1l23 6l17 9l27 20l27 15l13 11l10 1l19 7l13 2v-27l-17 -4l-13 -5l-44 -25l-36 -24l-15 -7l-15 -4h-6l-1 -1h-37l-20 4l-24 11l-38 26l-23 13l-23 8l-20 1l-1 -1h-8l-13 -3l-18 -7l-37 -19l-33 -20l-19 -9l-23 -6z"/>
<path fill="#000082" stroke="#000082" d="M0 97v39h9l1 1l17 2l22 8l32 18l25 17l21 12l21 10l13 4l19 -1l12 -4l15 -7l13 2l-1 -6l3 -6l26 -23l21 -16l18 -11l14 -6l24 -5h22l26 6l16 8l32 23l30 17l9 8h6l16 6l19 4v-27l-11 -2l-15 -5l-50 -28l-31 -21l-16 -8l-13 -4l-13 -1l-1 -1h-31l-1 1h-8l-13 3l-13 5l-15 8l-33 23l-29 16l-10 4l-13 3h-18l-21 -4l-20 -8l-31 -16l-31 -19l-25 -12l-18 -5z"/>
<path fill="#00007d" stroke="#00007d" d="M0 97v38l28 4l15 5l20 10l59 37l22 11l19 6h11l9 -2l23 -10h7l6 2l1 -1l-1 -1v-5l2 -4l28 -25l21 -16l25 -14l12 -4l16 -3h26l19 4l20 9l26 19l28 16l19 14h7l18 7l15 3v-27l-12 -2l-17 -6l-49 -28l-33 -22l-10 -5l-22 -6l-34 -1l-1 1h-10l-1 1l-10 1l-12 4l-16 8l-43 29l-20 11l-24 8h-23l-1 -1l-11 -1l-22 -8l-30 -15l-33 -20l-21 -11l-21 -7z"/>
<path fill="#000078" stroke="#000078" d="M0 97v38l25 3l21 7l26 14l27 18l29 17l19 9l18 5h7l10 -2l23 -10l14 1l1 -9l31 -28l20 -15l15 -9l11 -5l13 -4l10 -1l1 -1h9l1 -1l26 2l22 7l20 12l23 17l22 12l16 12l9 1l3 2l19 6l10 1v-26l-9 -1l-18 -6l-53 -30l-35 -23l-12 -5l-12 -3h-5l-1 -1h-42l-1 1l-10 1l-17 6l-10 5l-43 29l-26 14l-19 6l-16 1l-1 -1h-10l-10 -2l-26 -10l-38 -20l-24 -15l-25 -12l-20 -5z"/>
<path fill="#000072" stroke="#000072" d="M0 98v37h7l1 1l18 2l18 6l25 13l54 34l20 10l18 6l8 1l1 -1l11 -1l27 -11l10 2v-5l4 -7l43 -36l17 -11l12 -6l19 -6l13 -1l1 -1l26 1l22 6l17 9l32 23l19 10l18 13l8 1l19 7l13 2v-25l-17 -4l-13 -5l-44 -25l-36 -24l-15 -7l-15 -4h-6l-1 -1h-37l-20 4l-24 11l-38 26l-23 13l-23 8l-20 1l-1 -1l-14 -1l-23 -8l-30 -15l-42 -25l-19 -9l-23 -6z"/>
<path fill="#00006d" stroke="#00006d" d="M0 98v37h10l1 1l16 2l20 7l19 10l37 24l26 15l22 10l11 3l18 -1l27 -11l11 1v-5l2 -4l28 -25l18 -14l25 -15l13 -5l21 -4h22l26 6l21 11l21 16l30 17l15 11l7 1l22 8l12 2v-25l-7 -1l-19 -6l-50 -28l-38 -25l-9 -4l-18 -5h-7l-1 -1h-33l-1 1h-7l-10 2l-14 5l-12 6l-38 26l-29 16l-10 4l-13 3h-18l-21 -4l-20 -8l-31 -16l-31 -19l-25 -12l-18 -5z"/>
<path fill="#000068" stroke="#000068" d="M0 98v36l24 3l19 6l27 14l35 23l19 11l20 10l20 6h9l9 -2l24 -10l11 1l2 -8l10 -10l41 -33l25 -14l12 -4l16 -3h26l19 4l20 9l32 23l27 15l12 9l4 2h5l18 7l15 3v-25l-15 -3l-16 -6l-47 -27l-31 -21l-12 -6l-16 -5l-14 -1l-1 -1h-26l-1 1h-10l-10 2l-12 4l-18 9l-41 28l-27 14l-18 5h-22l-1 -1l-11 -1l-22 -8l-30 -15l-33 -20l-21 -11l-21 -7z"/>
<path fill="#000062" stroke="#000062" d="M0 98v36l25 3l21 7l21 11l37 24l26 15l20 9l15 4h6l14 -3l20 -9h12l1 -6l5 -6l33 -28l23 -16l11 -6l16 -6l15 -3h9l1 -1l26 2l22 7l20 12l23 17l27 15l12 9l8 1l18 7l14 2v-24h-5l-22 -7l-53 -30l-33 -22l-11 -5l-14 -4l-24 -2l-1 1h-24l-15 3l-11 4l-19 10l-36 25l-26 14l-19 6l-16 1l-1 -1h-9l-14 -3l-23 -9l-38 -20l-22 -14l-27 -13l-14 -4z"/>
<path fill="#00005d" stroke="#00005d" d="M0 99v35h7l1 1l18 2l18 6l20 10l59 37l20 10l18 6h15l14 -4l14 -7l5 -1l7 1l3 -8l7 -7l31 -26l20 -14l22 -11l14 -4l14 -1l1 -1l24 1l14 3l11 4l15 8l32 23l19 10l17 12l9 2l19 7l13 2v-23l-13 -3l-19 -7l-45 -26l-31 -21l-14 -7l-18 -5h-5l-1 -1h-39l-16 3l-16 6l-13 7l-41 28l-25 13l-16 5l-19 1l-1 -1h-9l-13 -3l-18 -7l-37 -19l-31 -19l-21 -10l-17 -5l-12 -1l-1 -1z"/>
<path fill="#000058" stroke="#000058" d="M0 99v35h10l1 1l16 2l20 7l19 10l37 24l26 15l17 8l16 5h13l14 -4l14 -7l4 -1h6l1 1l2 -1l2 -6l10 -10l30 -25l17 -12l26 -13l25 -5l28 1l19 5l16 8l32 23l19 10l21 14l6 1l18 7l16 3v-23l-14 -3l-14 -5l-51 -29l-33 -22l-11 -5l-18 -5h-6l-1 -1h-35l-1 1h-7l-21 6l-14 7l-43 29l-24 13l-18 6l-23 1l-1 -1h-7l-9 -2l-26 -10l-36 -19l-33 -20l-13 -6l-21 -6z"/>
<path fill="#000053" stroke="#000053" d="M0 99v34l24 3l19 6l20 10l61 38l20 10l20 6h9l9 -2l24 -10h10l1 -5l12 -12l30 -25l14 -10l25 -13l13 -4l11 -1l1 -1h25l1 1l11 1l16 5l15 8l32 23l19 10l18 12l26 9l15 3v-23l-11 -2l-15 -5l-55 -31l-28 -19l-14 -7l-19 -5l-38 -1l-1 1h-9l-13 3l-21 9l-43 29l-28 15l-20 6h-21l-16 -3l-21 -8l-26 -13l-40 -24l-18 -9l-19 -6z"/>
<path fill="#00004d" stroke="#00004d" d="M0 99v34l25 3l21 7l26 14l24 16l32 19l19 9l18 5h6l14 -3l20 -9h10l3 -7l6 -6l31 -26l21 -15l27 -13l12 -3l17 -1l1 -1l23 2l18 5l19 10l29 21l17 9l23 15l6 1l15 6l18 4v-23l-12 -2l-17 -6l-49 -28l-33 -22l-13 -6l-19 -5l-33 -1l-1 1l-17 1l-14 4l-19 9l-35 24l-30 17l-17 6l-18 2l-1 -1l-17 -1l-24 -8l-21 -10l-53 -31l-17 -8l-22 -6z"/>
<path fill="#000048" stroke="#000048" d="M0 99v34h7l1 1l18 2l18 6l25 13l54 34l20 10l18 6h15l14 -4l14 -7h9l3 -2l1 -4l9 -9l30 -25l18 -13l23 -12l17 -5l15 -1l1 -1l22 1l14 3l11 4l13 7l29 21l22 12l18 12l25 9l12 3h5v-22l-9 -1l-18 -6l-53 -30l-35 -23l-12 -5l-12 -3h-5l-1 -1h-42l-18 4l-20 9l-43 29l-26 14l-19 6l-17 1l-1 -1h-9l-10 -2l-24 -9l-33 -17l-31 -19l-20 -10l-15 -5z"/>
<path fill="#000043" stroke="#000043" d="M0 100v33h9l1 1l17 2l20 7l19 10l37 24l24 14l19 9l16 5l18 -1l24 -10l10 -1l2 -2v-2l12 -12l25 -21l19 -14l24 -13l17 -5l13 -1l1 -1l26 1l22 6l14 7l32 23l24 13l13 9l20 8l19 5h4v-21l-13 -3l-17 -6l-44 -25l-36 -24l-15 -7l-15 -4h-5l-1 -1h-39l-16 3l-11 4l-16 8l-38 26l-23 13l-18 7l-10 1l-1 1h-14l-1 -1h-9l-9 -2l-19 -7l-32 -16l-40 -24l-19 -9l-18 -5l-12 -1l-1 -1z"/>
<path fill="#00003e" stroke="#00003e" d="M0 100v32l28 4l17 6l23 12l54 34l22 11l19 6l16 -1l12 -4l12 -6l11 -1l4 -7l36 -31l24 -17l20 -10l14 -4l12 -1l1 -1l29 1l24 7l16 9l24 18l24 13l18 12l22 8l19 4v-21l-14 -3l-14 -5l-51 -29l-33 -22l-11 -5l-18 -5h-6l-1 -1h-35l-1 1h-7l-9 2l-14 5l-12 6l-35 24l-32 18l-10 4l-13 3h-19l-20 -4l-20 -8l-31 -16l-31 -19l-22 -11l-21 -6z"/>
<path fill="#000038" stroke="#000038" d="M0 100v32l19 2l22 6l24 12l61 38l21 10l18 5l13 -1l15 -5l9 -5l11 -1l3 -5l8 -8l31 -26l21 -15l19 -10l12 -4l16 -3h26l19 4l20 9l32 23l24 13l15 10l27 10l15 3v-21l-11 -2l-15 -5l-16 -8l-39 -23l-28 -19l-17 -8l-16 -4l-38 -1l-1 1h-9l-13 3l-13 5l-13 7l-38 26l-30 16l-18 5h-22l-15 -3l-19 -7l-28 -14l-23 -13l-5 -4l-28 -15l-21 -7z"/>
<path fill="#000033" stroke="#000033" d="M0 100v32l25 3l21 7l21 11l54 34l24 12l16 5h5l1 1l10 -1l13 -4l15 -7h7l14 -15l25 -21l28 -20l18 -9l9 -3l15 -3h10l1 -1l25 2l17 5l16 8l32 23l19 10l20 13l34 11h6v-20l-12 -2l-17 -6l-49 -28l-33 -22l-13 -6l-19 -5l-34 -1l-1 1l-16 1l-14 4l-19 9l-38 26l-27 15l-17 6l-19 2l-1 -1h-10l-14 -3l-25 -10l-34 -18l-33 -20l-15 -7l-22 -6z"/>
<path fill="#00002e" stroke="#00002e" d="M0 100v32l16 1l26 7l22 11l61 38l23 11l14 4l18 -1l12 -4l9 -5l12 -2l5 -7l34 -29l25 -18l25 -12l18 -4h8l1 -1l23 1l14 3l11 4l10 5l32 23l24 13l15 10l26 10l12 3h5v-20l-9 -1l-18 -6l-53 -30l-33 -22l-14 -6l-12 -3h-5l-1 -1h-42l-18 4l-20 9l-43 29l-26 14l-19 6l-18 1l-1 -1h-9l-9 -2l-24 -9l-33 -17l-31 -19l-23 -11l-12 -4l-10 -2h-7l-1 -1h-9z"/>
<path fill="#000000" stroke="#000000" d="M0 101v31h10l1 1l12 1l24 8l19 10l42 27l25 14l13 6l17 5l16 -1l15 -5l9 -5l10 -1l3 -5l25 -22l28 -22l11 -7l16 -8l22 -6h8l1 -1l26 1l22 6l14 7l32 23l19 10l22 14l23 8l16 3v-19l-13 -3l-19 -7l-50 -29l-28 -19l-12 -6l-18 -5h-5l-1 -1h-39l-16 3l-9 3l-18 9l-38 26l-25 14l-16 6l-10 2h-16l-1 -1h-8l-9 -2l-30 -12l-37 -20l-24 -15l-22 -10l-21 -5z"/>
</g>
<g>
<path fill="#000068" d="M90.1 1018.6h6.4v2.8h-6.4zM380.1 735.1h17.3v11.3h-17.3zM396.9 1015.5h17.3v5.9h-17.3zM413.6 744.3h17.3v11.3h-17.3zM547.3 774.3h17.3v11.4h-17.3z"/>
<path fill="#e0e0ff" d="M90.1 1008.6h6.4v10.6h-6.4zM90.1 938.5h6.4v10.6h-6.4zM90.1 908.4h6.4v10.6h-6.4zM90.1 848.3h6.4v10.6h-6.4zM95.9 960.9h17.3v11.3h-17.3zM95.9 896.5h17.3v11.3h-17.3zM95.9 842.9h17.3v11.3h-17.3zM95.9 800.0h17.3v11.3h-17.3zM95.9 789.2h17.3v11.3h-17.3zM95.9 778.5h17.3v11.3h-17.3zM112.6 997.2h17.3v10.7h-17.3zM112.6 916.4h17.3v10.7h-17.3zM112.6 865.9h17.3v10.7h-17.3zM112.6 855.8h17.3v10.7h-17.3zM112.6 795.2h17.3v10.7h-17.3zM129.3 928.6h17.3v11.0h-17.3zM129.3 918.2h17.3v11.0h-17.3zM129.3 907.7h17.3v11.0h-17.3zM129.3 824.5h17.3v11.0h-17.3zM129.3 803.7h17.3v11.0h-17.3zM146.1 969.1h17.3v11.3h-17.3zM146.1 894.5h17.3v11.3h-17.3zM146.1 851.8h17.3v11.3h-17.3zM162.8 983.7h17.3v11.5h-17.3zM162.8 940.0h17.3v11.5h-17.3zM162.8 907.2h17.3v11.5h-17.3zM162.8 863.5h17.3v11.5h-17.3zM162.8 852.6h17.3v11.5h-17.3zM179.5 997.6h17.3v11.5h-17.3zM179.5 964.9h17.3v11.5h-17.3zM179.5 921.4h17.3v11.5h-17.3zM179.5 866.9h17.3v11.5h-17.3zM179.5 856.0h17.3v11.5h-17.3zM179.5 834.2h17.3v11.5h-17.3zM196.2 1008.0h17.3v11.3h-17.3zM196.2 975.8h17.3v11.3h-17.3zM196.2 836.1h17.3v11.3h-17.3zM196.2 739.4h17.3v11.3h-17.3zM196.2 674.9h17.3v11.3h-17.3zM196.2 653.5h17.3v11.3h-17.3zM212.9 987.8h17.3v11.6h-17.3zM212.9 943.8h17.3v11.6h-17.3zM212.9 724.2h17.3v11.6h-17.3zM212.9 702.2h17.3v11.6h-17.3zM212.9 647.3h17.3v11.6h-17.3zM229.7 994.8h17.3v10.9h-17.3zM229.7 974.2h17.3v10.9h-17.3zM229.7 943.1h17.3v10.9h-17.3zM229.7 684.7h17.3v10.9h-17.3zM246.4 926.3h17.3v10.7h-17.3zM246.4 906.2h17.3v10.7h-17.3zM246.4 876.0h17.3v10.7h-17.3zM246.4 735.1h17.3v10.7h-17.3zM246.4 694.8h17.3v10.7h-17.3zM246.4 644.5h17.3v10.7h-17.3zM263.1 1008.6h17.3v10.7h-17.3zM263.1 897.7h17.3v10.7h-17.3zM263.1 877.6h17.3v10.7h-17.3zM263.1 665.9h17.3v10.7h-17.3zM279.8 887.2h17.3v11.0h-17.3zM279.8 845.7h17.3v11.0h-17.3zM296.5 904.6h17.3v10.7h-17.3zM296.5 874.2h17.3v10.7h-17.3zM296.5 864.1h17.3v10.7h-17.3zM296.5 833.6h17.3v10.7h-17.3zM313.3 845.3h17.3v11.4h-17.3zM313.3 661.7h17.3v11.4h-17.3zM330.0 924.7h17.3v11.6h-17.3zM330.0 880.9h17.3v11.6h-17.3zM330.0 815.0h17.3v11.6h-17.3zM346.7 925.8h17.3v11.2h-17.3zM346.7 915.2h17.3v11.2h-17.3zM346.7 840.7h17.3v11.2h-17.3zM363.4 845.8h17.3v11.0h-17.3zM363.4 804.2h17.3v11.0h-17.3zM363.4 689.6h17.3v11.0h-17.3zM363.4 679.2h17.3v11.0h-17.3zM380.1 959.3h17.3v11.3h-17.3zM380.1 948.6h17.3v11.3h-17.3zM380.1 863.2h17.3v11.3h-17.3zM380.1 809.8h17.3v11.3h-17.3zM380.1 777.8h17.3v11.3h-17.3zM380.1 681.7h17.3v11.3h-17.3zM380.1 671.0h17.3v11.3h-17.3zM396.9 902.9h17.3v10.8h-17.3zM396.9 892.7h17.3v10.8h-17.3zM396.9 872.2h17.3v10.8h-17.3zM396.9 862.0h17.3v10.8h-17.3zM396.9 851.7h17.3v10.8h-17.3zM413.6 1001.6h17.3v11.3h-17.3zM413.6 980.2h17.3v11.3h-17.3zM413.6 926.6h17.3v11.3h-17.3zM413.6 851.5h17.3v11.3h-17.3zM413.6 819.4h17.3v11.3h-17.3zM413.6 808.6h17.3v11.3h-17.3zM413.6 637.1h17.3v11.3h-17.3zM430.3 979.2h17.3v11.5h-17.3zM430.3 957.3h17.3v11.5h-17.3zM430.3 935.5h17.3v11.5h-17.3zM430.3 902.7h17.3v11.5h-17.3zM430.3 891.8h17.3v11.5h-17.3zM430.3 859.0h17.3v11.5h-17.3zM430.3 793.5h17.3v11.5h-17.3zM447.0 999.4h17.3v10.7h-17.3zM447.0 898.3h17.3v10.7h-17.3zM447.0 878.0h17.3v10.7h-17.3zM447.0 847.7h17.3v10.7h-17.3zM447.0 817.4h17.3v10.7h-17.3zM447.0 665.6h17.3v10.7h-17.3zM463.7 957.9h17.3v11.5h-17.3zM463.7 860.2h17.3v11.5h-17.3zM463.7 849.3h17.3v11.5h-17.3zM463.7 795.0h17.3v11.5h-17.3zM480.5 953.1h17.3v10.5h-17.3zM480.5 933.2h17.3v10.5h-17.3zM480.5 903.4h17.3v10.5h-17.3zM480.5 893.4h17.3v10.5h-17.3zM480.5 873.6h17.3v10.5h-17.3zM497.2 924.4h17.3v11.5h-17.3zM497.2 902.7h17.3v11.5h-17.3zM497.2 674.5h17.3v11.5h-17.3zM530.6 887.7h17.3v10.8h-17.3zM564.1 873.3h17.3v10.9h-17.3zM564.1 863.0h17.3v10.9h-17.3zM564.1 842.5h17.3v10.9h-17.3zM580.8 884.8h6.8v11.3h-6.8zM580.8 745.3h6.8v11.3h-6.8z"/>
<path fill="#d9d9ff" d="M90.1 998.6h6.4v10.6h-6.4zM90.1 978.5h6.4v10.6h-6.4zM90.1 968.5h6.4v10.6h-6.4zM90.1 948.5h6.4v10.6h-6.4zM90.1 918.4h6.4v10.6h-6.4zM90.1 898.4h6.4v10.6h-6.4zM90.1 888.4h6.4v10.6h-6.4zM90.1 868.3h6.4v10.6h-6.4zM90.1 858.3h6.4v10.6h-6.4zM90.1 828.3h6.4v10.6h-6.4zM90.1 818.2h6.4v10.6h-6.4zM95.9 928.7h17.3v11.3h-17.3zM95.9 907.2h17.3v11.3h-17.3zM95.9 864.3h17.3v11.3h-17.3zM95.9 821.4h17.3v11.3h-17.3zM112.6 926.5h17.3v10.7h-17.3zM112.6 805.3h17.3v10.7h-17.3zM129.3 991.0h17.3v11.0h-17.3zM129.3 897.3h17.3v11.0h-17.3zM129.3 866.1h17.3v11.0h-17.3zM129.3 793.3h17.3v11.0h-17.3zM146.1 830.5h17.3v11.3h-17.3zM162.8 929.1h17.3v11.5h-17.3zM162.8 885.4h17.3v11.5h-17.3zM162.8 841.7h17.3v11.5h-17.3zM162.8 830.8h17.3v11.5h-17.3zM179.5 1008.5h17.3v11.5h-17.3zM179.5 888.7h17.3v11.5h-17.3zM179.5 845.1h17.3v11.5h-17.3zM179.5 714.4h17.3v11.5h-17.3zM179.5 692.6h17.3v11.5h-17.3zM179.5 649.1h17.3v11.5h-17.3zM196.2 943.5h17.3v11.3h-17.3zM196.2 922.0h17.3v11.3h-17.3zM196.2 857.6h17.3v11.3h-17.3zM212.9 910.9h17.3v11.6h-17.3zM212.9 867.0h17.3v11.6h-17.3zM212.9 856.0h17.3v11.6h-17.3zM212.9 735.2h17.3v11.6h-17.3zM212.9 713.2h17.3v11.6h-17.3zM212.9 691.2h17.3v11.6h-17.3zM229.7 1005.2h17.3v10.9h-17.3zM229.7 984.5h17.3v10.9h-17.3zM229.7 963.8h17.3v10.9h-17.3zM229.7 912.1h17.3v10.9h-17.3zM229.7 901.8h17.3v10.9h-17.3zM229.7 860.4h17.3v10.9h-17.3zM229.7 705.3h17.3v10.9h-17.3zM229.7 643.3h17.3v10.9h-17.3zM246.4 996.7h17.3v10.7h-17.3zM246.4 956.5h17.3v10.7h-17.3zM246.4 855.8h17.3v10.7h-17.3zM246.4 755.2h17.3v10.7h-17.3zM246.4 715.0h17.3v10.7h-17.3zM246.4 704.9h17.3v10.7h-17.3zM246.4 674.7h17.3v10.7h-17.3zM263.1 948.1h17.3v10.7h-17.3zM263.1 917.9h17.3v10.7h-17.3zM263.1 867.5h17.3v10.7h-17.3zM263.1 696.2h17.3v10.7h-17.3zM263.1 676.0h17.3v10.7h-17.3zM279.8 866.4h17.3v11.0h-17.3zM279.8 856.0h17.3v11.0h-17.3zM279.8 731.4h17.3v11.0h-17.3zM279.8 679.4h17.3v11.0h-17.3zM279.8 669.0h17.3v11.0h-17.3zM296.5 894.5h17.3v10.7h-17.3zM296.5 884.3h17.3v10.7h-17.3zM296.5 823.5h17.3v10.7h-17.3zM296.5 701.8h17.3v10.7h-17.3zM296.5 691.7h17.3v10.7h-17.3zM313.3 866.9h17.3v11.4h-17.3zM313.3 834.5h17.3v11.4h-17.3zM313.3 683.3h17.3v11.4h-17.3zM313.3 672.5h17.3v11.4h-17.3zM330.0 913.8h17.3v11.6h-17.3zM330.0 837.0h17.3v11.6h-17.3zM330.0 694.4h17.3v11.6h-17.3zM346.7 904.6h17.3v11.2h-17.3zM346.7 851.4h17.3v11.2h-17.3zM346.7 681.2h17.3v11.2h-17.3zM363.4 887.4h17.3v11.0h-17.3zM363.4 866.6h17.3v11.0h-17.3zM363.4 835.4h17.3v11.0h-17.3zM363.4 814.6h17.3v11.0h-17.3zM363.4 648.0h17.3v11.0h-17.3zM380.1 1002.0h17.3v11.3h-17.3zM380.1 916.6h17.3v11.3h-17.3zM380.1 895.2h17.3v11.3h-17.3zM380.1 884.5h17.3v11.3h-17.3zM380.1 852.5h17.3v11.3h-17.3zM380.1 831.2h17.3v11.3h-17.3zM396.9 984.8h17.3v10.8h-17.3zM396.9 954.1h17.3v10.8h-17.3zM396.9 923.4h17.3v10.8h-17.3zM396.9 821.0h17.3v10.8h-17.3zM396.9 800.5h17.3v10.8h-17.3zM413.6 958.7h17.3v11.3h-17.3zM413.6 905.1h17.3v11.3h-17.3zM413.6 787.2h17.3v11.3h-17.3zM413.6 765.7h17.3v11.3h-17.3zM413.6 680.0h17.3v11.3h-17.3zM430.3 880.9h17.3v11.5h-17.3zM430.3 826.3h17.3v11.5h-17.3zM447.0 989.3h17.3v10.7h-17.3zM447.0 969.1h17.3v10.7h-17.3zM447.0 959.0h17.3v10.7h-17.3zM447.0 797.1h17.3v10.7h-17.3zM447.0 787.0h17.3v10.7h-17.3zM463.7 925.3h17.3v11.5h-17.3zM463.7 871.0h17.3v11.5h-17.3zM463.7 827.6h17.3v11.5h-17.3zM480.5 943.1h17.3v10.5h-17.3zM480.5 923.3h17.3v10.5h-17.3zM480.5 913.3h17.3v10.5h-17.3zM480.5 853.7h17.3v10.5h-17.3zM480.5 784.1h17.3v10.5h-17.3zM480.5 704.6h17.3v10.5h-17.3zM480.5 694.6h17.3v10.5h-17.3zM497.2 880.9h17.3v11.5h-17.3zM497.2 652.8h17.3v11.5h-17.3zM513.9 876.2h17.3v11.6h-17.3zM513.9 821.4h17.3v11.6h-17.3zM513.9 810.4h17.3v11.6h-17.3zM513.9 689.8h17.3v11.6h-17.3zM530.6 846.8h17.3v10.8h-17.3zM530.6 836.6h17.3v10.8h-17.3zM530.6 683.2h17.3v10.8h-17.3zM547.3 893.0h17.3v11.4h-17.3zM547.3 871.4h17.3v11.4h-17.3zM547.3 860.6h17.3v11.4h-17.3zM547.3 839.1h17.3v11.4h-17.3zM547.3 828.3h17.3v11.4h-17.3zM547.3 688.0h17.3v11.4h-17.3zM564.1 883.6h17.3v10.9h-17.3zM564.1 832.3h17.3v10.9h-17.3zM564.1 739.9h17.3v10.9h-17.3zM564.1 698.8h17.3v10.9h-17.3zM580.8 874.0h6.8v11.3h-6.8zM580.8 713.1h6.8v11.3h-6.8zM580.8 691.6h6.8v11.3h-6.8z"/>
<path fill="#7d7dff" d="M90.1 988.5h6.4v10.6h-6.4zM95.9 767.8h17.3v11.3h-17.3zM95.9 671.2h17.3v11.3h-17.3zM129.3 720.5h17.3v11.0h-17.3zM129.3 678.8h17.3v11.0h-17.3zM146.1 734.6h17.3v11.3h-17.3zM179.5 812.4h17.3v11.5h-17.3zM263.1 766.7h17.3v10.7h-17.3zM296.5 752.5h17.3v10.7h-17.3z"/>
<path fill="#ababff" d="M90.1 958.5h6.4v10.6h-6.4zM90.1 637.9h6.4v10.6h-6.4zM112.6 674.1h17.3v10.7h-17.3zM112.6 664.0h17.3v10.7h-17.3zM129.3 699.7h17.3v11.0h-17.3zM146.1 713.3h17.3v11.3h-17.3zM212.9 634.5h17.3v2.4h-17.3zM246.4 845.8h17.3v10.7h-17.3zM263.1 847.3h17.3v10.7h-17.3zM330.0 902.8h17.3v11.6h-17.3zM330.0 858.9h17.3v11.6h-17.3zM380.1 799.1h17.3v11.3h-17.3zM380.1 767.1h17.3v11.3h-17.3zM447.0 696.0h17.3v10.7h-17.3zM513.9 711.7h17.3v11.6h-17.3z"/>
<path fill="#c2c2ff" d="M90.1 928.4h6.4v10.6h-6.4zM90.1 788.2h6.4v10.6h-6.4zM90.1 688.0h6.4v10.6h-6.4zM90.1 668.0h6.4v10.6h-6.4zM95.9 853.6h17.3v11.3h-17.3zM95.9 639.0h17.3v11.3h-17.3zM112.6 1007.3h17.3v10.7h-17.3zM112.6 906.3h17.3v10.7h-17.3zM146.1 990.4h17.3v11.3h-17.3zM146.1 873.2h17.3v11.3h-17.3zM146.1 681.3h17.3v11.3h-17.3zM146.1 670.7h17.3v11.3h-17.3zM146.1 638.7h17.3v11.3h-17.3zM162.8 808.9h17.3v11.5h-17.3zM162.8 721.6h17.3v11.5h-17.3zM179.5 986.7h17.3v11.5h-17.3zM179.5 681.7h17.3v11.5h-17.3zM179.5 670.8h17.3v11.5h-17.3zM179.5 659.9h17.3v11.5h-17.3zM196.2 846.8h17.3v11.3h-17.3zM196.2 825.4h17.3v11.3h-17.3zM196.2 728.7h17.3v11.3h-17.3zM212.9 888.9h17.3v11.6h-17.3zM229.7 932.8h17.3v10.9h-17.3zM229.7 922.5h17.3v10.9h-17.3zM229.7 757.0h17.3v10.9h-17.3zM229.7 634.5h17.3v9.4h-17.3zM246.4 936.3h17.3v10.7h-17.3zM246.4 886.0h17.3v10.7h-17.3zM246.4 684.8h17.3v10.7h-17.3zM263.1 938.1h17.3v10.7h-17.3zM263.1 907.8h17.3v10.7h-17.3zM263.1 756.6h17.3v10.7h-17.3zM263.1 635.7h17.3v10.7h-17.3zM296.5 722.1h17.3v10.7h-17.3zM296.5 712.0h17.3v10.7h-17.3zM313.3 726.5h17.3v11.4h-17.3zM330.0 847.9h17.3v11.6h-17.3zM330.0 804.1h17.3v11.6h-17.3zM346.7 893.9h17.3v11.2h-17.3zM346.7 713.1h17.3v11.2h-17.3zM363.4 929.1h17.3v11.0h-17.3zM363.4 918.7h17.3v11.0h-17.3zM363.4 897.8h17.3v11.0h-17.3zM380.1 873.9h17.3v11.3h-17.3zM396.9 943.8h17.3v10.8h-17.3zM396.9 677.7h17.3v10.8h-17.3zM413.6 915.9h17.3v11.3h-17.3zM413.6 840.8h17.3v11.3h-17.3zM430.3 968.2h17.3v11.5h-17.3zM430.3 662.5h17.3v11.5h-17.3zM430.3 640.6h17.3v11.5h-17.3zM447.0 867.9h17.3v10.7h-17.3zM480.5 843.7h17.3v10.5h-17.3zM480.5 823.9h17.3v10.5h-17.3zM480.5 684.7h17.3v10.5h-17.3zM497.2 837.5h17.3v11.5h-17.3zM513.9 854.3h17.3v11.6h-17.3zM530.6 713.9h17.3v10.8h-17.3zM530.6 693.4h17.3v10.8h-17.3zM547.3 882.2h17.3v11.4h-17.3zM547.3 849.9h17.3v11.4h-17.3zM547.3 731.2h17.3v11.4h-17.3zM564.1 729.6h17.3v10.9h-17.3z"/>
<path fill="#c9c9ff" d="M90.1 878.3h6.4v10.6h-6.4zM90.1 838.3h6.4v10.6h-6.4zM90.1 798.2h6.4v10.6h-6.4zM112.6 966.9h17.3v10.7h-17.3zM112.6 886.1h17.3v10.7h-17.3zM129.3 980.6h17.3v11.0h-17.3zM129.3 949.4h17.3v11.0h-17.3zM129.3 710.1h17.3v11.0h-17.3zM146.1 979.7h17.3v11.3h-17.3zM146.1 862.5h17.3v11.3h-17.3zM146.1 809.2h17.3v11.3h-17.3zM146.1 649.3h17.3v11.3h-17.3zM162.8 972.7h17.3v11.5h-17.3zM162.8 950.9h17.3v11.5h-17.3zM162.8 699.7h17.3v11.5h-17.3zM162.8 667.0h17.3v11.5h-17.3zM162.8 656.0h17.3v11.5h-17.3zM179.5 877.8h17.3v11.5h-17.3zM179.5 823.3h17.3v11.5h-17.3zM179.5 703.5h17.3v11.5h-17.3zM196.2 986.5h17.3v11.3h-17.3zM196.2 932.8h17.3v11.3h-17.3zM196.2 879.1h17.3v11.3h-17.3zM212.9 877.9h17.3v11.6h-17.3zM212.9 834.0h17.3v11.6h-17.3zM212.9 680.3h17.3v11.6h-17.3zM212.9 669.3h17.3v11.6h-17.3zM229.7 953.5h17.3v10.9h-17.3zM229.7 881.1h17.3v10.9h-17.3zM229.7 664.0h17.3v10.9h-17.3zM246.4 1006.8h17.3v10.7h-17.3zM246.4 986.7h17.3v10.7h-17.3zM246.4 916.2h17.3v10.7h-17.3zM246.4 896.1h17.3v10.7h-17.3zM246.4 765.3h17.3v10.7h-17.3zM246.4 664.7h17.3v10.7h-17.3zM246.4 634.5h17.3v10.6h-17.3zM263.1 958.2h17.3v10.7h-17.3zM263.1 726.4h17.3v10.7h-17.3zM263.1 716.3h17.3v10.7h-17.3zM263.1 686.1h17.3v10.7h-17.3zM263.1 634.5h17.3v1.8h-17.3zM279.8 835.3h17.3v11.0h-17.3zM279.8 741.8h17.3v11.0h-17.3zM279.8 710.6h17.3v11.0h-17.3zM279.8 700.2h17.3v11.0h-17.3zM279.8 689.8h17.3v11.0h-17.3zM296.5 742.4h17.3v10.7h-17.3zM313.3 715.7h17.3v11.4h-17.3zM313.3 704.9h17.3v11.4h-17.3zM330.0 661.5h17.3v11.6h-17.3zM346.7 808.8h17.3v11.2h-17.3zM346.7 702.5h17.3v11.2h-17.3zM346.7 670.6h17.3v11.2h-17.3zM363.4 908.2h17.3v11.0h-17.3zM363.4 877.0h17.3v11.0h-17.3zM363.4 637.6h17.3v11.0h-17.3zM380.1 980.6h17.3v11.3h-17.3zM380.1 820.5h17.3v11.3h-17.3zM380.1 692.4h17.3v11.3h-17.3zM380.1 660.4h17.3v11.3h-17.3zM380.1 649.7h17.3v11.3h-17.3zM396.9 974.5h17.3v10.8h-17.3zM396.9 882.4h17.3v10.8h-17.3zM396.9 636.8h17.3v10.8h-17.3zM413.6 948.0h17.3v11.3h-17.3zM413.6 862.2h17.3v11.3h-17.3zM413.6 830.1h17.3v11.3h-17.3zM413.6 797.9h17.3v11.3h-17.3zM413.6 658.5h17.3v11.3h-17.3zM430.3 990.1h17.3v11.5h-17.3zM430.3 913.6h17.3v11.5h-17.3zM430.3 848.1h17.3v11.5h-17.3zM430.3 837.2h17.3v11.5h-17.3zM447.0 908.4h17.3v10.7h-17.3zM463.7 903.6h17.3v11.5h-17.3zM463.7 805.9h17.3v11.5h-17.3zM463.7 675.5h17.3v11.5h-17.3zM480.5 813.9h17.3v10.5h-17.3zM480.5 794.0h17.3v10.5h-17.3zM480.5 664.8h17.3v10.5h-17.3zM497.2 891.8h17.3v11.5h-17.3zM497.2 870.1h17.3v11.5h-17.3zM497.2 826.6h17.3v11.5h-17.3zM497.2 685.4h17.3v11.5h-17.3zM497.2 663.6h17.3v11.5h-17.3zM513.9 887.1h17.3v11.6h-17.3zM513.9 832.3h17.3v11.6h-17.3zM530.6 867.3h17.3v10.8h-17.3zM530.6 672.9h17.3v10.8h-17.3zM530.6 662.7h17.3v10.8h-17.3zM564.1 750.1h17.3v10.9h-17.3zM564.1 709.1h17.3v10.9h-17.3zM580.8 906.2h6.8v11.3h-6.8zM580.8 895.5h6.8v11.3h-6.8zM580.8 863.3h6.8v11.3h-6.8zM580.8 841.8h6.8v11.3h-6.8z"/>
<path fill="#e8e8ff" d="M90.1 808.2h6.4v10.6h-6.4zM90.1 778.2h6.4v10.6h-6.4zM95.9 885.8h17.3v11.3h-17.3zM112.6 977.0h17.3v10.7h-17.3zM112.6 946.7h17.3v10.7h-17.3zM112.6 876.0h17.3v10.7h-17.3zM112.6 845.7h17.3v10.7h-17.3zM129.3 1001.4h17.3v11.0h-17.3zM129.3 886.9h17.3v11.0h-17.3zM129.3 855.7h17.3v11.0h-17.3zM146.1 1001.1h17.3v11.3h-17.3zM146.1 958.4h17.3v11.3h-17.3zM146.1 937.1h17.3v11.3h-17.3zM146.1 915.8h17.3v11.3h-17.3zM146.1 819.9h17.3v11.3h-17.3zM162.8 1005.5h17.3v11.5h-17.3zM162.8 994.6h17.3v11.5h-17.3zM162.8 918.1h17.3v11.5h-17.3zM179.5 943.2h17.3v11.5h-17.3zM179.5 899.6h17.3v11.5h-17.3zM179.5 638.2h17.3v11.5h-17.3zM196.2 900.6h17.3v11.3h-17.3zM196.2 889.8h17.3v11.3h-17.3zM196.2 664.2h17.3v11.3h-17.3zM196.2 642.7h17.3v11.3h-17.3zM212.9 998.7h17.3v11.6h-17.3zM212.9 932.9h17.3v11.6h-17.3zM212.9 899.9h17.3v11.6h-17.3zM229.7 870.8h17.3v10.9h-17.3zM229.7 736.4h17.3v10.9h-17.3zM229.7 674.3h17.3v10.9h-17.3zM246.4 976.6h17.3v10.7h-17.3zM246.4 946.4h17.3v10.7h-17.3zM246.4 865.9h17.3v10.7h-17.3zM263.1 988.4h17.3v10.7h-17.3zM263.1 928.0h17.3v10.7h-17.3zM263.1 857.4h17.3v10.7h-17.3zM279.8 876.8h17.3v11.0h-17.3zM279.8 721.0h17.3v11.0h-17.3zM296.5 843.8h17.3v10.7h-17.3zM296.5 671.4h17.3v10.7h-17.3zM330.0 869.9h17.3v11.6h-17.3zM330.0 826.0h17.3v11.6h-17.3zM330.0 683.4h17.3v11.6h-17.3zM346.7 872.6h17.3v11.2h-17.3zM363.4 793.7h17.3v11.0h-17.3zM380.1 970.0h17.3v11.3h-17.3zM396.9 1005.2h17.3v10.8h-17.3zM396.9 995.0h17.3v10.8h-17.3zM396.9 964.3h17.3v10.8h-17.3zM396.9 831.2h17.3v10.8h-17.3zM396.9 810.8h17.3v10.8h-17.3zM396.9 790.3h17.3v10.8h-17.3zM396.9 780.1h17.3v10.8h-17.3zM396.9 657.3h17.3v10.8h-17.3zM413.6 937.3h17.3v11.3h-17.3zM413.6 894.4h17.3v11.3h-17.3zM413.6 883.7h17.3v11.3h-17.3zM430.3 782.6h17.3v11.5h-17.3zM447.0 979.2h17.3v10.7h-17.3zM447.0 918.5h17.3v10.7h-17.3zM447.0 807.2h17.3v10.7h-17.3zM447.0 776.9h17.3v10.7h-17.3zM480.5 863.6h17.3v10.5h-17.3zM497.2 913.5h17.3v11.5h-17.3zM497.2 848.4h17.3v11.5h-17.3zM497.2 815.8h17.3v11.5h-17.3zM513.9 843.3h17.3v11.6h-17.3zM530.6 877.5h17.3v10.8h-17.3zM547.3 709.6h17.3v11.4h-17.3zM564.1 688.5h17.3v10.9h-17.3z"/>
<path fill="#a3a3ff" d="M90.1 768.2h6.4v10.6h-6.4zM95.9 982.3h17.3v11.3h-17.3zM146.1 692.0h17.3v11.3h-17.3zM263.1 736.5h17.3v10.7h-17.3zM346.7 787.6h17.3v11.2h-17.3zM396.9 769.8h17.3v10.8h-17.3zM447.0 766.8h17.3v10.7h-17.3zM447.0 685.9h17.3v10.7h-17.3zM480.5 714.5h17.3v10.5h-17.3zM530.6 816.1h17.3v10.8h-17.3zM564.1 678.3h17.3v10.9h-17.3zM580.8 756.0h6.8v11.3h-6.8z"/>
<path fill="#5e5eff" d="M90.1 758.1h6.4v10.6h-6.4zM129.3 730.9h17.3v11.0h-17.3zM129.3 668.4h17.3v11.0h-17.3zM146.1 798.5h17.3v11.3h-17.3zM430.3 695.2h17.3v11.5h-17.3zM497.2 718.0h17.3v11.5h-17.3z"/>
<path fill="#000000" d="M90.1 748.1h6.4v10.6h-6.4zM95.9 735.6h17.3v11.3h-17.3zM112.6 744.8h17.3v10.7h-17.3zM129.3 762.1h17.3v11.0h-17.3zM146.1 777.2h17.3v11.3h-17.3zM146.1 755.9h17.3v11.3h-17.3zM162.8 787.1h17.3v11.5h-17.3zM162.8 776.2h17.3v11.5h-17.3zM179.5 790.7h17.3v11.5h-17.3zM196.2 803.9h17.3v11.3h-17.3zM196.2 793.1h17.3v11.3h-17.3zM196.2 782.4h17.3v11.3h-17.3zM212.9 812.0h17.3v11.6h-17.3zM229.7 819.1h17.3v10.9h-17.3zM229.7 808.7h17.3v10.9h-17.3zM229.7 788.1h17.3v10.9h-17.3zM246.4 815.6h17.3v10.7h-17.3zM263.1 817.1h17.3v10.7h-17.3zM263.1 807.0h17.3v10.7h-17.3zM279.8 814.5h17.3v11.0h-17.3zM296.5 803.2h17.3v10.7h-17.3zM313.3 791.3h17.3v11.4h-17.3zM330.0 771.2h17.3v11.6h-17.3zM330.0 760.2h17.3v11.6h-17.3zM346.7 766.3h17.3v11.2h-17.3zM346.7 755.7h17.3v11.2h-17.3zM363.4 752.1h17.3v11.0h-17.3zM380.1 756.4h17.3v11.3h-17.3zM380.1 745.8h17.3v11.3h-17.3zM396.9 749.4h17.3v10.8h-17.3zM396.9 739.1h17.3v10.8h-17.3zM396.9 728.9h17.3v10.8h-17.3zM430.3 749.8h17.3v11.5h-17.3zM430.3 738.9h17.3v11.5h-17.3zM447.0 746.6h17.3v10.7h-17.3zM463.7 751.6h17.3v11.5h-17.3zM463.7 740.7h17.3v11.5h-17.3zM480.5 764.2h17.3v10.5h-17.3zM480.5 754.3h17.3v10.5h-17.3zM497.2 772.3h17.3v11.5h-17.3zM497.2 761.4h17.3v11.5h-17.3zM513.9 777.5h17.3v11.6h-17.3zM513.9 766.5h17.3v11.6h-17.3zM530.6 795.7h17.3v10.8h-17.3zM530.6 785.5h17.3v10.8h-17.3zM530.6 775.2h17.3v10.8h-17.3zM547.3 795.9h17.3v11.4h-17.3zM547.3 785.1h17.3v11.4h-17.3zM564.1 811.7h17.3v10.9h-17.3zM564.1 801.5h17.3v10.9h-17.3zM580.8 820.4h6.8v11.3h-6.8zM580.8 798.9h6.8v11.3h-6.8z"/>
<path fill="#0000f1" d="M90.1 738.1h6.4v10.6h-6.4z"/>
<path fill="#0000ac" d="M90.1 728.1h6.4v10.6h-6.4zM530.6 754.8h17.3v10.8h-17.3z"/>
<path fill="#000097" d="M90.1 718.1h6.4v10.6h-6.4zM212.9 1009.7h17.3v11.6h-17.3zM296.5 793.1h17.3v10.7h-17.3zM513.9 755.6h17.3v11.6h-17.3z"/>
<path fill="#0000c1" d="M90.1 708.0h6.4v10.6h-6.4zM129.3 741.3h17.3v11.0h-17.3zM162.8 754.3h17.3v11.5h-17.3zM380.1 713.7h17.3v11.3h-17.3zM413.6 722.9h17.3v11.3h-17.3zM547.3 806.7h17.3v11.4h-17.3z"/>
<path fill="#3030ff" d="M90.1 698.0h6.4v10.6h-6.4zM112.6 643.8h17.3v10.7h-17.3zM229.7 777.7h17.3v10.9h-17.3zM564.1 760.4h17.3v10.9h-17.3z"/>
<path fill="#9c9cff" d="M90.1 678.0h6.4v10.6h-6.4zM112.6 653.9h17.3v10.7h-17.3zM229.7 839.7h17.3v10.9h-17.3zM480.5 674.7h17.3v10.5h-17.3zM497.2 728.8h17.3v11.5h-17.3zM513.9 799.4h17.3v11.6h-17.3zM513.9 722.7h17.3v11.6h-17.3zM547.3 817.5h17.3v11.4h-17.3zM564.1 893.8h17.3v10.9h-17.3z"/>
<path fill="#4f4fff" d="M90.1 658.0h6.4v10.6h-6.4zM246.4 805.5h17.3v10.7h-17.3zM263.1 776.8h17.3v10.7h-17.3z"/>
<path fill="#babaff" d="M90.1 647.9h6.4v10.6h-6.4zM95.9 1003.8h17.3v11.3h-17.3zM146.1 634.5h17.3v4.8h-17.3zM162.8 732.5h17.3v11.5h-17.3zM162.8 634.5h17.3v11.2h-17.3zM179.5 932.3h17.3v11.5h-17.3zM196.2 717.9h17.3v11.3h-17.3zM196.2 634.5h17.3v8.8h-17.3zM263.1 887.7h17.3v10.7h-17.3zM263.1 645.8h17.3v10.7h-17.3zM313.3 737.3h17.3v11.4h-17.3zM313.3 694.1h17.3v11.4h-17.3zM330.0 716.3h17.3v11.6h-17.3zM363.4 939.5h17.3v11.0h-17.3zM363.4 856.2h17.3v11.0h-17.3zM380.1 841.8h17.3v11.3h-17.3zM396.9 933.6h17.3v10.8h-17.3zM396.9 667.5h17.3v10.8h-17.3zM430.3 1001.0h17.3v11.5h-17.3zM430.3 804.4h17.3v11.5h-17.3zM447.0 948.8h17.3v10.7h-17.3zM447.0 837.6h17.3v10.7h-17.3zM447.0 675.8h17.3v10.7h-17.3zM463.7 838.4h17.3v11.5h-17.3zM463.7 784.1h17.3v11.5h-17.3zM463.7 686.4h17.3v11.5h-17.3zM497.2 794.0h17.3v11.5h-17.3zM497.2 696.2h17.3v11.5h-17.3zM547.3 720.4h17.3v11.4h-17.3zM580.8 734.5h6.8v11.3h-6.8zM580.8 702.3h6.8v11.3h-6.8z"/>
<path fill="#d1d1ff" d="M90.1 634.5h6.4v4.0h-6.4zM95.9 993.0h17.3v11.3h-17.3zM95.9 971.6h17.3v11.3h-17.3zM95.9 939.4h17.3v11.3h-17.3zM95.9 918.0h17.3v11.3h-17.3zM95.9 875.0h17.3v11.3h-17.3zM112.6 956.8h17.3v10.7h-17.3zM112.6 896.2h17.3v10.7h-17.3zM112.6 835.6h17.3v10.7h-17.3zM112.6 825.5h17.3v10.7h-17.3zM112.6 815.4h17.3v10.7h-17.3zM112.6 785.2h17.3v10.7h-17.3zM129.3 970.2h17.3v11.0h-17.3zM129.3 959.8h17.3v11.0h-17.3zM129.3 939.0h17.3v11.0h-17.3zM129.3 834.9h17.3v11.0h-17.3zM129.3 814.1h17.3v11.0h-17.3zM129.3 658.0h17.3v11.0h-17.3zM146.1 947.8h17.3v11.3h-17.3zM146.1 905.1h17.3v11.3h-17.3zM146.1 883.8h17.3v11.3h-17.3zM146.1 841.2h17.3v11.3h-17.3zM146.1 660.0h17.3v11.3h-17.3zM162.8 961.8h17.3v11.5h-17.3zM162.8 896.3h17.3v11.5h-17.3zM162.8 874.4h17.3v11.5h-17.3zM162.8 819.8h17.3v11.5h-17.3zM162.8 688.8h17.3v11.5h-17.3zM179.5 954.0h17.3v11.5h-17.3zM179.5 910.5h17.3v11.5h-17.3zM179.5 736.2h17.3v11.5h-17.3zM179.5 634.5h17.3v4.3h-17.3zM196.2 911.3h17.3v11.3h-17.3zM196.2 868.3h17.3v11.3h-17.3zM196.2 707.2h17.3v11.3h-17.3zM196.2 696.4h17.3v11.3h-17.3zM212.9 976.8h17.3v11.6h-17.3zM212.9 965.8h17.3v11.6h-17.3zM212.9 954.8h17.3v11.6h-17.3zM212.9 921.9h17.3v11.6h-17.3zM212.9 845.0h17.3v11.6h-17.3zM229.7 726.0h17.3v10.9h-17.3zM229.7 695.0h17.3v10.9h-17.3zM229.7 653.6h17.3v10.9h-17.3zM246.4 966.5h17.3v10.7h-17.3zM246.4 745.2h17.3v10.7h-17.3zM246.4 725.0h17.3v10.7h-17.3zM246.4 654.6h17.3v10.7h-17.3zM263.1 978.4h17.3v10.7h-17.3zM263.1 968.3h17.3v10.7h-17.3zM263.1 706.2h17.3v10.7h-17.3zM263.1 655.9h17.3v10.7h-17.3zM279.8 897.6h17.3v11.0h-17.3zM279.8 752.2h17.3v11.0h-17.3zM279.8 658.6h17.3v11.0h-17.3zM296.5 732.2h17.3v10.7h-17.3zM296.5 681.5h17.3v10.7h-17.3zM313.3 888.5h17.3v11.4h-17.3zM313.3 877.7h17.3v11.4h-17.3zM313.3 856.1h17.3v11.4h-17.3zM313.3 823.7h17.3v11.4h-17.3zM330.0 891.8h17.3v11.6h-17.3zM330.0 672.5h17.3v11.6h-17.3zM346.7 862.0h17.3v11.2h-17.3zM346.7 830.1h17.3v11.2h-17.3zM346.7 819.5h17.3v11.2h-17.3zM363.4 949.9h17.3v11.0h-17.3zM363.4 825.0h17.3v11.0h-17.3zM363.4 783.3h17.3v11.0h-17.3zM363.4 668.8h17.3v11.0h-17.3zM380.1 991.3h17.3v11.3h-17.3zM380.1 937.9h17.3v11.3h-17.3zM380.1 927.3h17.3v11.3h-17.3zM380.1 905.9h17.3v11.3h-17.3zM380.1 639.0h17.3v11.3h-17.3zM396.9 841.5h17.3v10.8h-17.3zM396.9 688.0h17.3v10.8h-17.3zM413.6 776.5h17.3v11.3h-17.3zM413.6 647.8h17.3v11.3h-17.3zM430.3 946.4h17.3v11.5h-17.3zM430.3 924.6h17.3v11.5h-17.3zM430.3 815.4h17.3v11.5h-17.3zM430.3 771.7h17.3v11.5h-17.3zM430.3 684.3h17.3v11.5h-17.3zM430.3 673.4h17.3v11.5h-17.3zM430.3 651.5h17.3v11.5h-17.3zM447.0 928.6h17.3v10.7h-17.3zM447.0 888.2h17.3v10.7h-17.3zM447.0 857.8h17.3v10.7h-17.3zM447.0 655.5h17.3v10.7h-17.3zM463.7 947.0h17.3v11.5h-17.3zM463.7 881.9h17.3v11.5h-17.3zM463.7 816.7h17.3v11.5h-17.3zM463.7 773.3h17.3v11.5h-17.3zM463.7 664.7h17.3v11.5h-17.3zM480.5 883.5h17.3v10.5h-17.3zM480.5 833.8h17.3v10.5h-17.3zM480.5 804.0h17.3v10.5h-17.3zM480.5 654.9h17.3v10.5h-17.3zM497.2 859.2h17.3v11.5h-17.3zM497.2 707.1h17.3v11.5h-17.3zM513.9 865.2h17.3v11.6h-17.3zM513.9 667.8h17.3v11.6h-17.3zM530.6 898.0h17.3v10.8h-17.3zM530.6 857.1h17.3v10.8h-17.3zM530.6 724.1h17.3v10.8h-17.3zM547.3 677.2h17.3v11.4h-17.3zM564.1 904.1h17.3v10.9h-17.3zM564.1 852.8h17.3v10.9h-17.3zM580.8 723.8h6.8v11.3h-6.8zM580.8 680.9h6.8v11.3h-6.8z"/>
<path fill="#0000a7" d="M95.9 1014.5h17.3v6.9h-17.3zM296.5 772.8h17.3v10.7h-17.3zM380.1 1012.7h17.3v8.7h-17.3zM413.6 1012.4h17.3v9.0h-17.3z"/>
<path fill="#b2b2ff" d="M95.9 950.1h17.3v11.3h-17.3zM95.9 810.7h17.3v11.3h-17.3zM112.6 987.1h17.3v10.7h-17.3zM162.8 710.6h17.3v11.5h-17.3zM162.8 677.9h17.3v11.5h-17.3zM162.8 645.1h17.3v11.5h-17.3zM179.5 725.3h17.3v11.5h-17.3zM196.2 750.1h17.3v11.3h-17.3zM196.2 685.7h17.3v11.3h-17.3zM212.9 757.1h17.3v11.6h-17.3zM212.9 658.3h17.3v11.6h-17.3zM229.7 850.1h17.3v10.9h-17.3zM263.1 746.6h17.3v10.7h-17.3zM296.5 661.3h17.3v10.7h-17.3zM330.0 705.4h17.3v11.6h-17.3zM346.7 691.8h17.3v11.2h-17.3zM363.4 658.4h17.3v11.0h-17.3zM396.9 647.0h17.3v10.8h-17.3zM413.6 690.7h17.3v11.3h-17.3zM430.3 870.0h17.3v11.5h-17.3zM447.0 938.7h17.3v10.7h-17.3zM463.7 914.5h17.3v11.5h-17.3zM463.7 892.7h17.3v11.5h-17.3zM463.7 697.3h17.3v11.5h-17.3zM513.9 700.7h17.3v11.6h-17.3zM513.9 678.8h17.3v11.6h-17.3zM530.6 826.4h17.3v10.8h-17.3zM530.6 703.6h17.3v10.8h-17.3zM547.3 742.0h17.3v11.4h-17.3zM547.3 698.8h17.3v11.4h-17.3zM564.1 719.3h17.3v10.9h-17.3zM580.8 852.6h6.8v11.3h-6.8z"/>
<path fill="#f0f0ff" d="M95.9 832.1h17.3v11.3h-17.3zM112.6 936.6h17.3v10.7h-17.3zM129.3 876.5h17.3v11.0h-17.3zM129.3 845.3h17.3v11.0h-17.3zM146.1 926.4h17.3v11.3h-17.3zM196.2 997.2h17.3v11.3h-17.3zM196.2 965.0h17.3v11.3h-17.3zM196.2 954.3h17.3v11.3h-17.3zM229.7 891.4h17.3v10.9h-17.3zM229.7 746.7h17.3v10.9h-17.3zM229.7 715.7h17.3v10.9h-17.3zM263.1 998.5h17.3v10.7h-17.3zM296.5 853.9h17.3v10.7h-17.3zM346.7 883.3h17.3v11.2h-17.3zM346.7 798.2h17.3v11.2h-17.3zM346.7 659.9h17.3v11.2h-17.3zM380.1 788.5h17.3v11.3h-17.3zM396.9 913.1h17.3v10.8h-17.3zM413.6 990.9h17.3v11.3h-17.3zM413.6 969.5h17.3v11.3h-17.3zM413.6 873.0h17.3v11.3h-17.3zM447.0 827.5h17.3v10.7h-17.3zM463.7 936.2h17.3v11.5h-17.3zM497.2 804.9h17.3v11.5h-17.3z"/>
<path fill="#00004d" d="M95.9 757.0h17.3v11.3h-17.3zM112.6 765.0h17.3v10.7h-17.3zM363.4 731.3h17.3v11.0h-17.3z"/>
<path fill="#000078" d="M95.9 746.3h17.3v11.3h-17.3zM112.6 734.7h17.3v10.7h-17.3zM263.1 1018.7h17.3v2.7h-17.3zM363.4 762.5h17.3v11.0h-17.3zM396.9 708.4h17.3v10.8h-17.3zM447.0 756.7h17.3v10.7h-17.3zM530.6 765.0h17.3v10.8h-17.3z"/>
<path fill="#0000cc" d="M95.9 724.9h17.3v11.3h-17.3zM95.9 714.1h17.3v11.3h-17.3zM179.5 768.9h17.3v11.5h-17.3zM179.5 758.0h17.3v11.5h-17.3z"/>
<path fill="#0000e1" d="M95.9 703.4h17.3v11.3h-17.3zM146.1 787.9h17.3v11.3h-17.3zM246.4 795.5h17.3v10.7h-17.3zM313.3 769.7h17.3v11.4h-17.3z"/>
<path fill="#2121ff" d="M95.9 692.7h17.3v11.3h-17.3zM430.3 706.1h17.3v11.5h-17.3zM463.7 708.1h17.3v11.5h-17.3z"/>
<path fill="#8c8cff" d="M95.9 682.0h17.3v11.3h-17.3zM112.6 634.5h17.3v9.9h-17.3zM129.3 689.2h17.3v11.0h-17.3zM129.3 634.5h17.3v3.3h-17.3zM330.0 727.3h17.3v11.6h-17.3zM363.4 700.1h17.3v11.0h-17.3zM413.6 669.2h17.3v11.3h-17.3zM430.3 760.7h17.3v11.5h-17.3zM530.6 805.9h17.3v10.8h-17.3zM580.8 831.1h6.8v11.3h-6.8zM580.8 766.7h6.8v11.3h-6.8z"/>
<path fill="#6666ff" d="M95.9 660.5h17.3v11.3h-17.3zM112.6 684.2h17.3v10.7h-17.3zM530.6 734.3h17.3v10.8h-17.3z"/>
<path fill="#9494ff" d="M95.9 649.8h17.3v11.3h-17.3zM129.3 647.6h17.3v11.0h-17.3zM212.9 746.1h17.3v11.6h-17.3zM212.9 636.3h17.3v11.6h-17.3zM229.7 767.4h17.3v10.9h-17.3zM279.8 762.5h17.3v11.0h-17.3zM547.3 752.8h17.3v11.4h-17.3z"/>
<path fill="#6e6eff" d="M95.9 634.5h17.3v5.1h-17.3zM112.6 714.5h17.3v10.7h-17.3zM112.6 704.4h17.3v10.7h-17.3zM179.5 747.1h17.3v11.5h-17.3zM246.4 775.3h17.3v10.7h-17.3zM296.5 762.7h17.3v10.7h-17.3zM380.1 703.1h17.3v11.3h-17.3zM463.7 719.0h17.3v11.5h-17.3z"/>
<path fill="#0000d1" d="M112.6 1017.4h17.3v4.0h-17.3zM146.1 745.3h17.3v11.3h-17.3zM313.3 758.9h17.3v11.4h-17.3zM430.3 1011.9h17.3v9.5h-17.3zM480.5 734.4h17.3v10.5h-17.3z"/>
<path fill="#5757ff" d="M112.6 775.1h17.3v10.7h-17.3zM212.9 768.1h17.3v11.6h-17.3zM246.4 785.4h17.3v10.7h-17.3zM263.1 837.3h17.3v10.7h-17.3zM564.1 822.0h17.3v10.9h-17.3z"/>
<path fill="#000087" d="M112.6 754.9h17.3v10.7h-17.3zM179.5 1019.4h17.3v2.0h-17.3zM196.2 814.6h17.3v11.3h-17.3z"/>
<path fill="#0000bc" d="M112.6 724.6h17.3v10.7h-17.3zM212.9 1020.7h17.3v0.7h-17.3zM330.0 738.3h17.3v11.6h-17.3z"/>
<path fill="#4040ff" d="M112.6 694.3h17.3v10.7h-17.3zM212.9 779.1h17.3v11.6h-17.3zM330.0 782.1h17.3v11.6h-17.3zM363.4 710.5h17.3v11.0h-17.3zM447.0 706.1h17.3v10.7h-17.3zM513.9 733.6h17.3v11.6h-17.3zM530.6 744.5h17.3v10.8h-17.3zM547.3 763.5h17.3v11.4h-17.3z"/>
<path fill="#00006d" d="M129.3 1011.8h17.3v9.6h-17.3zM129.3 772.5h17.3v11.0h-17.3zM330.0 749.2h17.3v11.6h-17.3zM396.9 718.7h17.3v10.8h-17.3zM580.8 777.5h6.8v11.3h-6.8z"/>
<path fill="#8585ff" d="M129.3 782.9h17.3v11.0h-17.3zM129.3 637.2h17.3v11.0h-17.3zM146.1 702.6h17.3v11.3h-17.3zM396.9 698.2h17.3v10.8h-17.3zM463.7 653.8h17.3v11.5h-17.3z"/>
<path fill="#0000b7" d="M129.3 751.7h17.3v11.0h-17.3zM212.9 801.1h17.3v11.6h-17.3zM463.7 729.8h17.3v11.5h-17.3zM480.5 744.3h17.3v10.5h-17.3zM564.1 770.7h17.3v10.9h-17.3z"/>
<path fill="#0000d7" d="M146.1 1011.7h17.3v9.7h-17.3zM229.7 798.4h17.3v10.9h-17.3z"/>
<path fill="#00003e" d="M146.1 766.6h17.3v11.3h-17.3z"/>
<path fill="#7575ff" d="M146.1 723.9h17.3v11.3h-17.3zM363.4 772.9h17.3v11.0h-17.3z"/>
<path fill="#0000b2" d="M162.8 1016.4h17.3v5.0h-17.3zM413.6 755.0h17.3v11.3h-17.3zM480.5 724.4h17.3v10.5h-17.3z"/>
<path fill="#00008d" d="M162.8 798.0h17.3v11.5h-17.3zM246.4 1016.8h17.3v4.6h-17.3zM580.8 788.2h6.8v11.3h-6.8z"/>
<path fill="#0000dc" d="M162.8 765.2h17.3v11.5h-17.3zM263.1 797.0h17.3v10.7h-17.3z"/>
<path fill="#0000f6" d="M162.8 743.4h17.3v11.5h-17.3zM196.2 771.6h17.3v11.3h-17.3zM296.5 813.4h17.3v10.7h-17.3z"/>
<path fill="#f7f7ff" d="M179.5 975.8h17.3v11.5h-17.3z"/>
<path fill="#000092" d="M179.5 801.6h17.3v11.5h-17.3zM480.5 774.1h17.3v10.5h-17.3zM564.1 791.2h17.3v10.9h-17.3z"/>
<path fill="#00005d" d="M179.5 779.8h17.3v11.5h-17.3z"/>
<path fill="#0000c7" d="M196.2 1018.7h17.3v2.7h-17.3zM279.8 783.3h17.3v11.0h-17.3zM346.7 776.9h17.3v11.2h-17.3z"/>
<path fill="#2929ff" d="M196.2 760.9h17.3v11.3h-17.3zM279.8 772.9h17.3v11.0h-17.3zM430.3 728.0h17.3v11.5h-17.3z"/>
<path fill="#4747ff" d="M212.9 823.0h17.3v11.6h-17.3zM313.3 748.1h17.3v11.4h-17.3z"/>
<path fill="#000062" d="M212.9 790.1h17.3v11.6h-17.3zM246.4 825.7h17.3v10.7h-17.3zM497.2 750.6h17.3v11.5h-17.3z"/>
<path fill="#0000a2" d="M229.7 1015.5h17.3v5.9h-17.3zM279.8 824.9h17.3v11.0h-17.3z"/>
<path fill="#000058" d="M229.7 829.4h17.3v10.9h-17.3z"/>
<path fill="#3838ff" d="M246.4 835.7h17.3v10.7h-17.3zM313.3 812.9h17.3v11.4h-17.3z"/>
<path fill="#1a1aff" d="M263.1 827.2h17.3v10.7h-17.3z"/>
<path fill="#1212ff" d="M263.1 786.9h17.3v10.7h-17.3zM279.8 793.7h17.3v11.0h-17.3zM296.5 782.9h17.3v10.7h-17.3zM313.3 802.1h17.3v11.4h-17.3z"/>
<path fill="#000043" d="M279.8 804.1h17.3v11.0h-17.3zM513.9 788.5h17.3v11.6h-17.3z"/>
<path fill="#000033" d="M313.3 780.5h17.3v11.4h-17.3zM447.0 716.2h17.3v10.7h-17.3zM463.7 762.4h17.3v11.5h-17.3z"/>
<path fill="#0303ff" d="M330.0 793.1h17.3v11.6h-17.3zM380.1 724.4h17.3v11.3h-17.3z"/>
<path fill="#0000e6" d="M346.7 745.0h17.3v11.2h-17.3zM346.7 723.7h17.3v11.2h-17.3zM447.0 736.4h17.3v10.7h-17.3z"/>
<path fill="#0000fb" d="M346.7 734.4h17.3v11.2h-17.3zM447.0 726.3h17.3v10.7h-17.3zM513.9 744.6h17.3v11.6h-17.3z"/>
<path fill="#00002e" d="M363.4 741.7h17.3v11.0h-17.3z"/>
<path fill="#00007d" d="M363.4 720.9h17.3v11.0h-17.3z"/>
<path fill="#0a0aff" d="M396.9 759.6h17.3v10.8h-17.3zM497.2 783.2h17.3v11.5h-17.3zM497.2 739.7h17.3v11.5h-17.3zM564.1 780.9h17.3v10.9h-17.3z"/>
<path fill="#0000ec" d="M413.6 733.6h17.3v11.3h-17.3z"/>
<path fill="#00009c" d="M413.6 712.1h17.3v11.3h-17.3zM447.0 1019.6h17.3v1.8h-17.3z"/>
<path fill="#000082" d="M413.6 701.4h17.3v11.3h-17.3z"/>
<path fill="#000072" d="M430.3 717.1h17.3v11.5h-17.3zM447.0 1009.5h17.3v10.7h-17.3zM580.8 809.7h6.8v11.3h-6.8z"/>
</g>
<path d="M78.2 425.8H88.7M78.2 315.1H88.7M78.2 204.3H88.7M78.2 93.6H88.7M83.2 370.4H88.7M83.2 259.7H88.7M83.2 148.9H88.7M83.2 38.2H88.7M88.7 425.8V436.3M130.2 425.8V431.3M171.7 425.8V436.3M213.2 425.8V431.3M254.6 425.8V436.3M296.1 425.8V431.3M337.6 425.8V436.3M379.1 425.8V431.3M420.6 425.8V436.3M462.1 425.8V431.3M503.5 425.8V436.3M545.0 425.8V431.3M586.5 425.8V436.3M88.7 38.2V27.7M254.6 38.2V27.7M420.6 38.2V27.7M586.5 38.2V27.7" stroke="#000" stroke-width="2.8" fill="none"/>
<rect x="88.7" y="38.2" width="497.8" height="387.6" fill="none" stroke="#000" stroke-width="3.0"/>
<g font-family='"Liberation Sans", Arial, Helvetica, sans-serif' font-size="28.5"><text x="69.7" y="434.4" text-anchor="end">0</text><text x="69.7" y="323.7" text-anchor="end">1</text><text x="69.7" y="212.9" text-anchor="end">2</text><text x="69.7" y="102.2" text-anchor="end">3</text><text x="88.7" y="464.8" text-anchor="middle">0.0</text><text x="171.7" y="464.8" text-anchor="middle">0.5</text><text x="254.6" y="464.8" text-anchor="middle">1.0</text><text x="337.6" y="464.8" text-anchor="middle">1.5</text><text x="420.6" y="464.8" text-anchor="middle">2.0</text><text x="503.5" y="464.8" text-anchor="middle">2.5</text><text x="579.5" y="464.8" text-anchor="middle">3.0</text></g>
<text x="93.6" y="19" text-anchor="middle" font-family='"Liberation Serif", "Times New Roman", serif' font-size="27" textLength="71.0" lengthAdjust="spacingAndGlyphs">(<tspan font-family='"Liberation Sans", Arial, Helvetica, sans-serif' font-size="25.5">0</tspan>,<tspan font-family='"Liberation Sans", Arial, Helvetica, sans-serif' font-size="25.5">0</tspan>,<tspan font-style="italic">π</tspan>)</text>
<text x="256" y="19" text-anchor="middle" font-family='"Liberation Serif", "Times New Roman", serif' font-size="27" textLength="69.4" lengthAdjust="spacingAndGlyphs">(<tspan font-style="italic">π</tspan>,<tspan font-style="italic">π</tspan>,<tspan font-style="italic">π</tspan>)</text>
<text x="430" y="19" text-anchor="middle" font-family='"Liberation Serif", "Times New Roman", serif' font-size="27" textLength="97.4" lengthAdjust="spacingAndGlyphs">(<tspan font-family='"Liberation Sans", Arial, Helvetica, sans-serif' font-size="25.5">2</tspan><tspan font-style="italic">π</tspan>,<tspan font-family='"Liberation Sans", Arial, Helvetica, sans-serif' font-size="25.5">2</tspan><tspan font-style="italic">π</tspan>,<tspan font-style="italic">π</tspan>)</text>
<text x="588.8" y="19" text-anchor="middle" font-family='"Liberation Serif", "Times New Roman", serif' font-size="27" textLength="96.6" lengthAdjust="spacingAndGlyphs">(<tspan font-family='"Liberation Sans", Arial, Helvetica, sans-serif' font-size="25.5">3</tspan><tspan font-style="italic">π</tspan>,<tspan font-family='"Liberation Sans", Arial, Helvetica, sans-serif' font-size="25.5">3</tspan><tspan font-style="italic">π</tspan>,<tspan font-style="italic">π</tspan>)</text>
<text x="337.6" y="515.3" text-anchor="middle" font-family='"Liberation Sans", Arial, Helvetica, sans-serif' font-size="36">[<tspan font-style="italic">H</tspan> 0 0.5] (r.l.u.)</text>
<text transform="translate(39.7 232.0) rotate(-90)" text-anchor="middle" font-family='"Liberation Sans", Arial, Helvetica, sans-serif' font-size="36">Energy (meV)</text>
<path d="M713.6 432.6H724.1M713.6 320.2H724.1M713.6 207.7H724.1M713.6 95.3H724.1M718.6 376.4H724.1M718.6 264.0H724.1M718.6 151.5H724.1M718.6 39.1H724.1M724.1 432.6V443.1M766.2 432.6V438.1M808.4 432.6V443.1M850.5 432.6V438.1M892.6 432.6V443.1M934.8 432.6V438.1M976.9 432.6V443.1M1019.0 432.6V438.1M1061.2 432.6V443.1M1103.3 432.6V438.1M1145.4 432.6V443.1M1187.6 432.6V438.1M1229.7 432.6V443.1M724.1 39.1V28.6M892.6 39.1V28.6M1061.2 39.1V28.6M1229.7 39.1V28.6" stroke="#000" stroke-width="2.8" fill="none"/>
<rect x="724.1" y="39.1" width="505.6" height="393.5" fill="none" stroke="#000" stroke-width="3.0"/>
<g font-family='"Liberation Sans", Arial, Helvetica, sans-serif' font-size="28.5"><text x="705.1" y="441.2" text-anchor="end">0</text><text x="705.1" y="328.8" text-anchor="end">1</text><text x="705.1" y="216.3" text-anchor="end">2</text><text x="705.1" y="103.9" text-anchor="end">3</text><text x="724.1" y="472.6" text-anchor="middle">0.0</text><text x="808.4" y="472.6" text-anchor="middle">0.5</text><text x="892.6" y="472.6" text-anchor="middle">1.0</text><text x="976.9" y="472.6" text-anchor="middle">1.5</text><text x="1061.2" y="472.6" text-anchor="middle">2.0</text><text x="1145.4" y="472.6" text-anchor="middle">2.5</text><text x="1229.7" y="472.6" text-anchor="middle">3.0</text></g>
<text x="732.5" y="19" text-anchor="middle" font-family='"Liberation Serif", "Times New Roman", serif' font-size="27" textLength="71.8" lengthAdjust="spacingAndGlyphs">(<tspan font-family='"Liberation Sans", Arial, Helvetica, sans-serif' font-size="25.5">0</tspan>,<tspan font-family='"Liberation Sans", Arial, Helvetica, sans-serif' font-size="25.5">0</tspan>,<tspan font-style="italic">π</tspan>)</text>
<text x="895" y="19" text-anchor="middle" font-family='"Liberation Serif", "Times New Roman", serif' font-size="27" textLength="69.3" lengthAdjust="spacingAndGlyphs">(<tspan font-style="italic">π</tspan>,<tspan font-style="italic">π</tspan>,<tspan font-style="italic">π</tspan>)</text>
<text x="1068.7" y="19" text-anchor="middle" font-family='"Liberation Serif", "Times New Roman", serif' font-size="27" textLength="96.7" lengthAdjust="spacingAndGlyphs">(<tspan font-family='"Liberation Sans", Arial, Helvetica, sans-serif' font-size="25.5">2</tspan><tspan font-style="italic">π</tspan>,<tspan font-family='"Liberation Sans", Arial, Helvetica, sans-serif' font-size="25.5">2</tspan><tspan font-style="italic">π</tspan>,<tspan font-style="italic">π</tspan>)</text>
<text x="1227.7" y="19" text-anchor="middle" font-family='"Liberation Serif", "Times New Roman", serif' font-size="27" textLength="95.8" lengthAdjust="spacingAndGlyphs">(<tspan font-family='"Liberation Sans", Arial, Helvetica, sans-serif' font-size="25.5">3</tspan><tspan font-style="italic">π</tspan>,<tspan font-family='"Liberation Sans", Arial, Helvetica, sans-serif' font-size="25.5">3</tspan><tspan font-style="italic">π</tspan>,<tspan font-style="italic">π</tspan>)</text>
<text x="976.9" y="522.1" text-anchor="middle" font-family='"Liberation Sans", Arial, Helvetica, sans-serif' font-size="36">[<tspan font-style="italic">H</tspan> 0 0.5] (r.l.u.)</text>
<text transform="translate(675.1 235.9) rotate(-90)" text-anchor="middle" font-family='"Liberation Sans", Arial, Helvetica, sans-serif' font-size="36">Energy (meV)</text>
<path d="M1360.8 430.3H1371.3M1360.8 318.0H1371.3M1360.8 205.6H1371.3M1360.8 93.3H1371.3M1365.8 374.1H1371.3M1365.8 261.8H1371.3M1365.8 149.4H1371.3M1365.8 37.1H1371.3M1371.3 430.3V440.8M1413.4 430.3V435.8M1455.5 430.3V440.8M1497.6 430.3V435.8M1539.7 430.3V440.8M1581.8 430.3V435.8M1623.8 430.3V440.8M1665.9 430.3V435.8M1708.0 430.3V440.8M1750.1 430.3V435.8M1792.2 430.3V440.8M1834.3 430.3V435.8M1876.4 430.3V440.8M1371.3 37.1V26.6M1539.7 37.1V26.6M1708.0 37.1V26.6M1876.4 37.1V26.6" stroke="#000" stroke-width="2.8" fill="none"/>
<rect x="1371.3" y="37.1" width="505.1" height="393.2" fill="none" stroke="#000" stroke-width="3.0"/>
<g font-family='"Liberation Sans", Arial, Helvetica, sans-serif' font-size="28.5"><text x="1352.3" y="438.9" text-anchor="end">0</text><text x="1352.3" y="326.6" text-anchor="end">1</text><text x="1352.3" y="214.2" text-anchor="end">2</text><text x="1352.3" y="101.9" text-anchor="end">3</text><text x="1371.3" y="470.3" text-anchor="middle">0.0</text><text x="1455.5" y="470.3" text-anchor="middle">0.5</text><text x="1539.7" y="470.3" text-anchor="middle">1.0</text><text x="1623.8" y="470.3" text-anchor="middle">1.5</text><text x="1708.0" y="470.3" text-anchor="middle">2.0</text><text x="1792.2" y="470.3" text-anchor="middle">2.5</text><text x="1876.4" y="470.3" text-anchor="middle">3.0</text></g>
<text x="1374.7" y="19" text-anchor="middle" font-family='"Liberation Serif", "Times New Roman", serif' font-size="27" textLength="71.9" lengthAdjust="spacingAndGlyphs">(<tspan font-family='"Liberation Sans", Arial, Helvetica, sans-serif' font-size="25.5">0</tspan>,<tspan font-family='"Liberation Sans", Arial, Helvetica, sans-serif' font-size="25.5">0</tspan>,<tspan font-style="italic">π</tspan>)</text>
<text x="1537.3" y="19" text-anchor="middle" font-family='"Liberation Serif", "Times New Roman", serif' font-size="27" textLength="69.4" lengthAdjust="spacingAndGlyphs">(<tspan font-style="italic">π</tspan>,<tspan font-style="italic">π</tspan>,<tspan font-style="italic">π</tspan>)</text>
<text x="1710.6" y="19" text-anchor="middle" font-family='"Liberation Serif", "Times New Roman", serif' font-size="27" textLength="97.3" lengthAdjust="spacingAndGlyphs">(<tspan font-family='"Liberation Sans", Arial, Helvetica, sans-serif' font-size="25.5">2</tspan><tspan font-style="italic">π</tspan>,<tspan font-family='"Liberation Sans", Arial, Helvetica, sans-serif' font-size="25.5">2</tspan><tspan font-style="italic">π</tspan>,<tspan font-style="italic">π</tspan>)</text>
<text x="1869.5" y="19" text-anchor="middle" font-family='"Liberation Serif", "Times New Roman", serif' font-size="27" textLength="96.7" lengthAdjust="spacingAndGlyphs">(<tspan font-family='"Liberation Sans", Arial, Helvetica, sans-serif' font-size="25.5">3</tspan><tspan font-style="italic">π</tspan>,<tspan font-family='"Liberation Sans", Arial, Helvetica, sans-serif' font-size="25.5">3</tspan><tspan font-style="italic">π</tspan>,<tspan font-style="italic">π</tspan>)</text>
<text x="1623.8" y="519.8" text-anchor="middle" font-family='"Liberation Sans", Arial, Helvetica, sans-serif' font-size="36">[<tspan font-style="italic">H</tspan> 0 0.5] (r.l.u.)</text>
<text transform="translate(1322.3 233.7) rotate(-90)" text-anchor="middle" font-family='"Liberation Sans", Arial, Helvetica, sans-serif' font-size="36">Energy (meV)</text>
<path d="M79.6 1020.8H90.1M79.6 910.4H90.1M79.6 800.1H90.1M79.6 689.7H90.1M84.6 965.6H90.1M84.6 855.2H90.1M84.6 744.9H90.1M84.6 634.5H90.1M90.1 1020.8V1031.3M172.9 1020.8V1026.3M255.7 1020.8V1031.3M338.5 1020.8V1026.3M421.4 1020.8V1031.3M504.2 1020.8V1026.3M587.0 1020.8V1031.3M90.1 634.5V624.0M255.7 634.5V624.0M421.4 634.5V624.0M587.0 634.5V624.0" stroke="#000" stroke-width="2.8" fill="none"/>
<rect x="90.1" y="634.5" width="496.9" height="386.3" fill="none" stroke="#000" stroke-width="3.0"/>
<g font-family='"Liberation Sans", Arial, Helvetica, sans-serif' font-size="28.5"><text x="71.1" y="1029.4" text-anchor="end">0</text><text x="71.1" y="919.0" text-anchor="end">1</text><text x="71.1" y="808.7" text-anchor="end">2</text><text x="71.1" y="698.3" text-anchor="end">3</text><text x="90.1" y="1060.8" text-anchor="middle">0.0</text><text x="255.7" y="1060.8" text-anchor="middle">0.5</text><text x="421.4" y="1060.8" text-anchor="middle">1.0</text><text x="587.0" y="1057.3" text-anchor="middle">1.5</text></g>
<text x="99.2" y="611.5" text-anchor="middle" font-family='"Liberation Serif", "Times New Roman", serif' font-size="27" textLength="71.0" lengthAdjust="spacingAndGlyphs">(<tspan font-family='"Liberation Sans", Arial, Helvetica, sans-serif' font-size="25.5">0</tspan>,<tspan font-family='"Liberation Sans", Arial, Helvetica, sans-serif' font-size="25.5">0</tspan>,<tspan font-style="italic">π</tspan>)</text>
<text x="262.7" y="611.5" text-anchor="middle" font-family='"Liberation Serif", "Times New Roman", serif' font-size="27" textLength="70.3" lengthAdjust="spacingAndGlyphs">(<tspan font-family='"Liberation Sans", Arial, Helvetica, sans-serif' font-size="25.5">0</tspan>,<tspan font-style="italic">π</tspan>,<tspan font-style="italic">π</tspan>)</text>
<text x="428.7" y="611.5" text-anchor="middle" font-family='"Liberation Serif", "Times New Roman", serif' font-size="27" textLength="84.3" lengthAdjust="spacingAndGlyphs">(<tspan font-family='"Liberation Sans", Arial, Helvetica, sans-serif' font-size="25.5">0</tspan>,<tspan font-family='"Liberation Sans", Arial, Helvetica, sans-serif' font-size="25.5">2</tspan><tspan font-style="italic">π</tspan>,<tspan font-style="italic">π</tspan>)</text>
<text x="588.5" y="611.5" text-anchor="middle" font-family='"Liberation Serif", "Times New Roman", serif' font-size="27" textLength="83.7" lengthAdjust="spacingAndGlyphs">(<tspan font-family='"Liberation Sans", Arial, Helvetica, sans-serif' font-size="25.5">0</tspan>,<tspan font-family='"Liberation Sans", Arial, Helvetica, sans-serif' font-size="25.5">3</tspan><tspan font-style="italic">π</tspan>,<tspan font-style="italic">π</tspan>)</text>
<text x="338.6" y="1110.3" text-anchor="middle" font-family='"Liberation Sans", Arial, Helvetica, sans-serif' font-size="36">[<tspan font-style="italic">H H</tspan> 0.5] (r.l.u.)</text>
<text transform="translate(41.1 827.6) rotate(-90)" text-anchor="middle" font-family='"Liberation Sans", Arial, Helvetica, sans-serif' font-size="36">Energy (meV)</text>
<path d="M714.3 1023.5H724.8M714.3 912.0H724.8M714.3 800.5H724.8M714.3 689.0H724.8M719.3 967.7H724.8M719.3 856.2H724.8M719.3 744.7H724.8M719.3 633.2H724.8M724.8 1023.5V1034.0M808.4 1023.5V1029.0M892.1 1023.5V1034.0M975.7 1023.5V1029.0M1059.3 1023.5V1034.0M1143.0 1023.5V1029.0M1226.6 1023.5V1034.0M724.8 633.2V622.7M892.1 633.2V622.7M1059.3 633.2V622.7M1226.6 633.2V622.7" stroke="#000" stroke-width="2.8" fill="none"/>
<rect x="724.8" y="633.2" width="501.8" height="390.3" fill="none" stroke="#000" stroke-width="3.0"/>
<g font-family='"Liberation Sans", Arial, Helvetica, sans-serif' font-size="28.5"><text x="705.8" y="1032.1" text-anchor="end">0</text><text x="705.8" y="920.6" text-anchor="end">1</text><text x="705.8" y="809.1" text-anchor="end">2</text><text x="705.8" y="697.6" text-anchor="end">3</text><text x="724.8" y="1063.5" text-anchor="middle">0.0</text><text x="892.1" y="1063.5" text-anchor="middle">0.5</text><text x="1059.3" y="1063.5" text-anchor="middle">1.0</text><text x="1226.6" y="1063.5" text-anchor="middle">1.5</text></g>
<text x="730.2" y="611.5" text-anchor="middle" font-family='"Liberation Serif", "Times New Roman", serif' font-size="27" textLength="71.6" lengthAdjust="spacingAndGlyphs">(<tspan font-family='"Liberation Sans", Arial, Helvetica, sans-serif' font-size="25.5">0</tspan>,<tspan font-family='"Liberation Sans", Arial, Helvetica, sans-serif' font-size="25.5">0</tspan>,<tspan font-family="DejaVu Sans" font-size="21.6">⊠</tspan>)</text>
<text x="893.2" y="611.5" text-anchor="middle" font-family='"Liberation Serif", "Times New Roman", serif' font-size="27" textLength="70.0" lengthAdjust="spacingAndGlyphs">(<tspan font-family='"Liberation Sans", Arial, Helvetica, sans-serif' font-size="25.5">0</tspan>,<tspan font-style="italic">π</tspan>,<tspan font-style="italic">π</tspan>)</text>
<text x="1059.1" y="611.5" text-anchor="middle" font-family='"Liberation Serif", "Times New Roman", serif' font-size="27" textLength="83.6" lengthAdjust="spacingAndGlyphs">(<tspan font-family='"Liberation Sans", Arial, Helvetica, sans-serif' font-size="25.5">0</tspan>,<tspan font-family='"Liberation Sans", Arial, Helvetica, sans-serif' font-size="25.5">2</tspan><tspan font-style="italic">π</tspan>,<tspan font-style="italic">π</tspan>)</text>
<text x="1218.4" y="611.5" text-anchor="middle" font-family='"Liberation Serif", "Times New Roman", serif' font-size="27" textLength="83.3" lengthAdjust="spacingAndGlyphs">(<tspan font-family='"Liberation Sans", Arial, Helvetica, sans-serif' font-size="25.5">0</tspan>,<tspan font-family='"Liberation Sans", Arial, Helvetica, sans-serif' font-size="25.5">3</tspan><tspan font-style="italic">π</tspan>,<tspan font-style="italic">π</tspan>)</text>
<text x="975.7" y="1113.0" text-anchor="middle" font-family='"Liberation Sans", Arial, Helvetica, sans-serif' font-size="36">[<tspan font-style="italic">H H</tspan> 0.5] (r.l.u.)</text>
<text transform="translate(675.8 828.4) rotate(-90)" text-anchor="middle" font-family='"Liberation Sans", Arial, Helvetica, sans-serif' font-size="36">Energy (meV)</text>
<path d="M1363.9 1023.7H1374.4M1363.9 912.0H1374.4M1363.9 800.4H1374.4M1363.9 688.7H1374.4M1368.9 967.9H1374.4M1368.9 856.2H1374.4M1368.9 744.6H1374.4M1368.9 632.9H1374.4M1374.4 1023.7V1034.2M1458.1 1023.7V1029.2M1541.8 1023.7V1034.2M1625.6 1023.7V1029.2M1709.3 1023.7V1034.2M1793.0 1023.7V1029.2M1876.7 1023.7V1034.2M1374.4 632.9V622.4M1541.8 632.9V622.4M1709.3 632.9V622.4M1876.7 632.9V622.4" stroke="#000" stroke-width="2.8" fill="none"/>
<rect x="1374.4" y="632.9" width="502.3" height="390.8" fill="none" stroke="#000" stroke-width="3.0"/>
<g font-family='"Liberation Sans", Arial, Helvetica, sans-serif' font-size="28.5"><text x="1355.4" y="1032.3" text-anchor="end">0</text><text x="1355.4" y="920.6" text-anchor="end">1</text><text x="1355.4" y="809.0" text-anchor="end">2</text><text x="1355.4" y="697.3" text-anchor="end">3</text><text x="1374.4" y="1063.7" text-anchor="middle">0.0</text><text x="1541.8" y="1063.7" text-anchor="middle">0.5</text><text x="1709.3" y="1063.7" text-anchor="middle">1.0</text><text x="1876.7" y="1063.7" text-anchor="middle">1.5</text></g>
<text x="1382.7" y="611.5" text-anchor="middle" font-family='"Liberation Serif", "Times New Roman", serif' font-size="27" textLength="70.9" lengthAdjust="spacingAndGlyphs">(<tspan font-family='"Liberation Sans", Arial, Helvetica, sans-serif' font-size="25.5">0</tspan>,<tspan font-family='"Liberation Sans", Arial, Helvetica, sans-serif' font-size="25.5">0</tspan>,<tspan font-style="italic">π</tspan>)</text>
<text x="1546" y="611.5" text-anchor="middle" font-family='"Liberation Serif", "Times New Roman", serif' font-size="27" textLength="69.4" lengthAdjust="spacingAndGlyphs">(<tspan font-family='"Liberation Sans", Arial, Helvetica, sans-serif' font-size="25.5">0</tspan>,<tspan font-style="italic">π</tspan>,<tspan font-style="italic">π</tspan>)</text>
<text x="1712" y="611.5" text-anchor="middle" font-family='"Liberation Serif", "Times New Roman", serif' font-size="27" textLength="83.3" lengthAdjust="spacingAndGlyphs">(<tspan font-family='"Liberation Sans", Arial, Helvetica, sans-serif' font-size="25.5">0</tspan>,<tspan font-family='"Liberation Sans", Arial, Helvetica, sans-serif' font-size="25.5">2</tspan><tspan font-style="italic">π</tspan>,<tspan font-style="italic">π</tspan>)</text>
<text x="1871.5" y="611.5" text-anchor="middle" font-family='"Liberation Serif", "Times New Roman", serif' font-size="27" textLength="83.4" lengthAdjust="spacingAndGlyphs">(<tspan font-family='"Liberation Sans", Arial, Helvetica, sans-serif' font-size="25.5">0</tspan>,<tspan font-family='"Liberation Sans", Arial, Helvetica, sans-serif' font-size="25.5">3</tspan><tspan font-style="italic">π</tspan>,<tspan font-style="italic">π</tspan>)</text>
<text x="1625.6" y="1113.2" text-anchor="middle" font-family='"Liberation Sans", Arial, Helvetica, sans-serif' font-size="36">[<tspan font-style="italic">H H</tspan> 0.5] (r.l.u.)</text>
<text transform="translate(1325.4 828.3) rotate(-90)" text-anchor="middle" font-family='"Liberation Sans", Arial, Helvetica, sans-serif' font-size="36">Energy (meV)</text>
<rect x="1903.0" y="422.28" width="17.0" height="7.12" fill="#fafaff"/>
<rect x="1903.0" y="415.75" width="17.0" height="7.12" fill="#f1f1ff"/>
<rect x="1903.0" y="409.23" width="17.0" height="7.12" fill="#e7e7ff"/>
<rect x="1903.0" y="402.70" width="17.0" height="7.12" fill="#dedeff"/>
<rect x="1903.0" y="396.18" width="17.0" height="7.12" fill="#d4d4ff"/>
<rect x="1903.0" y="389.65" width="17.0" height="7.12" fill="#cbcbff"/>
<rect x="1903.0" y="383.12" width="17.0" height="7.12" fill="#c2c2ff"/>
<rect x="1903.0" y="376.60" width="17.0" height="7.12" fill="#b8b8ff"/>
<rect x="1903.0" y="370.07" width="17.0" height="7.12" fill="#afafff"/>
<rect x="1903.0" y="363.55" width="17.0" height="7.12" fill="#a5a5ff"/>
<rect x="1903.0" y="357.02" width="17.0" height="7.12" fill="#9c9cff"/>
<rect x="1903.0" y="350.50" width="17.0" height="7.12" fill="#9292ff"/>
<rect x="1903.0" y="343.98" width="17.0" height="7.12" fill="#8989ff"/>
<rect x="1903.0" y="337.45" width="17.0" height="7.12" fill="#8080ff"/>
<rect x="1903.0" y="330.93" width="17.0" height="7.12" fill="#7676ff"/>
<rect x="1903.0" y="324.40" width="17.0" height="7.12" fill="#6d6dff"/>
<rect x="1903.0" y="317.88" width="17.0" height="7.12" fill="#6363ff"/>
<rect x="1903.0" y="311.35" width="17.0" height="7.12" fill="#5a5aff"/>
<rect x="1903.0" y="304.82" width="17.0" height="7.12" fill="#5050ff"/>
<rect x="1903.0" y="298.30" width="17.0" height="7.12" fill="#4747ff"/>
<rect x="1903.0" y="291.77" width="17.0" height="7.12" fill="#3d3dff"/>
<rect x="1903.0" y="285.25" width="17.0" height="7.12" fill="#3434ff"/>
<rect x="1903.0" y="278.73" width="17.0" height="7.12" fill="#2b2bff"/>
<rect x="1903.0" y="272.20" width="17.0" height="7.12" fill="#2121ff"/>
<rect x="1903.0" y="265.68" width="17.0" height="7.12" fill="#1818ff"/>
<rect x="1903.0" y="259.15" width="17.0" height="7.12" fill="#0e0eff"/>
<rect x="1903.0" y="252.62" width="17.0" height="7.12" fill="#0505ff"/>
<rect x="1903.0" y="246.10" width="17.0" height="7.12" fill="#0000fc"/>
<rect x="1903.0" y="239.57" width="17.0" height="7.12" fill="#0000f5"/>
<rect x="1903.0" y="233.05" width="17.0" height="7.12" fill="#0000ef"/>
<rect x="1903.0" y="226.53" width="17.0" height="7.12" fill="#0000e8"/>
<rect x="1903.0" y="220.00" width="17.0" height="7.12" fill="#0000e2"/>
<rect x="1903.0" y="213.47" width="17.0" height="7.12" fill="#0000db"/>
<rect x="1903.0" y="206.95" width="17.0" height="7.12" fill="#0000d5"/>
<rect x="1903.0" y="200.43" width="17.0" height="7.12" fill="#0000ce"/>
<rect x="1903.0" y="193.90" width="17.0" height="7.12" fill="#0000c8"/>
<rect x="1903.0" y="187.38" width="17.0" height="7.12" fill="#0000c1"/>
<rect x="1903.0" y="180.85" width="17.0" height="7.12" fill="#0000bb"/>
<rect x="1903.0" y="174.32" width="17.0" height="7.12" fill="#0000b4"/>
<rect x="1903.0" y="167.80" width="17.0" height="7.12" fill="#0000ae"/>
<rect x="1903.0" y="161.27" width="17.0" height="7.12" fill="#0000a7"/>
<rect x="1903.0" y="154.75" width="17.0" height="7.12" fill="#0000a1"/>
<rect x="1903.0" y="148.23" width="17.0" height="7.12" fill="#00009a"/>
<rect x="1903.0" y="141.70" width="17.0" height="7.12" fill="#000094"/>
<rect x="1903.0" y="135.18" width="17.0" height="7.12" fill="#00008d"/>
<rect x="1903.0" y="128.65" width="17.0" height="7.12" fill="#000086"/>
<rect x="1903.0" y="122.12" width="17.0" height="7.12" fill="#000080"/>
<rect x="1903.0" y="115.60" width="17.0" height="7.12" fill="#000079"/>
<rect x="1903.0" y="109.07" width="17.0" height="7.12" fill="#000073"/>
<rect x="1903.0" y="102.55" width="17.0" height="7.12" fill="#00006c"/>
<rect x="1903.0" y="96.02" width="17.0" height="7.12" fill="#000066"/>
<rect x="1903.0" y="89.50" width="17.0" height="7.12" fill="#00005f"/>
<rect x="1903.0" y="82.97" width="17.0" height="7.12" fill="#000059"/>
<rect x="1903.0" y="76.45" width="17.0" height="7.12" fill="#000052"/>
<rect x="1903.0" y="69.93" width="17.0" height="7.12" fill="#00004c"/>
<rect x="1903.0" y="63.40" width="17.0" height="7.12" fill="#000045"/>
<rect x="1903.0" y="56.88" width="17.0" height="7.12" fill="#00003f"/>
<rect x="1903.0" y="50.35" width="17.0" height="7.12" fill="#000038"/>
<rect x="1903.0" y="43.82" width="17.0" height="7.12" fill="#000032"/>
<rect x="1903.0" y="37.30" width="17.0" height="7.12" fill="#00002b"/>
<rect x="1901.4" y="35.7" width="20.2" height="394.7" fill="none" stroke="#000" stroke-width="3.2"/>
<path d="M1921.6 428.8h6.5M1921.6 368.2h6.5M1921.6 307.7h6.5M1921.6 247.1h6.5M1921.6 186.6h6.5M1921.6 126.0h6.5M1921.6 65.5h6.5" stroke="#000" stroke-width="2.8"/>
<g font-family='"Liberation Sans", Arial, Helvetica, sans-serif' font-size="21.0"><text x="1936.6" y="436.3" text-anchor="start">0</text><text x="1936.6" y="375.7" text-anchor="start">2</text><text x="1936.6" y="315.2" text-anchor="start">4</text><text x="1936.6" y="254.6" text-anchor="start">6</text><text x="1936.6" y="194.1" text-anchor="start">8</text><text x="1936.6" y="133.5" text-anchor="start">10</text><text x="1936.6" y="73.0" text-anchor="start">12</text></g>
<rect x="1905.0" y="1013.40" width="17.1" height="7.10" fill="#fafaff"/>
<rect x="1905.0" y="1006.90" width="17.1" height="7.10" fill="#f1f1ff"/>
<rect x="1905.0" y="1000.40" width="17.1" height="7.10" fill="#e7e7ff"/>
<rect x="1905.0" y="993.90" width="17.1" height="7.10" fill="#dedeff"/>
<rect x="1905.0" y="987.40" width="17.1" height="7.10" fill="#d4d4ff"/>
<rect x="1905.0" y="980.90" width="17.1" height="7.10" fill="#cbcbff"/>
<rect x="1905.0" y="974.40" width="17.1" height="7.10" fill="#c2c2ff"/>
<rect x="1905.0" y="967.90" width="17.1" height="7.10" fill="#b8b8ff"/>
<rect x="1905.0" y="961.40" width="17.1" height="7.10" fill="#afafff"/>
<rect x="1905.0" y="954.90" width="17.1" height="7.10" fill="#a5a5ff"/>
<rect x="1905.0" y="948.40" width="17.1" height="7.10" fill="#9c9cff"/>
<rect x="1905.0" y="941.90" width="17.1" height="7.10" fill="#9292ff"/>
<rect x="1905.0" y="935.40" width="17.1" height="7.10" fill="#8989ff"/>
<rect x="1905.0" y="928.90" width="17.1" height="7.10" fill="#8080ff"/>
<rect x="1905.0" y="922.40" width="17.1" height="7.10" fill="#7676ff"/>
<rect x="1905.0" y="915.90" width="17.1" height="7.10" fill="#6d6dff"/>
<rect x="1905.0" y="909.40" width="17.1" height="7.10" fill="#6363ff"/>
<rect x="1905.0" y="902.90" width="17.1" height="7.10" fill="#5a5aff"/>
<rect x="1905.0" y="896.40" width="17.1" height="7.10" fill="#5050ff"/>
<rect x="1905.0" y="889.90" width="17.1" height="7.10" fill="#4747ff"/>
<rect x="1905.0" y="883.40" width="17.1" height="7.10" fill="#3d3dff"/>
<rect x="1905.0" y="876.90" width="17.1" height="7.10" fill="#3434ff"/>
<rect x="1905.0" y="870.40" width="17.1" height="7.10" fill="#2b2bff"/>
<rect x="1905.0" y="863.90" width="17.1" height="7.10" fill="#2121ff"/>
<rect x="1905.0" y="857.40" width="17.1" height="7.10" fill="#1818ff"/>
<rect x="1905.0" y="850.90" width="17.1" height="7.10" fill="#0e0eff"/>
<rect x="1905.0" y="844.40" width="17.1" height="7.10" fill="#0505ff"/>
<rect x="1905.0" y="837.90" width="17.1" height="7.10" fill="#0000fc"/>
<rect x="1905.0" y="831.40" width="17.1" height="7.10" fill="#0000f5"/>
<rect x="1905.0" y="824.90" width="17.1" height="7.10" fill="#0000ef"/>
<rect x="1905.0" y="818.40" width="17.1" height="7.10" fill="#0000e8"/>
<rect x="1905.0" y="811.90" width="17.1" height="7.10" fill="#0000e2"/>
<rect x="1905.0" y="805.40" width="17.1" height="7.10" fill="#0000db"/>
<rect x="1905.0" y="798.90" width="17.1" height="7.10" fill="#0000d5"/>
<rect x="1905.0" y="792.40" width="17.1" height="7.10" fill="#0000ce"/>
<rect x="1905.0" y="785.90" width="17.1" height="7.10" fill="#0000c8"/>
<rect x="1905.0" y="779.40" width="17.1" height="7.10" fill="#0000c1"/>
<rect x="1905.0" y="772.90" width="17.1" height="7.10" fill="#0000bb"/>
<rect x="1905.0" y="766.40" width="17.1" height="7.10" fill="#0000b4"/>
<rect x="1905.0" y="759.90" width="17.1" height="7.10" fill="#0000ae"/>
<rect x="1905.0" y="753.40" width="17.1" height="7.10" fill="#0000a7"/>
<rect x="1905.0" y="746.90" width="17.1" height="7.10" fill="#0000a1"/>
<rect x="1905.0" y="740.40" width="17.1" height="7.10" fill="#00009a"/>
<rect x="1905.0" y="733.90" width="17.1" height="7.10" fill="#000094"/>
<rect x="1905.0" y="727.40" width="17.1" height="7.10" fill="#00008d"/>
<rect x="1905.0" y="720.90" width="17.1" height="7.10" fill="#000086"/>
<rect x="1905.0" y="714.40" width="17.1" height="7.10" fill="#000080"/>
<rect x="1905.0" y="707.90" width="17.1" height="7.10" fill="#000079"/>
<rect x="1905.0" y="701.40" width="17.1" height="7.10" fill="#000073"/>
<rect x="1905.0" y="694.90" width="17.1" height="7.10" fill="#00006c"/>
<rect x="1905.0" y="688.40" width="17.1" height="7.10" fill="#000066"/>
<rect x="1905.0" y="681.90" width="17.1" height="7.10" fill="#00005f"/>
<rect x="1905.0" y="675.40" width="17.1" height="7.10" fill="#000059"/>
<rect x="1905.0" y="668.90" width="17.1" height="7.10" fill="#000052"/>
<rect x="1905.0" y="662.40" width="17.1" height="7.10" fill="#00004c"/>
<rect x="1905.0" y="655.90" width="17.1" height="7.10" fill="#000045"/>
<rect x="1905.0" y="649.40" width="17.1" height="7.10" fill="#00003f"/>
<rect x="1905.0" y="642.90" width="17.1" height="7.10" fill="#000038"/>
<rect x="1905.0" y="636.40" width="17.1" height="7.10" fill="#000032"/>
<rect x="1905.0" y="629.90" width="17.1" height="7.10" fill="#00002b"/>
<rect x="1903.4" y="628.3" width="20.3" height="393.2" fill="none" stroke="#000" stroke-width="3.2"/>
<path d="M1923.7 1019.9h6.5M1923.7 953.5h6.5M1923.7 887.0h6.5M1923.7 820.6h6.5M1923.7 754.1h6.5M1923.7 687.7h6.5" stroke="#000" stroke-width="2.8"/>
<g font-family='"Liberation Sans", Arial, Helvetica, sans-serif' font-size="21.0"><text x="1952.0" y="1027.4" text-anchor="middle">0</text><text x="1952.0" y="961.0" text-anchor="middle">10</text><text x="1952.0" y="894.5" text-anchor="middle">20</text><text x="1952.0" y="828.1" text-anchor="middle">30</text><text x="1952.0" y="761.6" text-anchor="middle">40</text><text x="1952.0" y="695.2" text-anchor="middle">50</text></g>
<text transform="translate(1971.5 299.5) rotate(90)" text-anchor="middle" font-family='"Liberation Sans", Arial, Helvetica, sans-serif' font-size="32">Intensity (arb. units)</text>
<text transform="translate(1971.5 887.8) rotate(90)" text-anchor="middle" font-family='"Liberation Sans", Arial, Helvetica, sans-serif' font-size="32">Intensity (arb. units)</text>
<text x="6.6" y="66.5" font-family='"Liberation Sans", Arial, Helvetica, sans-serif' font-size="40" font-weight="bold">a</text>
<text x="641.9" y="66.8" font-family='"Liberation Sans", Arial, Helvetica, sans-serif' font-size="40" font-weight="bold">b</text>
<text x="1289.5" y="66.8" font-family='"Liberation Sans", Arial, Helvetica, sans-serif' font-size="40" font-weight="bold">c</text>
<text x="-1.5" y="665.5" font-family='"Liberation Sans", Arial, Helvetica, sans-serif' font-size="40" font-weight="bold">d</text>
<text x="638.0" y="666.3" font-family='"Liberation Sans", Arial, Helvetica, sans-serif' font-size="40" font-weight="bold">e</text>
<text x="1286.2" y="665.6" font-family='"Liberation Sans", Arial, Helvetica, sans-serif' font-size="40" font-weight="bold">f</text>
<text x="521.4" y="85.7" text-anchor="middle" font-family='"Liberation Sans", Arial, Helvetica, sans-serif' font-size="38.5">Data</text>
<text x="1132.1" y="88.8" text-anchor="middle" font-family='"Liberation Sans", Arial, Helvetica, sans-serif' font-size="38.5">GLSWT</text>
<text x="1688.9" y="90.6" text-anchor="middle" font-family='"Liberation Sans", Arial, Helvetica, sans-serif' font-size="38.5">GLSWT + one-loop</text>
<text x="523.6" y="682.5" text-anchor="middle" font-family='"Liberation Sans", Arial, Helvetica, sans-serif' font-size="38.5">Data</text>
<text x="1130.4" y="680.5" text-anchor="middle" font-family='"Liberation Sans", Arial, Helvetica, sans-serif' font-size="38.5">GLSWT</text>
<text x="1699.5" y="678.8" text-anchor="middle" font-family='"Liberation Sans", Arial, Helvetica, sans-serif' font-size="38.5">GLSWT + one-loop</text>
<text x="120.5" y="119.6" font-family='"Liberation Sans", Arial, Helvetica, sans-serif' font-size="47.5" font-weight="bold" font-style="italic" fill="#f39800">L</text>
<text x="246.5" y="113.1" font-family='"Liberation Sans", Arial, Helvetica, sans-serif' font-size="49.0" font-weight="bold" font-style="italic" fill="#009a0e">T</text>
<text x="273.2" y="119.1" font-family='"Liberation Sans", Arial, Helvetica, sans-serif' font-size="36.0" font-weight="bold" fill="#009a0e">2</text>
<text x="294.1" y="380.1" font-family='"Liberation Sans", Arial, Helvetica, sans-serif' font-size="49.0" font-weight="bold" font-style="italic" fill="#0a74e2">T</text>
<text x="321.1" y="386.6" font-family='"Liberation Sans", Arial, Helvetica, sans-serif' font-size="36.0" font-weight="bold" fill="#0a74e2">1</text>
<text x="124.8" y="716.2" font-family='"Liberation Sans", Arial, Helvetica, sans-serif' font-size="47.5" font-weight="bold" font-style="italic" fill="#f39800">L</text>
<text x="109.5" y="820.1" font-family='"Liberation Sans", Arial, Helvetica, sans-serif' font-size="49.0" font-weight="bold" font-style="italic" fill="#0a74e2">T</text>
<text x="136.6" y="826.5" font-family='"Liberation Sans", Arial, Helvetica, sans-serif' font-size="36.0" font-weight="bold" fill="#0a74e2">1</text>
<text x="318.7" y="971.1" font-family='"Liberation Sans", Arial, Helvetica, sans-serif' font-size="49.0" font-weight="bold" font-style="italic" fill="#009a0e">T</text>
<text x="344.7" y="977.4" font-family='"Liberation Sans", Arial, Helvetica, sans-serif' font-size="36.0" font-weight="bold" fill="#009a0e">2</text>
<path fill="#0000ff" d="M65.0 136.8H79.4V138.1H75.6V158.9H79.4V160.2H65.0V158.9H69.0V138.1H65.0z"/>
<path fill="#0000ff" d="M69.0 734.0H83.0V735.3H79.0V753.9H83.0V755.2H69.0V753.9H73.0V735.3H69.0z"/>
</svg>
</body></html>
